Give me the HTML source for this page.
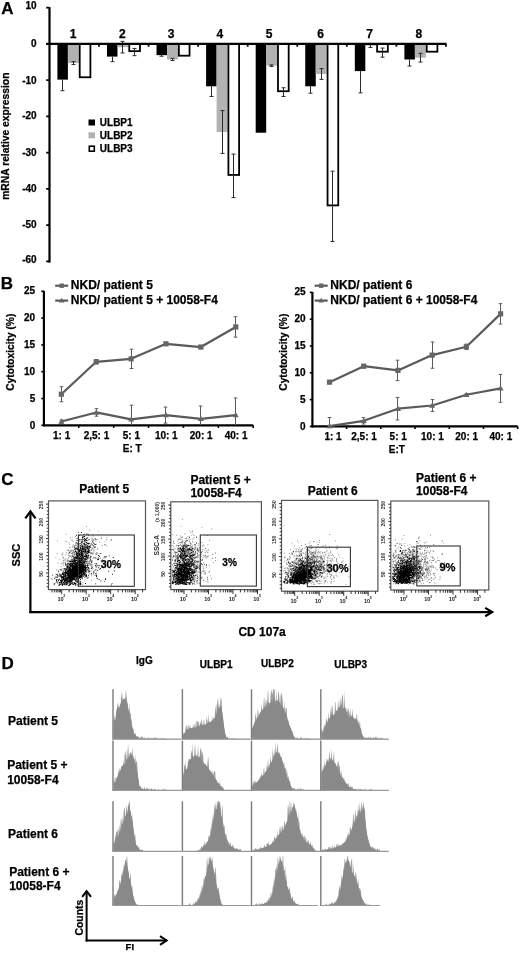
<!DOCTYPE html>
<html><head><meta charset="utf-8"><style>
html,body{margin:0;padding:0;background:#fff;}
svg{display:block;will-change:transform;}
text{font-family:"Liberation Sans",sans-serif;font-weight:bold;stroke:#000;stroke-width:0.25px;}
text[fill]{stroke:none;}
</style></head><body>
<svg width="520" height="953" viewBox="0 0 520 953">
<rect x="0" y="0" width="520" height="953" fill="#fff"/>
<text x="1.3" y="13.5" font-size="17">A</text>
<rect x="57.4" y="43.9" width="10.5" height="35.74" fill="#000"/>
<rect x="67.9" y="43.9" width="10.9" height="19.21" fill="#b2b2b2"/>
<rect x="79.7" y="43.9" width="10.7" height="33.36" fill="#fff" stroke="#000" stroke-width="1.8"/>
<rect x="106.97" y="43.9" width="10.5" height="12.69" fill="#000"/>
<rect x="117.47" y="43.9" width="10.9" height="3.26" fill="#b2b2b2"/>
<rect x="129.27" y="43.9" width="10.7" height="7.26" fill="#fff" stroke="#000" stroke-width="1.8"/>
<rect x="156.54" y="43.9" width="10.5" height="11.24" fill="#000"/>
<rect x="167.04" y="43.9" width="10.9" height="15.59" fill="#b2b2b2"/>
<rect x="178.84" y="43.9" width="10.7" height="11.79" fill="#fff" stroke="#000" stroke-width="1.8"/>
<rect x="206.11" y="43.9" width="10.5" height="42.41" fill="#000"/>
<rect x="216.61" y="43.9" width="10.9" height="88.09" fill="#b2b2b2"/>
<rect x="228.41" y="43.9" width="10.7" height="131.05" fill="#fff" stroke="#000" stroke-width="1.8"/>
<rect x="255.68" y="43.9" width="10.5" height="88.81" fill="#000"/>
<rect x="266.18" y="43.9" width="10.9" height="21.75" fill="#b2b2b2"/>
<rect x="277.98" y="43.9" width="10.7" height="47.31" fill="#fff" stroke="#000" stroke-width="1.8"/>
<rect x="305.25" y="43.9" width="10.5" height="42.41" fill="#000"/>
<rect x="315.75" y="43.9" width="10.9" height="30.09" fill="#b2b2b2"/>
<rect x="327.55" y="43.9" width="10.7" height="161.5" fill="#fff" stroke="#000" stroke-width="1.8"/>
<rect x="354.82" y="43.9" width="10.5" height="27.19" fill="#000"/>
<rect x="365.32" y="43.9" width="10.9" height="1.81" fill="#b2b2b2"/>
<rect x="377.12" y="43.9" width="10.7" height="7.8" fill="#fff" stroke="#000" stroke-width="1.8"/>
<rect x="404.39" y="43.9" width="10.5" height="15.59" fill="#000"/>
<rect x="414.89" y="43.9" width="10.9" height="13.77" fill="#b2b2b2"/>
<rect x="426.69" y="43.9" width="10.7" height="7.8" fill="#fff" stroke="#000" stroke-width="1.8"/>
<line x1="62.5" y1="79.64" x2="62.5" y2="90.7" stroke="#2a2a2a" stroke-width="1"/>
<line x1="60.5" y1="90.7" x2="64.5" y2="90.7" stroke="#2a2a2a" stroke-width="1"/>
<line x1="73.5" y1="61.66" x2="73.5" y2="64.56" stroke="#2a2a2a" stroke-width="1"/>
<line x1="71.5" y1="64.56" x2="75.5" y2="64.56" stroke="#2a2a2a" stroke-width="1"/>
<line x1="71.5" y1="61.66" x2="75.5" y2="61.66" stroke="#2a2a2a" stroke-width="1"/>
<line x1="112.5" y1="56.59" x2="112.5" y2="61.66" stroke="#2a2a2a" stroke-width="1"/>
<line x1="110.5" y1="61.66" x2="114.5" y2="61.66" stroke="#2a2a2a" stroke-width="1"/>
<line x1="122.5" y1="41.36" x2="122.5" y2="52.96" stroke="#2a2a2a" stroke-width="1"/>
<line x1="120.5" y1="52.96" x2="124.5" y2="52.96" stroke="#2a2a2a" stroke-width="1"/>
<line x1="120.5" y1="41.36" x2="124.5" y2="41.36" stroke="#2a2a2a" stroke-width="1"/>
<line x1="134.5" y1="48.43" x2="134.5" y2="55.68" stroke="#2a2a2a" stroke-width="1"/>
<line x1="132.5" y1="55.68" x2="136.5" y2="55.68" stroke="#2a2a2a" stroke-width="1"/>
<line x1="132.5" y1="48.43" x2="136.5" y2="48.43" stroke="#2a2a2a" stroke-width="1"/>
<line x1="161.5" y1="55.14" x2="161.5" y2="56.23" stroke="#2a2a2a" stroke-width="1"/>
<line x1="159.5" y1="56.23" x2="163.5" y2="56.23" stroke="#2a2a2a" stroke-width="1"/>
<line x1="172.5" y1="58.4" x2="172.5" y2="60.57" stroke="#2a2a2a" stroke-width="1"/>
<line x1="170.5" y1="60.57" x2="174.5" y2="60.57" stroke="#2a2a2a" stroke-width="1"/>
<line x1="170.5" y1="58.4" x2="174.5" y2="58.4" stroke="#2a2a2a" stroke-width="1"/>
<line x1="211.5" y1="86.31" x2="211.5" y2="96.46" stroke="#2a2a2a" stroke-width="1"/>
<line x1="209.5" y1="96.46" x2="213.5" y2="96.46" stroke="#2a2a2a" stroke-width="1"/>
<line x1="222.5" y1="110.6" x2="222.5" y2="153.38" stroke="#2a2a2a" stroke-width="1"/>
<line x1="220.5" y1="153.38" x2="224.5" y2="153.38" stroke="#2a2a2a" stroke-width="1"/>
<line x1="220.5" y1="110.6" x2="224.5" y2="110.6" stroke="#2a2a2a" stroke-width="1"/>
<line x1="233.5" y1="154.1" x2="233.5" y2="197.6" stroke="#2a2a2a" stroke-width="1"/>
<line x1="231.5" y1="197.6" x2="235.5" y2="197.6" stroke="#2a2a2a" stroke-width="1"/>
<line x1="231.5" y1="154.1" x2="235.5" y2="154.1" stroke="#2a2a2a" stroke-width="1"/>
<line x1="271.5" y1="64.93" x2="271.5" y2="66.38" stroke="#2a2a2a" stroke-width="1"/>
<line x1="269.5" y1="66.38" x2="273.5" y2="66.38" stroke="#2a2a2a" stroke-width="1"/>
<line x1="269.5" y1="64.93" x2="273.5" y2="64.93" stroke="#2a2a2a" stroke-width="1"/>
<line x1="283.5" y1="87.76" x2="283.5" y2="96.46" stroke="#2a2a2a" stroke-width="1"/>
<line x1="281.5" y1="96.46" x2="285.5" y2="96.46" stroke="#2a2a2a" stroke-width="1"/>
<line x1="281.5" y1="87.76" x2="285.5" y2="87.76" stroke="#2a2a2a" stroke-width="1"/>
<line x1="310.5" y1="86.31" x2="310.5" y2="93.2" stroke="#2a2a2a" stroke-width="1"/>
<line x1="308.5" y1="93.2" x2="312.5" y2="93.2" stroke="#2a2a2a" stroke-width="1"/>
<line x1="321.5" y1="68.55" x2="321.5" y2="79.42" stroke="#2a2a2a" stroke-width="1"/>
<line x1="319.5" y1="79.42" x2="323.5" y2="79.42" stroke="#2a2a2a" stroke-width="1"/>
<line x1="319.5" y1="68.55" x2="323.5" y2="68.55" stroke="#2a2a2a" stroke-width="1"/>
<line x1="332.5" y1="171.14" x2="332.5" y2="241.46" stroke="#2a2a2a" stroke-width="1"/>
<line x1="330.5" y1="241.46" x2="334.5" y2="241.46" stroke="#2a2a2a" stroke-width="1"/>
<line x1="330.5" y1="171.14" x2="334.5" y2="171.14" stroke="#2a2a2a" stroke-width="1"/>
<line x1="360.5" y1="71.09" x2="360.5" y2="92.84" stroke="#2a2a2a" stroke-width="1"/>
<line x1="358.5" y1="92.84" x2="362.5" y2="92.84" stroke="#2a2a2a" stroke-width="1"/>
<line x1="370.5" y1="43.9" x2="370.5" y2="47.52" stroke="#2a2a2a" stroke-width="1"/>
<line x1="368.5" y1="47.52" x2="372.5" y2="47.52" stroke="#2a2a2a" stroke-width="1"/>
<line x1="368.5" y1="43.9" x2="372.5" y2="43.9" stroke="#2a2a2a" stroke-width="1"/>
<line x1="382.5" y1="48.07" x2="382.5" y2="57.13" stroke="#2a2a2a" stroke-width="1"/>
<line x1="380.5" y1="57.13" x2="384.5" y2="57.13" stroke="#2a2a2a" stroke-width="1"/>
<line x1="380.5" y1="48.07" x2="384.5" y2="48.07" stroke="#2a2a2a" stroke-width="1"/>
<line x1="409.5" y1="59.49" x2="409.5" y2="66.01" stroke="#2a2a2a" stroke-width="1"/>
<line x1="407.5" y1="66.01" x2="411.5" y2="66.01" stroke="#2a2a2a" stroke-width="1"/>
<line x1="420.5" y1="53.32" x2="420.5" y2="62.02" stroke="#2a2a2a" stroke-width="1"/>
<line x1="418.5" y1="62.02" x2="422.5" y2="62.02" stroke="#2a2a2a" stroke-width="1"/>
<line x1="418.5" y1="53.32" x2="422.5" y2="53.32" stroke="#2a2a2a" stroke-width="1"/>
<line x1="49.5" y1="7.2" x2="49.5" y2="262.6" stroke="#000" stroke-width="2.2"/>
<line x1="46.2" y1="7.65" x2="49.5" y2="7.65" stroke="#000" stroke-width="1.8"/>
<text x="36.6" y="9.2" font-size="10" text-anchor="end">10</text>
<line x1="46.2" y1="43.9" x2="49.5" y2="43.9" stroke="#000" stroke-width="1.8"/>
<text x="36.6" y="46.5" font-size="10" text-anchor="end">0</text>
<line x1="46.2" y1="80.15" x2="49.5" y2="80.15" stroke="#000" stroke-width="1.8"/>
<text x="36.6" y="83.6" font-size="10" text-anchor="end">-10</text>
<line x1="46.2" y1="116.4" x2="49.5" y2="116.4" stroke="#000" stroke-width="1.8"/>
<text x="36.6" y="119.2" font-size="10" text-anchor="end">-20</text>
<line x1="46.2" y1="152.65" x2="49.5" y2="152.65" stroke="#000" stroke-width="1.8"/>
<text x="36.6" y="155.8" font-size="10" text-anchor="end">-30</text>
<line x1="46.2" y1="188.9" x2="49.5" y2="188.9" stroke="#000" stroke-width="1.8"/>
<text x="36.6" y="192.3" font-size="10" text-anchor="end">-40</text>
<line x1="46.2" y1="225.15" x2="49.5" y2="225.15" stroke="#000" stroke-width="1.8"/>
<text x="36.6" y="228.3" font-size="10" text-anchor="end">-50</text>
<line x1="46.2" y1="261.4" x2="49.5" y2="261.4" stroke="#000" stroke-width="1.8"/>
<text x="36.6" y="263.4" font-size="10" text-anchor="end">-60</text>
<line x1="46.2" y1="43.9" x2="446.5" y2="43.9" stroke="#000" stroke-width="2.3"/>
<line x1="98.97" y1="43.9" x2="98.97" y2="46.7" stroke="#000" stroke-width="1.8"/>
<line x1="148.54" y1="43.9" x2="148.54" y2="46.7" stroke="#000" stroke-width="1.8"/>
<line x1="198.11" y1="43.9" x2="198.11" y2="46.7" stroke="#000" stroke-width="1.8"/>
<line x1="247.68" y1="43.9" x2="247.68" y2="46.7" stroke="#000" stroke-width="1.8"/>
<line x1="297.25" y1="43.9" x2="297.25" y2="46.7" stroke="#000" stroke-width="1.8"/>
<line x1="346.82" y1="43.9" x2="346.82" y2="46.7" stroke="#000" stroke-width="1.8"/>
<line x1="396.39" y1="43.9" x2="396.39" y2="46.7" stroke="#000" stroke-width="1.8"/>
<line x1="445.96" y1="43.9" x2="445.96" y2="46.7" stroke="#000" stroke-width="1.8"/>
<text x="73.2" y="38" font-size="12" text-anchor="middle">1</text>
<text x="122.3" y="38" font-size="12" text-anchor="middle">2</text>
<text x="171" y="38" font-size="12" text-anchor="middle">3</text>
<text x="219.8" y="38" font-size="12" text-anchor="middle">4</text>
<text x="269" y="38" font-size="12" text-anchor="middle">5</text>
<text x="320.6" y="38" font-size="12" text-anchor="middle">6</text>
<text x="369.6" y="38" font-size="12" text-anchor="middle">7</text>
<text x="418.9" y="38" font-size="12" text-anchor="middle">8</text>
<text x="9.3" y="136.2" font-size="10.3" text-anchor="middle" transform="rotate(-90 9.3 136.2)">mRNA relative expression</text>
<rect x="88.5" y="119.5" width="6.5" height="6" fill="#000"/>
<rect x="88.5" y="132.3" width="6.5" height="6" fill="#b2b2b2"/>
<rect x="89.3" y="146.2" width="5" height="5" fill="#fff" stroke="#000" stroke-width="1.6"/>
<text x="99.8" y="125.8" font-size="10">ULBP1</text>
<text x="99.8" y="138.8" font-size="10">ULBP2</text>
<text x="99.8" y="151.8" font-size="10">ULBP3</text>
<text x="0.8" y="289.4" font-size="17">B</text>
<line x1="43.9" y1="290.8" x2="43.9" y2="426.3" stroke="#000" stroke-width="2.2"/>
<line x1="41.3" y1="425.3" x2="43.9" y2="425.3" stroke="#000" stroke-width="1.6"/>
<text x="35.2" y="429.05" font-size="10" text-anchor="end">0</text>
<line x1="41.3" y1="398.5" x2="43.9" y2="398.5" stroke="#000" stroke-width="1.6"/>
<text x="35.2" y="402.06" font-size="10" text-anchor="end">5</text>
<line x1="41.3" y1="371.7" x2="43.9" y2="371.7" stroke="#000" stroke-width="1.6"/>
<text x="35.2" y="375.08" font-size="10" text-anchor="end">10</text>
<line x1="41.3" y1="344.9" x2="43.9" y2="344.9" stroke="#000" stroke-width="1.6"/>
<text x="35.2" y="348.1" font-size="10" text-anchor="end">15</text>
<line x1="41.3" y1="318.1" x2="43.9" y2="318.1" stroke="#000" stroke-width="1.6"/>
<text x="35.2" y="321.11" font-size="10" text-anchor="end">20</text>
<line x1="41.3" y1="291.3" x2="43.9" y2="291.3" stroke="#000" stroke-width="1.6"/>
<text x="35.2" y="294.12" font-size="10" text-anchor="end">25</text>
<line x1="42.9" y1="425.3" x2="253.2" y2="425.3" stroke="#000" stroke-width="2.2"/>
<line x1="78.78" y1="425.3" x2="78.78" y2="427.9" stroke="#000" stroke-width="1.6"/>
<line x1="113.67" y1="425.3" x2="113.67" y2="427.9" stroke="#000" stroke-width="1.6"/>
<line x1="148.55" y1="425.3" x2="148.55" y2="427.9" stroke="#000" stroke-width="1.6"/>
<line x1="183.43" y1="425.3" x2="183.43" y2="427.9" stroke="#000" stroke-width="1.6"/>
<line x1="218.32" y1="425.3" x2="218.32" y2="427.9" stroke="#000" stroke-width="1.6"/>
<line x1="253.2" y1="425.3" x2="253.2" y2="427.9" stroke="#000" stroke-width="1.6"/>
<text x="61.64" y="438.9" font-size="10" text-anchor="middle">1: 1</text>
<text x="96.52" y="438.9" font-size="10" text-anchor="middle">2,5: 1</text>
<text x="131.41" y="438.9" font-size="10" text-anchor="middle">5: 1</text>
<text x="166.29" y="438.9" font-size="10" text-anchor="middle">10: 1</text>
<text x="201.18" y="438.9" font-size="10" text-anchor="middle">20: 1</text>
<text x="236.06" y="438.9" font-size="10" text-anchor="middle">40: 1</text>
<text x="132.3" y="452.2" font-size="10" text-anchor="middle">E: T</text>
<line x1="61.5" y1="386.71" x2="61.5" y2="401.72" stroke="#5a5a5a" stroke-width="1"/>
<line x1="59.7" y1="386.71" x2="63.3" y2="386.71" stroke="#5a5a5a" stroke-width="1"/>
<line x1="59.7" y1="401.72" x2="63.3" y2="401.72" stroke="#5a5a5a" stroke-width="1"/>
<line x1="96.5" y1="359.64" x2="96.5" y2="363.93" stroke="#5a5a5a" stroke-width="1"/>
<line x1="94.7" y1="359.64" x2="98.3" y2="359.64" stroke="#5a5a5a" stroke-width="1"/>
<line x1="94.7" y1="363.93" x2="98.3" y2="363.93" stroke="#5a5a5a" stroke-width="1"/>
<line x1="131.5" y1="349.19" x2="131.5" y2="368.48" stroke="#5a5a5a" stroke-width="1"/>
<line x1="129.7" y1="349.19" x2="133.3" y2="349.19" stroke="#5a5a5a" stroke-width="1"/>
<line x1="129.7" y1="368.48" x2="133.3" y2="368.48" stroke="#5a5a5a" stroke-width="1"/>
<line x1="165.5" y1="342.22" x2="165.5" y2="345.44" stroke="#5a5a5a" stroke-width="1"/>
<line x1="163.7" y1="342.22" x2="167.3" y2="342.22" stroke="#5a5a5a" stroke-width="1"/>
<line x1="163.7" y1="345.44" x2="167.3" y2="345.44" stroke="#5a5a5a" stroke-width="1"/>
<line x1="200.5" y1="345.44" x2="200.5" y2="348.65" stroke="#5a5a5a" stroke-width="1"/>
<line x1="198.7" y1="345.44" x2="202.3" y2="345.44" stroke="#5a5a5a" stroke-width="1"/>
<line x1="198.7" y1="348.65" x2="202.3" y2="348.65" stroke="#5a5a5a" stroke-width="1"/>
<line x1="235.5" y1="316.76" x2="235.5" y2="337.13" stroke="#5a5a5a" stroke-width="1"/>
<line x1="233.7" y1="316.76" x2="237.3" y2="316.76" stroke="#5a5a5a" stroke-width="1"/>
<line x1="233.7" y1="337.13" x2="237.3" y2="337.13" stroke="#5a5a5a" stroke-width="1"/>
<line x1="61.5" y1="419.94" x2="61.5" y2="423.16" stroke="#5a5a5a" stroke-width="1"/>
<line x1="59.7" y1="419.94" x2="63.3" y2="419.94" stroke="#5a5a5a" stroke-width="1"/>
<line x1="59.7" y1="423.16" x2="63.3" y2="423.16" stroke="#5a5a5a" stroke-width="1"/>
<line x1="96.5" y1="408.68" x2="96.5" y2="416.19" stroke="#5a5a5a" stroke-width="1"/>
<line x1="94.7" y1="408.68" x2="98.3" y2="408.68" stroke="#5a5a5a" stroke-width="1"/>
<line x1="94.7" y1="416.19" x2="98.3" y2="416.19" stroke="#5a5a5a" stroke-width="1"/>
<line x1="131.5" y1="405.2" x2="131.5" y2="425.3" stroke="#5a5a5a" stroke-width="1"/>
<line x1="129.7" y1="405.2" x2="133.3" y2="405.2" stroke="#5a5a5a" stroke-width="1"/>
<line x1="165.5" y1="407.08" x2="165.5" y2="423.16" stroke="#5a5a5a" stroke-width="1"/>
<line x1="163.7" y1="407.08" x2="167.3" y2="407.08" stroke="#5a5a5a" stroke-width="1"/>
<line x1="163.7" y1="423.16" x2="167.3" y2="423.16" stroke="#5a5a5a" stroke-width="1"/>
<line x1="200.5" y1="406" x2="200.5" y2="425.3" stroke="#5a5a5a" stroke-width="1"/>
<line x1="198.7" y1="406" x2="202.3" y2="406" stroke="#5a5a5a" stroke-width="1"/>
<line x1="235.5" y1="397.96" x2="235.5" y2="425.3" stroke="#5a5a5a" stroke-width="1"/>
<line x1="233.7" y1="397.96" x2="237.3" y2="397.96" stroke="#5a5a5a" stroke-width="1"/>
<polyline points="61.34,394.21 96.22,361.78 131.11,358.84 165.99,343.83 200.88,347.04 235.76,326.94" fill="none" stroke="#5a5a5a" stroke-width="2.2" stroke-linejoin="round"/>
<polyline points="61.34,421.55 96.22,412.44 131.11,419.4 165.99,415.12 200.88,418.87 235.76,415.12" fill="none" stroke="#5a5a5a" stroke-width="2.2" stroke-linejoin="round"/>
<rect x="58.74" y="391.61" width="5.2" height="5.2" fill="#666"/>
<rect x="93.62" y="359.18" width="5.2" height="5.2" fill="#666"/>
<rect x="128.51" y="356.24" width="5.2" height="5.2" fill="#666"/>
<rect x="163.39" y="341.23" width="5.2" height="5.2" fill="#666"/>
<rect x="198.28" y="344.44" width="5.2" height="5.2" fill="#666"/>
<rect x="233.16" y="324.34" width="5.2" height="5.2" fill="#666"/>
<path d="M61.34 418.55L64.34 423.75L58.34 423.75Z" fill="#666"/>
<path d="M96.22 409.44L99.22 414.64L93.22 414.64Z" fill="#666"/>
<path d="M131.11 416.4L134.11 421.6L128.11 421.6Z" fill="#666"/>
<path d="M165.99 412.12L168.99 417.32L162.99 417.32Z" fill="#666"/>
<path d="M200.88 415.87L203.88 421.07L197.88 421.07Z" fill="#666"/>
<path d="M235.76 412.12L238.76 417.32L232.76 417.32Z" fill="#666"/>
<line x1="55.2" y1="285.7" x2="68.2" y2="285.7" stroke="#5a5a5a" stroke-width="2.2"/>
<rect x="59.5" y="283.5" width="4.4" height="4.4" fill="#666"/>
<text x="70.8" y="289.2" font-size="12">NKD/ patient 5</text>
<line x1="55.2" y1="300.6" x2="68.2" y2="300.6" stroke="#5a5a5a" stroke-width="2.2"/>
<path d="M61.7 297.8L64.4 302.4L59 302.4Z" fill="#666"/>
<text x="70.8" y="303.9" font-size="12">NKD/ patient 5 + 10058-F4</text>
<text x="14.2" y="352.2" font-size="10.2" text-anchor="middle" transform="rotate(-90 14.2 352.2)">Cytotoxicity (%)</text>
<line x1="312.4" y1="291.9" x2="312.4" y2="427.4" stroke="#000" stroke-width="2.2"/>
<line x1="309.8" y1="426.4" x2="312.4" y2="426.4" stroke="#000" stroke-width="1.6"/>
<text x="305.5" y="430.15" font-size="10" text-anchor="end">0</text>
<line x1="309.8" y1="399.6" x2="312.4" y2="399.6" stroke="#000" stroke-width="1.6"/>
<text x="305.5" y="403.16" font-size="10" text-anchor="end">5</text>
<line x1="309.8" y1="372.8" x2="312.4" y2="372.8" stroke="#000" stroke-width="1.6"/>
<text x="305.5" y="376.18" font-size="10" text-anchor="end">10</text>
<line x1="309.8" y1="346" x2="312.4" y2="346" stroke="#000" stroke-width="1.6"/>
<text x="305.5" y="349.19" font-size="10" text-anchor="end">15</text>
<line x1="309.8" y1="319.2" x2="312.4" y2="319.2" stroke="#000" stroke-width="1.6"/>
<text x="305.5" y="322.21" font-size="10" text-anchor="end">20</text>
<line x1="309.8" y1="292.4" x2="312.4" y2="292.4" stroke="#000" stroke-width="1.6"/>
<text x="305.5" y="295.22" font-size="10" text-anchor="end">25</text>
<line x1="311.4" y1="426.4" x2="517.7" y2="426.4" stroke="#000" stroke-width="2.2"/>
<line x1="346.62" y1="426.4" x2="346.62" y2="429" stroke="#000" stroke-width="1.6"/>
<line x1="380.83" y1="426.4" x2="380.83" y2="429" stroke="#000" stroke-width="1.6"/>
<line x1="415.05" y1="426.4" x2="415.05" y2="429" stroke="#000" stroke-width="1.6"/>
<line x1="449.27" y1="426.4" x2="449.27" y2="429" stroke="#000" stroke-width="1.6"/>
<line x1="483.48" y1="426.4" x2="483.48" y2="429" stroke="#000" stroke-width="1.6"/>
<line x1="517.7" y1="426.4" x2="517.7" y2="429" stroke="#000" stroke-width="1.6"/>
<text x="333.01" y="440" font-size="10" text-anchor="middle">1: 1</text>
<text x="364.03" y="440" font-size="10" text-anchor="middle">2,5: 1</text>
<text x="398.24" y="440" font-size="10" text-anchor="middle">5: 1</text>
<text x="432.46" y="440" font-size="10" text-anchor="middle">10: 1</text>
<text x="466.68" y="440" font-size="10" text-anchor="middle">20: 1</text>
<text x="500.89" y="440" font-size="10" text-anchor="middle">40: 1</text>
<text x="396.8" y="453.3" font-size="10" text-anchor="middle">E:T</text>
<line x1="329.5" y1="380.52" x2="329.5" y2="383.73" stroke="#5a5a5a" stroke-width="1"/>
<line x1="327.7" y1="380.52" x2="331.3" y2="380.52" stroke="#5a5a5a" stroke-width="1"/>
<line x1="327.7" y1="383.73" x2="331.3" y2="383.73" stroke="#5a5a5a" stroke-width="1"/>
<line x1="363.5" y1="364.6" x2="363.5" y2="367.82" stroke="#5a5a5a" stroke-width="1"/>
<line x1="361.7" y1="364.6" x2="365.3" y2="364.6" stroke="#5a5a5a" stroke-width="1"/>
<line x1="361.7" y1="367.82" x2="365.3" y2="367.82" stroke="#5a5a5a" stroke-width="1"/>
<line x1="397.5" y1="360.2" x2="397.5" y2="380.57" stroke="#5a5a5a" stroke-width="1"/>
<line x1="395.7" y1="360.2" x2="399.3" y2="360.2" stroke="#5a5a5a" stroke-width="1"/>
<line x1="395.7" y1="380.57" x2="399.3" y2="380.57" stroke="#5a5a5a" stroke-width="1"/>
<line x1="432.5" y1="341.98" x2="432.5" y2="368.24" stroke="#5a5a5a" stroke-width="1"/>
<line x1="430.7" y1="341.98" x2="434.3" y2="341.98" stroke="#5a5a5a" stroke-width="1"/>
<line x1="430.7" y1="368.24" x2="434.3" y2="368.24" stroke="#5a5a5a" stroke-width="1"/>
<line x1="466.5" y1="344.12" x2="466.5" y2="349.48" stroke="#5a5a5a" stroke-width="1"/>
<line x1="464.7" y1="344.12" x2="468.3" y2="344.12" stroke="#5a5a5a" stroke-width="1"/>
<line x1="464.7" y1="349.48" x2="468.3" y2="349.48" stroke="#5a5a5a" stroke-width="1"/>
<line x1="500.5" y1="303.66" x2="500.5" y2="324.02" stroke="#5a5a5a" stroke-width="1"/>
<line x1="498.7" y1="303.66" x2="502.3" y2="303.66" stroke="#5a5a5a" stroke-width="1"/>
<line x1="498.7" y1="324.02" x2="502.3" y2="324.02" stroke="#5a5a5a" stroke-width="1"/>
<line x1="329.5" y1="417.5" x2="329.5" y2="426.4" stroke="#5a5a5a" stroke-width="1"/>
<line x1="327.7" y1="417.5" x2="331.3" y2="417.5" stroke="#5a5a5a" stroke-width="1"/>
<line x1="363.5" y1="417.61" x2="363.5" y2="424.04" stroke="#5a5a5a" stroke-width="1"/>
<line x1="361.7" y1="417.61" x2="365.3" y2="417.61" stroke="#5a5a5a" stroke-width="1"/>
<line x1="361.7" y1="424.04" x2="365.3" y2="424.04" stroke="#5a5a5a" stroke-width="1"/>
<line x1="397.5" y1="397.46" x2="397.5" y2="419.97" stroke="#5a5a5a" stroke-width="1"/>
<line x1="395.7" y1="397.46" x2="399.3" y2="397.46" stroke="#5a5a5a" stroke-width="1"/>
<line x1="395.7" y1="419.97" x2="399.3" y2="419.97" stroke="#5a5a5a" stroke-width="1"/>
<line x1="432.5" y1="399.6" x2="432.5" y2="411.39" stroke="#5a5a5a" stroke-width="1"/>
<line x1="430.7" y1="399.6" x2="434.3" y2="399.6" stroke="#5a5a5a" stroke-width="1"/>
<line x1="430.7" y1="411.39" x2="434.3" y2="411.39" stroke="#5a5a5a" stroke-width="1"/>
<line x1="466.5" y1="393.7" x2="466.5" y2="395.85" stroke="#5a5a5a" stroke-width="1"/>
<line x1="464.7" y1="393.7" x2="468.3" y2="393.7" stroke="#5a5a5a" stroke-width="1"/>
<line x1="464.7" y1="395.85" x2="468.3" y2="395.85" stroke="#5a5a5a" stroke-width="1"/>
<line x1="500.5" y1="374.41" x2="500.5" y2="402.28" stroke="#5a5a5a" stroke-width="1"/>
<line x1="498.7" y1="374.41" x2="502.3" y2="374.41" stroke="#5a5a5a" stroke-width="1"/>
<line x1="498.7" y1="402.28" x2="502.3" y2="402.28" stroke="#5a5a5a" stroke-width="1"/>
<polyline points="329.51,382.13 363.73,366.21 397.94,370.39 432.16,355.11 466.38,346.8 500.59,313.84" fill="none" stroke="#5a5a5a" stroke-width="2.2" stroke-linejoin="round"/>
<polyline points="329.51,426.08 363.73,420.83 397.94,408.71 432.16,405.5 466.38,394.78 500.59,388.34" fill="none" stroke="#5a5a5a" stroke-width="2.2" stroke-linejoin="round"/>
<rect x="326.91" y="379.53" width="5.2" height="5.2" fill="#666"/>
<rect x="361.12" y="363.61" width="5.2" height="5.2" fill="#666"/>
<rect x="395.34" y="367.79" width="5.2" height="5.2" fill="#666"/>
<rect x="429.56" y="352.51" width="5.2" height="5.2" fill="#666"/>
<rect x="463.77" y="344.2" width="5.2" height="5.2" fill="#666"/>
<rect x="497.99" y="311.24" width="5.2" height="5.2" fill="#666"/>
<path d="M329.51 423.08L332.51 428.28L326.51 428.28Z" fill="#666"/>
<path d="M363.73 417.83L366.73 423.03L360.73 423.03Z" fill="#666"/>
<path d="M397.94 405.71L400.94 410.91L394.94 410.91Z" fill="#666"/>
<path d="M432.16 402.5L435.16 407.7L429.16 407.7Z" fill="#666"/>
<path d="M466.38 391.78L469.38 396.98L463.38 396.98Z" fill="#666"/>
<path d="M500.59 385.34L503.59 390.54L497.59 390.54Z" fill="#666"/>
<line x1="314.7" y1="285.7" x2="327.7" y2="285.7" stroke="#5a5a5a" stroke-width="2.2"/>
<rect x="319" y="283.5" width="4.4" height="4.4" fill="#666"/>
<text x="330.3" y="289.2" font-size="12">NKD/ patient 6</text>
<line x1="314.7" y1="300.6" x2="327.7" y2="300.6" stroke="#5a5a5a" stroke-width="2.2"/>
<path d="M321.2 297.8L323.9 302.4L318.5 302.4Z" fill="#666"/>
<text x="330.3" y="303.9" font-size="12">NKD/ patient 6 + 10058-F4</text>
<text x="287.5" y="352.2" font-size="10.2" text-anchor="middle" transform="rotate(-90 287.5 352.2)">Cytotoxicity (%)</text>
<text x="1.3" y="485.4" font-size="17">C</text>
<text x="104.3" y="492.8" font-size="12" text-anchor="middle">Patient 5</text>
<text x="190.4" y="483.7" font-size="12">Patient 5 +</text>
<text x="190.4" y="497.2" font-size="12">10058-F4</text>
<text x="332.7" y="495" font-size="12" text-anchor="middle">Patient 6</text>
<text x="416.1" y="481.5" font-size="12">Patient 6 +</text>
<text x="416.1" y="495" font-size="12">10058-F4</text>
<line x1="30.4" y1="512" x2="30.4" y2="613.1" stroke="#000" stroke-width="2.2"/>
<path d="M25.3 518.3L30.4 511.4L35.5 518.3" fill="none" stroke="#000" stroke-width="2.2"/>
<line x1="29.3" y1="612.1" x2="492" y2="612.1" stroke="#000" stroke-width="2.2"/>
<path d="M485.2 607.9L492.2 612.1L485.2 616.3" fill="none" stroke="#000" stroke-width="2.2"/>
<text x="20.2" y="555.1" font-size="11" text-anchor="middle" transform="rotate(-90 20.2 555.1)">SSC</text>
<text x="262.1" y="635.8" font-size="12" text-anchor="middle">CD 107a</text>
<path d="M73.87 553.69h.9v.9h-.9zM75.66 555.45h.9v.9h-.9zM81.73 541.4h.9v.9h-.9zM86.92 567.52h.9v.9h-.9zM82.09 577.71h.9v.9h-.9zM82.3 541.77h.9v.9h-.9zM77.47 567.84h.9v.9h-.9zM70.99 552.76h.9v.9h-.9zM80.8 567.2h.9v.9h-.9zM73.26 561.78h.9v.9h-.9zM72.55 558.44h.9v.9h-.9zM76.49 575.2h.9v.9h-.9zM62.86 564.85h.9v.9h-.9zM91.18 560.88h.9v.9h-.9zM78.35 571.79h.9v.9h-.9zM68.19 553.02h.9v.9h-.9zM62.43 552.55h.9v.9h-.9zM79.18 571.61h.9v.9h-.9zM73.34 556.87h.9v.9h-.9zM80.54 568.43h.9v.9h-.9zM79.25 540.85h.9v.9h-.9zM72.22 536.66h.9v.9h-.9zM79.13 552.67h.9v.9h-.9zM71.25 582.07h.9v.9h-.9zM88.59 563.74h.9v.9h-.9zM79.42 563.96h.9v.9h-.9zM71.86 564.49h.9v.9h-.9zM93.76 546.53h.9v.9h-.9zM71.2 567.13h.9v.9h-.9zM84.82 569.16h.9v.9h-.9zM68.53 564.94h.9v.9h-.9zM74.68 550.19h.9v.9h-.9zM77.68 557.37h.9v.9h-.9zM85.06 564.6h.9v.9h-.9zM70.17 566.63h.9v.9h-.9zM73.88 557.18h.9v.9h-.9zM72.74 576.56h.9v.9h-.9zM73.38 545.36h.9v.9h-.9zM70.22 574.7h.9v.9h-.9zM95.84 543.73h.9v.9h-.9zM73.89 560.59h.9v.9h-.9zM64.68 572.4h.9v.9h-.9zM76.56 566.29h.9v.9h-.9zM96.6 552.2h.9v.9h-.9zM83.95 569.51h.9v.9h-.9zM71.44 558.64h.9v.9h-.9zM90.63 565.51h.9v.9h-.9zM78.26 550.33h.9v.9h-.9zM84.73 565.78h.9v.9h-.9zM96.23 571.72h.9v.9h-.9zM84.04 563.17h.9v.9h-.9zM77.54 556.66h.9v.9h-.9zM79.7 564.64h.9v.9h-.9zM82.71 572.81h.9v.9h-.9zM79.73 555.87h.9v.9h-.9zM84.07 577.46h.9v.9h-.9zM69.7 570.6h.9v.9h-.9zM81.8 567.05h.9v.9h-.9zM81.42 560.22h.9v.9h-.9zM76.11 582.13h.9v.9h-.9zM92.16 541.34h.9v.9h-.9zM54.8 576.76h.9v.9h-.9zM71.1 559.61h.9v.9h-.9zM63.06 572.51h.9v.9h-.9zM76.52 557.19h.9v.9h-.9zM89.9 570.9h.9v.9h-.9zM73.4 571.77h.9v.9h-.9zM76.67 576.01h.9v.9h-.9zM82.09 560.58h.9v.9h-.9zM81.84 553.08h.9v.9h-.9zM83.93 576.96h.9v.9h-.9zM73.84 570.45h.9v.9h-.9zM62.44 579.25h.9v.9h-.9zM84.68 548.58h.9v.9h-.9zM92.25 558.17h.9v.9h-.9zM61.87 553.83h.9v.9h-.9zM84.65 556.92h.9v.9h-.9zM86.65 541.9h.9v.9h-.9zM76.14 574.21h.9v.9h-.9zM71.08 572.94h.9v.9h-.9zM73.86 568.09h.9v.9h-.9zM66.17 576h.9v.9h-.9zM88.48 545.91h.9v.9h-.9zM86.18 526.34h.9v.9h-.9zM74.93 544.82h.9v.9h-.9zM79.65 553.87h.9v.9h-.9zM72.09 555.66h.9v.9h-.9zM79.57 556.79h.9v.9h-.9zM69.09 563.64h.9v.9h-.9zM80.56 552.06h.9v.9h-.9zM86.71 540.65h.9v.9h-.9zM80.57 557.25h.9v.9h-.9zM90.76 550.35h.9v.9h-.9zM71.2 550.4h.9v.9h-.9zM94.36 562.92h.9v.9h-.9zM67.52 563.06h.9v.9h-.9zM68.63 583.29h.9v.9h-.9zM80.66 538.89h.9v.9h-.9zM78.84 572.45h.9v.9h-.9zM77.02 568.26h.9v.9h-.9zM76.04 565.71h.9v.9h-.9zM78.86 554.39h.9v.9h-.9zM80.04 563.62h.9v.9h-.9zM76.67 555.53h.9v.9h-.9zM68.13 569.29h.9v.9h-.9zM84.22 533.22h.9v.9h-.9zM72.32 579.93h.9v.9h-.9zM85.01 551.87h.9v.9h-.9zM88.83 547.29h.9v.9h-.9zM73.19 562.12h.9v.9h-.9zM62.57 557.53h.9v.9h-.9zM66.72 565.58h.9v.9h-.9zM60.95 581.25h.9v.9h-.9zM73.89 557.5h.9v.9h-.9zM71.45 573.5h.9v.9h-.9zM90.42 553.1h.9v.9h-.9zM91.12 575.28h.9v.9h-.9zM88.74 561.63h.9v.9h-.9zM63.96 575.72h.9v.9h-.9zM73.42 566.6h.9v.9h-.9zM60.51 566.45h.9v.9h-.9zM79.04 551.75h.9v.9h-.9zM79.57 580.6h.9v.9h-.9zM79.02 554.56h.9v.9h-.9zM97.88 530.67h.9v.9h-.9zM68.95 570.77h.9v.9h-.9zM71.82 539.52h.9v.9h-.9zM79.28 571.35h.9v.9h-.9zM70.04 582.12h.9v.9h-.9zM81.38 574.53h.9v.9h-.9zM63.63 568.32h.9v.9h-.9zM91.02 579.86h.9v.9h-.9zM88.55 558.38h.9v.9h-.9zM78.61 555.36h.9v.9h-.9zM86.63 551.4h.9v.9h-.9zM78.08 539.55h.9v.9h-.9zM77.52 565.2h.9v.9h-.9zM57.74 570.33h.9v.9h-.9zM95.17 539.04h.9v.9h-.9zM56.14 569.54h.9v.9h-.9zM72.34 562.52h.9v.9h-.9zM65.97 552.27h.9v.9h-.9zM66.15 574.49h.9v.9h-.9zM76.58 572.35h.9v.9h-.9zM67.53 573.39h.9v.9h-.9zM73.12 565.55h.9v.9h-.9zM85.2 560.09h.9v.9h-.9zM73.91 545.63h.9v.9h-.9zM77.56 571.54h.9v.9h-.9zM71.44 564.48h.9v.9h-.9zM61.45 554.29h.9v.9h-.9zM80.55 576.09h.9v.9h-.9zM74.27 545.37h.9v.9h-.9zM73.66 546.82h.9v.9h-.9zM79.64 560.24h.9v.9h-.9zM86.14 555.09h.9v.9h-.9zM79.93 564.07h.9v.9h-.9zM80.93 544.94h.9v.9h-.9zM83.27 570.39h.9v.9h-.9zM56.87 540.61h.9v.9h-.9zM69.1 582.9h.9v.9h-.9zM77.18 570.55h.9v.9h-.9zM81.89 571.02h.9v.9h-.9zM71.36 558.67h.9v.9h-.9zM80.32 568.51h.9v.9h-.9zM82.08 564.79h.9v.9h-.9zM72.72 577.14h.9v.9h-.9zM81.17 573.3h.9v.9h-.9zM54.52 583.35h.9v.9h-.9zM55.42 574.01h.9v.9h-.9zM71.12 566.71h.9v.9h-.9zM72.79 561.19h.9v.9h-.9zM78.71 566.22h.9v.9h-.9zM69.92 537.32h.9v.9h-.9zM70.09 571.87h.9v.9h-.9zM69.53 570.82h.9v.9h-.9zM73.73 553.67h.9v.9h-.9zM87.36 577.56h.9v.9h-.9zM76.08 562.79h.9v.9h-.9zM85.5 544.61h.9v.9h-.9zM69.26 578.88h.9v.9h-.9zM85 554.23h.9v.9h-.9zM70.1 569.72h.9v.9h-.9zM64.49 562.36h.9v.9h-.9zM74.94 535.99h.9v.9h-.9zM82.25 569.55h.9v.9h-.9zM86.49 542.94h.9v.9h-.9zM65.57 558.34h.9v.9h-.9zM68.3 562.93h.9v.9h-.9zM78.84 567.43h.9v.9h-.9zM89.92 545.49h.9v.9h-.9zM84.84 561.56h.9v.9h-.9zM66.56 568.89h.9v.9h-.9zM70.49 577.02h.9v.9h-.9zM88.61 551.34h.9v.9h-.9zM68.99 567.69h.9v.9h-.9zM67.64 576.96h.9v.9h-.9zM78.57 553.7h.9v.9h-.9zM70.88 573.69h.9v.9h-.9zM69.98 563.58h.9v.9h-.9zM68.73 584.77h.9v.9h-.9zM84.36 574.86h.9v.9h-.9zM82.84 561.69h.9v.9h-.9zM92.16 564.5h.9v.9h-.9zM80.91 568h.9v.9h-.9zM83.59 563.54h.9v.9h-.9zM75.51 545.43h.9v.9h-.9zM95.44 540.81h.9v.9h-.9zM57.7 562.59h.9v.9h-.9zM94.33 569.98h.9v.9h-.9zM71.61 568.18h.9v.9h-.9zM76.78 540.45h.9v.9h-.9zM74 567.53h.9v.9h-.9zM87.51 545.07h.9v.9h-.9zM56.75 553.12h.9v.9h-.9zM79.97 562.73h.9v.9h-.9zM78.34 564.15h.9v.9h-.9zM73.71 548.72h.9v.9h-.9zM81.07 565.79h.9v.9h-.9zM82.19 575.16h.9v.9h-.9zM65.87 540.72h.9v.9h-.9zM68.79 570.85h.9v.9h-.9zM76.86 571.38h.9v.9h-.9zM105.87 545.55h.9v.9h-.9zM75.47 556.78h.9v.9h-.9zM79.21 568.07h.9v.9h-.9zM68.28 581.56h.9v.9h-.9zM87.31 563.97h.9v.9h-.9zM76.01 560.68h.9v.9h-.9zM62.21 576.42h.9v.9h-.9zM68.23 560.76h.9v.9h-.9zM85.97 548.89h.9v.9h-.9zM72.3 574.7h.9v.9h-.9zM93.71 548.41h.9v.9h-.9zM86.93 551.54h.9v.9h-.9zM80.49 567.14h.9v.9h-.9zM66.76 578.83h.9v.9h-.9zM93.19 557.12h.9v.9h-.9zM79.43 548.61h.9v.9h-.9zM93.09 557.29h.9v.9h-.9zM65.51 576.35h.9v.9h-.9zM63.85 560.4h.9v.9h-.9zM96.89 547.78h.9v.9h-.9zM71.12 558.74h.9v.9h-.9zM71.91 571.38h.9v.9h-.9zM90.13 546.22h.9v.9h-.9zM80.96 540.78h.9v.9h-.9zM90.71 556.5h.9v.9h-.9zM70.7 583.05h.9v.9h-.9zM76.05 579.06h.9v.9h-.9zM86.67 578.1h.9v.9h-.9zM69.8 566.53h.9v.9h-.9zM80.31 559.46h.9v.9h-.9zM90.71 549.34h.9v.9h-.9zM86.02 575h.9v.9h-.9zM59.42 558.93h.9v.9h-.9zM68.87 560h.9v.9h-.9zM80.51 559.61h.9v.9h-.9zM77.71 557.46h.9v.9h-.9zM76.26 568.84h.9v.9h-.9zM83.71 551.37h.9v.9h-.9zM75.98 554.69h.9v.9h-.9zM75.39 547.21h.9v.9h-.9zM85.59 567.25h.9v.9h-.9zM75.9 555.61h.9v.9h-.9zM72.89 557.03h.9v.9h-.9zM106.61 537.08h.9v.9h-.9zM66.5 573.82h.9v.9h-.9zM82.45 542.81h.9v.9h-.9zM59.71 576.12h.9v.9h-.9zM72.54 565.76h.9v.9h-.9zM76.97 556.61h.9v.9h-.9zM75.72 560.08h.9v.9h-.9zM88.2 557.47h.9v.9h-.9zM76.71 557.06h.9v.9h-.9zM71.29 556.85h.9v.9h-.9zM77.09 583.99h.9v.9h-.9zM87.04 561.69h.9v.9h-.9zM92.02 568.6h.9v.9h-.9zM78.87 560.37h.9v.9h-.9zM67.12 569.8h.9v.9h-.9zM74.16 545.99h.9v.9h-.9zM78.93 567.93h.9v.9h-.9zM78.8 556.96h.9v.9h-.9zM81.15 573.74h.9v.9h-.9zM74.22 569.98h.9v.9h-.9zM86.23 553.78h.9v.9h-.9zM78.53 553.92h.9v.9h-.9zM82.43 556.6h.9v.9h-.9zM87.32 550.13h.9v.9h-.9zM92.2 553.36h.9v.9h-.9zM69.44 555.68h.9v.9h-.9zM82.96 550.81h.9v.9h-.9zM93.24 571.18h.9v.9h-.9zM81.66 544.85h.9v.9h-.9zM76.78 554.77h.9v.9h-.9zM60.7 574.39h.9v.9h-.9zM96.81 548.94h.9v.9h-.9zM84.28 574.78h.9v.9h-.9zM68.35 562.57h.9v.9h-.9zM79.42 567.44h.9v.9h-.9zM66.69 569.6h.9v.9h-.9zM76.04 574.28h.9v.9h-.9zM62.62 562.29h.9v.9h-.9zM72.47 561.19h.9v.9h-.9zM83.5 553.21h.9v.9h-.9zM101.64 545.05h.9v.9h-.9zM84.56 571.65h.9v.9h-.9zM85.68 557.19h.9v.9h-.9zM69.53 563.07h.9v.9h-.9zM82.99 561.99h.9v.9h-.9zM82.24 567.48h.9v.9h-.9zM69.04 555.48h.9v.9h-.9zM89.97 552.25h.9v.9h-.9zM69.5 555.31h.9v.9h-.9zM85.71 546.56h.9v.9h-.9zM69.16 578.13h.9v.9h-.9zM78.16 563.17h.9v.9h-.9zM71.23 562.76h.9v.9h-.9zM72.49 564.53h.9v.9h-.9zM83.95 545.67h.9v.9h-.9zM68.74 542.34h.9v.9h-.9zM90.54 556.73h.9v.9h-.9zM76.88 562.38h.9v.9h-.9zM86.04 563.06h.9v.9h-.9zM84.65 558.02h.9v.9h-.9zM75.91 562.8h.9v.9h-.9zM60.24 582.18h.9v.9h-.9zM62.8 557.3h.9v.9h-.9zM83.04 561.22h.9v.9h-.9zM84.31 579.6h.9v.9h-.9zM93.76 572.12h.9v.9h-.9zM69.08 565.18h.9v.9h-.9zM85.97 556.97h.9v.9h-.9zM75.91 559.39h.9v.9h-.9zM89.28 529.84h.9v.9h-.9zM88.45 570.55h.9v.9h-.9zM76.35 569.68h.9v.9h-.9zM68.28 579.18h.9v.9h-.9zM104.54 541.46h.9v.9h-.9zM89.57 557.33h.9v.9h-.9zM73.96 558.64h.9v.9h-.9zM75.29 549.35h.9v.9h-.9zM76.84 569.39h.9v.9h-.9zM79.79 567.34h.9v.9h-.9zM63.27 557.63h.9v.9h-.9zM82.7 572.15h.9v.9h-.9zM66.7 560.5h.9v.9h-.9zM67.38 574.32h.9v.9h-.9zM80.1 562.14h.9v.9h-.9zM71.15 569.27h.9v.9h-.9zM77.29 554.37h.9v.9h-.9zM80 554.19h.9v.9h-.9zM85.57 566.74h.9v.9h-.9zM70.81 572.2h.9v.9h-.9zM77.61 554.68h.9v.9h-.9zM68.77 547.26h.9v.9h-.9zM66.82 571.04h.9v.9h-.9zM87.87 551.46h.9v.9h-.9zM78.44 566.37h.9v.9h-.9zM84.03 565.26h.9v.9h-.9zM88.04 567.35h.9v.9h-.9zM70.14 570.28h.9v.9h-.9zM55.92 569.38h.9v.9h-.9zM77.18 569.56h.9v.9h-.9zM74.28 573.62h.9v.9h-.9zM88.89 548.64h.9v.9h-.9zM72.11 567.94h.9v.9h-.9zM81.41 562.88h.9v.9h-.9zM84.48 546.47h.9v.9h-.9zM83.98 573.56h.9v.9h-.9zM86.99 563.89h.9v.9h-.9zM74.86 568.43h.9v.9h-.9zM76.33 545.11h.9v.9h-.9zM71.55 564.72h.9v.9h-.9zM72.36 554.18h.9v.9h-.9zM74.91 559.58h.9v.9h-.9zM77.62 562.19h.9v.9h-.9zM78.55 573.75h.9v.9h-.9zM78.23 567.16h.9v.9h-.9zM66 533.66h.9v.9h-.9zM73.4 572.19h.9v.9h-.9zM73.95 557.09h.9v.9h-.9zM65.84 577.67h.9v.9h-.9zM72.25 567.71h.9v.9h-.9zM87.18 565.07h.9v.9h-.9zM97.19 553.41h.9v.9h-.9zM85.61 567.5h.9v.9h-.9zM71.1 565.9h.9v.9h-.9zM71.92 553.3h.9v.9h-.9zM79.7 553.05h.9v.9h-.9zM92.12 548.47h.9v.9h-.9zM72.1 566.01h.9v.9h-.9zM72.33 565.48h.9v.9h-.9zM71.53 548.91h.9v.9h-.9zM55.29 556.92h.9v.9h-.9zM90.69 562.61h.9v.9h-.9zM78.38 557.13h.9v.9h-.9zM75.69 566.95h.9v.9h-.9zM64.5 558.86h.9v.9h-.9zM68.99 580.62h.9v.9h-.9zM67.49 580.23h.9v.9h-.9zM76.29 563.65h.9v.9h-.9zM89.16 568.15h.9v.9h-.9zM85.45 547.38h.9v.9h-.9zM87.22 578.14h.9v.9h-.9zM76.08 557.83h.9v.9h-.9zM67.18 578.58h.9v.9h-.9zM79.65 562.02h.9v.9h-.9zM84.88 559.62h.9v.9h-.9zM90.29 546.8h.9v.9h-.9zM84.93 548.39h.9v.9h-.9zM89.7 554.77h.9v.9h-.9zM88.01 553.84h.9v.9h-.9zM80.59 574.64h.9v.9h-.9zM68.88 567.36h.9v.9h-.9zM69.46 575.77h.9v.9h-.9zM71.57 560.91h.9v.9h-.9zM75.18 577.06h.9v.9h-.9zM67.63 566.46h.9v.9h-.9zM74.04 557.89h.9v.9h-.9zM69.91 564.01h.9v.9h-.9zM78.76 544.58h.9v.9h-.9zM79.1 548.6h.9v.9h-.9zM68.29 565.73h.9v.9h-.9zM74.71 575.15h.9v.9h-.9zM72.73 544.27h.9v.9h-.9zM62.5 570.83h.9v.9h-.9zM79.28 574.3h.9v.9h-.9zM72.17 572.56h.9v.9h-.9zM67.42 581.66h.9v.9h-.9zM76.36 555.49h.9v.9h-.9zM78.6 582.31h.9v.9h-.9zM69.37 551.86h.9v.9h-.9zM67.86 553.43h.9v.9h-.9zM76.54 567.2h.9v.9h-.9zM75.52 565.85h.9v.9h-.9zM87.67 555.43h.9v.9h-.9zM65.73 541.35h.9v.9h-.9zM79.18 554.35h.9v.9h-.9zM74.76 568.59h.9v.9h-.9zM81.16 543.39h.9v.9h-.9zM68.39 567.3h.9v.9h-.9zM75.71 576.65h.9v.9h-.9zM72.48 541.17h.9v.9h-.9zM87.53 540.06h.9v.9h-.9zM68.27 570.95h.9v.9h-.9zM79.14 568.27h.9v.9h-.9zM81.86 552.85h.9v.9h-.9zM88.29 539.15h.9v.9h-.9zM71.72 568.41h.9v.9h-.9zM78.24 551.52h.9v.9h-.9zM91.22 574.16h.9v.9h-.9zM68.59 570.64h.9v.9h-.9zM71.29 560.33h.9v.9h-.9zM85.88 560.89h.9v.9h-.9zM76.02 564.57h.9v.9h-.9zM66.45 581.2h.9v.9h-.9zM70.24 580.68h.9v.9h-.9zM72.88 559.43h.9v.9h-.9zM90.37 559.84h.9v.9h-.9zM71.25 559.17h.9v.9h-.9zM82.45 582.24h.9v.9h-.9zM82.52 556.29h.9v.9h-.9zM66.91 559.34h.9v.9h-.9zM75.93 566.23h.9v.9h-.9zM71.1 580.01h.9v.9h-.9zM68.38 558.28h.9v.9h-.9zM81.48 566.72h.9v.9h-.9zM73.49 575.41h.9v.9h-.9zM96.68 577.48h.9v.9h-.9zM77.48 578.02h.9v.9h-.9zM75.21 565.94h.9v.9h-.9zM81.72 541.12h.9v.9h-.9zM75.13 583.41h.9v.9h-.9zM50.7 577.93h.9v.9h-.9zM85.3 563.43h.9v.9h-.9zM78.75 578.18h.9v.9h-.9zM80.02 540.13h.9v.9h-.9zM68.5 563.01h.9v.9h-.9zM78.3 557.36h.9v.9h-.9zM76.06 582.47h.9v.9h-.9zM85.43 566.52h.9v.9h-.9zM77.14 563.67h.9v.9h-.9zM80.27 564.46h.9v.9h-.9zM70.49 574.54h.9v.9h-.9zM69.57 565.51h.9v.9h-.9zM73.78 551.12h.9v.9h-.9zM82.44 560.03h.9v.9h-.9zM66.52 566.3h.9v.9h-.9zM64.61 584.36h.9v.9h-.9zM81.64 583.85h.9v.9h-.9zM71.9 573.11h.9v.9h-.9zM68.3 556.75h.9v.9h-.9zM76.2 568.02h.9v.9h-.9zM85.3 556.63h.9v.9h-.9zM86.9 570.06h.9v.9h-.9zM69.14 564.11h.9v.9h-.9zM72.06 575.08h.9v.9h-.9zM85.21 556.82h.9v.9h-.9zM72.63 568.68h.9v.9h-.9zM70.05 551.35h.9v.9h-.9zM68.33 570.33h.9v.9h-.9zM78.72 582.41h.9v.9h-.9zM60.61 575.29h.9v.9h-.9zM66.65 580.31h.9v.9h-.9zM83.24 561.95h.9v.9h-.9zM90.21 553.47h.9v.9h-.9zM72.25 552.92h.9v.9h-.9zM71.12 566.67h.9v.9h-.9zM83.03 575.18h.9v.9h-.9zM74.59 555.65h.9v.9h-.9zM74 559.31h.9v.9h-.9zM72.81 560.09h.9v.9h-.9zM69.2 565.52h.9v.9h-.9zM72.41 562.91h.9v.9h-.9zM64.61 569.61h.9v.9h-.9zM82.12 568.32h.9v.9h-.9zM72.09 552h.9v.9h-.9zM65.36 554.32h.9v.9h-.9zM71.25 561.78h.9v.9h-.9zM61.15 576.96h.9v.9h-.9zM63.25 560.71h.9v.9h-.9zM70.55 575h.9v.9h-.9zM93.43 552.42h.9v.9h-.9zM74.55 559.53h.9v.9h-.9zM75.22 561.79h.9v.9h-.9zM99.03 541.84h.9v.9h-.9zM76.03 554.44h.9v.9h-.9zM80.18 555.83h.9v.9h-.9zM82.13 548.69h.9v.9h-.9zM95.83 557.85h.9v.9h-.9zM61.24 577.24h.9v.9h-.9zM72.81 551.59h.9v.9h-.9zM80.94 555.56h.9v.9h-.9zM83.58 554.17h.9v.9h-.9zM85.04 561.47h.9v.9h-.9zM80.19 563.51h.9v.9h-.9zM73.75 560.21h.9v.9h-.9zM81.03 569.42h.9v.9h-.9zM92.06 544.02h.9v.9h-.9zM86.67 558.34h.9v.9h-.9zM79.07 553.26h.9v.9h-.9zM91.7 547.81h.9v.9h-.9zM76.28 555.11h.9v.9h-.9zM94.2 570.29h.9v.9h-.9zM65.27 562.62h.9v.9h-.9zM80.24 556.85h.9v.9h-.9zM73.85 552.12h.9v.9h-.9zM79.23 549.8h.9v.9h-.9zM74.11 582.72h.9v.9h-.9zM80.32 554.14h.9v.9h-.9zM73.94 553.41h.9v.9h-.9zM78.02 570.5h.9v.9h-.9zM85.27 556.57h.9v.9h-.9zM66.4 566.4h.9v.9h-.9zM91.85 560.24h.9v.9h-.9zM76.44 539.85h.9v.9h-.9zM73.16 570.68h.9v.9h-.9zM68.6 581.57h.9v.9h-.9zM71.98 555.22h.9v.9h-.9zM71.86 564.04h.9v.9h-.9zM85.87 553.12h.9v.9h-.9zM61.19 568.46h.9v.9h-.9zM81.64 578.5h.9v.9h-.9zM67.05 583.67h.9v.9h-.9zM83 565.74h.9v.9h-.9zM70.2 555.83h.9v.9h-.9zM68.53 576.9h.9v.9h-.9zM78.94 574.25h.9v.9h-.9zM93.11 556.8h.9v.9h-.9zM76.58 584.74h.9v.9h-.9zM65.44 562.63h.9v.9h-.9zM73.73 560.09h.9v.9h-.9zM78.27 553.12h.9v.9h-.9zM87.29 543.61h.9v.9h-.9zM69.79 546.96h.9v.9h-.9zM64.59 574.6h.9v.9h-.9zM82.57 558.6h.9v.9h-.9zM84.48 566.99h.9v.9h-.9zM71.89 564.65h.9v.9h-.9zM80.25 584.3h.9v.9h-.9zM73.1 568.77h.9v.9h-.9zM81.83 574.78h.9v.9h-.9zM80.76 573.58h.9v.9h-.9zM67.58 563.87h.9v.9h-.9zM59.87 569.35h.9v.9h-.9zM97.64 557.51h.9v.9h-.9zM77.79 565.72h.9v.9h-.9zM78.29 547.7h.9v.9h-.9zM70.87 563.56h.9v.9h-.9zM78.49 552.8h.9v.9h-.9zM76.06 555.22h.9v.9h-.9zM65.33 560.36h.9v.9h-.9zM69.88 575.3h.9v.9h-.9zM88.85 564.81h.9v.9h-.9zM75.13 557.59h.9v.9h-.9zM63.11 562.73h.9v.9h-.9zM90.84 570.44h.9v.9h-.9zM78.99 559.52h.9v.9h-.9zM77.04 567.78h.9v.9h-.9zM76.94 567.89h.9v.9h-.9zM70.18 566.31h.9v.9h-.9zM73.9 576.35h.9v.9h-.9zM66.03 581.96h.9v.9h-.9zM76.24 557.75h.9v.9h-.9zM77.19 564.38h.9v.9h-.9zM74.94 568.63h.9v.9h-.9zM71.89 546.2h.9v.9h-.9zM83.16 560.33h.9v.9h-.9zM91.74 561.5h.9v.9h-.9zM59.3 584.02h.9v.9h-.9zM70.92 571.63h.9v.9h-.9zM96.64 567.42h.9v.9h-.9zM67.33 565.93h.9v.9h-.9zM62.79 576.23h.9v.9h-.9zM81.98 549.64h.9v.9h-.9zM81.01 571.92h.9v.9h-.9zM84.15 552.75h.9v.9h-.9zM70.88 553.02h.9v.9h-.9zM65.57 571.17h.9v.9h-.9zM77.35 577.47h.9v.9h-.9zM79.42 558.52h.9v.9h-.9zM78.46 562.16h.9v.9h-.9zM68.12 554.96h.9v.9h-.9zM82.6 550.01h.9v.9h-.9zM82.17 568.02h.9v.9h-.9zM73.63 546.37h.9v.9h-.9zM80.63 577.3h.9v.9h-.9zM69.71 551.95h.9v.9h-.9zM86.62 560.85h.9v.9h-.9zM71.49 578.96h.9v.9h-.9zM74.56 569.1h.9v.9h-.9zM73.45 556.16h.9v.9h-.9zM78.94 552.76h.9v.9h-.9zM61.32 563.36h.9v.9h-.9zM87.91 570.96h.9v.9h-.9zM96.21 566.47h.9v.9h-.9zM91.26 560.19h.9v.9h-.9zM73.16 569.83h.9v.9h-.9zM68.61 574.63h.9v.9h-.9zM73.04 567.56h.9v.9h-.9zM69.47 564.63h.9v.9h-.9zM85.66 557.24h.9v.9h-.9zM71.05 568.64h.9v.9h-.9zM84.78 557.92h.9v.9h-.9zM66.68 549.92h.9v.9h-.9zM65.17 579.68h.9v.9h-.9zM76.22 568.74h.9v.9h-.9zM86.48 562.48h.9v.9h-.9zM81.26 555.81h.9v.9h-.9zM62.79 575.78h.9v.9h-.9zM76.15 569.84h.9v.9h-.9zM67.6 565.31h.9v.9h-.9zM94.79 546.68h.9v.9h-.9zM77.87 577.3h.9v.9h-.9zM74.96 565.33h.9v.9h-.9zM58.2 579.24h.9v.9h-.9zM73.11 578.93h.9v.9h-.9zM76.2 559.32h.9v.9h-.9zM80.85 558.94h.9v.9h-.9zM72.46 582.03h.9v.9h-.9zM85.67 560.88h.9v.9h-.9zM84.13 569.41h.9v.9h-.9zM82.13 561.6h.9v.9h-.9zM77.64 567.39h.9v.9h-.9zM81.99 565.06h.9v.9h-.9zM72.15 564.25h.9v.9h-.9zM81.04 550.66h.9v.9h-.9zM76.92 571.53h.9v.9h-.9zM78.49 559.4h.9v.9h-.9zM76.8 557.9h.9v.9h-.9zM85.67 555.53h.9v.9h-.9zM62.32 555.72h.9v.9h-.9zM79.64 564.4h.9v.9h-.9zM72.84 550.38h.9v.9h-.9zM75.68 554.44h.9v.9h-.9zM71.22 565.46h.9v.9h-.9zM70.24 569.29h.9v.9h-.9zM70.49 560.66h.9v.9h-.9zM75 580.02h.9v.9h-.9zM90.9 567.98h.9v.9h-.9zM70.51 565.81h.9v.9h-.9zM85.05 568.8h.9v.9h-.9zM62.65 568.29h.9v.9h-.9zM70.49 574.01h.9v.9h-.9zM82.62 555.03h.9v.9h-.9zM95.88 552.58h.9v.9h-.9zM98.52 552.71h.9v.9h-.9zM76.25 584.28h.9v.9h-.9zM72.36 559.85h.9v.9h-.9zM90 557.54h.9v.9h-.9zM81.21 547.7h.9v.9h-.9zM92.76 567.64h.9v.9h-.9zM80.15 569.65h.9v.9h-.9zM72.6 559.75h.9v.9h-.9zM63.16 572.76h.9v.9h-.9zM87.9 568.19h.9v.9h-.9zM85.1 567.7h.9v.9h-.9zM68.9 552.16h.9v.9h-.9zM82.65 562.74h.9v.9h-.9zM85.68 556.7h.9v.9h-.9zM69.23 571.15h.9v.9h-.9zM72.1 547.22h.9v.9h-.9zM71.64 555.74h.9v.9h-.9zM67.18 561.1h.9v.9h-.9zM92.22 552.57h.9v.9h-.9zM87.06 558.38h.9v.9h-.9zM80.55 554.38h.9v.9h-.9zM76.35 545.14h.9v.9h-.9zM92.79 548.53h.9v.9h-.9zM82.16 554.72h.9v.9h-.9zM79.38 549.4h.9v.9h-.9zM73.7 574.46h.9v.9h-.9zM82.23 539.92h.9v.9h-.9zM84.5 545.89h.9v.9h-.9zM79.51 567.84h.9v.9h-.9zM71.35 561.99h.9v.9h-.9zM74.83 568.42h.9v.9h-.9zM85.05 574.81h.9v.9h-.9zM79.88 583.76h.9v.9h-.9zM74.69 572.47h.9v.9h-.9zM75.89 564.54h.9v.9h-.9zM68.91 570.64h.9v.9h-.9zM94.84 557.67h.9v.9h-.9zM76.81 563.31h.9v.9h-.9zM83.28 558.46h.9v.9h-.9zM76.96 565.55h.9v.9h-.9zM88.48 568.95h.9v.9h-.9zM67.73 560.03h.9v.9h-.9zM77.18 572.34h.9v.9h-.9zM85.53 557.52h.9v.9h-.9zM95.74 553.92h.9v.9h-.9zM89.39 573.72h.9v.9h-.9zM91.06 559.75h.9v.9h-.9zM82.08 544.54h.9v.9h-.9zM61.32 562.82h.9v.9h-.9zM83.34 572.23h.9v.9h-.9zM76.1 574.86h.9v.9h-.9zM82.09 577.72h.9v.9h-.9zM62.98 559.79h.9v.9h-.9zM68.57 555.21h.9v.9h-.9zM91.52 547.32h.9v.9h-.9zM69.7 561.78h.9v.9h-.9zM84.79 555.05h.9v.9h-.9zM83.49 566.57h.9v.9h-.9zM71.36 539.75h.9v.9h-.9zM68.92 552.86h.9v.9h-.9zM91.42 549.61h.9v.9h-.9zM67.56 571.06h.9v.9h-.9zM77.48 552.82h.9v.9h-.9zM86.65 569.27h.9v.9h-.9zM79.46 553.95h.9v.9h-.9zM69.31 543.97h.9v.9h-.9zM80.38 566.09h.9v.9h-.9zM68.89 566.7h.9v.9h-.9zM105.91 539.34h.9v.9h-.9zM61.95 575.83h.9v.9h-.9zM73.24 559.3h.9v.9h-.9zM82.49 559.56h.9v.9h-.9zM85.77 565.27h.9v.9h-.9zM87.24 560.37h.9v.9h-.9zM61.99 580.51h.9v.9h-.9zM79.22 547.17h.9v.9h-.9zM77.59 572.5h.9v.9h-.9zM67.99 567.22h.9v.9h-.9z" fill="#8a8a8a"/>
<path d="M73.64 573.86h.9v.9h-.9zM73.8 570.01h.9v.9h-.9zM70.07 571.88h.9v.9h-.9zM80.89 570.72h.9v.9h-.9zM80.5 570.07h.9v.9h-.9zM77.09 571.06h.9v.9h-.9zM66.17 578.25h.9v.9h-.9zM77.68 572.27h.9v.9h-.9zM66.04 566.39h.9v.9h-.9zM70.29 570.63h.9v.9h-.9zM76.62 570.18h.9v.9h-.9zM77.76 567.01h.9v.9h-.9zM76.64 572.19h.9v.9h-.9zM71.5 580.19h.9v.9h-.9zM77.95 575.37h.9v.9h-.9zM71.71 568.85h.9v.9h-.9zM73.18 571.2h.9v.9h-.9zM78.35 570.87h.9v.9h-.9zM72.63 567.51h.9v.9h-.9zM72.24 577.64h.9v.9h-.9zM70.72 573.74h.9v.9h-.9zM77.26 563.32h.9v.9h-.9zM75.26 576.89h.9v.9h-.9zM64.32 573.55h.9v.9h-.9zM74.44 567.47h.9v.9h-.9zM77.64 569.72h.9v.9h-.9zM67.24 577.72h.9v.9h-.9zM78.55 574h.9v.9h-.9zM82.64 569.78h.9v.9h-.9zM75.63 564.81h.9v.9h-.9zM78.26 566.97h.9v.9h-.9zM72.6 566.11h.9v.9h-.9zM69.87 570.5h.9v.9h-.9zM81.83 559.11h.9v.9h-.9zM67.27 575.01h.9v.9h-.9zM82.65 570.76h.9v.9h-.9zM64.93 563.26h.9v.9h-.9zM76.89 566.91h.9v.9h-.9zM69.07 577.72h.9v.9h-.9zM80.84 569.52h.9v.9h-.9zM76.3 572.5h.9v.9h-.9zM83.45 570.65h.9v.9h-.9zM77.75 572.47h.9v.9h-.9zM66.69 580.01h.9v.9h-.9zM80.06 571.52h.9v.9h-.9zM64.54 572.04h.9v.9h-.9zM79.46 561.02h.9v.9h-.9zM74.02 576.04h.9v.9h-.9zM68.05 581h.9v.9h-.9zM77.93 569.21h.9v.9h-.9zM76.72 573.33h.9v.9h-.9zM75.64 576.01h.9v.9h-.9zM71.49 570.42h.9v.9h-.9zM80.52 569.04h.9v.9h-.9zM70.33 577.1h.9v.9h-.9zM82.77 566.03h.9v.9h-.9zM67.69 573.14h.9v.9h-.9zM74.21 569.93h.9v.9h-.9zM82.45 563.48h.9v.9h-.9zM81.68 562.67h.9v.9h-.9zM70.83 575.47h.9v.9h-.9zM80.98 572.68h.9v.9h-.9zM76.83 570.96h.9v.9h-.9zM75.81 573.33h.9v.9h-.9zM74.07 572.62h.9v.9h-.9zM78.04 569.86h.9v.9h-.9zM79.05 572.07h.9v.9h-.9zM85.66 568.47h.9v.9h-.9zM72.73 570.15h.9v.9h-.9zM74.93 575.26h.9v.9h-.9zM73.22 573.44h.9v.9h-.9zM84.74 555.57h.9v.9h-.9zM69.04 574.37h.9v.9h-.9zM77.11 571.3h.9v.9h-.9zM72.71 574.86h.9v.9h-.9zM76.5 568.04h.9v.9h-.9zM87.88 567.77h.9v.9h-.9zM72.06 571.65h.9v.9h-.9zM73.8 571.16h.9v.9h-.9zM60.54 574.22h.9v.9h-.9zM80.35 563.63h.9v.9h-.9zM74.65 575.5h.9v.9h-.9zM79.54 576.12h.9v.9h-.9zM65.98 572.78h.9v.9h-.9zM73.19 574.54h.9v.9h-.9zM80.79 556.52h.9v.9h-.9zM80.77 562.19h.9v.9h-.9zM78.62 562.8h.9v.9h-.9zM75.93 576.12h.9v.9h-.9zM74.21 572.17h.9v.9h-.9zM79.22 570.05h.9v.9h-.9zM74.53 578.2h.9v.9h-.9zM80.56 567.56h.9v.9h-.9zM89.55 560.25h.9v.9h-.9zM79.85 567.95h.9v.9h-.9zM75.7 573.97h.9v.9h-.9zM76.18 573.48h.9v.9h-.9zM66.91 567.14h.9v.9h-.9zM78.26 565.36h.9v.9h-.9zM69.56 566.32h.9v.9h-.9zM81.71 571.89h.9v.9h-.9zM82.81 563.76h.9v.9h-.9zM75.01 565.77h.9v.9h-.9zM79.06 576.75h.9v.9h-.9zM70.28 579.93h.9v.9h-.9zM80.24 568.21h.9v.9h-.9zM64.55 581.39h.9v.9h-.9zM74.49 568.43h.9v.9h-.9zM77.12 572.08h.9v.9h-.9zM82.94 563.33h.9v.9h-.9zM81.02 575.54h.9v.9h-.9zM82.7 567.27h.9v.9h-.9zM71.06 577.16h.9v.9h-.9zM75.61 571.34h.9v.9h-.9zM82.55 566.94h.9v.9h-.9zM62.83 573.82h.9v.9h-.9zM65.17 578.46h.9v.9h-.9zM76.68 567.57h.9v.9h-.9zM74.95 574.83h.9v.9h-.9zM75.42 576.92h.9v.9h-.9zM74.68 575.89h.9v.9h-.9zM82.9 575.39h.9v.9h-.9zM71.44 576.38h.9v.9h-.9zM65.06 569.79h.9v.9h-.9zM64.6 579.82h.9v.9h-.9zM68.47 573.41h.9v.9h-.9zM73.98 571.25h.9v.9h-.9zM71.86 573.25h.9v.9h-.9zM84.49 567.62h.9v.9h-.9zM77.81 574.52h.9v.9h-.9zM73.95 565.62h.9v.9h-.9zM72.06 577.03h.9v.9h-.9zM66.28 571.55h.9v.9h-.9zM80.34 572.62h.9v.9h-.9zM75.04 574.67h.9v.9h-.9zM75.88 565.27h.9v.9h-.9zM66.71 571.2h.9v.9h-.9zM79.89 566.56h.9v.9h-.9zM70.22 569.27h.9v.9h-.9zM66.88 573.53h.9v.9h-.9zM68.75 575.03h.9v.9h-.9zM62.49 577.22h.9v.9h-.9zM71.6 563.38h.9v.9h-.9zM78.84 568.29h.9v.9h-.9zM63.18 571.45h.9v.9h-.9zM76.54 568.32h.9v.9h-.9zM79.13 572.87h.9v.9h-.9zM78.53 571.16h.9v.9h-.9zM82.07 571.36h.9v.9h-.9zM77.39 560.55h.9v.9h-.9zM79.75 575.21h.9v.9h-.9zM73.43 569.44h.9v.9h-.9zM85.28 559.06h.9v.9h-.9zM77.48 581.17h.9v.9h-.9zM70.08 576.02h.9v.9h-.9zM85 566.68h.9v.9h-.9zM77.97 574.01h.9v.9h-.9zM70.2 572.4h.9v.9h-.9zM76.55 574.2h.9v.9h-.9zM74.82 570.17h.9v.9h-.9zM69.61 571.39h.9v.9h-.9zM79.73 569.68h.9v.9h-.9zM70.48 568.85h.9v.9h-.9zM89.13 570.89h.9v.9h-.9zM78.38 557.84h.9v.9h-.9zM78.29 571.96h.9v.9h-.9zM83.93 569.59h.9v.9h-.9zM74.64 573.53h.9v.9h-.9zM64.7 579.62h.9v.9h-.9zM76.72 567.13h.9v.9h-.9zM82.03 576.64h.9v.9h-.9zM67.57 570.75h.9v.9h-.9zM76.54 571.26h.9v.9h-.9zM72.89 567.33h.9v.9h-.9zM86.24 571.51h.9v.9h-.9zM68.67 567.22h.9v.9h-.9zM84.03 572.13h.9v.9h-.9zM84.65 571.07h.9v.9h-.9zM70.38 573.94h.9v.9h-.9zM63.55 571.89h.9v.9h-.9zM74.69 573.51h.9v.9h-.9zM71.14 571.89h.9v.9h-.9zM77.43 571.81h.9v.9h-.9zM78.38 570.68h.9v.9h-.9zM73.28 575.26h.9v.9h-.9zM75.26 567.12h.9v.9h-.9zM71.68 572.25h.9v.9h-.9zM74.42 571.94h.9v.9h-.9zM75 571.81h.9v.9h-.9zM74.29 565.5h.9v.9h-.9zM77.23 574.99h.9v.9h-.9zM77.3 569.26h.9v.9h-.9zM77.37 565.68h.9v.9h-.9zM64.95 575.07h.9v.9h-.9zM70.07 576.25h.9v.9h-.9zM69.25 561.12h.9v.9h-.9zM69.49 580.31h.9v.9h-.9zM72.98 565.49h.9v.9h-.9zM70.95 574.91h.9v.9h-.9zM77.63 570.82h.9v.9h-.9zM82.86 571.27h.9v.9h-.9zM74.89 573.78h.9v.9h-.9zM83.77 572.14h.9v.9h-.9zM80.43 563.99h.9v.9h-.9zM74.21 574.64h.9v.9h-.9zM73.43 576.49h.9v.9h-.9zM78.16 573.97h.9v.9h-.9zM73.87 583.09h.9v.9h-.9zM81.57 567.53h.9v.9h-.9zM75.48 582.71h.9v.9h-.9zM73.18 575.69h.9v.9h-.9zM80.2 569.07h.9v.9h-.9zM68.81 574.19h.9v.9h-.9zM76.9 575.46h.9v.9h-.9zM79.15 569.55h.9v.9h-.9zM79.52 571.77h.9v.9h-.9zM76.09 570.84h.9v.9h-.9zM73.71 574.63h.9v.9h-.9zM69.41 570.23h.9v.9h-.9zM75.03 564.28h.9v.9h-.9zM72.69 562.67h.9v.9h-.9zM71.38 574.97h.9v.9h-.9zM78 569.62h.9v.9h-.9zM73.77 564.97h.9v.9h-.9zM84.69 569.71h.9v.9h-.9zM80.8 564.77h.9v.9h-.9zM74.02 563.03h.9v.9h-.9zM79.14 573.72h.9v.9h-.9zM64.94 574.56h.9v.9h-.9zM78.34 561.66h.9v.9h-.9zM65.33 569.77h.9v.9h-.9zM71.67 565.83h.9v.9h-.9zM75.17 572.08h.9v.9h-.9zM78.36 572.95h.9v.9h-.9zM82.96 573.33h.9v.9h-.9zM68.05 571.31h.9v.9h-.9zM69.38 568.19h.9v.9h-.9zM74.57 571.19h.9v.9h-.9zM77.6 562.75h.9v.9h-.9zM68.44 573.37h.9v.9h-.9zM73.94 569.97h.9v.9h-.9zM74.66 567.64h.9v.9h-.9zM78.72 571.22h.9v.9h-.9zM74.53 568.1h.9v.9h-.9zM74.08 558.88h.9v.9h-.9zM69.8 573.13h.9v.9h-.9zM67.03 574.92h.9v.9h-.9zM75.78 564.39h.9v.9h-.9zM73.67 570.06h.9v.9h-.9zM77.44 572.88h.9v.9h-.9zM74.81 567.17h.9v.9h-.9zM74.24 570.99h.9v.9h-.9zM78.89 570.88h.9v.9h-.9zM71.17 566.24h.9v.9h-.9zM73.02 568.35h.9v.9h-.9zM69.11 572.69h.9v.9h-.9zM72.4 572.47h.9v.9h-.9zM77.77 568.06h.9v.9h-.9zM87.32 564.88h.9v.9h-.9zM80.84 569.35h.9v.9h-.9zM80.92 557.88h.9v.9h-.9zM71.02 573.64h.9v.9h-.9zM78.19 580.5h.9v.9h-.9zM76.71 576.22h.9v.9h-.9zM79.06 573.81h.9v.9h-.9zM77.7 569.26h.9v.9h-.9zM77.7 565.04h.9v.9h-.9zM81.26 563.98h.9v.9h-.9zM76.32 580.22h.9v.9h-.9zM73.82 571.54h.9v.9h-.9zM81.16 568.79h.9v.9h-.9zM70.72 573.8h.9v.9h-.9zM78.09 573.09h.9v.9h-.9zM70.91 580.58h.9v.9h-.9zM83.83 567.75h.9v.9h-.9zM76.42 568.5h.9v.9h-.9zM82.49 564.94h.9v.9h-.9zM78.57 567.45h.9v.9h-.9zM71.32 575.68h.9v.9h-.9zM82.07 568.29h.9v.9h-.9zM71.41 576.07h.9v.9h-.9zM74.74 572.52h.9v.9h-.9zM83.07 573.14h.9v.9h-.9zM72.24 582.5h.9v.9h-.9zM75.02 574.6h.9v.9h-.9zM71.57 572.09h.9v.9h-.9zM65.73 582.69h.9v.9h-.9zM82.24 562.7h.9v.9h-.9zM67.02 566.58h.9v.9h-.9zM81.23 566.54h.9v.9h-.9zM74.68 569.69h.9v.9h-.9zM74.36 566.26h.9v.9h-.9zM75.13 564.36h.9v.9h-.9zM74.62 572.56h.9v.9h-.9zM77.48 569h.9v.9h-.9zM70.21 573.54h.9v.9h-.9zM72.43 579.14h.9v.9h-.9zM79.07 568.94h.9v.9h-.9zM72.5 568.72h.9v.9h-.9zM70.03 571.26h.9v.9h-.9zM76.56 572.77h.9v.9h-.9zM78.01 579.48h.9v.9h-.9zM71.26 572.47h.9v.9h-.9zM89.81 556.85h.9v.9h-.9zM72.24 572.82h.9v.9h-.9zM75.82 572.56h.9v.9h-.9zM73.73 573.16h.9v.9h-.9zM75.28 574.43h.9v.9h-.9zM64.97 570.73h.9v.9h-.9zM74.99 566.28h.9v.9h-.9zM69.46 575.97h.9v.9h-.9zM71.56 575.21h.9v.9h-.9zM78.95 570.91h.9v.9h-.9zM77.69 569.5h.9v.9h-.9zM67.53 573.68h.9v.9h-.9zM77.41 567.67h.9v.9h-.9zM74.47 574.63h.9v.9h-.9zM70.35 575.69h.9v.9h-.9zM84.87 564.73h.9v.9h-.9zM75.78 570.02h.9v.9h-.9zM83.16 569.37h.9v.9h-.9zM79.76 566.04h.9v.9h-.9zM74.91 570.99h.9v.9h-.9zM65.59 581.15h.9v.9h-.9zM79.77 561.19h.9v.9h-.9zM78.95 568.91h.9v.9h-.9zM77.38 571.78h.9v.9h-.9zM67.06 573.03h.9v.9h-.9zM82.91 565.38h.9v.9h-.9zM69.58 566.82h.9v.9h-.9zM68.53 574.98h.9v.9h-.9zM83.97 569.58h.9v.9h-.9zM76.3 580.74h.9v.9h-.9zM72.25 568.95h.9v.9h-.9zM77.8 572.46h.9v.9h-.9zM69.62 567.67h.9v.9h-.9zM76.54 571.55h.9v.9h-.9zM68.07 572.69h.9v.9h-.9zM72.12 574.19h.9v.9h-.9zM74.38 570.84h.9v.9h-.9zM73.13 576.53h.9v.9h-.9zM82.37 566.54h.9v.9h-.9zM79.48 565.84h.9v.9h-.9zM75.38 574.29h.9v.9h-.9zM83.03 566.22h.9v.9h-.9zM74.61 572.05h.9v.9h-.9zM67.06 574.07h.9v.9h-.9zM71.42 574.05h.9v.9h-.9zM69.01 564.2h.9v.9h-.9zM75.2 572.12h.9v.9h-.9zM72.09 576.17h.9v.9h-.9zM73.55 568.77h.9v.9h-.9zM77.53 562.86h.9v.9h-.9zM71.41 572.26h.9v.9h-.9zM79.5 568.56h.9v.9h-.9zM76.63 567.38h.9v.9h-.9zM76.6 578.02h.9v.9h-.9zM71.36 583.22h.9v.9h-.9zM71.59 572.37h.9v.9h-.9zM75.92 575.35h.9v.9h-.9zM68.44 563.85h.9v.9h-.9zM78.21 573.43h.9v.9h-.9zM78.31 581.81h.9v.9h-.9zM76.09 571.75h.9v.9h-.9zM79.92 570.83h.9v.9h-.9zM83.82 562h.9v.9h-.9zM73.01 555.97h.9v.9h-.9zM79.31 567.67h.9v.9h-.9zM79.9 579.02h.9v.9h-.9zM74.97 569.85h.9v.9h-.9zM72.35 568.16h.9v.9h-.9zM71.66 575.19h.9v.9h-.9zM75.2 571.23h.9v.9h-.9zM74.08 575.54h.9v.9h-.9zM77.62 569.36h.9v.9h-.9zM78.52 568.98h.9v.9h-.9zM68.89 579.97h.9v.9h-.9zM77.47 565.68h.9v.9h-.9zM80.72 570.42h.9v.9h-.9zM66.71 581.51h.9v.9h-.9zM76.77 574.42h.9v.9h-.9zM76.05 569.92h.9v.9h-.9zM66.79 578.55h.9v.9h-.9zM75.16 569.63h.9v.9h-.9zM76.86 570.66h.9v.9h-.9zM78.58 567.95h.9v.9h-.9zM74.81 561.27h.9v.9h-.9zM72.76 574.94h.9v.9h-.9zM82.08 566.66h.9v.9h-.9zM74.36 578.5h.9v.9h-.9zM73.27 575.02h.9v.9h-.9zM83.9 567.83h.9v.9h-.9zM81.5 565.29h.9v.9h-.9zM76.1 570.23h.9v.9h-.9zM75.61 575.95h.9v.9h-.9zM87.67 563.17h.9v.9h-.9zM71.95 574.43h.9v.9h-.9zM69.41 575.39h.9v.9h-.9zM78.03 568.58h.9v.9h-.9zM77.82 562.84h.9v.9h-.9zM79.03 562.4h.9v.9h-.9zM71.31 569.84h.9v.9h-.9zM72.87 575.74h.9v.9h-.9zM75.43 569.02h.9v.9h-.9zM77.88 577.16h.9v.9h-.9zM75.03 572.66h.9v.9h-.9zM81.57 569.75h.9v.9h-.9zM68.2 584.98h.9v.9h-.9zM86.7 557.49h.9v.9h-.9zM74.79 572.99h.9v.9h-.9zM80.12 572.13h.9v.9h-.9zM73.56 566.72h.9v.9h-.9zM75.55 575.53h.9v.9h-.9zM69.23 568.47h.9v.9h-.9zM74.87 562.17h.9v.9h-.9zM73.62 569.52h.9v.9h-.9zM77.39 566.88h.9v.9h-.9zM70.32 570.96h.9v.9h-.9zM74.74 568.05h.9v.9h-.9zM75.06 574.41h.9v.9h-.9zM81.28 576.44h.9v.9h-.9zM70.85 570.64h.9v.9h-.9zM61.84 584.67h.9v.9h-.9zM71.16 572.3h.9v.9h-.9zM77.77 563.73h.9v.9h-.9zM77.46 569.95h.9v.9h-.9zM65.32 575.99h.9v.9h-.9zM81.33 560.05h.9v.9h-.9zM79.28 570.34h.9v.9h-.9zM77.52 572.07h.9v.9h-.9zM81.91 567.37h.9v.9h-.9zM79.63 567.37h.9v.9h-.9zM78.86 565.81h.9v.9h-.9zM74.43 579.15h.9v.9h-.9zM77.36 569.38h.9v.9h-.9zM68.93 569.67h.9v.9h-.9zM76.03 574.92h.9v.9h-.9zM77.26 572.55h.9v.9h-.9zM74.78 577.28h.9v.9h-.9zM72.93 569.26h.9v.9h-.9zM79.71 569.52h.9v.9h-.9zM73.52 568.92h.9v.9h-.9zM73.64 574.37h.9v.9h-.9zM76.87 564.75h.9v.9h-.9zM77.26 570.97h.9v.9h-.9zM69.7 576.54h.9v.9h-.9zM73.51 570.02h.9v.9h-.9zM79.22 575.46h.9v.9h-.9zM71.35 574.39h.9v.9h-.9zM70.36 583.36h.9v.9h-.9zM72.38 577.46h.9v.9h-.9zM71.57 576.01h.9v.9h-.9zM86.76 554.92h.9v.9h-.9zM72.7 574.16h.9v.9h-.9zM74.51 568.12h.9v.9h-.9zM86.41 567.06h.9v.9h-.9zM66.28 578.2h.9v.9h-.9zM65.88 579.72h.9v.9h-.9zM71.94 572.82h.9v.9h-.9zM81.68 569.02h.9v.9h-.9zM67.63 566.01h.9v.9h-.9zM81.27 572.03h.9v.9h-.9zM70.68 576.57h.9v.9h-.9zM77.63 572.97h.9v.9h-.9zM63.03 574.13h.9v.9h-.9zM79.77 572.56h.9v.9h-.9zM79.67 557.98h.9v.9h-.9zM75.9 572.92h.9v.9h-.9zM88.53 561.53h.9v.9h-.9zM73.25 571.82h.9v.9h-.9zM79.7 567.2h.9v.9h-.9zM81.08 565.09h.9v.9h-.9zM76.41 568.05h.9v.9h-.9zM75.84 567.52h.9v.9h-.9zM66.53 579.2h.9v.9h-.9zM76.61 567.83h.9v.9h-.9zM76.06 575.14h.9v.9h-.9zM69.82 572.45h.9v.9h-.9zM77.86 572.33h.9v.9h-.9zM73.22 562.02h.9v.9h-.9zM81.59 570.02h.9v.9h-.9zM75.07 569.7h.9v.9h-.9zM76.4 568.52h.9v.9h-.9zM69.57 569.66h.9v.9h-.9zM71.84 569.39h.9v.9h-.9zM68.86 576.23h.9v.9h-.9zM68.06 576.64h.9v.9h-.9zM69.62 574.64h.9v.9h-.9zM82.28 569.18h.9v.9h-.9zM71.13 572.68h.9v.9h-.9zM75.79 562.76h.9v.9h-.9zM71.78 572.96h.9v.9h-.9zM72.51 572.3h.9v.9h-.9zM78.89 573.04h.9v.9h-.9zM79.8 571.89h.9v.9h-.9zM73.47 571.49h.9v.9h-.9zM73.56 570.11h.9v.9h-.9zM74.05 563.46h.9v.9h-.9zM73.23 571.56h.9v.9h-.9zM69.84 572.84h.9v.9h-.9zM77.73 569.22h.9v.9h-.9zM86.01 554.9h.9v.9h-.9zM73.91 563.05h.9v.9h-.9zM80.19 581.2h.9v.9h-.9zM61.74 576.59h.9v.9h-.9zM77.75 568.58h.9v.9h-.9zM77.92 559.62h.9v.9h-.9zM79.52 571h.9v.9h-.9zM75.12 568.26h.9v.9h-.9zM78.38 567.5h.9v.9h-.9zM76.18 568.22h.9v.9h-.9zM63.09 575.35h.9v.9h-.9zM76.07 574.05h.9v.9h-.9zM70.36 572.6h.9v.9h-.9zM78.27 570.43h.9v.9h-.9zM81.59 577.64h.9v.9h-.9zM70.18 564.01h.9v.9h-.9zM79.54 576.3h.9v.9h-.9zM79.89 572.89h.9v.9h-.9zM71.72 568.97h.9v.9h-.9zM79.71 565.05h.9v.9h-.9zM65.39 570.06h.9v.9h-.9zM88.21 574.83h.9v.9h-.9zM71.36 569.03h.9v.9h-.9zM76.23 567.1h.9v.9h-.9zM81.94 568.02h.9v.9h-.9zM69.24 579.17h.9v.9h-.9zM71.91 573.18h.9v.9h-.9zM74.93 569.58h.9v.9h-.9zM76.72 567.18h.9v.9h-.9zM65.22 564.57h.9v.9h-.9zM68.29 570.06h.9v.9h-.9zM74.88 571.3h.9v.9h-.9zM77.95 570.44h.9v.9h-.9zM70.79 569.34h.9v.9h-.9zM63.77 574.46h.9v.9h-.9zM77.57 572.46h.9v.9h-.9zM74.36 570.44h.9v.9h-.9zM79.96 569.2h.9v.9h-.9zM78.91 572.19h.9v.9h-.9zM76.13 576.56h.9v.9h-.9zM71.96 570.5h.9v.9h-.9zM70.72 568.96h.9v.9h-.9zM83.25 575.95h.9v.9h-.9zM75.12 573.56h.9v.9h-.9zM81.23 572.35h.9v.9h-.9zM81.39 562.8h.9v.9h-.9zM71.61 574.35h.9v.9h-.9zM82.61 568.61h.9v.9h-.9zM70.45 571.09h.9v.9h-.9zM71.5 568.39h.9v.9h-.9zM82.96 565.13h.9v.9h-.9zM75.11 580.87h.9v.9h-.9zM81.28 570.17h.9v.9h-.9zM71.76 574.1h.9v.9h-.9zM83.59 570.61h.9v.9h-.9zM81.69 568.93h.9v.9h-.9zM77.74 569.05h.9v.9h-.9zM77.26 576.11h.9v.9h-.9zM67.42 573.58h.9v.9h-.9zM76.27 567.9h.9v.9h-.9zM73.37 575.22h.9v.9h-.9zM85.61 569.88h.9v.9h-.9zM76.73 563.24h.9v.9h-.9zM85.22 567.5h.9v.9h-.9zM74.82 565.94h.9v.9h-.9zM74.7 566.09h.9v.9h-.9zM75.38 572.99h.9v.9h-.9zM75.17 572.22h.9v.9h-.9zM70.49 579.26h.9v.9h-.9zM71.54 563.97h.9v.9h-.9zM74.01 567.88h.9v.9h-.9zM69.65 571.39h.9v.9h-.9zM76.54 565h.9v.9h-.9zM74.27 577.81h.9v.9h-.9zM78.62 568.94h.9v.9h-.9zM75.68 570.2h.9v.9h-.9zM74.75 574.45h.9v.9h-.9zM74.51 560.17h.9v.9h-.9zM74.89 566.97h.9v.9h-.9zM78.45 566.9h.9v.9h-.9zM75.79 580.68h.9v.9h-.9zM69.45 567.94h.9v.9h-.9zM67.52 562.85h.9v.9h-.9zM65.04 576.43h.9v.9h-.9zM71.62 563.72h.9v.9h-.9zM67.14 576.79h.9v.9h-.9zM70.89 570.87h.9v.9h-.9zM76.75 576.55h.9v.9h-.9zM85.29 571.85h.9v.9h-.9zM75.76 571.56h.9v.9h-.9zM84.55 573.94h.9v.9h-.9zM73.35 573.72h.9v.9h-.9zM76.52 570.67h.9v.9h-.9zM72.35 565.92h.9v.9h-.9zM72.17 564.99h.9v.9h-.9zM81.49 571.01h.9v.9h-.9zM68.61 579.81h.9v.9h-.9zM79.73 560.47h.9v.9h-.9zM84.76 571.03h.9v.9h-.9zM85.94 561.23h.9v.9h-.9zM77.81 571.88h.9v.9h-.9zM76.07 571.38h.9v.9h-.9zM80.58 562.05h.9v.9h-.9zM68.42 567.1h.9v.9h-.9zM72.04 569.34h.9v.9h-.9zM76.95 571.49h.9v.9h-.9zM75.17 567.84h.9v.9h-.9zM72.66 576.25h.9v.9h-.9zM79.05 569.94h.9v.9h-.9zM73.29 578.76h.9v.9h-.9zM71.85 575.16h.9v.9h-.9zM81.11 567.48h.9v.9h-.9zM79.37 564.24h.9v.9h-.9zM80.37 569.89h.9v.9h-.9zM66.59 577.24h.9v.9h-.9zM70.27 578.66h.9v.9h-.9zM71.4 571.6h.9v.9h-.9zM76.5 568.91h.9v.9h-.9zM76.38 567.95h.9v.9h-.9zM78.56 569.68h.9v.9h-.9zM76.12 557.96h.9v.9h-.9zM81.16 568.82h.9v.9h-.9zM65.55 575h.9v.9h-.9zM77.48 574.97h.9v.9h-.9zM69.26 580.25h.9v.9h-.9zM74.16 582.29h.9v.9h-.9zM74.22 574.41h.9v.9h-.9zM73.06 566.62h.9v.9h-.9zM80.81 572.96h.9v.9h-.9zM83.15 571.85h.9v.9h-.9zM71.96 564.53h.9v.9h-.9zM71.55 569.21h.9v.9h-.9zM70.68 575.3h.9v.9h-.9zM76.74 569.11h.9v.9h-.9zM75.91 569.99h.9v.9h-.9zM76.13 574.02h.9v.9h-.9zM80.09 565.94h.9v.9h-.9zM67.01 580.55h.9v.9h-.9zM75.61 575.84h.9v.9h-.9zM66.29 572.77h.9v.9h-.9zM75.14 564.34h.9v.9h-.9zM72.27 575.35h.9v.9h-.9zM80.72 576.15h.9v.9h-.9zM70.42 566.31h.9v.9h-.9zM77.76 574.27h.9v.9h-.9zM76.02 564.65h.9v.9h-.9zM79.15 573.07h.9v.9h-.9zM77.93 567.66h.9v.9h-.9zM76.61 574.02h.9v.9h-.9zM72.04 563.67h.9v.9h-.9zM76.74 572.55h.9v.9h-.9zM75.07 575.05h.9v.9h-.9zM71.89 571.8h.9v.9h-.9zM73.38 574.23h.9v.9h-.9zM83.46 566.66h.9v.9h-.9zM85.89 573.9h.9v.9h-.9zM79.19 572.11h.9v.9h-.9zM84.39 566.63h.9v.9h-.9zM74.41 566.35h.9v.9h-.9zM77.51 576.22h.9v.9h-.9zM77.82 571.87h.9v.9h-.9zM73.94 572.18h.9v.9h-.9zM67.45 578.66h.9v.9h-.9zM72.83 566.76h.9v.9h-.9zM71.02 568.72h.9v.9h-.9zM79.53 574.14h.9v.9h-.9zM67.8 577.96h.9v.9h-.9zM79.71 566.57h.9v.9h-.9zM67.12 570.56h.9v.9h-.9zM71.64 573.84h.9v.9h-.9zM73.1 562.42h.9v.9h-.9zM76.24 563.5h.9v.9h-.9zM79.8 563.66h.9v.9h-.9zM71.33 568.47h.9v.9h-.9zM72.12 578.03h.9v.9h-.9zM79.52 572.05h.9v.9h-.9zM76.69 563.27h.9v.9h-.9zM72.24 569.51h.9v.9h-.9zM69.82 575.29h.9v.9h-.9zM71.07 569.23h.9v.9h-.9zM69.46 563.66h.9v.9h-.9zM78.15 575.91h.9v.9h-.9zM75.93 566.17h.9v.9h-.9zM60.66 577.2h.9v.9h-.9zM81.45 569.93h.9v.9h-.9zM79.91 575.92h.9v.9h-.9zM80.97 566.72h.9v.9h-.9zM80.58 572.45h.9v.9h-.9zM66.85 572.22h.9v.9h-.9zM67.45 573.35h.9v.9h-.9zM78.06 564.95h.9v.9h-.9zM64.1 581.06h.9v.9h-.9zM77 576.99h.9v.9h-.9zM67.98 578.51h.9v.9h-.9zM85.99 576.05h.9v.9h-.9zM73.89 572.65h.9v.9h-.9zM74.18 575.88h.9v.9h-.9zM80.5 569.32h.9v.9h-.9zM67.8 577.11h.9v.9h-.9zM72.51 574.82h.9v.9h-.9zM76.39 577.91h.9v.9h-.9zM81.03 566.66h.9v.9h-.9zM76.85 578.39h.9v.9h-.9zM72.15 574.06h.9v.9h-.9zM81.31 574.38h.9v.9h-.9zM77.75 563.91h.9v.9h-.9zM68.32 574.66h.9v.9h-.9zM77.05 581.9h.9v.9h-.9zM70.43 577.94h.9v.9h-.9zM79.08 561.8h.9v.9h-.9zM70.66 573.4h.9v.9h-.9zM72.38 571.28h.9v.9h-.9zM77.49 566.35h.9v.9h-.9zM77.47 567.15h.9v.9h-.9zM72.11 574.55h.9v.9h-.9zM71.96 573.46h.9v.9h-.9zM83.48 567.93h.9v.9h-.9zM74.23 574.66h.9v.9h-.9zM73.06 576.69h.9v.9h-.9zM68.2 576.4h.9v.9h-.9zM72.29 568.36h.9v.9h-.9zM84.38 563.56h.9v.9h-.9zM84.31 570.5h.9v.9h-.9zM82.7 563.62h.9v.9h-.9zM81.35 575.28h.9v.9h-.9zM74.38 570.64h.9v.9h-.9zM88.02 566.9h.9v.9h-.9zM72.76 568.96h.9v.9h-.9zM77.36 571.62h.9v.9h-.9zM75.94 578.53h.9v.9h-.9zM73.26 573.82h.9v.9h-.9zM82.73 563.48h.9v.9h-.9zM80.51 577.32h.9v.9h-.9zM67.82 568.68h.9v.9h-.9zM69.5 564.62h.9v.9h-.9zM77.4 561.59h.9v.9h-.9zM77.64 576.66h.9v.9h-.9zM66.44 572.78h.9v.9h-.9zM64.83 578.41h.9v.9h-.9zM71.09 571.26h.9v.9h-.9zM75.29 573.39h.9v.9h-.9zM73.16 571.76h.9v.9h-.9zM72.1 572.62h.9v.9h-.9zM68.79 573.64h.9v.9h-.9zM64.76 572.62h.9v.9h-.9zM85.15 567.53h.9v.9h-.9zM68.32 574.7h.9v.9h-.9zM69.85 565.38h.9v.9h-.9zM71.1 575.85h.9v.9h-.9zM77.03 569.79h.9v.9h-.9zM70.09 567.91h.9v.9h-.9zM82.15 569.42h.9v.9h-.9zM69.96 563.23h.9v.9h-.9zM68.91 572.95h.9v.9h-.9zM76.11 569.86h.9v.9h-.9zM73.53 565.26h.9v.9h-.9zM69.43 580.84h.9v.9h-.9zM70.99 576.39h.9v.9h-.9zM66.02 573.13h.9v.9h-.9zM76.38 575.23h.9v.9h-.9zM69.05 575.97h.9v.9h-.9zM77.05 566.85h.9v.9h-.9zM77.53 565.93h.9v.9h-.9zM70.78 572.51h.9v.9h-.9zM60.62 575.93h.9v.9h-.9zM69.7 566.3h.9v.9h-.9zM72.75 575.35h.9v.9h-.9zM72.86 577.61h.9v.9h-.9zM68.85 567.31h.9v.9h-.9zM83.22 569.73h.9v.9h-.9zM80.01 565.32h.9v.9h-.9zM79.26 570.58h.9v.9h-.9zM78.44 569.82h.9v.9h-.9zM81.39 565.61h.9v.9h-.9zM69.89 566.16h.9v.9h-.9zM81.15 565.3h.9v.9h-.9zM69.47 568.78h.9v.9h-.9zM72.64 566.06h.9v.9h-.9zM73.46 568.71h.9v.9h-.9zM72.08 567.71h.9v.9h-.9zM75.19 568.81h.9v.9h-.9zM75.61 571.91h.9v.9h-.9zM76.8 560.29h.9v.9h-.9zM72.16 568.42h.9v.9h-.9zM79.1 562.22h.9v.9h-.9zM71.21 571.08h.9v.9h-.9zM73.22 576.21h.9v.9h-.9zM72.65 576.31h.9v.9h-.9zM67.23 565.63h.9v.9h-.9zM81.46 570.56h.9v.9h-.9zM77.58 570.59h.9v.9h-.9zM77.57 564.46h.9v.9h-.9zM80.03 566.66h.9v.9h-.9zM80.22 569.43h.9v.9h-.9zM64.54 569.05h.9v.9h-.9zM80.98 568.12h.9v.9h-.9zM72.9 572.9h.9v.9h-.9zM72.75 569.35h.9v.9h-.9zM75.54 571.46h.9v.9h-.9zM83.04 568.18h.9v.9h-.9zM84.96 575.5h.9v.9h-.9zM84.1 572.43h.9v.9h-.9zM75.69 571.37h.9v.9h-.9zM74.24 567.93h.9v.9h-.9zM74.65 568.2h.9v.9h-.9zM83.69 570.17h.9v.9h-.9zM72.63 563.11h.9v.9h-.9zM74.72 569.2h.9v.9h-.9zM69.25 567.96h.9v.9h-.9zM63.07 578.11h.9v.9h-.9zM74.65 582.96h.9v.9h-.9zM74.84 570.38h.9v.9h-.9zM82.65 568.73h.9v.9h-.9zM75.89 568.96h.9v.9h-.9zM71.79 579.08h.9v.9h-.9zM80.3 576.86h.9v.9h-.9zM73.15 571.84h.9v.9h-.9zM70.33 577.19h.9v.9h-.9zM67.62 576.37h.9v.9h-.9zM80.81 575.28h.9v.9h-.9zM70.02 577.87h.9v.9h-.9zM71.22 568.96h.9v.9h-.9zM67.99 578.94h.9v.9h-.9zM83.74 564.98h.9v.9h-.9zM70.97 570.97h.9v.9h-.9zM88.29 570.59h.9v.9h-.9zM72.12 563.86h.9v.9h-.9zM71.44 577.79h.9v.9h-.9zM84.9 566.04h.9v.9h-.9zM71.34 570.05h.9v.9h-.9zM65.01 578.93h.9v.9h-.9zM69.25 578.04h.9v.9h-.9zM65.95 568.59h.9v.9h-.9zM76.53 566.92h.9v.9h-.9zM79.14 569.48h.9v.9h-.9zM68.77 576.2h.9v.9h-.9zM79.46 560.55h.9v.9h-.9zM84.68 569.63h.9v.9h-.9zM79.03 560.96h.9v.9h-.9zM71.19 570.84h.9v.9h-.9zM80.71 562.16h.9v.9h-.9zM70.32 563.47h.9v.9h-.9zM73.72 573.07h.9v.9h-.9zM66.06 571.66h.9v.9h-.9zM77.71 577.24h.9v.9h-.9zM78.52 568.28h.9v.9h-.9zM68.76 569.06h.9v.9h-.9zM71.48 573h.9v.9h-.9zM74.74 578.74h.9v.9h-.9zM76.52 565.51h.9v.9h-.9zM83.19 572.26h.9v.9h-.9zM75.54 567.49h.9v.9h-.9zM65.08 570.06h.9v.9h-.9zM79.83 565.5h.9v.9h-.9zM68.01 574.54h.9v.9h-.9zM76.29 573.29h.9v.9h-.9zM78.47 576.15h.9v.9h-.9zM70.55 577.16h.9v.9h-.9zM69.77 576.15h.9v.9h-.9zM75.95 571.76h.9v.9h-.9zM80.13 568.98h.9v.9h-.9zM80.9 572.79h.9v.9h-.9zM75.72 568.13h.9v.9h-.9zM71.01 570.09h.9v.9h-.9zM73.93 571.29h.9v.9h-.9zM90.8 567.96h.9v.9h-.9zM79.08 565.52h.9v.9h-.9zM71.23 570.96h.9v.9h-.9zM76.02 565.87h.9v.9h-.9zM83.54 565.2h.9v.9h-.9zM80.71 558.14h.9v.9h-.9zM74.96 572.29h.9v.9h-.9zM76.01 573.37h.9v.9h-.9zM76.48 571.18h.9v.9h-.9zM64.97 571.52h.9v.9h-.9zM62.58 578.57h.9v.9h-.9zM76.63 569.49h.9v.9h-.9zM70.65 569.98h.9v.9h-.9zM84.78 575.24h.9v.9h-.9zM74.69 577.02h.9v.9h-.9zM66.58 565.31h.9v.9h-.9zM72.44 567.96h.9v.9h-.9zM72.04 572.98h.9v.9h-.9zM91.03 561.92h.9v.9h-.9zM75.26 572.17h.9v.9h-.9zM74.82 575.33h.9v.9h-.9zM84.41 561.75h.9v.9h-.9zM75.86 569.46h.9v.9h-.9zM76.89 563.27h.9v.9h-.9zM65.68 563.9h.9v.9h-.9zM77.78 570.83h.9v.9h-.9zM75.39 560.01h.9v.9h-.9zM73.02 568.29h.9v.9h-.9zM67.51 569.63h.9v.9h-.9zM78.7 572.1h.9v.9h-.9zM74.88 573.4h.9v.9h-.9zM71.8 572.53h.9v.9h-.9zM75.21 573.46h.9v.9h-.9zM74.63 570.48h.9v.9h-.9zM74.29 568.31h.9v.9h-.9zM86.84 568.89h.9v.9h-.9zM77.27 580.64h.9v.9h-.9zM82.44 561.06h.9v.9h-.9zM78.69 573.45h.9v.9h-.9zM84.99 573.26h.9v.9h-.9zM79.08 564.06h.9v.9h-.9zM70.39 573.97h.9v.9h-.9zM77.68 565.31h.9v.9h-.9zM72.96 569.93h.9v.9h-.9zM75.32 572.42h.9v.9h-.9zM73.48 565.91h.9v.9h-.9zM81.59 575.83h.9v.9h-.9zM74.44 575.91h.9v.9h-.9zM77.35 573.13h.9v.9h-.9zM77.55 566.54h.9v.9h-.9zM78.04 574.48h.9v.9h-.9zM70.25 581.8h.9v.9h-.9zM86.08 575.17h.9v.9h-.9zM85.54 570.42h.9v.9h-.9zM73.21 568.93h.9v.9h-.9zM70.69 573.16h.9v.9h-.9zM74.83 574.14h.9v.9h-.9zM87.06 566.32h.9v.9h-.9zM78.58 571.83h.9v.9h-.9zM76.45 569.5h.9v.9h-.9zM74.35 567.47h.9v.9h-.9zM75.94 570.53h.9v.9h-.9zM76.7 566.44h.9v.9h-.9zM75.21 571.14h.9v.9h-.9zM78.2 564.92h.9v.9h-.9zM77.22 574.67h.9v.9h-.9zM78.16 568.12h.9v.9h-.9zM72.4 570.9h.9v.9h-.9zM78.86 576.66h.9v.9h-.9zM74.16 568.37h.9v.9h-.9zM76.99 571.18h.9v.9h-.9zM70.19 569.44h.9v.9h-.9zM74.46 574.28h.9v.9h-.9zM68.68 568.72h.9v.9h-.9zM77.65 564.39h.9v.9h-.9zM75.58 572.4h.9v.9h-.9zM74.41 566.56h.9v.9h-.9zM74.68 569.6h.9v.9h-.9zM76.78 566.48h.9v.9h-.9zM80.78 561.14h.9v.9h-.9zM74.07 571.39h.9v.9h-.9zM80.1 566.29h.9v.9h-.9zM77.89 567.31h.9v.9h-.9zM78.91 577.48h.9v.9h-.9zM72.87 573.83h.9v.9h-.9zM70.08 577.31h.9v.9h-.9zM81.42 568.74h.9v.9h-.9zM68.99 575.11h.9v.9h-.9zM81.09 573.7h.9v.9h-.9zM79.31 560.99h.9v.9h-.9zM71.4 578.88h.9v.9h-.9zM68.5 578.64h.9v.9h-.9zM84.98 570.73h.9v.9h-.9zM80.94 567.23h.9v.9h-.9zM68.51 572.98h.9v.9h-.9zM73.95 571.18h.9v.9h-.9zM78.69 568.94h.9v.9h-.9zM76.02 572.56h.9v.9h-.9zM74.97 579.46h.9v.9h-.9zM77.34 570.5h.9v.9h-.9zM73.9 568.55h.9v.9h-.9zM82.12 569h.9v.9h-.9zM69.28 570.58h.9v.9h-.9zM74.28 569.23h.9v.9h-.9zM80.75 563.51h.9v.9h-.9zM77.61 570.67h.9v.9h-.9zM68.76 573.57h.9v.9h-.9zM74.5 573.49h.9v.9h-.9zM72.61 573.29h.9v.9h-.9zM66.17 569.36h.9v.9h-.9zM79.16 574.2h.9v.9h-.9zM74.93 568.28h.9v.9h-.9zM80.74 559.25h.9v.9h-.9zM70.76 575.68h.9v.9h-.9zM78.46 564.96h.9v.9h-.9zM65 581.43h.9v.9h-.9zM75.81 566.59h.9v.9h-.9zM75.29 575.02h.9v.9h-.9zM61.26 581.27h.9v.9h-.9zM78.92 559.98h.9v.9h-.9zM79.09 561.3h.9v.9h-.9zM81.04 570.55h.9v.9h-.9zM86.94 563.7h.9v.9h-.9zM75.02 575.79h.9v.9h-.9zM71.61 569.05h.9v.9h-.9zM73.03 571.41h.9v.9h-.9zM69.26 575.38h.9v.9h-.9zM77.88 570.24h.9v.9h-.9zM84.01 566.1h.9v.9h-.9zM81.92 565.88h.9v.9h-.9zM79.01 560.62h.9v.9h-.9zM76.05 569.8h.9v.9h-.9zM72.38 569.19h.9v.9h-.9zM73.16 568.4h.9v.9h-.9zM63.38 572.65h.9v.9h-.9zM72.09 569.7h.9v.9h-.9zM69.39 572.49h.9v.9h-.9zM79.16 568.28h.9v.9h-.9zM72.39 578.21h.9v.9h-.9zM80.18 573.27h.9v.9h-.9zM81.12 567.19h.9v.9h-.9zM74.31 576.36h.9v.9h-.9zM72.06 571.56h.9v.9h-.9zM77 571.95h.9v.9h-.9zM73.54 576.06h.9v.9h-.9zM74.06 574.68h.9v.9h-.9zM80.67 571.88h.9v.9h-.9zM78.89 564.22h.9v.9h-.9zM68.05 570.79h.9v.9h-.9zM77.52 576.93h.9v.9h-.9zM68.52 574.85h.9v.9h-.9zM70.47 569.35h.9v.9h-.9zM73.54 574.72h.9v.9h-.9zM76.13 575.98h.9v.9h-.9zM69.78 577.05h.9v.9h-.9zM79.93 569.46h.9v.9h-.9zM77.53 567.46h.9v.9h-.9zM69.22 571.32h.9v.9h-.9zM72.43 579.53h.9v.9h-.9zM76.07 572.03h.9v.9h-.9zM78.94 565.94h.9v.9h-.9zM79.86 570.89h.9v.9h-.9zM66.97 576.79h.9v.9h-.9zM77.93 571.97h.9v.9h-.9zM83.4 565.93h.9v.9h-.9zM77.71 573.41h.9v.9h-.9zM70.23 578.3h.9v.9h-.9zM67.31 567.94h.9v.9h-.9zM77.77 564.97h.9v.9h-.9zM74.38 563.69h.9v.9h-.9zM75.37 565.67h.9v.9h-.9zM76.81 563.29h.9v.9h-.9zM77.38 568.88h.9v.9h-.9zM75.34 570.56h.9v.9h-.9zM75.69 564.68h.9v.9h-.9zM61.41 576.29h.9v.9h-.9zM70.04 570.79h.9v.9h-.9zM77.26 561.05h.9v.9h-.9zM70.96 569.73h.9v.9h-.9zM69.4 574.61h.9v.9h-.9zM74.26 567.52h.9v.9h-.9zM69.78 576.67h.9v.9h-.9zM71.5 575h.9v.9h-.9zM77.38 561.42h.9v.9h-.9zM69.26 573.18h.9v.9h-.9zM76.81 573.89h.9v.9h-.9zM79.25 574.13h.9v.9h-.9zM73.02 570.78h.9v.9h-.9zM79.11 567.5h.9v.9h-.9zM80.6 561.6h.9v.9h-.9zM78.46 568.9h.9v.9h-.9zM64.58 579.42h.9v.9h-.9zM76.65 570.47h.9v.9h-.9zM69.29 571.02h.9v.9h-.9zM83.01 564.19h.9v.9h-.9zM56.6 574.02h.9v.9h-.9zM68.64 572.79h.9v.9h-.9zM72.92 567.61h.9v.9h-.9zM70.54 577.49h.9v.9h-.9zM67.35 582.85h.9v.9h-.9zM72.12 567.08h.9v.9h-.9zM79.17 572.01h.9v.9h-.9zM69.47 576.52h.9v.9h-.9zM65.25 570.45h.9v.9h-.9zM80.97 567.58h.9v.9h-.9zM68.1 575.96h.9v.9h-.9zM79.86 569.06h.9v.9h-.9zM65.42 573.03h.9v.9h-.9zM77.22 573.69h.9v.9h-.9zM84.82 566.14h.9v.9h-.9zM72.44 571.79h.9v.9h-.9zM81.39 564.27h.9v.9h-.9zM81.92 555.79h.9v.9h-.9zM79.23 566.31h.9v.9h-.9zM77.43 573.24h.9v.9h-.9zM68.73 572.97h.9v.9h-.9zM76.28 573.21h.9v.9h-.9zM70.07 568.32h.9v.9h-.9zM73.98 570.37h.9v.9h-.9zM67.08 578.25h.9v.9h-.9zM72.17 578.65h.9v.9h-.9zM79.51 569.39h.9v.9h-.9zM78.85 564.45h.9v.9h-.9zM73.27 569.01h.9v.9h-.9zM68.27 573.62h.9v.9h-.9zM74.23 577.87h.9v.9h-.9zM57.23 574.63h.9v.9h-.9zM70.13 570.71h.9v.9h-.9zM77.24 572.01h.9v.9h-.9zM75.15 568.77h.9v.9h-.9zM77.62 571.66h.9v.9h-.9zM65.23 573.48h.9v.9h-.9zM67.71 568.33h.9v.9h-.9zM75.78 570.98h.9v.9h-.9zM75.6 566.76h.9v.9h-.9zM73.93 567.22h.9v.9h-.9zM77.02 573.39h.9v.9h-.9zM84.3 573.29h.9v.9h-.9zM70.73 570.51h.9v.9h-.9zM70.03 574.28h.9v.9h-.9zM85.5 570.29h.9v.9h-.9zM63.34 569.64h.9v.9h-.9zM68.15 575.95h.9v.9h-.9zM75.01 572.37h.9v.9h-.9zM84.44 563.65h.9v.9h-.9zM70.51 581.7h.9v.9h-.9zM76.81 566.75h.9v.9h-.9zM64.25 568.07h.9v.9h-.9zM62.04 576.2h.9v.9h-.9zM75.23 575.46h.9v.9h-.9zM74.26 568.1h.9v.9h-.9zM71.07 581.19h.9v.9h-.9zM65.64 575.33h.9v.9h-.9zM75.14 573.78h.9v.9h-.9zM72.86 574.1h.9v.9h-.9zM79.32 568.69h.9v.9h-.9zM72.57 571.06h.9v.9h-.9zM69.89 571.98h.9v.9h-.9zM73.4 572.57h.9v.9h-.9zM82.08 574.32h.9v.9h-.9zM72.64 574.65h.9v.9h-.9zM76.56 573.9h.9v.9h-.9zM75.11 572.17h.9v.9h-.9zM72.52 568.34h.9v.9h-.9zM79.62 575.21h.9v.9h-.9zM78.51 571.67h.9v.9h-.9zM76.41 568.4h.9v.9h-.9zM65.55 577.61h.9v.9h-.9zM76.06 568.06h.9v.9h-.9zM69.89 578.79h.9v.9h-.9zM65.44 582.68h.9v.9h-.9zM78.39 580.58h.9v.9h-.9zM71.2 572.34h.9v.9h-.9zM72.32 572.72h.9v.9h-.9zM73.89 567.99h.9v.9h-.9zM80.7 565.25h.9v.9h-.9zM72.31 574.56h.9v.9h-.9zM72.15 570.08h.9v.9h-.9zM76.89 568.6h.9v.9h-.9zM68.39 573.02h.9v.9h-.9zM73.83 579.25h.9v.9h-.9zM69.19 577.64h.9v.9h-.9zM70.83 570.94h.9v.9h-.9zM73.27 572.89h.9v.9h-.9zM79.58 577.29h.9v.9h-.9zM71.63 578.37h.9v.9h-.9zM80.28 572.73h.9v.9h-.9zM70.98 576.65h.9v.9h-.9zM74.43 572.83h.9v.9h-.9zM73.57 574.58h.9v.9h-.9zM80.91 573.95h.9v.9h-.9zM73.91 575.97h.9v.9h-.9zM82.7 563.81h.9v.9h-.9zM82.8 561.94h.9v.9h-.9zM77.88 572.64h.9v.9h-.9zM82.86 569.31h.9v.9h-.9zM72.45 568.31h.9v.9h-.9zM68.37 577.01h.9v.9h-.9zM73.74 568.19h.9v.9h-.9zM77.82 566.43h.9v.9h-.9zM72.68 569.77h.9v.9h-.9zM83.77 574.39h.9v.9h-.9zM74.16 564.12h.9v.9h-.9zM76.47 570.78h.9v.9h-.9zM76.85 572.89h.9v.9h-.9zM73.3 575.88h.9v.9h-.9zM79.44 570.29h.9v.9h-.9zM72.85 569.61h.9v.9h-.9zM78.67 564.58h.9v.9h-.9zM74.15 567.88h.9v.9h-.9zM67.61 576.55h.9v.9h-.9zM74.86 571.22h.9v.9h-.9zM79.63 562.41h.9v.9h-.9zM74.64 572.46h.9v.9h-.9zM79.41 564.36h.9v.9h-.9zM78.79 570.57h.9v.9h-.9zM82.19 573.51h.9v.9h-.9zM77.91 579.75h.9v.9h-.9zM74.99 569.06h.9v.9h-.9zM73.19 567.37h.9v.9h-.9zM74.85 562.45h.9v.9h-.9zM74.55 573.12h.9v.9h-.9zM80.25 567.43h.9v.9h-.9zM82.36 565.24h.9v.9h-.9zM74.29 562.66h.9v.9h-.9zM70.97 568.9h.9v.9h-.9zM82.73 570.46h.9v.9h-.9zM69.28 575.54h.9v.9h-.9zM77.49 569.01h.9v.9h-.9zM75.12 569.59h.9v.9h-.9zM72.19 564.13h.9v.9h-.9zM74.53 576.92h.9v.9h-.9zM82.41 566.96h.9v.9h-.9zM71.13 571.51h.9v.9h-.9zM79.64 570.82h.9v.9h-.9zM71.98 573.76h.9v.9h-.9zM73.93 573.71h.9v.9h-.9zM72.89 565.22h.9v.9h-.9zM75.3 574.29h.9v.9h-.9zM69.28 572.68h.9v.9h-.9zM79.54 567.61h.9v.9h-.9zM71.64 581.34h.9v.9h-.9zM79.29 573.97h.9v.9h-.9zM70.12 580.13h.9v.9h-.9zM66.45 571.91h.9v.9h-.9zM78.82 575.49h.9v.9h-.9zM70.2 569.85h.9v.9h-.9zM76.01 562.02h.9v.9h-.9zM78.3 572.25h.9v.9h-.9zM72.69 574.27h.9v.9h-.9zM79 570.87h.9v.9h-.9zM77.69 576.72h.9v.9h-.9zM72.54 572.65h.9v.9h-.9zM72.31 576.61h.9v.9h-.9zM72.9 573.9h.9v.9h-.9zM75.7 571.03h.9v.9h-.9zM83.82 567.29h.9v.9h-.9zM82.28 571.92h.9v.9h-.9zM81.77 567.71h.9v.9h-.9zM79.76 572.56h.9v.9h-.9zM71.85 573.38h.9v.9h-.9zM74.34 571.09h.9v.9h-.9zM81.67 565.29h.9v.9h-.9zM66.38 566.54h.9v.9h-.9zM72.68 569.02h.9v.9h-.9zM75.07 573.48h.9v.9h-.9zM84.01 568.97h.9v.9h-.9zM77.37 566.86h.9v.9h-.9zM77.97 575.89h.9v.9h-.9zM81.86 559.77h.9v.9h-.9zM79.55 576.28h.9v.9h-.9zM79.22 562.8h.9v.9h-.9zM73.43 574.19h.9v.9h-.9zM77.12 566.62h.9v.9h-.9zM70.45 576.98h.9v.9h-.9zM68.19 579.9h.9v.9h-.9zM75.1 572.29h.9v.9h-.9zM68.19 570.94h.9v.9h-.9zM78.52 563.18h.9v.9h-.9zM85.56 560.82h.9v.9h-.9zM68.77 573.54h.9v.9h-.9zM77.46 573.31h.9v.9h-.9zM73.11 570.8h.9v.9h-.9zM73.8 568.92h.9v.9h-.9zM61.86 580.19h.9v.9h-.9zM76.28 571.22h.9v.9h-.9zM71.8 573.31h.9v.9h-.9zM74.93 570.69h.9v.9h-.9zM80.63 561.29h.9v.9h-.9zM76.28 565.82h.9v.9h-.9zM73.38 578.21h.9v.9h-.9zM69.48 572.64h.9v.9h-.9zM71.99 576.32h.9v.9h-.9zM70.01 565.47h.9v.9h-.9zM77.62 568.45h.9v.9h-.9zM73.37 576.37h.9v.9h-.9zM70.48 571.06h.9v.9h-.9zM75.75 572.54h.9v.9h-.9zM72.37 576.55h.9v.9h-.9zM86.41 564.9h.9v.9h-.9zM84.52 558.13h.9v.9h-.9zM82.16 566.78h.9v.9h-.9zM75.7 569.24h.9v.9h-.9zM71.76 566.6h.9v.9h-.9zM72.99 577.46h.9v.9h-.9zM80.8 567.28h.9v.9h-.9zM72.31 568.93h.9v.9h-.9zM68.89 581.24h.9v.9h-.9zM78.38 570.24h.9v.9h-.9zM72.5 567.45h.9v.9h-.9zM81.7 571.91h.9v.9h-.9zM70.15 577.18h.9v.9h-.9zM69.37 575.95h.9v.9h-.9zM70.11 571.02h.9v.9h-.9zM77.52 571.95h.9v.9h-.9zM80.15 565.38h.9v.9h-.9zM83.03 573.88h.9v.9h-.9zM74.95 573.07h.9v.9h-.9zM71.04 571.82h.9v.9h-.9zM68.28 573.93h.9v.9h-.9zM76.01 576.53h.9v.9h-.9zM79.82 572.76h.9v.9h-.9zM73.16 570.71h.9v.9h-.9zM73.27 572.63h.9v.9h-.9zM65.18 578.1h.9v.9h-.9zM67.03 571.74h.9v.9h-.9zM75.11 568.7h.9v.9h-.9zM83.46 567.38h.9v.9h-.9zM83 573.15h.9v.9h-.9zM72.47 573.72h.9v.9h-.9zM81.61 567.04h.9v.9h-.9zM75.45 568.38h.9v.9h-.9zM75.3 569.33h.9v.9h-.9zM75.42 575.25h.9v.9h-.9zM82.09 568.91h.9v.9h-.9zM76.03 574.38h.9v.9h-.9zM73.52 566.9h.9v.9h-.9zM80.65 564.76h.9v.9h-.9zM79.73 564.97h.9v.9h-.9zM84.31 562.89h.9v.9h-.9zM79.32 575.97h.9v.9h-.9zM70.11 579.38h.9v.9h-.9zM70.81 564.82h.9v.9h-.9zM78.67 572.7h.9v.9h-.9zM73.97 560.28h.9v.9h-.9zM74.72 569.76h.9v.9h-.9zM73.07 570.45h.9v.9h-.9zM65.89 571.94h.9v.9h-.9zM84.16 574.35h.9v.9h-.9zM73.16 568.56h.9v.9h-.9zM77.02 574.91h.9v.9h-.9zM78.68 564.47h.9v.9h-.9zM75.82 571.31h.9v.9h-.9zM82.32 573.5h.9v.9h-.9zM77.67 575.34h.9v.9h-.9zM72.99 578.53h.9v.9h-.9zM72.83 573.56h.9v.9h-.9zM79.67 565.22h.9v.9h-.9zM71.43 564.61h.9v.9h-.9zM75.84 570.44h.9v.9h-.9zM73.34 573.82h.9v.9h-.9zM64.23 574.96h.9v.9h-.9zM75.44 569.66h.9v.9h-.9zM79.04 577.18h.9v.9h-.9zM72.73 567.72h.9v.9h-.9zM71.92 572.57h.9v.9h-.9zM77.98 566.09h.9v.9h-.9zM80.08 564.57h.9v.9h-.9zM79.21 571.29h.9v.9h-.9zM77.36 579.6h.9v.9h-.9zM73.66 570.78h.9v.9h-.9zM77.42 573.88h.9v.9h-.9zM68.19 574.78h.9v.9h-.9zM71.23 575.2h.9v.9h-.9zM81.97 568.6h.9v.9h-.9zM74.46 572.01h.9v.9h-.9zM59.96 580.06h.9v.9h-.9zM77.86 570.65h.9v.9h-.9zM72.99 568.55h.9v.9h-.9zM74.09 576.68h.9v.9h-.9zM74.48 577.12h.9v.9h-.9zM61.91 573.92h.9v.9h-.9zM76.39 570.41h.9v.9h-.9zM66.55 571.26h.9v.9h-.9zM81.36 562.92h.9v.9h-.9zM69.96 568.08h.9v.9h-.9zM72.19 574.89h.9v.9h-.9zM78.02 560.93h.9v.9h-.9zM82.43 565.59h.9v.9h-.9zM72.01 579.47h.9v.9h-.9zM74.58 565.7h.9v.9h-.9zM71.75 569.03h.9v.9h-.9zM69.86 571.47h.9v.9h-.9zM79.46 570.86h.9v.9h-.9zM69.96 573.41h.9v.9h-.9zM75.16 574.29h.9v.9h-.9zM73.33 573.64h.9v.9h-.9zM85.71 567.38h.9v.9h-.9zM69.49 574.52h.9v.9h-.9zM70.91 570.91h.9v.9h-.9zM75.96 572.12h.9v.9h-.9zM73.55 575.28h.9v.9h-.9zM74.02 565.63h.9v.9h-.9zM79.47 567.71h.9v.9h-.9zM81.17 565.79h.9v.9h-.9zM77.91 571.29h.9v.9h-.9zM61.28 569.61h.9v.9h-.9zM69.3 579.34h.9v.9h-.9zM65.39 578.64h.9v.9h-.9zM80.56 571.08h.9v.9h-.9zM78.43 567.52h.9v.9h-.9zM74.95 572.01h.9v.9h-.9zM77.14 573.3h.9v.9h-.9zM73.95 568.31h.9v.9h-.9zM72.14 573.89h.9v.9h-.9zM66.55 568.67h.9v.9h-.9zM72.9 569.36h.9v.9h-.9zM73.62 559.81h.9v.9h-.9zM73.27 570.55h.9v.9h-.9zM78.95 560.8h.9v.9h-.9zM73.44 573.68h.9v.9h-.9zM77.49 575.32h.9v.9h-.9zM80.37 564.35h.9v.9h-.9zM78.24 568.3h.9v.9h-.9zM70.91 579.3h.9v.9h-.9zM71.79 568.45h.9v.9h-.9zM72.92 568.03h.9v.9h-.9zM80.13 570.74h.9v.9h-.9zM82.14 570.12h.9v.9h-.9zM71.87 576.8h.9v.9h-.9zM71.66 570.22h.9v.9h-.9zM74.15 571.5h.9v.9h-.9zM81.09 566.03h.9v.9h-.9zM76.79 570.2h.9v.9h-.9zM68.58 568.59h.9v.9h-.9zM73.88 573.21h.9v.9h-.9zM76.63 572.5h.9v.9h-.9zM75.25 568.93h.9v.9h-.9zM77.18 565.75h.9v.9h-.9zM68.14 572.12h.9v.9h-.9zM67.7 571.48h.9v.9h-.9zM71.18 569.99h.9v.9h-.9zM74.77 567.55h.9v.9h-.9zM72.84 564.26h.9v.9h-.9zM75.74 566.83h.9v.9h-.9zM77.07 557.73h.9v.9h-.9zM70.9 573.62h.9v.9h-.9zM62.53 574.11h.9v.9h-.9zM75.48 571.27h.9v.9h-.9zM67.35 574.9h.9v.9h-.9zM75.76 566.41h.9v.9h-.9zM78.81 569.35h.9v.9h-.9zM75.1 568.98h.9v.9h-.9zM77.8 570.37h.9v.9h-.9zM80.82 570.8h.9v.9h-.9zM71.84 571.2h.9v.9h-.9zM79.7 567.61h.9v.9h-.9zM76.96 572.57h.9v.9h-.9zM74.08 561.04h.9v.9h-.9zM75.68 571.69h.9v.9h-.9zM75.69 567.38h.9v.9h-.9zM81.19 568.07h.9v.9h-.9zM71.81 569.03h.9v.9h-.9zM76.84 565.47h.9v.9h-.9zM69.87 581.8h.9v.9h-.9zM81.72 573.14h.9v.9h-.9zM82 571h.9v.9h-.9zM66.36 579.55h.9v.9h-.9zM81.35 570.78h.9v.9h-.9zM64.97 580.3h.9v.9h-.9zM82 566.17h.9v.9h-.9zM75.65 574.2h.9v.9h-.9zM74.56 576.04h.9v.9h-.9zM75.42 573.91h.9v.9h-.9zM75.44 564.27h.9v.9h-.9zM76.43 576.28h.9v.9h-.9zM80.85 576.41h.9v.9h-.9zM77.85 567.28h.9v.9h-.9zM75.1 562.44h.9v.9h-.9zM74.03 575.39h.9v.9h-.9zM63.89 576.07h.9v.9h-.9zM79.24 575.3h.9v.9h-.9zM70.24 569.9h.9v.9h-.9zM65.36 570.11h.9v.9h-.9zM77.75 579.17h.9v.9h-.9zM69.11 579.36h.9v.9h-.9zM77.2 567.97h.9v.9h-.9zM86.29 555.52h.9v.9h-.9zM74.65 572.1h.9v.9h-.9zM85.96 574.86h.9v.9h-.9zM86.65 567.2h.9v.9h-.9zM80.05 575.17h.9v.9h-.9zM77.64 571.61h.9v.9h-.9zM74.06 569.54h.9v.9h-.9zM68.67 582.07h.9v.9h-.9zM72.7 562.61h.9v.9h-.9zM76.36 570.34h.9v.9h-.9zM75.91 578.74h.9v.9h-.9zM74.45 570.02h.9v.9h-.9zM71.15 572.35h.9v.9h-.9zM72.74 572.77h.9v.9h-.9zM91.1 566.68h.9v.9h-.9zM70.58 581.27h.9v.9h-.9zM79.45 572.96h.9v.9h-.9zM78.69 573.26h.9v.9h-.9zM78.48 575.97h.9v.9h-.9zM80.19 575.05h.9v.9h-.9zM72.41 571.97h.9v.9h-.9zM71.24 576.69h.9v.9h-.9zM79.29 567.3h.9v.9h-.9zM78.01 581.57h.9v.9h-.9zM81.38 563.61h.9v.9h-.9zM74.52 574.01h.9v.9h-.9zM74.82 572.79h.9v.9h-.9zM81.09 570.17h.9v.9h-.9zM69.34 576.33h.9v.9h-.9zM74.5 571.7h.9v.9h-.9zM72.08 565.93h.9v.9h-.9zM68.57 571.85h.9v.9h-.9zM69.48 560.97h.9v.9h-.9zM80.93 563.58h.9v.9h-.9zM71.26 574.78h.9v.9h-.9zM62.56 581.68h.9v.9h-.9zM71.03 575.44h.9v.9h-.9zM72.51 573.3h.9v.9h-.9zM75.54 570.79h.9v.9h-.9zM65.57 568h.9v.9h-.9zM74.79 577.37h.9v.9h-.9zM77.61 560.58h.9v.9h-.9zM80.71 558.81h.9v.9h-.9zM84.35 544.22h.9v.9h-.9zM81.2 554.28h.9v.9h-.9zM78.63 551.09h.9v.9h-.9zM76.55 550.91h.9v.9h-.9zM75.19 574.58h.9v.9h-.9zM87.45 552.59h.9v.9h-.9zM83.25 548.13h.9v.9h-.9zM67.8 549.84h.9v.9h-.9zM80.62 565.08h.9v.9h-.9zM79.82 549.58h.9v.9h-.9zM78.94 550h.9v.9h-.9zM73.89 557.34h.9v.9h-.9zM78.25 551.53h.9v.9h-.9zM76.12 551.76h.9v.9h-.9zM81.04 564.58h.9v.9h-.9zM79.08 570.98h.9v.9h-.9zM72.91 561.1h.9v.9h-.9zM74.93 557.32h.9v.9h-.9zM80.45 559.43h.9v.9h-.9zM84.95 550.08h.9v.9h-.9zM74.55 557.32h.9v.9h-.9zM81.29 550.85h.9v.9h-.9zM83.92 565.13h.9v.9h-.9zM73.76 561.27h.9v.9h-.9zM84.46 541.41h.9v.9h-.9zM80.9 554.11h.9v.9h-.9zM73.76 567.48h.9v.9h-.9zM80.95 552.44h.9v.9h-.9zM81.95 559.27h.9v.9h-.9zM83.37 558.2h.9v.9h-.9zM81.79 547.51h.9v.9h-.9zM78.15 557.7h.9v.9h-.9zM67.86 575.54h.9v.9h-.9zM78.34 549.91h.9v.9h-.9zM72.02 561.34h.9v.9h-.9zM80.14 552.13h.9v.9h-.9zM78.17 551.07h.9v.9h-.9zM76.71 556.9h.9v.9h-.9zM77.18 561.74h.9v.9h-.9zM79.37 557.15h.9v.9h-.9zM81.78 563.44h.9v.9h-.9zM82.64 556.25h.9v.9h-.9zM79.28 551.09h.9v.9h-.9zM78.5 561.14h.9v.9h-.9zM80.99 553.01h.9v.9h-.9zM74.16 548.75h.9v.9h-.9zM81.41 562.03h.9v.9h-.9zM81.64 546.3h.9v.9h-.9zM79.07 557.88h.9v.9h-.9zM75.97 560.14h.9v.9h-.9zM79.12 550.98h.9v.9h-.9zM74.55 563.82h.9v.9h-.9zM81.56 549.49h.9v.9h-.9zM75.55 563.87h.9v.9h-.9zM82.61 552.8h.9v.9h-.9zM86.98 550.86h.9v.9h-.9zM75.37 565.27h.9v.9h-.9zM79.17 558.63h.9v.9h-.9zM80.17 549.4h.9v.9h-.9zM74.8 557.16h.9v.9h-.9zM86.16 546.6h.9v.9h-.9zM85.95 554.65h.9v.9h-.9zM75.13 560.01h.9v.9h-.9zM82.49 548.99h.9v.9h-.9zM70.67 562.67h.9v.9h-.9zM75.14 561.13h.9v.9h-.9zM71.63 558.99h.9v.9h-.9zM76.45 548.03h.9v.9h-.9zM78.94 557.61h.9v.9h-.9zM77.56 549.47h.9v.9h-.9zM80.93 544.2h.9v.9h-.9zM82.34 558.09h.9v.9h-.9zM87.34 558.31h.9v.9h-.9zM81.55 556.99h.9v.9h-.9zM80.12 547.34h.9v.9h-.9zM86.4 556.43h.9v.9h-.9zM78.75 549.14h.9v.9h-.9zM86.49 556.42h.9v.9h-.9zM74.82 562.78h.9v.9h-.9zM88.29 551.98h.9v.9h-.9zM81.75 552.48h.9v.9h-.9zM77.25 564.25h.9v.9h-.9zM93.46 550.47h.9v.9h-.9zM79.46 561.4h.9v.9h-.9zM78.67 561.35h.9v.9h-.9zM83.62 547.72h.9v.9h-.9zM75.31 557.71h.9v.9h-.9zM83.64 556.1h.9v.9h-.9zM85.42 544.54h.9v.9h-.9zM82.15 550.96h.9v.9h-.9zM80.44 557.88h.9v.9h-.9zM75.76 556.5h.9v.9h-.9zM74.92 560.1h.9v.9h-.9zM76.29 554.53h.9v.9h-.9zM80.96 551.32h.9v.9h-.9zM85.02 549.53h.9v.9h-.9zM83.71 556.1h.9v.9h-.9zM75.48 556.69h.9v.9h-.9zM76.35 555.36h.9v.9h-.9zM78.82 568.33h.9v.9h-.9zM78.17 567.01h.9v.9h-.9zM81.95 546.63h.9v.9h-.9zM69.91 565.1h.9v.9h-.9zM71.32 564.7h.9v.9h-.9zM84.49 556.43h.9v.9h-.9zM79.09 554.8h.9v.9h-.9zM81.13 553.51h.9v.9h-.9zM77.67 554.69h.9v.9h-.9zM85.1 549.6h.9v.9h-.9zM81.66 547.78h.9v.9h-.9zM76.89 548.56h.9v.9h-.9zM79.14 560.82h.9v.9h-.9zM81.33 552.19h.9v.9h-.9zM82.66 552.51h.9v.9h-.9zM81.62 557.01h.9v.9h-.9zM82.36 538.88h.9v.9h-.9zM74.33 563.65h.9v.9h-.9zM79.53 570.72h.9v.9h-.9zM78.98 552.91h.9v.9h-.9zM86.51 556.55h.9v.9h-.9zM88.27 555.44h.9v.9h-.9zM79.11 561.09h.9v.9h-.9zM76.57 554.72h.9v.9h-.9zM77.58 555.69h.9v.9h-.9zM83.39 551.31h.9v.9h-.9zM81.4 552.13h.9v.9h-.9zM83.84 536.41h.9v.9h-.9zM79.1 557.51h.9v.9h-.9zM75.31 564.73h.9v.9h-.9zM80.94 563.83h.9v.9h-.9zM84.18 558.19h.9v.9h-.9zM79.35 549.29h.9v.9h-.9zM79.04 553.48h.9v.9h-.9zM81.09 552.49h.9v.9h-.9zM93.29 539.48h.9v.9h-.9zM85.11 550.58h.9v.9h-.9zM78.95 562.47h.9v.9h-.9zM80.01 548.17h.9v.9h-.9zM81.8 553.9h.9v.9h-.9zM71.05 561.45h.9v.9h-.9zM75.41 553.34h.9v.9h-.9zM82.1 556.95h.9v.9h-.9zM78.74 570.58h.9v.9h-.9zM81.82 551.19h.9v.9h-.9zM81.03 554.74h.9v.9h-.9zM70.42 550.31h.9v.9h-.9zM73.96 572.14h.9v.9h-.9zM79.2 554.59h.9v.9h-.9zM77.55 563.47h.9v.9h-.9zM80.12 566.94h.9v.9h-.9zM83.42 565h.9v.9h-.9zM79.49 558.66h.9v.9h-.9zM78.12 555.79h.9v.9h-.9zM72.49 555.76h.9v.9h-.9zM75.87 553.73h.9v.9h-.9zM85.28 555.22h.9v.9h-.9zM85.32 559.04h.9v.9h-.9zM83.99 560.6h.9v.9h-.9zM77.37 562.39h.9v.9h-.9zM78.6 553.24h.9v.9h-.9zM85.18 567.51h.9v.9h-.9zM75.76 569.16h.9v.9h-.9zM83.6 548.86h.9v.9h-.9zM81.19 557.84h.9v.9h-.9zM81.63 552.94h.9v.9h-.9zM74.43 558.8h.9v.9h-.9zM83.74 559.31h.9v.9h-.9zM82.87 561.75h.9v.9h-.9zM75.7 557.73h.9v.9h-.9zM81.48 561.74h.9v.9h-.9zM80.68 559.02h.9v.9h-.9zM80.58 569.23h.9v.9h-.9zM70.53 560.26h.9v.9h-.9zM90.73 552.51h.9v.9h-.9zM72.06 560.57h.9v.9h-.9zM73.78 554.53h.9v.9h-.9zM80.97 566.57h.9v.9h-.9zM82.01 559.36h.9v.9h-.9zM84.41 555.23h.9v.9h-.9zM76.28 557.1h.9v.9h-.9zM81.46 553.54h.9v.9h-.9zM77.11 555.04h.9v.9h-.9zM73.49 552.45h.9v.9h-.9zM79.61 553.86h.9v.9h-.9zM80.16 564.95h.9v.9h-.9zM81.3 555.19h.9v.9h-.9zM74.92 551.44h.9v.9h-.9zM81.63 549.63h.9v.9h-.9zM81.86 548.23h.9v.9h-.9zM80.58 555.26h.9v.9h-.9zM84.31 551.47h.9v.9h-.9zM78.39 558.33h.9v.9h-.9zM80.24 566.75h.9v.9h-.9zM78.89 553.07h.9v.9h-.9zM78.62 559.69h.9v.9h-.9zM81.01 559.98h.9v.9h-.9zM74.01 574.72h.9v.9h-.9zM87.97 552.08h.9v.9h-.9zM74.76 559.44h.9v.9h-.9zM81.8 540.82h.9v.9h-.9zM80.06 546.47h.9v.9h-.9zM81.98 563.95h.9v.9h-.9zM84.48 544.23h.9v.9h-.9zM85.98 559.03h.9v.9h-.9zM78.44 559.96h.9v.9h-.9zM86.57 550.8h.9v.9h-.9zM79.93 552.44h.9v.9h-.9zM85.01 539.82h.9v.9h-.9zM86.15 546.91h.9v.9h-.9zM84.01 543.68h.9v.9h-.9zM75.94 554.05h.9v.9h-.9zM83.59 543.91h.9v.9h-.9zM82.61 550.7h.9v.9h-.9zM85.38 551.49h.9v.9h-.9zM82.11 553.91h.9v.9h-.9zM87.76 550.06h.9v.9h-.9zM79.89 568.8h.9v.9h-.9zM80.34 560.25h.9v.9h-.9zM76.81 558.77h.9v.9h-.9zM70.18 561.26h.9v.9h-.9zM77.2 547.65h.9v.9h-.9zM73.87 566.2h.9v.9h-.9zM81.85 545.4h.9v.9h-.9zM87.85 547.86h.9v.9h-.9zM78.4 558.33h.9v.9h-.9zM75.08 547.91h.9v.9h-.9zM76.77 565.1h.9v.9h-.9zM84.12 543.93h.9v.9h-.9zM85.21 553.79h.9v.9h-.9zM82.17 555.32h.9v.9h-.9zM81.79 548.74h.9v.9h-.9zM76.06 553.32h.9v.9h-.9zM78.4 560.72h.9v.9h-.9zM74.73 568.7h.9v.9h-.9zM77.26 553.5h.9v.9h-.9zM83.05 557.37h.9v.9h-.9zM78.53 549.81h.9v.9h-.9zM75.67 547.75h.9v.9h-.9zM84.95 560.65h.9v.9h-.9zM88.09 555.43h.9v.9h-.9zM81.44 560.19h.9v.9h-.9zM84.12 552.41h.9v.9h-.9zM81.53 569.13h.9v.9h-.9zM72.66 550.39h.9v.9h-.9zM75.83 562.79h.9v.9h-.9zM85.14 551.42h.9v.9h-.9zM82.91 554.33h.9v.9h-.9zM81.3 551.92h.9v.9h-.9zM79.88 556.02h.9v.9h-.9zM84.9 568.06h.9v.9h-.9zM72.14 563.09h.9v.9h-.9zM79.98 562.23h.9v.9h-.9zM84.6 558.87h.9v.9h-.9zM83.5 548.26h.9v.9h-.9zM72.61 570.18h.9v.9h-.9zM85.24 547.43h.9v.9h-.9zM85.59 557.68h.9v.9h-.9zM69.37 566.74h.9v.9h-.9zM75.72 565.49h.9v.9h-.9zM77.05 552.6h.9v.9h-.9zM73.3 557.73h.9v.9h-.9zM84.41 549.62h.9v.9h-.9zM71.94 573.55h.9v.9h-.9zM88 556.71h.9v.9h-.9zM77.67 549.29h.9v.9h-.9zM72.9 562.91h.9v.9h-.9zM85.63 546.55h.9v.9h-.9zM80 554.22h.9v.9h-.9zM78.89 559.75h.9v.9h-.9zM89.07 547.67h.9v.9h-.9zM83.68 561.29h.9v.9h-.9zM78.77 555.62h.9v.9h-.9zM74.18 565.66h.9v.9h-.9zM77.7 552.86h.9v.9h-.9zM80.29 550.34h.9v.9h-.9zM75.48 556.19h.9v.9h-.9zM86.45 551.67h.9v.9h-.9zM82.29 545.49h.9v.9h-.9zM74.61 557.55h.9v.9h-.9zM82.08 536.74h.9v.9h-.9zM83.49 548.56h.9v.9h-.9zM75.67 542h.9v.9h-.9zM85.25 539.47h.9v.9h-.9zM87.84 549.53h.9v.9h-.9zM86.13 542.05h.9v.9h-.9zM83.78 541.47h.9v.9h-.9zM83.37 546.95h.9v.9h-.9zM82.55 550.87h.9v.9h-.9zM96.52 538.89h.9v.9h-.9zM85.66 549.27h.9v.9h-.9zM87.11 542.9h.9v.9h-.9zM81.69 551.25h.9v.9h-.9zM87.02 547.15h.9v.9h-.9zM80.12 549.52h.9v.9h-.9zM87.84 543.03h.9v.9h-.9zM87.12 556.58h.9v.9h-.9zM74.94 550.62h.9v.9h-.9zM78.34 538.61h.9v.9h-.9zM82.86 548.37h.9v.9h-.9zM84.25 538.32h.9v.9h-.9zM77.05 543.51h.9v.9h-.9zM84.07 540.27h.9v.9h-.9zM76.73 556.72h.9v.9h-.9zM79.95 545.08h.9v.9h-.9zM81.35 542.31h.9v.9h-.9zM84.19 543.26h.9v.9h-.9zM86.99 537.55h.9v.9h-.9zM76.81 557.81h.9v.9h-.9zM83.64 549.46h.9v.9h-.9zM89.71 546.78h.9v.9h-.9zM84.18 536.11h.9v.9h-.9zM76.25 552.42h.9v.9h-.9zM87.28 547.45h.9v.9h-.9zM75.97 534.79h.9v.9h-.9zM78.89 539.5h.9v.9h-.9zM84.77 539h.9v.9h-.9zM91.66 539.62h.9v.9h-.9zM81.28 550.57h.9v.9h-.9zM85.59 539.5h.9v.9h-.9zM87.98 555h.9v.9h-.9zM78.05 545.01h.9v.9h-.9zM78.78 535.18h.9v.9h-.9zM87.04 548.25h.9v.9h-.9zM88.73 546.31h.9v.9h-.9zM74.23 547.19h.9v.9h-.9zM80.76 539.06h.9v.9h-.9zM78.63 550.66h.9v.9h-.9zM82.56 556.57h.9v.9h-.9zM86.29 533.55h.9v.9h-.9zM88.34 551.09h.9v.9h-.9zM84.15 538.04h.9v.9h-.9zM92.59 535.44h.9v.9h-.9zM83.59 534.2h.9v.9h-.9zM77.9 536.75h.9v.9h-.9zM89.3 550.47h.9v.9h-.9zM82.03 537.72h.9v.9h-.9zM83.71 547.24h.9v.9h-.9zM76.57 540.15h.9v.9h-.9zM83.5 549.15h.9v.9h-.9zM84.36 547.49h.9v.9h-.9zM77.92 532.2h.9v.9h-.9zM85.52 539.38h.9v.9h-.9zM83.4 542.98h.9v.9h-.9zM86.34 540.01h.9v.9h-.9zM91.04 543.49h.9v.9h-.9zM86.58 547.99h.9v.9h-.9zM89.06 546.1h.9v.9h-.9zM75.46 543.44h.9v.9h-.9zM93.08 545.53h.9v.9h-.9zM86.74 547.03h.9v.9h-.9zM80.87 541.86h.9v.9h-.9zM80.84 552.41h.9v.9h-.9zM85.78 554.8h.9v.9h-.9zM86.44 555.29h.9v.9h-.9zM86.24 537.66h.9v.9h-.9zM92.52 544.9h.9v.9h-.9zM89.83 544.84h.9v.9h-.9zM82.4 546.36h.9v.9h-.9zM78.5 539.44h.9v.9h-.9zM79.65 543.02h.9v.9h-.9zM77.35 546h.9v.9h-.9zM85.49 556.33h.9v.9h-.9zM93.03 542.55h.9v.9h-.9zM88.34 542.69h.9v.9h-.9zM85.92 544.34h.9v.9h-.9zM81.35 546.07h.9v.9h-.9zM76.74 549.28h.9v.9h-.9zM82.58 539.09h.9v.9h-.9zM82.23 548.62h.9v.9h-.9zM80.66 548.55h.9v.9h-.9zM86.8 553.34h.9v.9h-.9zM78.66 545.64h.9v.9h-.9zM86.52 553.08h.9v.9h-.9zM85.29 549.05h.9v.9h-.9zM76.78 543.35h.9v.9h-.9zM92.18 541.39h.9v.9h-.9zM94.65 538.23h.9v.9h-.9zM82.63 536.09h.9v.9h-.9zM87.13 545.78h.9v.9h-.9zM93.95 543.57h.9v.9h-.9zM82.77 537.13h.9v.9h-.9zM83.59 550.59h.9v.9h-.9zM87.65 551.24h.9v.9h-.9zM88.27 543.71h.9v.9h-.9zM86.98 545.29h.9v.9h-.9zM77.42 556.51h.9v.9h-.9zM85.85 538.45h.9v.9h-.9zM85.9 546.22h.9v.9h-.9zM88.92 552.21h.9v.9h-.9zM68.98 551.83h.9v.9h-.9zM91.56 537.67h.9v.9h-.9zM74.81 548.83h.9v.9h-.9zM85.66 546.64h.9v.9h-.9zM78.51 543.6h.9v.9h-.9zM84.96 549.1h.9v.9h-.9zM94.85 544.11h.9v.9h-.9zM81.02 531.98h.9v.9h-.9zM89.32 542.96h.9v.9h-.9zM83.46 539.38h.9v.9h-.9zM87.64 533.69h.9v.9h-.9zM84.54 545.58h.9v.9h-.9zM85.49 552.25h.9v.9h-.9zM83.51 545.67h.9v.9h-.9zM88.25 534.94h.9v.9h-.9zM82.55 545.74h.9v.9h-.9zM88.74 539.2h.9v.9h-.9zM87.99 546.28h.9v.9h-.9zM76.62 538.14h.9v.9h-.9zM55.89 580.47h.9v.9h-.9zM64.03 581.32h.9v.9h-.9zM67.08 576.55h.9v.9h-.9zM68.31 581.05h.9v.9h-.9zM65.34 580.3h.9v.9h-.9zM56.61 581.13h.9v.9h-.9zM57.87 575.66h.9v.9h-.9zM61.26 579.72h.9v.9h-.9zM62.73 577.91h.9v.9h-.9zM58.03 580.33h.9v.9h-.9zM59.32 574.72h.9v.9h-.9zM63.46 583.89h.9v.9h-.9zM60.99 575.66h.9v.9h-.9zM69.88 583.87h.9v.9h-.9zM61.54 578.48h.9v.9h-.9zM63.67 582.3h.9v.9h-.9zM65.21 572.48h.9v.9h-.9zM57.52 575.56h.9v.9h-.9zM65.16 579.06h.9v.9h-.9zM71.91 576.83h.9v.9h-.9zM64.53 579.04h.9v.9h-.9zM64.42 583.83h.9v.9h-.9zM69.46 576.02h.9v.9h-.9zM66.41 577.22h.9v.9h-.9zM63.55 579.46h.9v.9h-.9zM63.1 577.38h.9v.9h-.9zM70.76 577.01h.9v.9h-.9zM66.5 584.25h.9v.9h-.9zM66.12 582.07h.9v.9h-.9zM69.92 581.75h.9v.9h-.9zM71.57 572.92h.9v.9h-.9zM72.76 577.73h.9v.9h-.9zM54.29 578.03h.9v.9h-.9zM56.05 579.9h.9v.9h-.9zM55.57 576.6h.9v.9h-.9zM64.48 579.33h.9v.9h-.9zM59.02 578.76h.9v.9h-.9zM62.51 579.33h.9v.9h-.9zM62.97 578.25h.9v.9h-.9zM67.38 572.89h.9v.9h-.9zM60.54 579.8h.9v.9h-.9zM61 577.39h.9v.9h-.9zM60.82 580.02h.9v.9h-.9zM69.22 577.49h.9v.9h-.9zM61.67 580.41h.9v.9h-.9zM61.79 572.54h.9v.9h-.9zM64.34 577.52h.9v.9h-.9zM60.14 581.55h.9v.9h-.9zM63.22 577.04h.9v.9h-.9zM52.12 574.63h.9v.9h-.9zM63.07 578.59h.9v.9h-.9zM65.19 579.46h.9v.9h-.9zM60.61 575h.9v.9h-.9zM57.53 579.29h.9v.9h-.9zM57.26 582.39h.9v.9h-.9zM56.37 573.79h.9v.9h-.9zM62.03 573.05h.9v.9h-.9zM71.13 574.46h.9v.9h-.9zM62.74 578.2h.9v.9h-.9zM58.9 573.51h.9v.9h-.9zM53.7 583.27h.9v.9h-.9zM55.69 581.95h.9v.9h-.9zM62.93 581.91h.9v.9h-.9zM60.43 581.83h.9v.9h-.9zM67.48 580.45h.9v.9h-.9zM70.23 577.39h.9v.9h-.9zM70.72 575.52h.9v.9h-.9zM71.34 568.41h.9v.9h-.9zM63.07 576.25h.9v.9h-.9zM63.01 582.54h.9v.9h-.9zM66.59 578.82h.9v.9h-.9zM71.51 572.75h.9v.9h-.9zM58.93 584.75h.9v.9h-.9zM64.64 571.66h.9v.9h-.9zM64.7 574.7h.9v.9h-.9zM70.39 581.89h.9v.9h-.9zM60.27 583.82h.9v.9h-.9zM58.83 582.74h.9v.9h-.9zM65.89 578.16h.9v.9h-.9zM55.89 579.04h.9v.9h-.9zM51.55 578.67h.9v.9h-.9zM53.75 584.46h.9v.9h-.9zM58.17 571.34h.9v.9h-.9zM65.92 579.86h.9v.9h-.9zM66.87 578.69h.9v.9h-.9zM59.78 569.32h.9v.9h-.9zM65.4 581.96h.9v.9h-.9zM60.04 574.57h.9v.9h-.9zM62.79 573.29h.9v.9h-.9zM63.04 581.64h.9v.9h-.9zM70.55 578.85h.9v.9h-.9zM63.98 581.43h.9v.9h-.9zM70 576.93h.9v.9h-.9zM56.86 577.14h.9v.9h-.9zM56.71 576.83h.9v.9h-.9zM62.4 580.26h.9v.9h-.9zM63.78 579.13h.9v.9h-.9zM61.21 580.7h.9v.9h-.9zM67.43 580.99h.9v.9h-.9zM70.49 576.96h.9v.9h-.9zM61.74 584.99h.9v.9h-.9zM64.01 580.28h.9v.9h-.9zM61.32 582.56h.9v.9h-.9zM60.99 575.83h.9v.9h-.9zM62.7 577.53h.9v.9h-.9zM67.17 577.12h.9v.9h-.9zM63.62 578.17h.9v.9h-.9zM64.7 576.6h.9v.9h-.9zM68.52 573.34h.9v.9h-.9zM61.07 576.84h.9v.9h-.9zM66.24 578.68h.9v.9h-.9zM65.42 577.53h.9v.9h-.9zM59.41 575.66h.9v.9h-.9zM61.33 577.4h.9v.9h-.9zM64.4 580.02h.9v.9h-.9zM67.88 577.95h.9v.9h-.9zM88.26 549.27h.9v.9h-.9zM95.55 566.33h.9v.9h-.9zM112.53 564.18h.9v.9h-.9zM110.82 584.48h.9v.9h-.9zM85.56 576.52h.9v.9h-.9zM105.23 578.15h.9v.9h-.9zM94.91 573.46h.9v.9h-.9zM90.67 561.16h.9v.9h-.9zM95.17 583.39h.9v.9h-.9zM93.06 573.46h.9v.9h-.9zM95.59 553.49h.9v.9h-.9zM97.18 569.92h.9v.9h-.9zM88.59 569.61h.9v.9h-.9zM88.59 551.48h.9v.9h-.9zM96.98 559.18h.9v.9h-.9zM86.16 542.45h.9v.9h-.9zM95.21 564.92h.9v.9h-.9zM90.86 564.25h.9v.9h-.9zM81.26 566.71h.9v.9h-.9zM98.75 565.34h.9v.9h-.9zM89.48 562.95h.9v.9h-.9zM96.17 574.83h.9v.9h-.9zM97.48 565.05h.9v.9h-.9zM88.49 572.34h.9v.9h-.9zM105.55 556.08h.9v.9h-.9zM100.75 565.7h.9v.9h-.9zM94.58 546.57h.9v.9h-.9zM110.81 539.62h.9v.9h-.9zM97.73 557.49h.9v.9h-.9zM105.3 556.93h.9v.9h-.9zM95.35 569.33h.9v.9h-.9zM99.1 555.77h.9v.9h-.9zM101.13 566.7h.9v.9h-.9zM103.89 555.88h.9v.9h-.9zM94.59 557.31h.9v.9h-.9zM87.47 565.05h.9v.9h-.9zM98.68 579h.9v.9h-.9zM92.08 566.64h.9v.9h-.9zM105.27 560.64h.9v.9h-.9zM95.57 563.61h.9v.9h-.9zM88.8 550.17h.9v.9h-.9zM105.03 564.07h.9v.9h-.9zM94.33 547.13h.9v.9h-.9zM96.06 576.04h.9v.9h-.9zM84.68 551.33h.9v.9h-.9zM104.95 579.11h.9v.9h-.9zM108.92 555.39h.9v.9h-.9zM100.38 553.02h.9v.9h-.9zM99.67 557.64h.9v.9h-.9zM96.76 578.03h.9v.9h-.9zM98.03 559.12h.9v.9h-.9zM95.5 565.18h.9v.9h-.9zM90.41 564.47h.9v.9h-.9zM100.37 580.62h.9v.9h-.9zM76.54 547.8h.9v.9h-.9zM83.92 572.45h.9v.9h-.9zM116.84 564.31h.9v.9h-.9zM96.09 575.59h.9v.9h-.9zM73.15 559.86h.9v.9h-.9zM67.12 563.85h.9v.9h-.9zM90.45 556.22h.9v.9h-.9zM98.04 555.04h.9v.9h-.9zM104.94 561.97h.9v.9h-.9zM90.99 573.04h.9v.9h-.9zM87.61 576.87h.9v.9h-.9zM103.62 563.67h.9v.9h-.9zM103.86 581.17h.9v.9h-.9zM107.31 562.02h.9v.9h-.9zM94.51 575.19h.9v.9h-.9zM81.86 554.83h.9v.9h-.9zM99.33 568.77h.9v.9h-.9zM111.61 582.94h.9v.9h-.9zM97.89 567.25h.9v.9h-.9zM83.24 559.8h.9v.9h-.9zM97.33 559.31h.9v.9h-.9zM95.54 569.23h.9v.9h-.9zM86.52 555.25h.9v.9h-.9zM79.16 575.61h.9v.9h-.9zM85.6 541.77h.9v.9h-.9zM101.86 559.46h.9v.9h-.9zM103.61 557.62h.9v.9h-.9zM113.93 570.48h.9v.9h-.9zM96.34 563.37h.9v.9h-.9zM93.17 571.6h.9v.9h-.9zM112.8 556.99h.9v.9h-.9zM85.31 569.09h.9v.9h-.9zM104.5 544.29h.9v.9h-.9zM88.84 550.18h.9v.9h-.9zM100 568h.9v.9h-.9zM88.47 548.64h.9v.9h-.9zM101.07 537.63h.9v.9h-.9zM100.72 560.16h.9v.9h-.9zM112.06 573.78h.9v.9h-.9zM89.85 558.75h.9v.9h-.9zM92.54 553.38h.9v.9h-.9zM95.73 573.42h.9v.9h-.9zM81.61 559.3h.9v.9h-.9zM108.25 570.78h.9v.9h-.9zM87.78 552.46h.9v.9h-.9zM59.57 581.92h.9v.9h-.9zM79.34 583.57h.9v.9h-.9zM61.13 582.09h.9v.9h-.9zM64.22 583h.9v.9h-.9zM84.96 583.05h.9v.9h-.9zM69.14 584.56h.9v.9h-.9zM74.58 583.32h.9v.9h-.9zM73.89 583.07h.9v.9h-.9zM67.13 582.56h.9v.9h-.9zM59.16 582.04h.9v.9h-.9zM72.94 584.01h.9v.9h-.9zM69.72 584.27h.9v.9h-.9zM73.27 583.62h.9v.9h-.9zM59.31 584.08h.9v.9h-.9zM79.67 584.12h.9v.9h-.9zM80.27 583.04h.9v.9h-.9zM58.38 584.73h.9v.9h-.9zM62.27 583.74h.9v.9h-.9zM66.13 583.52h.9v.9h-.9zM65.34 582.97h.9v.9h-.9zM70 581.61h.9v.9h-.9zM59.1 582.39h.9v.9h-.9zM60.72 581h.9v.9h-.9zM65.59 584.23h.9v.9h-.9zM73.89 582.28h.9v.9h-.9zM79.95 581.85h.9v.9h-.9zM62.36 583.15h.9v.9h-.9zM80.32 583.62h.9v.9h-.9zM66.78 582.71h.9v.9h-.9zM68.88 583.54h.9v.9h-.9zM75.16 584.87h.9v.9h-.9zM75.23 583.52h.9v.9h-.9zM69.97 583.48h.9v.9h-.9zM73.57 583.39h.9v.9h-.9zM61.79 584.54h.9v.9h-.9zM63.56 584.44h.9v.9h-.9zM60.33 583.6h.9v.9h-.9zM71.94 583.64h.9v.9h-.9zM70.29 583.87h.9v.9h-.9zM57.01 582.41h.9v.9h-.9zM66.78 582.59h.9v.9h-.9zM61.55 583.53h.9v.9h-.9zM79.56 582.95h.9v.9h-.9zM73.48 583.68h.9v.9h-.9z" fill="#000"/>
<rect x="48.5" y="500.9" width="97" height="88.7" fill="none" stroke="#555" stroke-width="1.2"/>
<rect x="78.4" y="535" width="55.9" height="51.3" fill="none" stroke="#333" stroke-width="1.1"/>
<text x="100.9" y="568.3" font-size="10.1">30%</text>
<path d="M46.7 586.76H48.5M46.7 583.31H48.5M46.7 579.87H48.5M46.7 576.42H48.5M45.9 572.98H48.5M46.7 569.54H48.5M46.7 566.09H48.5M46.7 562.65H48.5M46.7 559.2H48.5M45.9 555.76H48.5M46.7 552.32H48.5M46.7 548.87H48.5M46.7 545.43H48.5M46.7 541.98H48.5M45.9 538.54H48.5M46.7 535.1H48.5M46.7 531.65H48.5M46.7 528.21H48.5M46.7 524.76H48.5M45.9 521.32H48.5M46.7 517.88H48.5M46.7 514.43H48.5M46.7 510.99H48.5M46.7 507.54H48.5M45.9 504.1H48.5M51.95 589.6V592.4M54.32 589.6V592.4M56.26 589.6V592.4M57.9 589.6V592.4M59.33 589.6V592.4M60.58 589.6V592.4M61.7 589.6V594.2M69.08 589.6V592.4M73.39 589.6V592.4M76.45 589.6V592.4M78.82 589.6V592.4M80.76 589.6V592.4M82.4 589.6V592.4M83.83 589.6V592.4M85.08 589.6V592.4M86.2 589.6V594.2M93.58 589.6V592.4M97.89 589.6V592.4M100.95 589.6V592.4M103.32 589.6V592.4M105.26 589.6V592.4M106.9 589.6V592.4M108.33 589.6V592.4M109.58 589.6V592.4M110.7 589.6V594.2M118.08 589.6V592.4M122.39 589.6V592.4M125.45 589.6V592.4M127.82 589.6V592.4M129.76 589.6V592.4M131.4 589.6V592.4M132.83 589.6V592.4M134.08 589.6V592.4M135.2 589.6V594.2M142.58 589.6V592.4" fill="none" stroke="#222" stroke-width="0.9"/>
<text x="43.1" y="573.88" font-size="5" text-anchor="middle" font-weight="normal" fill="#333" transform="rotate(-90 43.1 573.88)">50</text>
<text x="43.1" y="556.66" font-size="5" text-anchor="middle" font-weight="normal" fill="#333" transform="rotate(-90 43.1 556.66)">100</text>
<text x="43.1" y="539.44" font-size="5" text-anchor="middle" font-weight="normal" fill="#333" transform="rotate(-90 43.1 539.44)">150</text>
<text x="43.1" y="522.22" font-size="5" text-anchor="middle" font-weight="normal" fill="#333" transform="rotate(-90 43.1 522.22)">200</text>
<text x="43.1" y="505" font-size="5" text-anchor="middle" font-weight="normal" fill="#333" transform="rotate(-90 43.1 505)">250</text>
<text x="60.5" y="600.9" font-size="5.6" text-anchor="middle" font-weight="normal" fill="#222">10</text>
<text x="63.2" y="597.2" font-size="3.6" font-weight="normal" fill="#222">2</text>
<text x="85" y="600.9" font-size="5.6" text-anchor="middle" font-weight="normal" fill="#222">10</text>
<text x="87.7" y="597.2" font-size="3.6" font-weight="normal" fill="#222">3</text>
<text x="109.5" y="600.9" font-size="5.6" text-anchor="middle" font-weight="normal" fill="#222">10</text>
<text x="112.2" y="597.2" font-size="3.6" font-weight="normal" fill="#222">4</text>
<text x="134" y="600.9" font-size="5.6" text-anchor="middle" font-weight="normal" fill="#222">10</text>
<text x="136.7" y="597.2" font-size="3.6" font-weight="normal" fill="#222">5</text>
<path d="M193.93 583.56h.9v.9h-.9zM178.59 571.11h.9v.9h-.9zM172.42 569.73h.9v.9h-.9zM199.03 547.12h.9v.9h-.9zM185.51 556.96h.9v.9h-.9zM184.36 566.12h.9v.9h-.9zM187.23 576.29h.9v.9h-.9zM189.02 578.27h.9v.9h-.9zM192.87 578.94h.9v.9h-.9zM179.89 570.19h.9v.9h-.9zM182.2 554.34h.9v.9h-.9zM200.1 568.71h.9v.9h-.9zM185.42 538.33h.9v.9h-.9zM183.3 574.79h.9v.9h-.9zM183.51 558.1h.9v.9h-.9zM196.39 561.06h.9v.9h-.9zM182.52 563.73h.9v.9h-.9zM183.26 578.34h.9v.9h-.9zM189.44 564.12h.9v.9h-.9zM182.3 562.15h.9v.9h-.9zM198.05 561.13h.9v.9h-.9zM190.09 545.02h.9v.9h-.9zM187.54 573.73h.9v.9h-.9zM194.82 569.02h.9v.9h-.9zM189.51 569.1h.9v.9h-.9zM186.62 554.66h.9v.9h-.9zM189.64 563.61h.9v.9h-.9zM189.98 574.84h.9v.9h-.9zM186.25 559.43h.9v.9h-.9zM187.42 549.19h.9v.9h-.9zM187.17 553.77h.9v.9h-.9zM188.52 566.55h.9v.9h-.9zM183.41 549.76h.9v.9h-.9zM185.46 556.38h.9v.9h-.9zM183.99 573.81h.9v.9h-.9zM192.38 548.67h.9v.9h-.9zM192.24 582.28h.9v.9h-.9zM193.7 568.51h.9v.9h-.9zM182.63 545.65h.9v.9h-.9zM185.77 568.64h.9v.9h-.9zM177.15 549.57h.9v.9h-.9zM200.25 566.45h.9v.9h-.9zM191.05 557.6h.9v.9h-.9zM173.47 562.75h.9v.9h-.9zM195.35 556.53h.9v.9h-.9zM182.94 565.21h.9v.9h-.9zM177.09 561.07h.9v.9h-.9zM180.92 576.2h.9v.9h-.9zM186.25 576.06h.9v.9h-.9zM184.69 537.94h.9v.9h-.9zM191.79 576.1h.9v.9h-.9zM184.51 542.35h.9v.9h-.9zM181.32 570.13h.9v.9h-.9zM195.64 560.65h.9v.9h-.9zM180.79 555.17h.9v.9h-.9zM192.88 576.02h.9v.9h-.9zM178.04 546.34h.9v.9h-.9zM172.89 555.78h.9v.9h-.9zM175.57 556.48h.9v.9h-.9zM186.29 570.28h.9v.9h-.9zM181.43 544.89h.9v.9h-.9zM181.93 556.37h.9v.9h-.9zM173.87 542.97h.9v.9h-.9zM196.7 576.94h.9v.9h-.9zM196.17 566.51h.9v.9h-.9zM181.93 563.91h.9v.9h-.9zM174.63 574.41h.9v.9h-.9zM187.16 561.14h.9v.9h-.9zM197.55 583.4h.9v.9h-.9zM191.79 560.54h.9v.9h-.9zM186.15 572.05h.9v.9h-.9zM186.58 578.3h.9v.9h-.9zM179.99 535.55h.9v.9h-.9zM174.5 573.44h.9v.9h-.9zM193.33 565.01h.9v.9h-.9zM189.22 565.99h.9v.9h-.9zM186.42 559.02h.9v.9h-.9zM182 580.12h.9v.9h-.9zM183.04 564.49h.9v.9h-.9zM194.24 577.5h.9v.9h-.9zM182.09 568.22h.9v.9h-.9zM177.35 566.68h.9v.9h-.9zM187.51 564.99h.9v.9h-.9zM186.34 569.64h.9v.9h-.9zM185.67 558.76h.9v.9h-.9zM177.7 561.99h.9v.9h-.9zM197.41 562.1h.9v.9h-.9zM180.11 558.91h.9v.9h-.9zM175.98 571.16h.9v.9h-.9zM177.55 576.58h.9v.9h-.9zM192.06 572.28h.9v.9h-.9zM193.05 563.92h.9v.9h-.9zM171.62 564.19h.9v.9h-.9zM189.99 545.38h.9v.9h-.9zM175.73 578.92h.9v.9h-.9zM188.45 582.12h.9v.9h-.9zM190.21 565.85h.9v.9h-.9zM188.38 575.79h.9v.9h-.9zM184.88 562.34h.9v.9h-.9zM187.5 561h.9v.9h-.9zM203.58 555.27h.9v.9h-.9zM173.47 548.58h.9v.9h-.9zM193.13 559.86h.9v.9h-.9zM186.31 562.28h.9v.9h-.9zM187.23 546.56h.9v.9h-.9zM185.75 557.71h.9v.9h-.9zM193.43 572.91h.9v.9h-.9zM175.43 552.71h.9v.9h-.9zM189.46 580.2h.9v.9h-.9zM190.99 563.07h.9v.9h-.9zM193.64 535.04h.9v.9h-.9zM180.98 552.61h.9v.9h-.9zM177.18 572.17h.9v.9h-.9zM187.23 568.61h.9v.9h-.9zM184.08 572.89h.9v.9h-.9zM191.12 557.72h.9v.9h-.9zM192.3 553.2h.9v.9h-.9zM198.66 548.44h.9v.9h-.9zM182.9 551.24h.9v.9h-.9zM185.41 581.74h.9v.9h-.9zM195.98 569.91h.9v.9h-.9zM180.57 576.5h.9v.9h-.9zM192.52 564.5h.9v.9h-.9zM204.27 556.41h.9v.9h-.9zM174.84 562.27h.9v.9h-.9zM194.86 556.43h.9v.9h-.9zM181.58 549.57h.9v.9h-.9zM191.03 575.57h.9v.9h-.9zM189.67 568.14h.9v.9h-.9zM192.77 563.45h.9v.9h-.9zM190.65 575.43h.9v.9h-.9zM195.17 571.54h.9v.9h-.9zM185.76 574.02h.9v.9h-.9zM173.11 542.55h.9v.9h-.9zM197.63 566.76h.9v.9h-.9zM176.96 557.6h.9v.9h-.9zM183.95 565.92h.9v.9h-.9zM179.19 577.7h.9v.9h-.9zM190.29 543.53h.9v.9h-.9zM175.6 565.78h.9v.9h-.9zM187.22 559.59h.9v.9h-.9zM185.2 567.07h.9v.9h-.9zM176.22 565.77h.9v.9h-.9zM202.78 556.75h.9v.9h-.9zM177.22 573.48h.9v.9h-.9zM195.57 578.33h.9v.9h-.9zM180.19 564.06h.9v.9h-.9zM186.69 562.32h.9v.9h-.9zM188.22 578.85h.9v.9h-.9zM189.37 564.87h.9v.9h-.9zM190.86 566.13h.9v.9h-.9zM194.59 576.66h.9v.9h-.9zM201.39 542.03h.9v.9h-.9zM185.89 561.07h.9v.9h-.9zM179.42 565.97h.9v.9h-.9zM189.3 571.73h.9v.9h-.9zM184.02 548.07h.9v.9h-.9zM189.48 572.79h.9v.9h-.9zM201.72 576.96h.9v.9h-.9zM185.24 550.31h.9v.9h-.9zM206.46 556.35h.9v.9h-.9zM186.65 574.59h.9v.9h-.9zM189.05 582.06h.9v.9h-.9zM177 556.17h.9v.9h-.9zM186.48 549.21h.9v.9h-.9zM180.3 582.75h.9v.9h-.9zM187.43 563.69h.9v.9h-.9zM180.63 565.62h.9v.9h-.9zM184.85 551.19h.9v.9h-.9zM191.31 548.59h.9v.9h-.9zM195.19 560.66h.9v.9h-.9zM187.38 553.85h.9v.9h-.9zM199.37 582.75h.9v.9h-.9zM201.7 576.48h.9v.9h-.9zM195.76 557.22h.9v.9h-.9zM195.38 559.39h.9v.9h-.9zM184.72 547.5h.9v.9h-.9zM185.56 570.19h.9v.9h-.9zM184.62 550.77h.9v.9h-.9zM192.25 576.74h.9v.9h-.9zM184.41 575.1h.9v.9h-.9zM192.91 552.34h.9v.9h-.9zM184.83 541.05h.9v.9h-.9zM176.92 570.52h.9v.9h-.9zM178.15 570.06h.9v.9h-.9zM187.97 538.43h.9v.9h-.9zM185.22 566.6h.9v.9h-.9zM179.52 544.34h.9v.9h-.9zM183.64 553.78h.9v.9h-.9zM185.99 540h.9v.9h-.9zM179.13 569.17h.9v.9h-.9zM177.95 576.08h.9v.9h-.9zM178.42 563.15h.9v.9h-.9zM195.5 571.77h.9v.9h-.9zM182.51 545.37h.9v.9h-.9zM172.42 580.54h.9v.9h-.9zM189.18 565.74h.9v.9h-.9zM195.11 566.9h.9v.9h-.9zM179.31 563.65h.9v.9h-.9zM184.33 564.82h.9v.9h-.9zM204.97 572.5h.9v.9h-.9zM187.28 561.76h.9v.9h-.9zM179.68 552.15h.9v.9h-.9zM172.99 541.02h.9v.9h-.9zM177.61 538.74h.9v.9h-.9zM196.07 581.14h.9v.9h-.9zM190.37 532.29h.9v.9h-.9zM185.26 552.06h.9v.9h-.9zM194.31 570.76h.9v.9h-.9zM173.42 556.42h.9v.9h-.9zM179.03 579.86h.9v.9h-.9zM184.31 552.3h.9v.9h-.9zM177.8 539.44h.9v.9h-.9zM178.34 576.63h.9v.9h-.9zM184.18 575.59h.9v.9h-.9zM175.92 576.81h.9v.9h-.9zM172.05 564.6h.9v.9h-.9zM183.4 566.6h.9v.9h-.9zM177.16 576.15h.9v.9h-.9zM177.43 557.5h.9v.9h-.9zM190.92 566.76h.9v.9h-.9zM178.96 581.07h.9v.9h-.9zM189.23 578.31h.9v.9h-.9zM183.66 581.63h.9v.9h-.9zM181.34 550.47h.9v.9h-.9zM185.01 546.85h.9v.9h-.9zM195.12 574.53h.9v.9h-.9zM191.87 560.34h.9v.9h-.9zM188.4 557.4h.9v.9h-.9zM184.51 563.89h.9v.9h-.9zM188.94 552.41h.9v.9h-.9zM175.99 569.29h.9v.9h-.9zM180.98 571.75h.9v.9h-.9zM181.01 547.93h.9v.9h-.9zM190.99 568.46h.9v.9h-.9zM190.93 560.59h.9v.9h-.9zM182.17 581.45h.9v.9h-.9zM189.18 564.26h.9v.9h-.9zM185.77 572.86h.9v.9h-.9zM178.85 568.61h.9v.9h-.9zM177.38 540.93h.9v.9h-.9zM186.66 566.3h.9v.9h-.9zM190.25 572.25h.9v.9h-.9zM190.67 575.3h.9v.9h-.9zM176.56 580.85h.9v.9h-.9zM206.57 557.62h.9v.9h-.9zM174.92 573.94h.9v.9h-.9zM192.41 578.18h.9v.9h-.9zM197.38 546.94h.9v.9h-.9zM188.07 571.04h.9v.9h-.9zM195.09 553.37h.9v.9h-.9zM185.23 560.16h.9v.9h-.9zM183.73 563.1h.9v.9h-.9zM183.82 541.95h.9v.9h-.9zM184.74 565.89h.9v.9h-.9zM181.93 518.73h.9v.9h-.9zM179.45 556.47h.9v.9h-.9zM192.48 562.58h.9v.9h-.9zM177.23 571.18h.9v.9h-.9zM193.95 563.39h.9v.9h-.9zM189.96 554.61h.9v.9h-.9zM172.29 576.01h.9v.9h-.9zM198.2 561.03h.9v.9h-.9zM180.79 541.62h.9v.9h-.9zM202.31 549.34h.9v.9h-.9zM177.23 562.46h.9v.9h-.9zM194.78 565.7h.9v.9h-.9zM184.87 565.27h.9v.9h-.9zM191.85 564.52h.9v.9h-.9zM186.3 564.04h.9v.9h-.9zM176.09 582.54h.9v.9h-.9zM179.44 547.79h.9v.9h-.9zM181.51 565.42h.9v.9h-.9zM191.62 545.81h.9v.9h-.9zM174.82 567.33h.9v.9h-.9zM188.1 550.68h.9v.9h-.9zM175.9 567.29h.9v.9h-.9zM183.86 543.88h.9v.9h-.9zM176.5 578.71h.9v.9h-.9zM197.9 556.72h.9v.9h-.9zM179.54 573.21h.9v.9h-.9zM175.04 572.2h.9v.9h-.9zM194.82 568.44h.9v.9h-.9zM187.62 562.94h.9v.9h-.9zM193.09 554.31h.9v.9h-.9zM197.82 564.69h.9v.9h-.9zM182.4 543.67h.9v.9h-.9zM181.47 568.1h.9v.9h-.9zM195.02 543.93h.9v.9h-.9zM184 556.04h.9v.9h-.9zM175.38 565.06h.9v.9h-.9zM178.91 576.37h.9v.9h-.9zM189.19 560.58h.9v.9h-.9zM186.04 552.38h.9v.9h-.9zM176.57 555.39h.9v.9h-.9zM184.56 554.03h.9v.9h-.9zM181.64 553.77h.9v.9h-.9zM186.89 550.15h.9v.9h-.9zM184.85 566.25h.9v.9h-.9zM192.74 555.33h.9v.9h-.9zM175.85 545.54h.9v.9h-.9zM191.1 556.84h.9v.9h-.9zM192.93 563.97h.9v.9h-.9zM182.8 540.71h.9v.9h-.9zM179.57 575.3h.9v.9h-.9zM180.11 573.85h.9v.9h-.9zM171.79 578.25h.9v.9h-.9zM207.37 579.56h.9v.9h-.9zM187.58 548.89h.9v.9h-.9zM180.77 556.45h.9v.9h-.9zM186.5 538.65h.9v.9h-.9zM178.06 575.33h.9v.9h-.9zM186.18 574.69h.9v.9h-.9zM191.86 550.06h.9v.9h-.9zM174.19 571.06h.9v.9h-.9zM185.27 566.03h.9v.9h-.9zM178.47 578.29h.9v.9h-.9zM188.99 579.89h.9v.9h-.9zM182.16 574.04h.9v.9h-.9zM184.53 552.72h.9v.9h-.9zM184.36 543.39h.9v.9h-.9zM183.56 567.32h.9v.9h-.9zM190.58 551.26h.9v.9h-.9zM174.34 555.47h.9v.9h-.9zM206.01 566.88h.9v.9h-.9zM178.91 556.12h.9v.9h-.9zM199.2 549.8h.9v.9h-.9zM184.09 563.97h.9v.9h-.9zM179.11 555.62h.9v.9h-.9zM195.43 583.48h.9v.9h-.9zM182.74 574.18h.9v.9h-.9zM188.69 566.43h.9v.9h-.9zM183.9 580.85h.9v.9h-.9zM189.57 562.05h.9v.9h-.9zM183.12 577.19h.9v.9h-.9zM180.24 555.64h.9v.9h-.9zM182.8 558.5h.9v.9h-.9zM195.14 569.65h.9v.9h-.9zM184.3 558.12h.9v.9h-.9zM196.35 570.75h.9v.9h-.9zM201.72 576.86h.9v.9h-.9zM183.28 557.84h.9v.9h-.9zM182.72 567.37h.9v.9h-.9zM191.35 571.34h.9v.9h-.9zM197.6 545.17h.9v.9h-.9zM185.23 546.49h.9v.9h-.9zM176.74 557.15h.9v.9h-.9zM179.78 552.35h.9v.9h-.9zM172.81 579.84h.9v.9h-.9zM182.43 577.59h.9v.9h-.9zM176.13 534.74h.9v.9h-.9zM180.23 576.48h.9v.9h-.9zM180.52 570.16h.9v.9h-.9zM176.36 583.15h.9v.9h-.9zM188.47 578.7h.9v.9h-.9zM182.77 581.69h.9v.9h-.9zM185.58 558.63h.9v.9h-.9zM179.86 565.71h.9v.9h-.9zM177.71 549.43h.9v.9h-.9zM186.04 574.26h.9v.9h-.9zM182.66 575.96h.9v.9h-.9zM197.72 548.48h.9v.9h-.9zM187.06 552.43h.9v.9h-.9zM179.83 567.31h.9v.9h-.9zM191.73 572.07h.9v.9h-.9zM182.06 579.25h.9v.9h-.9zM196.6 571.4h.9v.9h-.9zM182.64 543.88h.9v.9h-.9zM184.51 574.85h.9v.9h-.9zM182.92 562.62h.9v.9h-.9zM196.78 556.98h.9v.9h-.9zM177.43 565.5h.9v.9h-.9zM193.99 572.73h.9v.9h-.9zM185.58 558.57h.9v.9h-.9zM194.89 576.53h.9v.9h-.9zM189.91 556.79h.9v.9h-.9zM174.64 561.07h.9v.9h-.9zM180.9 541.93h.9v.9h-.9zM184.83 580.41h.9v.9h-.9zM174.8 560.36h.9v.9h-.9zM199.56 567.4h.9v.9h-.9zM180.54 567.45h.9v.9h-.9zM191.25 551.9h.9v.9h-.9zM184.21 543.7h.9v.9h-.9zM172.29 544.92h.9v.9h-.9zM191.76 569.03h.9v.9h-.9zM190.87 580.84h.9v.9h-.9zM185.37 568.06h.9v.9h-.9zM188.25 571.08h.9v.9h-.9zM176.46 561.41h.9v.9h-.9zM183.78 565.45h.9v.9h-.9zM178.98 563.25h.9v.9h-.9zM187.29 567.41h.9v.9h-.9zM189.72 575.69h.9v.9h-.9zM189.46 577.57h.9v.9h-.9zM191.73 583.14h.9v.9h-.9zM190.03 556.92h.9v.9h-.9zM203.66 579.69h.9v.9h-.9zM195.01 574.5h.9v.9h-.9zM185.38 550.08h.9v.9h-.9zM188.5 560.36h.9v.9h-.9zM181.78 537.15h.9v.9h-.9zM197.42 549.77h.9v.9h-.9zM176.17 571.05h.9v.9h-.9zM189.54 554.66h.9v.9h-.9zM184.93 568.28h.9v.9h-.9zM186.25 571.86h.9v.9h-.9zM191.21 560.2h.9v.9h-.9zM181.91 552.07h.9v.9h-.9zM191.01 572.62h.9v.9h-.9zM184.69 569.02h.9v.9h-.9zM187.55 561.96h.9v.9h-.9zM187.55 548.01h.9v.9h-.9zM192.04 559.66h.9v.9h-.9zM180.35 545.43h.9v.9h-.9zM184.03 562.67h.9v.9h-.9zM179.86 544.63h.9v.9h-.9zM186.24 570.45h.9v.9h-.9zM194.14 571.7h.9v.9h-.9zM197.2 580.61h.9v.9h-.9zM184.15 551.32h.9v.9h-.9zM188.47 577.5h.9v.9h-.9zM172.56 548.89h.9v.9h-.9zM190.51 557.77h.9v.9h-.9zM196.7 567.82h.9v.9h-.9zM180.57 547.66h.9v.9h-.9zM189.8 542.54h.9v.9h-.9zM174.53 547.88h.9v.9h-.9zM183.21 559.99h.9v.9h-.9zM190.62 581.23h.9v.9h-.9zM183.33 579.75h.9v.9h-.9zM183.27 548.37h.9v.9h-.9zM200.65 556.05h.9v.9h-.9zM184.96 548.67h.9v.9h-.9zM190.44 567.5h.9v.9h-.9zM182.67 559.74h.9v.9h-.9zM180.41 555.6h.9v.9h-.9zM173.69 580.71h.9v.9h-.9zM192.16 546.84h.9v.9h-.9zM175.64 570.3h.9v.9h-.9zM203.18 562.31h.9v.9h-.9zM182.47 561.7h.9v.9h-.9zM186.99 562.7h.9v.9h-.9zM193.69 577.8h.9v.9h-.9zM183.13 557.8h.9v.9h-.9zM208.91 539.79h.9v.9h-.9zM172.46 534.25h.9v.9h-.9zM187.86 551.04h.9v.9h-.9zM193.52 537.61h.9v.9h-.9zM183.89 559.87h.9v.9h-.9zM176.32 579.57h.9v.9h-.9zM181.79 570.86h.9v.9h-.9zM180.76 566.95h.9v.9h-.9zM181.39 565.95h.9v.9h-.9zM184.19 556.1h.9v.9h-.9zM188.5 562.57h.9v.9h-.9zM177.2 551.29h.9v.9h-.9zM188.55 582.33h.9v.9h-.9zM174.46 559.53h.9v.9h-.9zM188.61 578.58h.9v.9h-.9zM190.71 549.53h.9v.9h-.9zM185.28 576.71h.9v.9h-.9zM186.92 562.05h.9v.9h-.9zM175.49 567.14h.9v.9h-.9zM184.47 565.4h.9v.9h-.9zM197.06 580.48h.9v.9h-.9zM178.62 568.01h.9v.9h-.9zM182.5 566.28h.9v.9h-.9zM198.11 576.94h.9v.9h-.9zM185.32 556.4h.9v.9h-.9zM183.69 569.73h.9v.9h-.9zM180.98 579.36h.9v.9h-.9zM185.16 549.57h.9v.9h-.9zM201.43 527.14h.9v.9h-.9zM182.83 563.41h.9v.9h-.9zM192.94 579.52h.9v.9h-.9zM187.55 566.47h.9v.9h-.9zM193.17 564.65h.9v.9h-.9zM174.87 559.06h.9v.9h-.9zM190.32 572.96h.9v.9h-.9zM176.11 580.61h.9v.9h-.9zM187.48 545.39h.9v.9h-.9zM188.75 578.12h.9v.9h-.9zM189.28 560.94h.9v.9h-.9zM178.56 579.62h.9v.9h-.9zM186.81 564.91h.9v.9h-.9zM181.78 551.52h.9v.9h-.9zM193.9 574.95h.9v.9h-.9zM183.16 551.86h.9v.9h-.9zM192.86 583.06h.9v.9h-.9zM181.87 549.05h.9v.9h-.9zM184.48 533.3h.9v.9h-.9zM187.2 555.42h.9v.9h-.9zM190.69 558.55h.9v.9h-.9zM195.17 560.31h.9v.9h-.9zM201.38 560.41h.9v.9h-.9zM186.53 552.74h.9v.9h-.9zM174.72 569.49h.9v.9h-.9zM187.82 552.31h.9v.9h-.9zM189.5 559.61h.9v.9h-.9zM180.56 564.05h.9v.9h-.9zM188.16 574.47h.9v.9h-.9zM194.93 569.97h.9v.9h-.9zM179.15 556.06h.9v.9h-.9zM187.97 549.39h.9v.9h-.9zM183.63 559.98h.9v.9h-.9zM184.21 567.36h.9v.9h-.9zM192.1 578.17h.9v.9h-.9zM176.41 578.51h.9v.9h-.9zM195.41 547.33h.9v.9h-.9zM205.28 557.61h.9v.9h-.9zM185.51 554.54h.9v.9h-.9zM180.4 578.95h.9v.9h-.9zM187.06 560.1h.9v.9h-.9zM194.24 552.76h.9v.9h-.9zM178.18 557.67h.9v.9h-.9zM178.99 573.99h.9v.9h-.9zM183.15 551.27h.9v.9h-.9zM181.31 539.11h.9v.9h-.9zM186.33 566.32h.9v.9h-.9zM189.89 561.92h.9v.9h-.9zM188.2 552.82h.9v.9h-.9zM185.2 567.02h.9v.9h-.9zM175.24 572.63h.9v.9h-.9zM186.14 565.66h.9v.9h-.9zM185 554.99h.9v.9h-.9zM178.18 572.7h.9v.9h-.9zM183.31 554.71h.9v.9h-.9zM179.19 577.15h.9v.9h-.9zM185.69 578.72h.9v.9h-.9zM184.87 549.59h.9v.9h-.9zM191.96 569.14h.9v.9h-.9zM179.75 560.97h.9v.9h-.9zM177.2 575.8h.9v.9h-.9zM181.65 571.22h.9v.9h-.9zM187.08 561.61h.9v.9h-.9zM187.97 561.77h.9v.9h-.9zM175.53 559.57h.9v.9h-.9zM175.55 574.82h.9v.9h-.9zM190.21 557.38h.9v.9h-.9zM189.97 568.2h.9v.9h-.9zM192.81 552.84h.9v.9h-.9zM185.2 552.09h.9v.9h-.9zM179.52 582.8h.9v.9h-.9zM188.9 575.09h.9v.9h-.9zM178.71 538.58h.9v.9h-.9zM193.83 576.8h.9v.9h-.9zM179.13 582.56h.9v.9h-.9zM183.49 572.99h.9v.9h-.9zM180.85 537.08h.9v.9h-.9zM182.48 567.46h.9v.9h-.9zM187.22 555.67h.9v.9h-.9zM183.14 550.24h.9v.9h-.9zM183.12 566.12h.9v.9h-.9zM188.46 549.95h.9v.9h-.9zM185.56 564.9h.9v.9h-.9zM176.97 574.36h.9v.9h-.9zM200.27 573.74h.9v.9h-.9zM191.21 578.84h.9v.9h-.9zM183.96 577.64h.9v.9h-.9zM178.54 567.32h.9v.9h-.9zM190.63 581.97h.9v.9h-.9zM182.7 561.2h.9v.9h-.9zM188.74 563.96h.9v.9h-.9zM186.09 575.42h.9v.9h-.9zM178.88 576.36h.9v.9h-.9zM188.03 561.57h.9v.9h-.9zM175 556.82h.9v.9h-.9zM184.64 577.17h.9v.9h-.9zM186.54 550.35h.9v.9h-.9zM191.83 570.14h.9v.9h-.9zM188.48 552.33h.9v.9h-.9zM176.17 576.76h.9v.9h-.9zM196.19 569.73h.9v.9h-.9zM183.46 559.16h.9v.9h-.9zM184.24 580.93h.9v.9h-.9zM179.26 578.59h.9v.9h-.9zM179.31 572.56h.9v.9h-.9zM195.94 555.9h.9v.9h-.9zM192.22 564.9h.9v.9h-.9zM177.54 567.59h.9v.9h-.9zM190.13 555.77h.9v.9h-.9zM182.88 557.66h.9v.9h-.9zM178.88 562.29h.9v.9h-.9zM191.55 558.59h.9v.9h-.9zM194.89 560.09h.9v.9h-.9zM179.52 578.83h.9v.9h-.9zM196.16 556.59h.9v.9h-.9zM189.65 549.99h.9v.9h-.9zM181.77 560.17h.9v.9h-.9zM190.62 548.81h.9v.9h-.9zM180.94 556.11h.9v.9h-.9zM185.8 549.14h.9v.9h-.9zM186.69 545.6h.9v.9h-.9zM191.61 548.05h.9v.9h-.9zM194.9 554.18h.9v.9h-.9zM176.35 571.1h.9v.9h-.9zM201.09 572.72h.9v.9h-.9zM190.23 549.73h.9v.9h-.9zM193.02 566.75h.9v.9h-.9zM184.96 582.79h.9v.9h-.9zM178.35 579.1h.9v.9h-.9zM191.58 556.97h.9v.9h-.9zM185.97 566.39h.9v.9h-.9zM189.6 552.44h.9v.9h-.9zM183.16 566.15h.9v.9h-.9zM185.22 565.27h.9v.9h-.9zM186.98 562.53h.9v.9h-.9zM181.05 578.25h.9v.9h-.9zM179.92 560.9h.9v.9h-.9zM178.04 550.28h.9v.9h-.9zM188.53 564.45h.9v.9h-.9zM183.94 570.8h.9v.9h-.9zM183.63 573.73h.9v.9h-.9zM199.25 569.47h.9v.9h-.9zM190.57 543.65h.9v.9h-.9zM195.5 567.7h.9v.9h-.9zM191.72 550.2h.9v.9h-.9zM178.31 556.68h.9v.9h-.9zM189.35 550.59h.9v.9h-.9zM179.41 577.2h.9v.9h-.9zM179.93 566.49h.9v.9h-.9zM177.92 543.2h.9v.9h-.9zM184.34 563.46h.9v.9h-.9zM173.72 577.46h.9v.9h-.9zM191.45 576.32h.9v.9h-.9zM180.98 550.32h.9v.9h-.9zM184.28 567.11h.9v.9h-.9zM183.63 557.48h.9v.9h-.9zM177.16 555.58h.9v.9h-.9zM184.34 558.76h.9v.9h-.9zM198.1 561.46h.9v.9h-.9zM188.56 559.04h.9v.9h-.9zM183.55 552.54h.9v.9h-.9zM181.19 545.85h.9v.9h-.9zM176.69 570.52h.9v.9h-.9zM184 557.73h.9v.9h-.9zM190.7 557.89h.9v.9h-.9zM188.4 560.27h.9v.9h-.9zM192.61 577.2h.9v.9h-.9zM185.51 578.97h.9v.9h-.9zM184.03 545.27h.9v.9h-.9zM186.65 568.02h.9v.9h-.9zM182.14 562.34h.9v.9h-.9zM182.87 549.01h.9v.9h-.9zM198.46 555.1h.9v.9h-.9zM176.59 544.82h.9v.9h-.9zM178.38 564.49h.9v.9h-.9zM196.56 572.62h.9v.9h-.9zM179.28 549.12h.9v.9h-.9zM176.21 563.93h.9v.9h-.9zM191.79 558.86h.9v.9h-.9zM186.22 537.4h.9v.9h-.9zM193.53 563.74h.9v.9h-.9zM190.22 577.55h.9v.9h-.9zM177.09 565.8h.9v.9h-.9zM186.37 555.39h.9v.9h-.9zM190.43 563.33h.9v.9h-.9zM183.78 578.19h.9v.9h-.9zM179.09 566.85h.9v.9h-.9zM193.45 537.3h.9v.9h-.9zM189.19 561.52h.9v.9h-.9zM193.51 567.26h.9v.9h-.9zM184.39 548.67h.9v.9h-.9zM207.98 555.59h.9v.9h-.9zM182.45 555.77h.9v.9h-.9zM182.61 567.77h.9v.9h-.9zM174.52 578.42h.9v.9h-.9zM182.93 572.61h.9v.9h-.9zM182.65 560.02h.9v.9h-.9zM179.75 568.9h.9v.9h-.9zM188.16 552.48h.9v.9h-.9zM182.47 578.58h.9v.9h-.9zM191.79 563.63h.9v.9h-.9zM173.79 560.37h.9v.9h-.9zM179.27 580.77h.9v.9h-.9zM171.71 576.62h.9v.9h-.9zM172.93 557.69h.9v.9h-.9zM173.92 556.09h.9v.9h-.9zM181.51 569.69h.9v.9h-.9zM180.35 573.72h.9v.9h-.9zM198.64 567.01h.9v.9h-.9zM175.96 562.7h.9v.9h-.9zM184.16 560.37h.9v.9h-.9zM193.95 579.67h.9v.9h-.9zM200.6 571.63h.9v.9h-.9zM190.19 554.69h.9v.9h-.9zM180.26 576.54h.9v.9h-.9zM186.08 550.64h.9v.9h-.9zM180.4 525.72h.9v.9h-.9zM184.93 549.39h.9v.9h-.9zM184.54 549.84h.9v.9h-.9zM177.7 558.39h.9v.9h-.9zM206.69 549.84h.9v.9h-.9zM175.69 558.11h.9v.9h-.9zM193.24 575.13h.9v.9h-.9zM190.38 560.84h.9v.9h-.9zM185.95 555.15h.9v.9h-.9zM183.53 554.69h.9v.9h-.9zM173.59 552.31h.9v.9h-.9zM200.01 570.02h.9v.9h-.9zM179.08 563.56h.9v.9h-.9zM181.42 580.47h.9v.9h-.9zM184.72 556.87h.9v.9h-.9zM190.25 569.02h.9v.9h-.9zM179.6 555.13h.9v.9h-.9zM186.04 544.12h.9v.9h-.9zM177.8 577.81h.9v.9h-.9zM191.68 579.14h.9v.9h-.9zM181.46 557.37h.9v.9h-.9zM182.81 558.85h.9v.9h-.9zM194.92 562.12h.9v.9h-.9zM195.5 555.92h.9v.9h-.9zM179.13 556.64h.9v.9h-.9zM180.25 544.43h.9v.9h-.9zM182.6 556.75h.9v.9h-.9zM202.13 558.87h.9v.9h-.9zM192.35 564.51h.9v.9h-.9zM187.16 574.07h.9v.9h-.9zM180.54 565.47h.9v.9h-.9zM195.93 567.09h.9v.9h-.9zM174.46 576.19h.9v.9h-.9zM184.5 579.81h.9v.9h-.9zM185.33 567.25h.9v.9h-.9zM190.03 555.65h.9v.9h-.9zM178.16 576.82h.9v.9h-.9zM190.23 575.35h.9v.9h-.9zM195.57 547.89h.9v.9h-.9zM192.35 538.75h.9v.9h-.9zM185.32 569.24h.9v.9h-.9zM192.93 578.75h.9v.9h-.9zM177.63 561.47h.9v.9h-.9zM183.67 556.1h.9v.9h-.9zM178.53 556.52h.9v.9h-.9zM193.85 582.27h.9v.9h-.9zM185.6 551.1h.9v.9h-.9zM179.81 567.54h.9v.9h-.9zM192.91 580.42h.9v.9h-.9zM177.92 577.13h.9v.9h-.9zM180.75 572.54h.9v.9h-.9zM192.05 583.83h.9v.9h-.9zM180.8 568.06h.9v.9h-.9zM188.24 559.62h.9v.9h-.9zM185.61 572.54h.9v.9h-.9zM172.09 556.75h.9v.9h-.9zM202.86 570.72h.9v.9h-.9zM180.56 541.57h.9v.9h-.9zM177.44 571.57h.9v.9h-.9zM190.19 570.64h.9v.9h-.9zM189.51 557.28h.9v.9h-.9zM197.3 550.64h.9v.9h-.9zM188.87 561.58h.9v.9h-.9zM182.75 574.03h.9v.9h-.9zM194.8 567.07h.9v.9h-.9zM179.75 562.22h.9v.9h-.9zM184.36 583.38h.9v.9h-.9zM190.8 555.24h.9v.9h-.9zM192.11 577.34h.9v.9h-.9zM183.94 570.88h.9v.9h-.9zM182.41 548.9h.9v.9h-.9zM184.19 574.71h.9v.9h-.9zM182.08 536.4h.9v.9h-.9zM178.67 578.85h.9v.9h-.9zM186.64 579.3h.9v.9h-.9zM179.03 559.63h.9v.9h-.9zM177.1 555.05h.9v.9h-.9zM188.87 566.76h.9v.9h-.9zM181.12 568.77h.9v.9h-.9zM174.72 560h.9v.9h-.9zM173.24 545.85h.9v.9h-.9zM174.31 550.95h.9v.9h-.9zM197.16 582.52h.9v.9h-.9zM194.68 557.56h.9v.9h-.9zM189.74 550.49h.9v.9h-.9zM180.66 568.07h.9v.9h-.9zM172.45 567.5h.9v.9h-.9zM189.66 538.53h.9v.9h-.9zM183.92 566.82h.9v.9h-.9zM176.07 572.26h.9v.9h-.9zM185.83 555.62h.9v.9h-.9zM197.65 568.29h.9v.9h-.9zM181.04 562.17h.9v.9h-.9zM189.25 567.56h.9v.9h-.9zM175.04 554.07h.9v.9h-.9zM185.74 568.81h.9v.9h-.9zM177.76 562.19h.9v.9h-.9zM178.62 572.92h.9v.9h-.9zM189.84 557.82h.9v.9h-.9zM181.31 549.27h.9v.9h-.9zM184.76 575.99h.9v.9h-.9zM189.39 583.9h.9v.9h-.9zM182.34 553.39h.9v.9h-.9zM192.95 576.78h.9v.9h-.9zM179.72 579.02h.9v.9h-.9zM184.77 564.44h.9v.9h-.9zM199.19 571.8h.9v.9h-.9zM187.31 560.9h.9v.9h-.9zM186.42 578.51h.9v.9h-.9zM188.42 555.3h.9v.9h-.9zM188.36 563.47h.9v.9h-.9zM187.27 562.51h.9v.9h-.9zM181.87 536.68h.9v.9h-.9zM190.27 559.07h.9v.9h-.9zM187.42 536.22h.9v.9h-.9zM186.8 577.62h.9v.9h-.9zM186.34 548.17h.9v.9h-.9zM192.41 558.15h.9v.9h-.9zM180.41 567.52h.9v.9h-.9zM188.39 549.03h.9v.9h-.9zM184.86 565.67h.9v.9h-.9zM196.08 581.47h.9v.9h-.9zM204.81 556.44h.9v.9h-.9zM177.87 569.56h.9v.9h-.9zM197.44 551.95h.9v.9h-.9zM182.15 555.38h.9v.9h-.9zM188.98 570.15h.9v.9h-.9zM184.56 573.46h.9v.9h-.9zM178.72 560.13h.9v.9h-.9zM184.57 565.76h.9v.9h-.9zM195.12 565.97h.9v.9h-.9zM195.04 568.08h.9v.9h-.9zM193.89 567.34h.9v.9h-.9zM177.68 554h.9v.9h-.9zM199.45 560.9h.9v.9h-.9zM204.43 550.62h.9v.9h-.9zM178.24 577.02h.9v.9h-.9zM172.95 576.78h.9v.9h-.9zM187.82 573.11h.9v.9h-.9zM175.44 569.93h.9v.9h-.9zM192.23 564.33h.9v.9h-.9zM192.92 565.32h.9v.9h-.9zM187.57 560.92h.9v.9h-.9zM174.25 562.94h.9v.9h-.9zM188.78 555.19h.9v.9h-.9zM195.17 562.1h.9v.9h-.9zM178.88 581.01h.9v.9h-.9zM183.51 545.52h.9v.9h-.9zM181.43 553.58h.9v.9h-.9zM183.43 553.17h.9v.9h-.9zM185.4 570.93h.9v.9h-.9zM180.39 562.39h.9v.9h-.9zM183.65 575.7h.9v.9h-.9zM179.24 574.73h.9v.9h-.9zM194.66 562.49h.9v.9h-.9zM177.29 561h.9v.9h-.9zM175.51 562.79h.9v.9h-.9zM181.96 571.7h.9v.9h-.9zM185.8 570.47h.9v.9h-.9zM184.51 568.65h.9v.9h-.9zM176 573.57h.9v.9h-.9zM195.1 579.4h.9v.9h-.9zM174.32 570.43h.9v.9h-.9zM172.12 574.82h.9v.9h-.9zM183.26 559.04h.9v.9h-.9zM179.02 561.92h.9v.9h-.9zM184.84 552.49h.9v.9h-.9zM185.34 568.36h.9v.9h-.9zM189.01 564.43h.9v.9h-.9zM192.81 569.2h.9v.9h-.9zM173.98 573.04h.9v.9h-.9zM189.38 530.51h.9v.9h-.9zM183.59 569.96h.9v.9h-.9zM185.17 566.26h.9v.9h-.9zM183.67 582.96h.9v.9h-.9zM187.88 561.33h.9v.9h-.9zM178.1 558.17h.9v.9h-.9zM187.45 566.93h.9v.9h-.9zM187.26 582.62h.9v.9h-.9zM193.84 570.47h.9v.9h-.9zM185.23 564.19h.9v.9h-.9zM183.07 578.06h.9v.9h-.9zM174.94 551.5h.9v.9h-.9zM181.3 552.5h.9v.9h-.9zM179.1 580.52h.9v.9h-.9zM174.56 561.86h.9v.9h-.9zM180.37 552.11h.9v.9h-.9zM173.21 565.94h.9v.9h-.9zM181.82 579.28h.9v.9h-.9zM199.5 561.2h.9v.9h-.9zM178.58 561.31h.9v.9h-.9zM188.6 577.15h.9v.9h-.9zM177.38 571.17h.9v.9h-.9zM184.65 579.87h.9v.9h-.9zM181.68 562.3h.9v.9h-.9zM178.18 547.81h.9v.9h-.9zM187.04 574.26h.9v.9h-.9zM193.78 568.49h.9v.9h-.9zM181.26 553.06h.9v.9h-.9zM175.75 555.61h.9v.9h-.9zM187.56 566.19h.9v.9h-.9zM182.63 551.41h.9v.9h-.9zM184.74 571.9h.9v.9h-.9zM176.74 547.43h.9v.9h-.9zM182.36 568.42h.9v.9h-.9zM186.06 551.97h.9v.9h-.9zM191.04 556.59h.9v.9h-.9zM190.35 566.3h.9v.9h-.9zM194.65 552.05h.9v.9h-.9zM190.62 570.53h.9v.9h-.9zM177.77 574.15h.9v.9h-.9zM202.83 569.65h.9v.9h-.9zM178.86 563.02h.9v.9h-.9zM195.21 568.33h.9v.9h-.9zM196.62 556.52h.9v.9h-.9zM195.28 544.5h.9v.9h-.9zM183.61 561.16h.9v.9h-.9zM181.05 580.92h.9v.9h-.9zM180.16 569.58h.9v.9h-.9zM199.6 575.74h.9v.9h-.9zM181.64 555.5h.9v.9h-.9zM191.96 579.4h.9v.9h-.9zM191.06 534.96h.9v.9h-.9zM177.94 575.39h.9v.9h-.9zM181.77 575.89h.9v.9h-.9zM205.26 555.09h.9v.9h-.9zM202.47 563.96h.9v.9h-.9zM173.27 566.27h.9v.9h-.9zM192.11 557.45h.9v.9h-.9zM197.47 553.66h.9v.9h-.9zM183.4 576.99h.9v.9h-.9zM183.25 557.75h.9v.9h-.9zM184.8 573.52h.9v.9h-.9zM198.7 582.67h.9v.9h-.9zM199.82 564.63h.9v.9h-.9zM171.76 564.47h.9v.9h-.9zM181.67 552.06h.9v.9h-.9zM180.85 564.13h.9v.9h-.9zM185.37 576.92h.9v.9h-.9zM177.69 579.92h.9v.9h-.9zM185.31 574.56h.9v.9h-.9zM194.85 548.91h.9v.9h-.9zM197.66 555.67h.9v.9h-.9zM188.13 579.15h.9v.9h-.9zM192.3 544.65h.9v.9h-.9zM186.25 579.78h.9v.9h-.9zM183.99 563.97h.9v.9h-.9zM180.64 552.74h.9v.9h-.9zM176.16 558.13h.9v.9h-.9zM183.09 569.52h.9v.9h-.9zM184.31 542.66h.9v.9h-.9zM172.43 573.86h.9v.9h-.9zM190.74 547.38h.9v.9h-.9zM192.44 533.36h.9v.9h-.9zM203.49 572.69h.9v.9h-.9zM171.74 571.66h.9v.9h-.9zM184.7 559.1h.9v.9h-.9zM182.04 562.09h.9v.9h-.9zM184.17 553.25h.9v.9h-.9zM180.44 572.27h.9v.9h-.9zM189.19 547.69h.9v.9h-.9zM174.2 551.48h.9v.9h-.9zM181.98 551.34h.9v.9h-.9zM176.28 555.94h.9v.9h-.9zM183.49 575.84h.9v.9h-.9zM189.46 542.13h.9v.9h-.9zM196.89 560.71h.9v.9h-.9zM176.98 564.61h.9v.9h-.9zM181.78 546.93h.9v.9h-.9zM197.44 557.47h.9v.9h-.9zM180.18 572.01h.9v.9h-.9zM198.38 571.31h.9v.9h-.9zM177.8 570.71h.9v.9h-.9zM193.84 569.95h.9v.9h-.9zM190.17 558.75h.9v.9h-.9zM184.44 543.09h.9v.9h-.9zM179.24 550.21h.9v.9h-.9zM177.55 563.84h.9v.9h-.9zM194.3 554.88h.9v.9h-.9zM178.71 580.81h.9v.9h-.9zM187.97 571.88h.9v.9h-.9zM191.66 555.35h.9v.9h-.9zM186.78 556.44h.9v.9h-.9zM179.21 566.75h.9v.9h-.9zM188.48 548.4h.9v.9h-.9zM178.82 572.95h.9v.9h-.9zM186.33 573.67h.9v.9h-.9zM182.47 554.53h.9v.9h-.9zM191.26 572.84h.9v.9h-.9z" fill="#8a8a8a"/>
<path d="M200.18 571.38h.9v.9h-.9zM211.87 558.08h.9v.9h-.9zM199.13 565.61h.9v.9h-.9zM204.45 569.96h.9v.9h-.9zM196.96 565.46h.9v.9h-.9zM208.48 571.83h.9v.9h-.9zM207.15 578.83h.9v.9h-.9zM199.86 579.18h.9v.9h-.9zM205.04 548.05h.9v.9h-.9zM202.5 565.82h.9v.9h-.9zM205.66 580.96h.9v.9h-.9zM204.96 554.83h.9v.9h-.9zM214.96 557.37h.9v.9h-.9zM199.86 575.02h.9v.9h-.9zM201.91 550.94h.9v.9h-.9zM198.66 578.67h.9v.9h-.9zM198.67 563.45h.9v.9h-.9zM201.71 559.32h.9v.9h-.9zM199.89 564.15h.9v.9h-.9zM207.03 576.81h.9v.9h-.9zM202.2 545.66h.9v.9h-.9zM196.56 562.14h.9v.9h-.9zM191.54 580.72h.9v.9h-.9zM204.14 563.76h.9v.9h-.9zM196.99 552.99h.9v.9h-.9zM200.27 571.51h.9v.9h-.9zM201.94 570.72h.9v.9h-.9zM206.58 535.02h.9v.9h-.9zM202.83 579.75h.9v.9h-.9zM201.43 563.86h.9v.9h-.9zM203.36 544.85h.9v.9h-.9zM214.95 560.2h.9v.9h-.9zM207.2 555.78h.9v.9h-.9zM211.03 578.23h.9v.9h-.9zM209.93 575.43h.9v.9h-.9zM207.52 581.53h.9v.9h-.9zM206.02 563.99h.9v.9h-.9zM208.06 549.56h.9v.9h-.9zM191.26 573.46h.9v.9h-.9zM204.76 552.22h.9v.9h-.9zM202.65 548.71h.9v.9h-.9zM199.78 564.73h.9v.9h-.9zM204.61 573.77h.9v.9h-.9zM203.54 570.97h.9v.9h-.9zM207.43 552.27h.9v.9h-.9zM195.52 552.5h.9v.9h-.9zM202.73 554.65h.9v.9h-.9zM215.08 552.54h.9v.9h-.9zM206.38 551.4h.9v.9h-.9zM207.46 544.44h.9v.9h-.9zM208.77 564.66h.9v.9h-.9zM201.99 545.38h.9v.9h-.9zM212.37 554.02h.9v.9h-.9zM211.23 528.4h.9v.9h-.9zM212.95 562.39h.9v.9h-.9zM209.01 570.64h.9v.9h-.9zM202.2 563.96h.9v.9h-.9zM198.24 543.36h.9v.9h-.9zM204.62 572.36h.9v.9h-.9z" fill="#666"/>
<path d="M179.02 568.95h.9v.9h-.9zM179.67 582.59h.9v.9h-.9zM186.7 573.03h.9v.9h-.9zM182.56 574.95h.9v.9h-.9zM184.54 574.83h.9v.9h-.9zM173.74 581.84h.9v.9h-.9zM178.38 559.41h.9v.9h-.9zM186.79 565.88h.9v.9h-.9zM182.24 573.69h.9v.9h-.9zM179.81 578.07h.9v.9h-.9zM181.53 572.74h.9v.9h-.9zM177.85 573.59h.9v.9h-.9zM177.41 575.65h.9v.9h-.9zM190.14 578.5h.9v.9h-.9zM185.31 565.28h.9v.9h-.9zM188.55 578.41h.9v.9h-.9zM194.13 557.81h.9v.9h-.9zM183.09 572.03h.9v.9h-.9zM188.88 566.1h.9v.9h-.9zM188.37 560.72h.9v.9h-.9zM183.11 582.33h.9v.9h-.9zM179.66 578.47h.9v.9h-.9zM183.54 565.08h.9v.9h-.9zM179.62 581.74h.9v.9h-.9zM189.4 568.9h.9v.9h-.9zM189.08 568.31h.9v.9h-.9zM184.34 573.61h.9v.9h-.9zM176.25 577.61h.9v.9h-.9zM180.9 557.91h.9v.9h-.9zM178.52 569.98h.9v.9h-.9zM178.49 569.19h.9v.9h-.9zM179.28 560.06h.9v.9h-.9zM187.82 573.35h.9v.9h-.9zM184.38 572.11h.9v.9h-.9zM183.35 572.37h.9v.9h-.9zM177.11 566.22h.9v.9h-.9zM183.4 580.13h.9v.9h-.9zM184.27 583.54h.9v.9h-.9zM175.62 574.18h.9v.9h-.9zM179.66 582.32h.9v.9h-.9zM192.17 568.71h.9v.9h-.9zM186.96 571.63h.9v.9h-.9zM177.6 574.64h.9v.9h-.9zM186.19 580.5h.9v.9h-.9zM184.94 558.8h.9v.9h-.9zM187.34 573.56h.9v.9h-.9zM188.47 583.14h.9v.9h-.9zM177.47 580.14h.9v.9h-.9zM184.8 572.56h.9v.9h-.9zM181.47 577.62h.9v.9h-.9zM186.12 577.3h.9v.9h-.9zM180.79 566.53h.9v.9h-.9zM190.13 580.25h.9v.9h-.9zM179.95 574.56h.9v.9h-.9zM187.37 562.3h.9v.9h-.9zM184.47 569.38h.9v.9h-.9zM194.05 571.47h.9v.9h-.9zM184.15 571.17h.9v.9h-.9zM183.98 562.86h.9v.9h-.9zM176.06 566.67h.9v.9h-.9zM187.88 572.31h.9v.9h-.9zM189.24 560.13h.9v.9h-.9zM179.76 583.67h.9v.9h-.9zM178.71 563.67h.9v.9h-.9zM178.97 572.87h.9v.9h-.9zM182.93 581.98h.9v.9h-.9zM190.19 581.78h.9v.9h-.9zM186.14 570.21h.9v.9h-.9zM180.32 565.63h.9v.9h-.9zM189.88 580.04h.9v.9h-.9zM183.48 568.47h.9v.9h-.9zM186.65 576.13h.9v.9h-.9zM183.83 566.73h.9v.9h-.9zM184.29 570.25h.9v.9h-.9zM187 576.72h.9v.9h-.9zM185.38 570.84h.9v.9h-.9zM191.24 576.79h.9v.9h-.9zM189.86 577.51h.9v.9h-.9zM186.58 575.55h.9v.9h-.9zM177.22 564.28h.9v.9h-.9zM177.94 578.95h.9v.9h-.9zM187.92 573.96h.9v.9h-.9zM180.85 563.63h.9v.9h-.9zM174.64 574.02h.9v.9h-.9zM186.78 577.61h.9v.9h-.9zM181.81 579.28h.9v.9h-.9zM182.74 569.65h.9v.9h-.9zM180.96 579.1h.9v.9h-.9zM188.15 565.93h.9v.9h-.9zM177.66 576.02h.9v.9h-.9zM194.48 564.16h.9v.9h-.9zM176.24 578.16h.9v.9h-.9zM185.75 569.62h.9v.9h-.9zM182.86 577h.9v.9h-.9zM173.59 576.09h.9v.9h-.9zM186.24 578.88h.9v.9h-.9zM189.29 572.08h.9v.9h-.9zM175.22 584.04h.9v.9h-.9zM187.16 569.14h.9v.9h-.9zM188.58 579.03h.9v.9h-.9zM182.25 559.77h.9v.9h-.9zM180.47 569.98h.9v.9h-.9zM178.49 574.57h.9v.9h-.9zM177.17 577.76h.9v.9h-.9zM193.19 564.34h.9v.9h-.9zM188.61 569.43h.9v.9h-.9zM185.93 572.53h.9v.9h-.9zM189.92 568.03h.9v.9h-.9zM186.95 568.34h.9v.9h-.9zM184.24 573.63h.9v.9h-.9zM188.87 562.99h.9v.9h-.9zM185.08 583.87h.9v.9h-.9zM177.45 576.6h.9v.9h-.9zM186.25 584.02h.9v.9h-.9zM182.72 571.34h.9v.9h-.9zM186.85 572.47h.9v.9h-.9zM178.97 579.61h.9v.9h-.9zM172.75 570.23h.9v.9h-.9zM190.33 569.22h.9v.9h-.9zM181.26 576.68h.9v.9h-.9zM189.04 575.8h.9v.9h-.9zM177.81 571.76h.9v.9h-.9zM188.65 571.94h.9v.9h-.9zM179.61 580.14h.9v.9h-.9zM177.21 571.06h.9v.9h-.9zM179.27 577.05h.9v.9h-.9zM180.44 581.42h.9v.9h-.9zM179.54 573.14h.9v.9h-.9zM186.06 574.52h.9v.9h-.9zM186.1 570.27h.9v.9h-.9zM184.12 566.98h.9v.9h-.9zM176.4 573.72h.9v.9h-.9zM184.96 574.16h.9v.9h-.9zM178.84 566.53h.9v.9h-.9zM184.98 568.64h.9v.9h-.9zM189.37 575.79h.9v.9h-.9zM180.78 570.78h.9v.9h-.9zM189.12 574.56h.9v.9h-.9zM191.78 574.14h.9v.9h-.9zM179.86 571.09h.9v.9h-.9zM179.23 576.44h.9v.9h-.9zM184.36 577.39h.9v.9h-.9zM185.42 567.02h.9v.9h-.9zM181.91 568.51h.9v.9h-.9zM185.59 565.36h.9v.9h-.9zM179.89 569.5h.9v.9h-.9zM179.69 573.21h.9v.9h-.9zM191.1 570.52h.9v.9h-.9zM175.31 573.98h.9v.9h-.9zM187.01 576.43h.9v.9h-.9zM188.95 573.15h.9v.9h-.9zM189.51 564.28h.9v.9h-.9zM182.09 568.92h.9v.9h-.9zM183.95 583.66h.9v.9h-.9zM177.53 584h.9v.9h-.9zM173.93 570.96h.9v.9h-.9zM188.34 572.18h.9v.9h-.9zM183.78 573.74h.9v.9h-.9zM183.97 572.68h.9v.9h-.9zM177.77 573.47h.9v.9h-.9zM183.6 568.36h.9v.9h-.9zM185.5 584.18h.9v.9h-.9zM174.22 572.75h.9v.9h-.9zM181.5 574.47h.9v.9h-.9zM183.51 569.45h.9v.9h-.9zM182.82 574.08h.9v.9h-.9zM182.54 583.52h.9v.9h-.9zM183.7 564.81h.9v.9h-.9zM174.63 579.59h.9v.9h-.9zM181.18 570.65h.9v.9h-.9zM175.76 573.83h.9v.9h-.9zM182.51 569.92h.9v.9h-.9zM181.12 579.86h.9v.9h-.9zM187.19 576.35h.9v.9h-.9zM182.07 565.93h.9v.9h-.9zM187.15 582.16h.9v.9h-.9zM189.81 579.5h.9v.9h-.9zM184.48 575.95h.9v.9h-.9zM182.93 581.68h.9v.9h-.9zM187.16 571.05h.9v.9h-.9zM182.99 564.18h.9v.9h-.9zM179.09 573.09h.9v.9h-.9zM196.09 565.94h.9v.9h-.9zM187.91 573.31h.9v.9h-.9zM181.42 578.19h.9v.9h-.9zM172.35 582.29h.9v.9h-.9zM193.34 573.37h.9v.9h-.9zM182.67 575.06h.9v.9h-.9zM186.54 570.17h.9v.9h-.9zM183.65 576.93h.9v.9h-.9zM181.14 576.82h.9v.9h-.9zM184.78 577.95h.9v.9h-.9zM177.73 571.97h.9v.9h-.9zM180.72 581.86h.9v.9h-.9zM184.33 563.58h.9v.9h-.9zM184.81 565.66h.9v.9h-.9zM178.14 576.02h.9v.9h-.9zM190.62 582.1h.9v.9h-.9zM181.05 572.63h.9v.9h-.9zM193.25 565.58h.9v.9h-.9zM191.35 574.1h.9v.9h-.9zM183.5 581.75h.9v.9h-.9zM185.58 568.28h.9v.9h-.9zM174.86 576.02h.9v.9h-.9zM185.74 581.71h.9v.9h-.9zM186.31 582.49h.9v.9h-.9zM187.26 574.3h.9v.9h-.9zM185.31 575.89h.9v.9h-.9zM179.65 574.1h.9v.9h-.9zM183.69 571.08h.9v.9h-.9zM175.18 567.02h.9v.9h-.9zM185.7 576.55h.9v.9h-.9zM183.58 566.72h.9v.9h-.9zM187.55 570.53h.9v.9h-.9zM185.85 570.63h.9v.9h-.9zM190.91 580.45h.9v.9h-.9zM184.39 563.2h.9v.9h-.9zM180.97 572.75h.9v.9h-.9zM185.47 572.65h.9v.9h-.9zM184.85 563.58h.9v.9h-.9zM179.57 583.63h.9v.9h-.9zM175.24 581.49h.9v.9h-.9zM195.33 575.07h.9v.9h-.9zM175.58 583.38h.9v.9h-.9zM173.1 578.41h.9v.9h-.9zM180.82 582.1h.9v.9h-.9zM189.3 573.68h.9v.9h-.9zM192.57 577.76h.9v.9h-.9zM180.45 568.59h.9v.9h-.9zM196.15 568.41h.9v.9h-.9zM185.2 572.77h.9v.9h-.9zM180.48 564.75h.9v.9h-.9zM182.23 573.48h.9v.9h-.9zM188.25 569.61h.9v.9h-.9zM174.65 569.4h.9v.9h-.9zM182.79 575.58h.9v.9h-.9zM186.87 570.74h.9v.9h-.9zM185.88 574.2h.9v.9h-.9zM192.02 571.53h.9v.9h-.9zM183.77 577.29h.9v.9h-.9zM189.51 566.82h.9v.9h-.9zM180.47 572.91h.9v.9h-.9zM188.73 572.78h.9v.9h-.9zM200.98 577.55h.9v.9h-.9zM193.81 581.07h.9v.9h-.9zM187.84 564.18h.9v.9h-.9zM191.18 574.64h.9v.9h-.9zM176.61 575.84h.9v.9h-.9zM187.03 579.08h.9v.9h-.9zM183.94 570.58h.9v.9h-.9zM187.09 568.37h.9v.9h-.9zM182.59 578.78h.9v.9h-.9zM175.31 578.12h.9v.9h-.9zM172.54 570.79h.9v.9h-.9zM176.42 575.01h.9v.9h-.9zM186.82 572.79h.9v.9h-.9zM187.88 573.44h.9v.9h-.9zM181.91 577.28h.9v.9h-.9zM181.73 575.13h.9v.9h-.9zM188.56 569.19h.9v.9h-.9zM189.16 565.75h.9v.9h-.9zM181.83 563.63h.9v.9h-.9zM184.91 581.34h.9v.9h-.9zM175.15 569.65h.9v.9h-.9zM185.5 578.5h.9v.9h-.9zM187.47 562.67h.9v.9h-.9zM185.73 572.91h.9v.9h-.9zM183.65 576.78h.9v.9h-.9zM181.5 563.96h.9v.9h-.9zM177.29 566.47h.9v.9h-.9zM175.97 574.84h.9v.9h-.9zM189.99 567.96h.9v.9h-.9zM178.92 567.91h.9v.9h-.9zM173.76 576.59h.9v.9h-.9zM180.4 573.14h.9v.9h-.9zM177.86 578.21h.9v.9h-.9zM176.57 578.89h.9v.9h-.9zM179.46 579.68h.9v.9h-.9zM178.25 577.85h.9v.9h-.9zM185.36 572.96h.9v.9h-.9zM191.74 573.01h.9v.9h-.9zM178.25 579.38h.9v.9h-.9zM178.59 571.72h.9v.9h-.9zM183.07 575.1h.9v.9h-.9zM192.13 561.11h.9v.9h-.9zM181.62 581.27h.9v.9h-.9zM182.15 576.18h.9v.9h-.9zM191.17 564.5h.9v.9h-.9zM183.24 578.82h.9v.9h-.9zM179.86 563.97h.9v.9h-.9zM177.65 576.46h.9v.9h-.9zM190.11 562.8h.9v.9h-.9zM188.56 578.31h.9v.9h-.9zM191.68 571.01h.9v.9h-.9zM180.02 575.61h.9v.9h-.9zM191.29 575.88h.9v.9h-.9zM192.09 576.69h.9v.9h-.9zM179.85 568.52h.9v.9h-.9zM192.92 562.34h.9v.9h-.9zM181.13 572.49h.9v.9h-.9zM178.12 571.64h.9v.9h-.9zM182.65 570.86h.9v.9h-.9zM183.66 579.63h.9v.9h-.9zM178.63 572.54h.9v.9h-.9zM173.64 580.54h.9v.9h-.9zM186.65 582.38h.9v.9h-.9zM187.68 571.2h.9v.9h-.9zM180.9 572.59h.9v.9h-.9zM176.5 580.28h.9v.9h-.9zM179.74 570.32h.9v.9h-.9zM185.77 574.04h.9v.9h-.9zM179.87 573.29h.9v.9h-.9zM180.36 582.92h.9v.9h-.9zM188.37 568.25h.9v.9h-.9zM182.79 582.5h.9v.9h-.9zM185.39 577.56h.9v.9h-.9zM171.86 581.87h.9v.9h-.9zM184.82 577.16h.9v.9h-.9zM185.58 576.64h.9v.9h-.9zM180.28 580.2h.9v.9h-.9zM183.34 567.45h.9v.9h-.9zM177.54 576.29h.9v.9h-.9zM184.8 559.97h.9v.9h-.9zM171.93 583.1h.9v.9h-.9zM174.78 574.41h.9v.9h-.9zM179.78 578.2h.9v.9h-.9zM190.56 582.16h.9v.9h-.9zM177.59 582.9h.9v.9h-.9zM176.48 577.44h.9v.9h-.9zM183.92 577.61h.9v.9h-.9zM178.71 583.27h.9v.9h-.9zM182.63 573.97h.9v.9h-.9zM181.57 567.76h.9v.9h-.9zM186.87 575.16h.9v.9h-.9zM178.35 573.35h.9v.9h-.9zM183.04 579.27h.9v.9h-.9zM182.05 579.99h.9v.9h-.9zM185.45 562.56h.9v.9h-.9zM179.34 562.32h.9v.9h-.9zM181.47 571.79h.9v.9h-.9zM186.17 574.3h.9v.9h-.9zM182.66 581.88h.9v.9h-.9zM186.19 565.64h.9v.9h-.9zM179.3 576.9h.9v.9h-.9zM192.14 570.62h.9v.9h-.9zM182.08 575.86h.9v.9h-.9zM187.2 572.45h.9v.9h-.9zM184.58 571.03h.9v.9h-.9zM180.05 569.79h.9v.9h-.9zM186.54 569.73h.9v.9h-.9zM185.95 575.81h.9v.9h-.9zM188.23 556.18h.9v.9h-.9zM177.81 567.69h.9v.9h-.9zM182.12 579.18h.9v.9h-.9zM196.61 580.34h.9v.9h-.9zM190.29 574.64h.9v.9h-.9zM180.92 577.8h.9v.9h-.9zM183.05 577.81h.9v.9h-.9zM177.47 568.54h.9v.9h-.9zM179.55 574.55h.9v.9h-.9zM184.88 571.36h.9v.9h-.9zM184.88 577.77h.9v.9h-.9zM176.77 574.85h.9v.9h-.9zM174.64 572.59h.9v.9h-.9zM187.86 568.43h.9v.9h-.9zM193.01 574.76h.9v.9h-.9zM187.78 573.52h.9v.9h-.9zM187.65 579.67h.9v.9h-.9zM183.58 570.59h.9v.9h-.9zM182.02 571.4h.9v.9h-.9zM179.2 564.47h.9v.9h-.9zM180.32 576.64h.9v.9h-.9zM180.39 569.92h.9v.9h-.9zM185.2 576.33h.9v.9h-.9zM180.66 576.46h.9v.9h-.9zM177.77 580.56h.9v.9h-.9zM177.7 573.17h.9v.9h-.9zM183.73 571.23h.9v.9h-.9zM191.15 561.27h.9v.9h-.9zM183.65 565.99h.9v.9h-.9zM184.68 565.53h.9v.9h-.9zM186.12 576.55h.9v.9h-.9zM192.18 579.3h.9v.9h-.9zM180.54 580.44h.9v.9h-.9zM180.54 573.88h.9v.9h-.9zM180.31 563.72h.9v.9h-.9zM186.24 560.64h.9v.9h-.9zM181.73 577.56h.9v.9h-.9zM183.61 564.09h.9v.9h-.9zM179.51 579.04h.9v.9h-.9zM188.91 582.49h.9v.9h-.9zM173.25 579.16h.9v.9h-.9zM180.41 579.35h.9v.9h-.9zM173.93 575.27h.9v.9h-.9zM186.8 569.11h.9v.9h-.9zM181.05 568.39h.9v.9h-.9zM188.99 564.36h.9v.9h-.9zM178.09 573.1h.9v.9h-.9zM184.48 568.49h.9v.9h-.9zM186.12 575.39h.9v.9h-.9zM184.52 573.24h.9v.9h-.9zM185.48 566.15h.9v.9h-.9zM176.54 572.89h.9v.9h-.9zM177.07 579.75h.9v.9h-.9zM193.43 579.2h.9v.9h-.9zM185.4 575.53h.9v.9h-.9zM179.32 566.82h.9v.9h-.9zM185.95 564.14h.9v.9h-.9zM184.62 572.74h.9v.9h-.9zM187.04 573.36h.9v.9h-.9zM183.57 570.26h.9v.9h-.9zM173.75 574.06h.9v.9h-.9zM186.74 579.6h.9v.9h-.9zM190.41 566.08h.9v.9h-.9zM177.97 579.54h.9v.9h-.9zM184.69 564.18h.9v.9h-.9zM173.19 577.27h.9v.9h-.9zM180.6 568.18h.9v.9h-.9zM173.82 571.75h.9v.9h-.9zM194.72 571.85h.9v.9h-.9zM181.57 567.14h.9v.9h-.9zM184.83 570.64h.9v.9h-.9zM178.45 583.66h.9v.9h-.9zM185.36 567.93h.9v.9h-.9zM190.95 571.78h.9v.9h-.9zM185.71 574.28h.9v.9h-.9zM189.34 576.32h.9v.9h-.9zM181.13 578.9h.9v.9h-.9zM180.9 575.33h.9v.9h-.9zM191.82 565.33h.9v.9h-.9zM177.44 572.83h.9v.9h-.9zM180.32 582.71h.9v.9h-.9zM191.52 569.19h.9v.9h-.9zM184 571.53h.9v.9h-.9zM186.61 577.26h.9v.9h-.9zM187.05 577.8h.9v.9h-.9zM193.39 570.49h.9v.9h-.9zM186.76 571.95h.9v.9h-.9zM183.21 575.31h.9v.9h-.9zM182.72 576.21h.9v.9h-.9zM178.42 574.13h.9v.9h-.9zM179.75 567.52h.9v.9h-.9zM179.2 571.81h.9v.9h-.9zM182.2 564.5h.9v.9h-.9zM181.62 567.32h.9v.9h-.9zM178.6 576.22h.9v.9h-.9zM188.97 574.37h.9v.9h-.9zM180.37 571.9h.9v.9h-.9zM190.21 562.21h.9v.9h-.9zM189.13 563.23h.9v.9h-.9zM179.59 575.1h.9v.9h-.9zM185.66 573.07h.9v.9h-.9zM188.13 573.02h.9v.9h-.9zM178.67 582h.9v.9h-.9zM191.07 580.05h.9v.9h-.9zM180.76 579.31h.9v.9h-.9zM174.3 569.71h.9v.9h-.9zM189.35 575.57h.9v.9h-.9zM181.32 556.21h.9v.9h-.9zM185.37 572.28h.9v.9h-.9zM182.97 575.46h.9v.9h-.9zM187.06 571.39h.9v.9h-.9zM178.17 572.9h.9v.9h-.9zM171.67 569.73h.9v.9h-.9zM193.64 567.21h.9v.9h-.9zM188.67 573.42h.9v.9h-.9zM186.96 571.39h.9v.9h-.9zM178.12 581.38h.9v.9h-.9zM183.72 583.79h.9v.9h-.9zM181.59 572.01h.9v.9h-.9zM184.86 572.38h.9v.9h-.9zM181.32 568.83h.9v.9h-.9zM184.37 575.69h.9v.9h-.9zM192.86 571.51h.9v.9h-.9zM173.54 579.14h.9v.9h-.9zM195.34 568.34h.9v.9h-.9zM178.68 573.98h.9v.9h-.9zM181.99 564.83h.9v.9h-.9zM186.11 567.82h.9v.9h-.9zM173.03 571.88h.9v.9h-.9zM189.74 573.62h.9v.9h-.9zM180.24 573.03h.9v.9h-.9zM188.22 569.54h.9v.9h-.9zM185.25 579.49h.9v.9h-.9zM178.11 571.49h.9v.9h-.9zM185.42 573.48h.9v.9h-.9zM182.33 570.86h.9v.9h-.9zM190.33 562.22h.9v.9h-.9zM183.26 574.52h.9v.9h-.9zM183.2 565.35h.9v.9h-.9zM182.3 575.09h.9v.9h-.9zM179.32 576.82h.9v.9h-.9zM183.55 576.3h.9v.9h-.9zM182.1 571.35h.9v.9h-.9zM184 580.51h.9v.9h-.9zM187.85 572.36h.9v.9h-.9zM180.49 581.21h.9v.9h-.9zM185.92 578.82h.9v.9h-.9zM181.5 568.99h.9v.9h-.9zM184.01 569.87h.9v.9h-.9zM189.21 577.86h.9v.9h-.9zM190.19 578.77h.9v.9h-.9zM180.45 569.24h.9v.9h-.9zM188.24 579.08h.9v.9h-.9zM183.32 566.73h.9v.9h-.9zM174.76 577.61h.9v.9h-.9zM178.54 570.81h.9v.9h-.9zM185.4 579.98h.9v.9h-.9zM171.86 572.46h.9v.9h-.9zM190.01 572.08h.9v.9h-.9zM181.15 578.42h.9v.9h-.9zM176.85 567.83h.9v.9h-.9zM183.12 583.72h.9v.9h-.9zM188.48 572.67h.9v.9h-.9zM188.46 570.15h.9v.9h-.9zM176.63 565.06h.9v.9h-.9zM184.46 579.27h.9v.9h-.9zM185.01 573.29h.9v.9h-.9zM180.84 581.31h.9v.9h-.9zM182.75 565.08h.9v.9h-.9zM190.4 568.2h.9v.9h-.9zM185.12 573.52h.9v.9h-.9zM188.69 574.2h.9v.9h-.9zM189.62 573.75h.9v.9h-.9zM180.51 571.42h.9v.9h-.9zM186.52 568h.9v.9h-.9zM188.01 571.32h.9v.9h-.9zM177.99 569.74h.9v.9h-.9zM187.17 573.14h.9v.9h-.9zM181.5 574.35h.9v.9h-.9zM180.71 582.86h.9v.9h-.9zM183.95 570.92h.9v.9h-.9zM184 567.53h.9v.9h-.9zM177.31 574.34h.9v.9h-.9zM193.74 564.52h.9v.9h-.9zM182.24 564.34h.9v.9h-.9zM183.93 575.11h.9v.9h-.9zM187 564.73h.9v.9h-.9zM179.75 570.73h.9v.9h-.9zM181.92 574h.9v.9h-.9zM180.26 579.62h.9v.9h-.9zM196.85 577.98h.9v.9h-.9zM191.28 565.34h.9v.9h-.9zM188.72 572.83h.9v.9h-.9zM189.76 579.01h.9v.9h-.9zM186.54 562.7h.9v.9h-.9zM183.72 570.71h.9v.9h-.9zM185.42 573.66h.9v.9h-.9zM188.67 562.65h.9v.9h-.9zM179 574.47h.9v.9h-.9zM184.73 571.07h.9v.9h-.9zM182.85 574.39h.9v.9h-.9zM188.66 571.95h.9v.9h-.9zM184.31 562.34h.9v.9h-.9zM184.93 559.14h.9v.9h-.9zM185.22 572.87h.9v.9h-.9zM183.01 569.43h.9v.9h-.9zM180.73 579.73h.9v.9h-.9zM184.93 573.38h.9v.9h-.9zM180.36 575.95h.9v.9h-.9zM189.44 572.36h.9v.9h-.9zM181.02 567.1h.9v.9h-.9zM183.54 568.14h.9v.9h-.9zM175.23 581.28h.9v.9h-.9zM179.63 562.06h.9v.9h-.9zM182.42 565.85h.9v.9h-.9zM177.04 579.91h.9v.9h-.9zM185.2 574.82h.9v.9h-.9zM181.94 577.28h.9v.9h-.9zM191.33 575.08h.9v.9h-.9zM182.11 565.46h.9v.9h-.9zM185.41 583.23h.9v.9h-.9zM186.51 565.31h.9v.9h-.9zM184 581.89h.9v.9h-.9zM179.56 577.91h.9v.9h-.9zM189.55 582.69h.9v.9h-.9zM174.39 565.1h.9v.9h-.9zM185.03 577.92h.9v.9h-.9zM181.08 574.32h.9v.9h-.9zM180.79 582.04h.9v.9h-.9zM176.07 571.4h.9v.9h-.9zM174.7 570.27h.9v.9h-.9zM182.87 574.2h.9v.9h-.9zM192.68 570.33h.9v.9h-.9zM184.87 575.77h.9v.9h-.9zM184.4 582.86h.9v.9h-.9zM183.75 574.76h.9v.9h-.9zM182.39 574.17h.9v.9h-.9zM182.7 580.31h.9v.9h-.9zM183.11 574.4h.9v.9h-.9zM182.74 578.81h.9v.9h-.9zM180.44 580.49h.9v.9h-.9zM179.9 579.08h.9v.9h-.9zM193.41 573h.9v.9h-.9zM182.53 566.71h.9v.9h-.9zM187.01 573.14h.9v.9h-.9zM187.93 568.72h.9v.9h-.9zM185.18 571.44h.9v.9h-.9zM175.94 575.61h.9v.9h-.9zM186.57 576.91h.9v.9h-.9zM176.94 568.99h.9v.9h-.9zM177.71 568.85h.9v.9h-.9zM181.5 576.02h.9v.9h-.9zM193.43 572.76h.9v.9h-.9zM190.88 561.76h.9v.9h-.9zM191.37 577.04h.9v.9h-.9zM185.39 578.61h.9v.9h-.9zM187.37 562.04h.9v.9h-.9zM182.55 582.41h.9v.9h-.9zM181.14 570.32h.9v.9h-.9zM181.14 576.42h.9v.9h-.9zM184.01 569.87h.9v.9h-.9zM185.91 577.19h.9v.9h-.9zM178.02 568.18h.9v.9h-.9zM172.35 574.59h.9v.9h-.9zM183.06 569.62h.9v.9h-.9zM179.73 573.93h.9v.9h-.9zM183.16 577.55h.9v.9h-.9zM187.52 575.68h.9v.9h-.9zM189.08 566.47h.9v.9h-.9zM186.29 575.57h.9v.9h-.9zM177.33 571.08h.9v.9h-.9zM185.41 573.9h.9v.9h-.9zM176.17 572.14h.9v.9h-.9zM191.29 577.35h.9v.9h-.9zM183.44 582.38h.9v.9h-.9zM178.07 574.09h.9v.9h-.9zM188.21 570.65h.9v.9h-.9zM176.93 579.12h.9v.9h-.9zM191.71 555.98h.9v.9h-.9zM183.84 565.94h.9v.9h-.9zM181.38 565.5h.9v.9h-.9zM197.13 566.38h.9v.9h-.9zM183.24 569.5h.9v.9h-.9zM177.62 572.41h.9v.9h-.9zM184.56 583.48h.9v.9h-.9zM177.21 575.82h.9v.9h-.9zM180.62 564.71h.9v.9h-.9zM203.26 567.69h.9v.9h-.9zM184.33 568.94h.9v.9h-.9zM179.87 568.23h.9v.9h-.9zM188.57 570.15h.9v.9h-.9zM182.21 575.32h.9v.9h-.9zM176.34 577.04h.9v.9h-.9zM182.07 577.02h.9v.9h-.9zM180.91 574.74h.9v.9h-.9zM185.82 579.42h.9v.9h-.9zM179.25 581h.9v.9h-.9zM177.64 574.08h.9v.9h-.9zM183.71 574.75h.9v.9h-.9zM182 580.05h.9v.9h-.9zM173.2 576.8h.9v.9h-.9zM185.93 573.42h.9v.9h-.9zM184.44 579.54h.9v.9h-.9zM178.62 578.75h.9v.9h-.9zM188.78 571.17h.9v.9h-.9zM178.36 568.44h.9v.9h-.9zM185.34 568.38h.9v.9h-.9zM196.48 574.4h.9v.9h-.9zM175.9 573.88h.9v.9h-.9zM191.31 576.32h.9v.9h-.9zM177.46 581.82h.9v.9h-.9zM180 578.46h.9v.9h-.9zM186.07 570.48h.9v.9h-.9zM182.17 581.49h.9v.9h-.9zM185.71 572.98h.9v.9h-.9zM188.07 575.8h.9v.9h-.9zM184.79 563.73h.9v.9h-.9zM183.74 570.76h.9v.9h-.9zM186.98 569.24h.9v.9h-.9zM185.44 566.81h.9v.9h-.9zM187.87 568.27h.9v.9h-.9zM182.85 577.67h.9v.9h-.9zM181.24 574.46h.9v.9h-.9zM188.76 583.77h.9v.9h-.9zM173.19 570.64h.9v.9h-.9zM186.67 579.05h.9v.9h-.9zM180.42 575.21h.9v.9h-.9zM181.92 566.77h.9v.9h-.9zM174.56 567.96h.9v.9h-.9zM190.08 569.88h.9v.9h-.9zM193.6 575.51h.9v.9h-.9zM185.08 577.57h.9v.9h-.9zM187.29 578.77h.9v.9h-.9zM177.7 571.75h.9v.9h-.9zM180.02 575.36h.9v.9h-.9zM181.64 566.57h.9v.9h-.9zM194.53 565.89h.9v.9h-.9zM185.07 573.28h.9v.9h-.9zM178.4 579.57h.9v.9h-.9zM185.48 571.46h.9v.9h-.9zM187.61 568.42h.9v.9h-.9zM187.8 577.16h.9v.9h-.9zM173.41 575.04h.9v.9h-.9zM184.74 578.33h.9v.9h-.9zM183.84 573.71h.9v.9h-.9zM181.12 572.62h.9v.9h-.9zM183.02 567.31h.9v.9h-.9zM186.49 571.13h.9v.9h-.9zM185.84 570.14h.9v.9h-.9zM185.23 574.27h.9v.9h-.9zM187.84 575.76h.9v.9h-.9zM188.07 571.76h.9v.9h-.9zM182.7 572.43h.9v.9h-.9zM176.19 574.82h.9v.9h-.9zM188.91 577.45h.9v.9h-.9zM178.38 576.98h.9v.9h-.9zM187.08 564.49h.9v.9h-.9zM184.9 575.62h.9v.9h-.9zM187.07 574.65h.9v.9h-.9zM173.54 563.57h.9v.9h-.9zM193.78 568.97h.9v.9h-.9zM189.92 580.31h.9v.9h-.9zM183.48 566.7h.9v.9h-.9zM190.43 572.01h.9v.9h-.9zM185.82 576.34h.9v.9h-.9zM188.18 579.14h.9v.9h-.9zM175.28 566.98h.9v.9h-.9zM183.77 573.88h.9v.9h-.9zM187.23 572.15h.9v.9h-.9zM190.47 579.51h.9v.9h-.9zM188.63 567.72h.9v.9h-.9zM182.54 573.67h.9v.9h-.9zM177.05 569.95h.9v.9h-.9zM183.87 566.17h.9v.9h-.9zM185.95 576.27h.9v.9h-.9zM181.72 572.18h.9v.9h-.9zM186.27 576.24h.9v.9h-.9zM184.99 565.86h.9v.9h-.9zM179.45 572.55h.9v.9h-.9zM173.08 571.34h.9v.9h-.9zM179.02 579.94h.9v.9h-.9zM182.35 553.65h.9v.9h-.9zM180.02 554.09h.9v.9h-.9zM174.87 560.37h.9v.9h-.9zM192.67 559.36h.9v.9h-.9zM181.56 569.19h.9v.9h-.9zM188.13 548.88h.9v.9h-.9zM181.32 552.59h.9v.9h-.9zM184.71 568.74h.9v.9h-.9zM180.47 556.7h.9v.9h-.9zM185.72 547.46h.9v.9h-.9zM181.94 563.43h.9v.9h-.9zM192.27 541.42h.9v.9h-.9zM189.54 555.43h.9v.9h-.9zM193.28 563.5h.9v.9h-.9zM197.65 560.75h.9v.9h-.9zM182.46 550.64h.9v.9h-.9zM175.81 562.91h.9v.9h-.9zM188.31 565.25h.9v.9h-.9zM187.25 544.76h.9v.9h-.9zM182.39 555.85h.9v.9h-.9zM186.03 564.78h.9v.9h-.9zM194.11 560.53h.9v.9h-.9zM171.75 548.97h.9v.9h-.9zM177.3 560.11h.9v.9h-.9zM183.58 567.86h.9v.9h-.9zM191.93 553.97h.9v.9h-.9zM191.07 558.11h.9v.9h-.9zM187.93 569.91h.9v.9h-.9zM177.63 557.41h.9v.9h-.9zM194.89 551.25h.9v.9h-.9zM186.38 559.17h.9v.9h-.9zM182.33 546.45h.9v.9h-.9zM180.59 549.33h.9v.9h-.9zM191.95 560.2h.9v.9h-.9zM189.51 547.5h.9v.9h-.9zM188.22 559.27h.9v.9h-.9zM191.74 551.64h.9v.9h-.9zM190.21 570.11h.9v.9h-.9zM196.58 549.8h.9v.9h-.9zM177.79 545.08h.9v.9h-.9zM191.18 563.25h.9v.9h-.9zM187.2 550.36h.9v.9h-.9zM193.06 572.17h.9v.9h-.9zM184.78 556.94h.9v.9h-.9zM192.64 562.47h.9v.9h-.9zM193.64 554.44h.9v.9h-.9zM187.18 555.02h.9v.9h-.9zM181.34 555.38h.9v.9h-.9zM183.18 562.45h.9v.9h-.9zM183.05 558.62h.9v.9h-.9zM179.81 547.19h.9v.9h-.9zM194.18 549.33h.9v.9h-.9zM196.65 566.29h.9v.9h-.9zM182.33 558.19h.9v.9h-.9zM183.86 552.68h.9v.9h-.9zM193.05 556.88h.9v.9h-.9zM191.19 551.96h.9v.9h-.9zM180.57 569.76h.9v.9h-.9zM183.2 548.32h.9v.9h-.9zM183.91 567.28h.9v.9h-.9zM183.97 551.68h.9v.9h-.9zM189.09 566.67h.9v.9h-.9zM183.68 555.2h.9v.9h-.9zM182.67 581.8h.9v.9h-.9zM183.8 573.38h.9v.9h-.9zM184.06 561.58h.9v.9h-.9zM171.93 559.57h.9v.9h-.9zM185.35 555.22h.9v.9h-.9zM182.39 546h.9v.9h-.9zM175.45 559.47h.9v.9h-.9zM180.91 557.22h.9v.9h-.9zM183.85 553.55h.9v.9h-.9zM180.34 574.35h.9v.9h-.9zM177.93 553.53h.9v.9h-.9zM183.12 547.85h.9v.9h-.9zM178.85 565.6h.9v.9h-.9zM190.99 559.17h.9v.9h-.9zM205.82 565.3h.9v.9h-.9zM192.93 550.83h.9v.9h-.9zM191.97 572.83h.9v.9h-.9zM182.58 573.92h.9v.9h-.9zM179.84 548.03h.9v.9h-.9zM184.72 550.91h.9v.9h-.9zM189.1 548.28h.9v.9h-.9zM185.55 540.79h.9v.9h-.9zM184.81 567.25h.9v.9h-.9zM183.32 560.75h.9v.9h-.9zM192.02 548.35h.9v.9h-.9zM176.86 558.72h.9v.9h-.9zM186.8 555.65h.9v.9h-.9zM178.79 568.68h.9v.9h-.9zM177.56 555.72h.9v.9h-.9zM184.75 564.38h.9v.9h-.9zM182.15 550.79h.9v.9h-.9zM197.94 550.58h.9v.9h-.9zM190.14 556.65h.9v.9h-.9zM181.96 557.62h.9v.9h-.9zM183.38 560.74h.9v.9h-.9zM185.48 549.47h.9v.9h-.9zM182.53 578.56h.9v.9h-.9zM196.87 563.65h.9v.9h-.9zM186.52 555.33h.9v.9h-.9zM193.93 554.07h.9v.9h-.9zM179.76 564.09h.9v.9h-.9zM178.82 551.06h.9v.9h-.9zM194.31 543.89h.9v.9h-.9zM184.6 559.06h.9v.9h-.9zM186.68 545.21h.9v.9h-.9zM183.56 555.07h.9v.9h-.9zM197.36 566.83h.9v.9h-.9zM180.18 565.69h.9v.9h-.9zM189.22 557.01h.9v.9h-.9zM183.47 555.59h.9v.9h-.9zM175.13 552.47h.9v.9h-.9zM191.03 570.7h.9v.9h-.9zM196.92 554.7h.9v.9h-.9zM188.98 536.87h.9v.9h-.9zM183.3 546.91h.9v.9h-.9zM190.31 543.44h.9v.9h-.9zM178.34 548.3h.9v.9h-.9zM187.57 565.37h.9v.9h-.9zM179.13 573.85h.9v.9h-.9zM186.06 550.69h.9v.9h-.9zM187.27 557.88h.9v.9h-.9zM190.36 561.03h.9v.9h-.9zM199.07 568.28h.9v.9h-.9zM180.93 564.92h.9v.9h-.9zM189.91 549.22h.9v.9h-.9zM180.22 550.92h.9v.9h-.9zM183.65 568.83h.9v.9h-.9zM181.45 558.67h.9v.9h-.9zM189.69 566.51h.9v.9h-.9zM187.08 548.87h.9v.9h-.9zM199.16 565.63h.9v.9h-.9zM193.77 572.22h.9v.9h-.9zM194.04 561.65h.9v.9h-.9zM188.07 563.55h.9v.9h-.9zM175.39 565.15h.9v.9h-.9zM178.79 561.71h.9v.9h-.9zM178.55 564.28h.9v.9h-.9zM181.92 579.85h.9v.9h-.9zM186.27 562.47h.9v.9h-.9zM179.23 555.48h.9v.9h-.9zM184.67 555.49h.9v.9h-.9zM182.25 550.33h.9v.9h-.9zM189.93 554.64h.9v.9h-.9zM179.82 561.22h.9v.9h-.9zM179.84 556.48h.9v.9h-.9zM181.76 549.89h.9v.9h-.9zM183.6 550.79h.9v.9h-.9zM177.01 561.1h.9v.9h-.9zM183.14 545.17h.9v.9h-.9zM182.51 559.64h.9v.9h-.9zM187.79 561.29h.9v.9h-.9zM186.67 563.24h.9v.9h-.9zM181.88 551.01h.9v.9h-.9zM188.98 554.41h.9v.9h-.9zM185.11 563.72h.9v.9h-.9zM191.06 568.73h.9v.9h-.9zM180.64 554.76h.9v.9h-.9zM188.61 545.45h.9v.9h-.9zM176.99 563.34h.9v.9h-.9zM181.12 549.92h.9v.9h-.9zM190.19 562.67h.9v.9h-.9zM190.93 555.11h.9v.9h-.9zM183.2 555.03h.9v.9h-.9zM186.95 540.22h.9v.9h-.9zM180.62 564.21h.9v.9h-.9zM180.06 557.44h.9v.9h-.9zM185.85 562.57h.9v.9h-.9zM182.01 548.09h.9v.9h-.9zM201.03 551.74h.9v.9h-.9zM196 542.62h.9v.9h-.9zM185.76 556.29h.9v.9h-.9zM197.18 575.87h.9v.9h-.9zM191.31 549.13h.9v.9h-.9zM179.91 551.42h.9v.9h-.9zM181.75 560.3h.9v.9h-.9zM180.03 555.85h.9v.9h-.9zM194.47 570.61h.9v.9h-.9zM173.15 549.68h.9v.9h-.9zM182.68 569.36h.9v.9h-.9zM182.95 574.72h.9v.9h-.9zM187.39 570.57h.9v.9h-.9zM179.57 555.3h.9v.9h-.9zM191.58 563.01h.9v.9h-.9zM173.12 555.61h.9v.9h-.9zM186.21 563.52h.9v.9h-.9zM181 573.23h.9v.9h-.9zM186.03 570.68h.9v.9h-.9zM187.64 558.75h.9v.9h-.9zM183.03 547.81h.9v.9h-.9zM190.59 564.63h.9v.9h-.9zM191.03 554.73h.9v.9h-.9zM178.64 554.7h.9v.9h-.9zM183.07 557.91h.9v.9h-.9zM191.34 550.05h.9v.9h-.9zM181.95 564.03h.9v.9h-.9zM190.84 577.35h.9v.9h-.9zM188.43 550.62h.9v.9h-.9zM178.43 551.11h.9v.9h-.9zM185.52 560.23h.9v.9h-.9zM184.64 552.66h.9v.9h-.9zM183.89 557.34h.9v.9h-.9zM188.86 558.74h.9v.9h-.9zM179.9 547.81h.9v.9h-.9zM194.53 557.26h.9v.9h-.9zM183.95 557.8h.9v.9h-.9zM192.27 555.28h.9v.9h-.9zM186.19 555.95h.9v.9h-.9zM188.77 549.2h.9v.9h-.9zM186.37 566.99h.9v.9h-.9zM192.63 563.4h.9v.9h-.9zM186.95 571.73h.9v.9h-.9zM189.59 570.22h.9v.9h-.9zM177.42 548.44h.9v.9h-.9zM190.18 555.69h.9v.9h-.9zM182.33 549.74h.9v.9h-.9zM194.55 547.61h.9v.9h-.9zM185.75 545.86h.9v.9h-.9zM183.97 577.6h.9v.9h-.9zM200.6 553.71h.9v.9h-.9zM178.65 572.22h.9v.9h-.9zM179.62 542.47h.9v.9h-.9zM187.3 548.62h.9v.9h-.9zM175.84 567.81h.9v.9h-.9zM180.43 548.75h.9v.9h-.9zM186.16 556.37h.9v.9h-.9zM192.24 558.85h.9v.9h-.9zM195.23 567.93h.9v.9h-.9zM196.43 567.79h.9v.9h-.9zM185.54 562.77h.9v.9h-.9zM185.23 544.46h.9v.9h-.9zM177.6 564.47h.9v.9h-.9zM176.91 557.47h.9v.9h-.9zM178.49 560.19h.9v.9h-.9zM183.84 553.93h.9v.9h-.9zM179.7 538.67h.9v.9h-.9zM185.57 546.76h.9v.9h-.9zM183.22 561.25h.9v.9h-.9zM191.77 564.14h.9v.9h-.9zM194.51 545.65h.9v.9h-.9zM189.4 571.68h.9v.9h-.9zM187.61 548.36h.9v.9h-.9zM187.63 553.5h.9v.9h-.9zM181 567.29h.9v.9h-.9zM183.97 548.28h.9v.9h-.9zM180.8 575.11h.9v.9h-.9zM179.72 563.9h.9v.9h-.9zM186.23 568.2h.9v.9h-.9zM183.33 549.79h.9v.9h-.9zM181.03 549.06h.9v.9h-.9zM201.6 559.72h.9v.9h-.9zM183.07 568.98h.9v.9h-.9zM189.28 556.43h.9v.9h-.9zM189.06 560.39h.9v.9h-.9zM192.27 572.4h.9v.9h-.9zM183.11 557.71h.9v.9h-.9zM183.95 568.67h.9v.9h-.9zM187.54 564.84h.9v.9h-.9zM190.82 552.49h.9v.9h-.9zM185.92 570.08h.9v.9h-.9zM190.98 565.1h.9v.9h-.9zM183.32 554.89h.9v.9h-.9zM179.66 555.67h.9v.9h-.9zM184.7 545.56h.9v.9h-.9zM192.49 551.37h.9v.9h-.9zM186.7 563.26h.9v.9h-.9zM181.6 542.28h.9v.9h-.9zM191.24 561.58h.9v.9h-.9zM183.5 567.89h.9v.9h-.9zM190.79 549.72h.9v.9h-.9zM184.6 542.7h.9v.9h-.9zM183.44 570.31h.9v.9h-.9zM179.78 565.21h.9v.9h-.9zM175.54 555.46h.9v.9h-.9zM191.09 572.97h.9v.9h-.9zM187.99 564.61h.9v.9h-.9zM196.02 536.79h.9v.9h-.9zM174.27 574.48h.9v.9h-.9zM200.76 563.23h.9v.9h-.9zM185.53 560.29h.9v.9h-.9zM185.29 552.68h.9v.9h-.9zM185.01 556.93h.9v.9h-.9zM189.35 563.95h.9v.9h-.9zM191.33 563.14h.9v.9h-.9zM178.96 570.14h.9v.9h-.9zM187.21 553.41h.9v.9h-.9zM196.98 548.52h.9v.9h-.9zM177.7 553.63h.9v.9h-.9zM187.76 564.94h.9v.9h-.9zM185.8 563.84h.9v.9h-.9zM180.66 552.76h.9v.9h-.9zM185.94 546.33h.9v.9h-.9zM186.3 554.59h.9v.9h-.9zM189.44 549.22h.9v.9h-.9zM181.76 553.1h.9v.9h-.9zM182.79 549.34h.9v.9h-.9zM183.47 546.27h.9v.9h-.9zM188.5 563.87h.9v.9h-.9zM185.01 556.39h.9v.9h-.9zM179.48 549.67h.9v.9h-.9zM183.72 550.16h.9v.9h-.9zM177.68 559.48h.9v.9h-.9zM184.99 554.5h.9v.9h-.9zM179.97 557.55h.9v.9h-.9zM180.73 554.29h.9v.9h-.9zM186.28 564.29h.9v.9h-.9zM189.88 552.75h.9v.9h-.9zM192.73 547.96h.9v.9h-.9zM184.02 569.36h.9v.9h-.9zM200.08 559.15h.9v.9h-.9zM182.84 554.78h.9v.9h-.9zM177.45 556.75h.9v.9h-.9zM182.43 551.47h.9v.9h-.9zM192.66 551.25h.9v.9h-.9zM195.78 565.33h.9v.9h-.9zM189.14 552.91h.9v.9h-.9zM181.9 540.67h.9v.9h-.9zM186.83 555.68h.9v.9h-.9zM187.55 552.19h.9v.9h-.9zM188.17 545.01h.9v.9h-.9zM191.87 530.66h.9v.9h-.9zM193.2 554.99h.9v.9h-.9zM184.08 544.65h.9v.9h-.9zM178.81 564.21h.9v.9h-.9zM180.47 557.69h.9v.9h-.9zM184.13 575.32h.9v.9h-.9zM190.71 546.54h.9v.9h-.9zM182.08 548.04h.9v.9h-.9zM176.37 552.08h.9v.9h-.9zM192.03 558.45h.9v.9h-.9zM189.33 556.84h.9v.9h-.9zM182.44 558.73h.9v.9h-.9zM184.62 574.77h.9v.9h-.9zM196.39 561.29h.9v.9h-.9zM188.89 540.7h.9v.9h-.9zM184.33 578.82h.9v.9h-.9zM180.08 565.1h.9v.9h-.9zM192.76 554.56h.9v.9h-.9zM183.68 554.05h.9v.9h-.9zM190.09 558.21h.9v.9h-.9zM176.3 580.82h.9v.9h-.9zM176.72 580.3h.9v.9h-.9zM175.65 581.87h.9v.9h-.9zM183.25 578.95h.9v.9h-.9zM176.32 582.88h.9v.9h-.9zM175.02 581.58h.9v.9h-.9zM179.81 582.05h.9v.9h-.9zM174.94 582.33h.9v.9h-.9zM180.41 581.33h.9v.9h-.9zM177.95 578.44h.9v.9h-.9zM186.3 581.86h.9v.9h-.9zM175.69 583.95h.9v.9h-.9zM184.78 579.94h.9v.9h-.9zM176.79 579.66h.9v.9h-.9zM179.68 581.23h.9v.9h-.9zM179.49 579.05h.9v.9h-.9zM184.32 582.87h.9v.9h-.9zM172.72 583.33h.9v.9h-.9zM181.77 580.96h.9v.9h-.9zM177.4 583.26h.9v.9h-.9zM180.72 581.5h.9v.9h-.9zM188.91 577.82h.9v.9h-.9zM183.1 581.92h.9v.9h-.9zM182.16 582.62h.9v.9h-.9zM176.95 581.99h.9v.9h-.9zM176.55 580.95h.9v.9h-.9zM181.84 583.25h.9v.9h-.9zM180.58 582.55h.9v.9h-.9zM186.58 584.17h.9v.9h-.9zM179.29 581.59h.9v.9h-.9zM181.88 578.37h.9v.9h-.9zM175.05 580.63h.9v.9h-.9zM179.05 581.25h.9v.9h-.9zM192.29 583.43h.9v.9h-.9zM178.05 581.38h.9v.9h-.9zM185.17 583.61h.9v.9h-.9zM175.96 580.72h.9v.9h-.9zM173.9 582.2h.9v.9h-.9zM183.85 579.96h.9v.9h-.9zM174.97 579.4h.9v.9h-.9zM189.6 583.56h.9v.9h-.9zM179.32 579.63h.9v.9h-.9zM172.11 580.75h.9v.9h-.9zM178.25 579.53h.9v.9h-.9zM178.13 582.19h.9v.9h-.9zM177.21 580.66h.9v.9h-.9zM172.15 580.94h.9v.9h-.9zM183.3 580.36h.9v.9h-.9zM179.93 579.05h.9v.9h-.9zM181.4 583.06h.9v.9h-.9zM175.82 583.72h.9v.9h-.9zM173 582.09h.9v.9h-.9zM187.76 581.96h.9v.9h-.9zM181.15 581.46h.9v.9h-.9zM179.75 580.34h.9v.9h-.9z" fill="#000"/>
<rect x="170.8" y="501.8" width="90.6" height="87.8" fill="none" stroke="#555" stroke-width="1.2"/>
<rect x="200.3" y="535" width="56.1" height="51.1" fill="none" stroke="#333" stroke-width="1.1"/>
<text x="222.3" y="565.6" font-size="10.1">3%</text>
<path d="M169 586.79H170.8M169 583.38H170.8M169 579.98H170.8M169 576.57H170.8M168.2 573.16H170.8M169 569.75H170.8M169 566.34H170.8M169 562.94H170.8M169 559.53H170.8M168.2 556.12H170.8M169 552.71H170.8M169 549.3H170.8M169 545.9H170.8M169 542.49H170.8M168.2 539.08H170.8M169 535.67H170.8M169 532.26H170.8M169 528.86H170.8M169 525.45H170.8M168.2 522.04H170.8M169 518.63H170.8M169 515.22H170.8M169 511.82H170.8M169 508.41H170.8M168.2 505H170.8M174.25 589.6V592.4M176.62 589.6V592.4M178.56 589.6V592.4M180.2 589.6V592.4M181.63 589.6V592.4M182.88 589.6V592.4M184 589.6V594.2M191.38 589.6V592.4M195.69 589.6V592.4M198.75 589.6V592.4M201.12 589.6V592.4M203.06 589.6V592.4M204.7 589.6V592.4M206.13 589.6V592.4M207.38 589.6V592.4M208.5 589.6V594.2M215.88 589.6V592.4M220.19 589.6V592.4M223.25 589.6V592.4M225.62 589.6V592.4M227.56 589.6V592.4M229.2 589.6V592.4M230.63 589.6V592.4M231.88 589.6V592.4M233 589.6V594.2M240.38 589.6V592.4M244.69 589.6V592.4M247.75 589.6V592.4M250.12 589.6V592.4M252.06 589.6V592.4M253.7 589.6V592.4M255.13 589.6V592.4M256.38 589.6V592.4M257.5 589.6V594.2" fill="none" stroke="#222" stroke-width="0.9"/>
<text x="165.4" y="574.06" font-size="5" text-anchor="middle" font-weight="normal" fill="#333" transform="rotate(-90 165.4 574.06)">50</text>
<text x="165.4" y="557.02" font-size="5" text-anchor="middle" font-weight="normal" fill="#333" transform="rotate(-90 165.4 557.02)">100</text>
<text x="165.4" y="539.98" font-size="5" text-anchor="middle" font-weight="normal" fill="#333" transform="rotate(-90 165.4 539.98)">150</text>
<text x="165.4" y="522.94" font-size="5" text-anchor="middle" font-weight="normal" fill="#333" transform="rotate(-90 165.4 522.94)">200</text>
<text x="165.4" y="505.9" font-size="5" text-anchor="middle" font-weight="normal" fill="#333" transform="rotate(-90 165.4 505.9)">250</text>
<text x="182.8" y="600.9" font-size="5.6" text-anchor="middle" font-weight="normal" fill="#222">10</text>
<text x="185.5" y="597.2" font-size="3.6" font-weight="normal" fill="#222">2</text>
<text x="207.3" y="600.9" font-size="5.6" text-anchor="middle" font-weight="normal" fill="#222">10</text>
<text x="210" y="597.2" font-size="3.6" font-weight="normal" fill="#222">3</text>
<text x="231.8" y="600.9" font-size="5.6" text-anchor="middle" font-weight="normal" fill="#222">10</text>
<text x="234.5" y="597.2" font-size="3.6" font-weight="normal" fill="#222">4</text>
<text x="256.3" y="600.9" font-size="5.6" text-anchor="middle" font-weight="normal" fill="#222">10</text>
<text x="259" y="597.2" font-size="3.6" font-weight="normal" fill="#222">5</text>
<text x="159.3" y="545.2" font-size="6.6" text-anchor="middle" font-weight="normal" fill="#333" transform="rotate(-90 159.3 545.2)">SSC-A</text>
<text x="158.8" y="512" font-size="5" text-anchor="middle" font-weight="normal" fill="#333" transform="rotate(-90 158.8 512)">(x 1,000)</text>
<path d="M289.85 562.22h.9v.9h-.9zM320.51 563.9h.9v.9h-.9zM309.55 570.54h.9v.9h-.9zM310.42 569.47h.9v.9h-.9zM315.93 567.04h.9v.9h-.9zM293.94 564.48h.9v.9h-.9zM322.45 560.62h.9v.9h-.9zM315.72 569.92h.9v.9h-.9zM297 540.36h.9v.9h-.9zM308.96 559.69h.9v.9h-.9zM300.52 575.85h.9v.9h-.9zM298.58 570.31h.9v.9h-.9zM310.83 568.91h.9v.9h-.9zM336.77 548.4h.9v.9h-.9zM322.56 565.66h.9v.9h-.9zM305.35 560.71h.9v.9h-.9zM309.75 567.46h.9v.9h-.9zM296.52 582.5h.9v.9h-.9zM298.94 565.74h.9v.9h-.9zM291.65 568.45h.9v.9h-.9zM314.13 577.26h.9v.9h-.9zM322.77 562.31h.9v.9h-.9zM331.39 566.02h.9v.9h-.9zM330.67 583.19h.9v.9h-.9zM303.63 556.88h.9v.9h-.9zM316.7 580.59h.9v.9h-.9zM314.71 577.35h.9v.9h-.9zM317.41 575.41h.9v.9h-.9zM327.5 564.24h.9v.9h-.9zM289.63 565.9h.9v.9h-.9zM298.28 555.78h.9v.9h-.9zM306.88 573.74h.9v.9h-.9zM283.71 552.73h.9v.9h-.9zM320.23 558.65h.9v.9h-.9zM303.79 579.78h.9v.9h-.9zM324.7 570.39h.9v.9h-.9zM316.63 541.4h.9v.9h-.9zM316.87 570.62h.9v.9h-.9zM289.97 568.73h.9v.9h-.9zM315.5 565.93h.9v.9h-.9zM320.12 575.33h.9v.9h-.9zM309.91 564.67h.9v.9h-.9zM292.88 577.76h.9v.9h-.9zM301.28 570.01h.9v.9h-.9zM330.36 574.31h.9v.9h-.9zM291.63 566.2h.9v.9h-.9zM299.34 551.5h.9v.9h-.9zM298.11 572.52h.9v.9h-.9zM313.86 565.07h.9v.9h-.9zM311.59 556.04h.9v.9h-.9zM298.59 565.44h.9v.9h-.9zM320.15 564h.9v.9h-.9zM306.9 570.17h.9v.9h-.9zM329.46 555.14h.9v.9h-.9zM316.53 568.76h.9v.9h-.9zM308.2 569.34h.9v.9h-.9zM305.9 555.39h.9v.9h-.9zM320.83 565.89h.9v.9h-.9zM304.45 574.16h.9v.9h-.9zM296.47 560.26h.9v.9h-.9zM320.55 575.21h.9v.9h-.9zM337.03 562.71h.9v.9h-.9zM289.11 553.03h.9v.9h-.9zM292.66 568h.9v.9h-.9zM305.87 560.67h.9v.9h-.9zM295.24 560.47h.9v.9h-.9zM304.13 578.2h.9v.9h-.9zM317.79 579.9h.9v.9h-.9zM320.46 574.17h.9v.9h-.9zM325.39 571.27h.9v.9h-.9zM330.4 577.67h.9v.9h-.9zM334.22 569.06h.9v.9h-.9zM305.29 571.92h.9v.9h-.9zM303.93 560.46h.9v.9h-.9zM315.16 556.49h.9v.9h-.9zM306.95 580.29h.9v.9h-.9zM310.85 574.73h.9v.9h-.9zM317.97 570.63h.9v.9h-.9zM310.61 572.77h.9v.9h-.9zM295.79 572.5h.9v.9h-.9zM294.32 559.91h.9v.9h-.9zM301.03 554.44h.9v.9h-.9zM316.08 573.22h.9v.9h-.9zM339.62 568.67h.9v.9h-.9zM319.45 560h.9v.9h-.9zM318.9 556.27h.9v.9h-.9zM336.34 557.94h.9v.9h-.9zM303.46 574.05h.9v.9h-.9zM295.99 568.88h.9v.9h-.9zM322.64 568.47h.9v.9h-.9zM322.01 562.28h.9v.9h-.9zM317.31 546.53h.9v.9h-.9zM330 560.76h.9v.9h-.9zM297.18 567.17h.9v.9h-.9zM332.56 560.38h.9v.9h-.9zM308.8 563.61h.9v.9h-.9zM296.23 554.71h.9v.9h-.9zM317.24 573.67h.9v.9h-.9zM298.73 569.15h.9v.9h-.9zM315.28 570.58h.9v.9h-.9zM306.79 567.43h.9v.9h-.9zM312.9 556.99h.9v.9h-.9zM307.09 574.48h.9v.9h-.9zM301.35 579.36h.9v.9h-.9zM305.77 556.65h.9v.9h-.9zM305.01 554.27h.9v.9h-.9zM317.5 552.03h.9v.9h-.9zM309.29 564.79h.9v.9h-.9zM304.88 570.99h.9v.9h-.9zM313.04 561.76h.9v.9h-.9zM320.39 562.78h.9v.9h-.9zM321.47 579.64h.9v.9h-.9zM314.27 575.73h.9v.9h-.9zM290.61 572.31h.9v.9h-.9zM288.46 565.36h.9v.9h-.9zM318.67 541.77h.9v.9h-.9zM298.29 559.74h.9v.9h-.9zM296.07 567.22h.9v.9h-.9zM317.85 556.13h.9v.9h-.9zM300.46 549.54h.9v.9h-.9zM299.32 547.3h.9v.9h-.9zM288.27 571.42h.9v.9h-.9zM321.15 559.36h.9v.9h-.9zM313.88 559.7h.9v.9h-.9zM323.79 583.47h.9v.9h-.9zM300.19 562.52h.9v.9h-.9zM330.62 581.8h.9v.9h-.9zM308.85 573.01h.9v.9h-.9zM287.08 564.21h.9v.9h-.9zM305.09 565.6h.9v.9h-.9zM313.13 552.3h.9v.9h-.9zM285.1 567.56h.9v.9h-.9zM319.09 571.63h.9v.9h-.9zM309.81 551.83h.9v.9h-.9zM302.56 552.33h.9v.9h-.9zM336.13 570.39h.9v.9h-.9zM319.08 568.93h.9v.9h-.9zM303.65 578.13h.9v.9h-.9zM321.21 572.99h.9v.9h-.9zM317.07 573.96h.9v.9h-.9zM305.16 571.07h.9v.9h-.9zM310.14 564.65h.9v.9h-.9zM303.02 578.31h.9v.9h-.9zM294.94 565.27h.9v.9h-.9zM323.17 566.33h.9v.9h-.9zM313.85 555.62h.9v.9h-.9zM293.19 582.7h.9v.9h-.9zM311.19 566.19h.9v.9h-.9zM289.93 557.25h.9v.9h-.9zM294.77 566.54h.9v.9h-.9zM307.43 561.27h.9v.9h-.9zM299.76 568.05h.9v.9h-.9zM325.17 553.79h.9v.9h-.9zM289.42 577.63h.9v.9h-.9zM289.31 563.16h.9v.9h-.9zM307.9 577.12h.9v.9h-.9zM310.98 559.39h.9v.9h-.9zM311.63 547.62h.9v.9h-.9zM320.37 580.94h.9v.9h-.9zM306.19 574.73h.9v.9h-.9zM294.45 580.92h.9v.9h-.9zM300.09 559.49h.9v.9h-.9zM298.48 550.34h.9v.9h-.9zM289.28 565.13h.9v.9h-.9zM315.21 561.67h.9v.9h-.9zM287.44 570.15h.9v.9h-.9zM322.88 568h.9v.9h-.9zM294.24 564.17h.9v.9h-.9zM282.35 566.45h.9v.9h-.9zM325.84 577.48h.9v.9h-.9zM307.82 571.1h.9v.9h-.9zM301.85 568.24h.9v.9h-.9zM300.78 568.55h.9v.9h-.9zM301.86 568.85h.9v.9h-.9zM318.59 566.83h.9v.9h-.9zM291.13 571.72h.9v.9h-.9zM305.61 562.33h.9v.9h-.9zM316.78 559.12h.9v.9h-.9zM321.88 572.27h.9v.9h-.9zM299.47 560.42h.9v.9h-.9zM307.34 558.45h.9v.9h-.9zM322.09 545.73h.9v.9h-.9zM311.05 563.72h.9v.9h-.9zM293.89 572.95h.9v.9h-.9zM302.35 571.3h.9v.9h-.9zM303.01 564.34h.9v.9h-.9zM316.23 576.04h.9v.9h-.9zM322.77 566.81h.9v.9h-.9zM329.45 563.81h.9v.9h-.9zM290.24 549.37h.9v.9h-.9zM289.09 558.85h.9v.9h-.9zM284.43 570.1h.9v.9h-.9zM309.46 566.67h.9v.9h-.9zM312.28 565.97h.9v.9h-.9zM305.53 564h.9v.9h-.9zM309.58 556.36h.9v.9h-.9zM326.62 581.56h.9v.9h-.9zM295.65 575.52h.9v.9h-.9zM286.68 572.71h.9v.9h-.9zM298.75 576.51h.9v.9h-.9zM310.59 576h.9v.9h-.9zM317.38 571.97h.9v.9h-.9zM305.25 582.06h.9v.9h-.9zM313.95 571.58h.9v.9h-.9zM328.77 564.57h.9v.9h-.9zM333.04 577.27h.9v.9h-.9zM310.11 553.31h.9v.9h-.9zM325.81 564.07h.9v.9h-.9zM310.37 568.17h.9v.9h-.9zM322.18 573h.9v.9h-.9zM283.94 560.8h.9v.9h-.9zM313.86 568.65h.9v.9h-.9zM319.98 572.37h.9v.9h-.9zM331.44 560.18h.9v.9h-.9zM327.02 570.63h.9v.9h-.9zM313.2 573.48h.9v.9h-.9zM304.42 573.78h.9v.9h-.9zM306.18 573.83h.9v.9h-.9zM298.59 578.11h.9v.9h-.9zM288.1 560.81h.9v.9h-.9zM308.39 569.31h.9v.9h-.9zM298.09 563.22h.9v.9h-.9zM312.57 576.93h.9v.9h-.9zM326.86 562.52h.9v.9h-.9zM308.14 564.07h.9v.9h-.9zM288.09 562.79h.9v.9h-.9zM324.62 554.29h.9v.9h-.9zM348.4 576.27h.9v.9h-.9zM332.88 568.76h.9v.9h-.9zM330.94 561.58h.9v.9h-.9zM326.52 574.19h.9v.9h-.9zM319.86 574.1h.9v.9h-.9zM317.13 573.17h.9v.9h-.9zM325.5 571.03h.9v.9h-.9zM317.77 571.08h.9v.9h-.9zM311 558.79h.9v.9h-.9zM284.38 557.44h.9v.9h-.9zM292.03 553.04h.9v.9h-.9zM318.57 563.91h.9v.9h-.9zM319.73 562.64h.9v.9h-.9zM314.32 565.1h.9v.9h-.9zM331.08 579.12h.9v.9h-.9zM313.04 583.9h.9v.9h-.9zM320.5 575.46h.9v.9h-.9zM293.03 561.23h.9v.9h-.9zM311.43 564.97h.9v.9h-.9zM301.93 548.09h.9v.9h-.9zM298.83 566h.9v.9h-.9zM313.35 556.86h.9v.9h-.9zM311.3 548.42h.9v.9h-.9zM306.57 567.07h.9v.9h-.9zM326.55 568.88h.9v.9h-.9zM328.01 570.18h.9v.9h-.9zM325.22 579.85h.9v.9h-.9zM330.26 568.91h.9v.9h-.9zM292.33 568.92h.9v.9h-.9zM315.67 560.37h.9v.9h-.9zM320.52 565.51h.9v.9h-.9zM320.04 568.86h.9v.9h-.9zM296.31 576.99h.9v.9h-.9zM336.74 575.81h.9v.9h-.9zM313.01 550.7h.9v.9h-.9zM313.58 566.76h.9v.9h-.9zM298.25 548.87h.9v.9h-.9zM315.28 576.28h.9v.9h-.9zM283.06 570.39h.9v.9h-.9zM308.74 580.57h.9v.9h-.9zM308.69 557.85h.9v.9h-.9zM308.34 571.18h.9v.9h-.9zM299.04 559.58h.9v.9h-.9zM312.8 575.36h.9v.9h-.9zM305.96 571.68h.9v.9h-.9zM302.23 563.8h.9v.9h-.9zM311.79 576.25h.9v.9h-.9zM330.95 565.86h.9v.9h-.9zM320.62 563.64h.9v.9h-.9zM314.78 553.52h.9v.9h-.9zM299.34 554.3h.9v.9h-.9zM323.25 562.74h.9v.9h-.9zM310.36 567.75h.9v.9h-.9zM306.36 555.89h.9v.9h-.9zM335.72 548.21h.9v.9h-.9zM308.71 573.67h.9v.9h-.9zM306.4 566.08h.9v.9h-.9zM313.43 569.32h.9v.9h-.9zM304.57 577.32h.9v.9h-.9zM316.12 581.38h.9v.9h-.9zM310.46 548.12h.9v.9h-.9zM286.53 562.18h.9v.9h-.9zM315.44 551.53h.9v.9h-.9zM301.47 578.93h.9v.9h-.9zM313.78 560.29h.9v.9h-.9zM307.7 568.15h.9v.9h-.9zM303.45 564.07h.9v.9h-.9zM300.51 569.17h.9v.9h-.9zM330.88 580.91h.9v.9h-.9zM307.6 553.73h.9v.9h-.9zM288.83 568.43h.9v.9h-.9zM312.39 560.97h.9v.9h-.9zM298.26 565h.9v.9h-.9zM312.78 573.48h.9v.9h-.9zM316.84 544.41h.9v.9h-.9zM301.09 569.55h.9v.9h-.9zM314.32 574.67h.9v.9h-.9zM288.89 581.98h.9v.9h-.9zM292.94 565.14h.9v.9h-.9zM302.87 562.55h.9v.9h-.9zM298.64 574.83h.9v.9h-.9zM319.97 570.42h.9v.9h-.9zM291.87 561.08h.9v.9h-.9zM308.45 570.86h.9v.9h-.9zM301.67 564.5h.9v.9h-.9zM345.01 567.65h.9v.9h-.9zM305.17 543.66h.9v.9h-.9zM298.99 582.59h.9v.9h-.9zM320.76 555.72h.9v.9h-.9zM319.96 568.69h.9v.9h-.9zM298.41 574.63h.9v.9h-.9zM300.94 564.18h.9v.9h-.9zM309.52 569.08h.9v.9h-.9zM303.29 569.89h.9v.9h-.9zM309.28 568.93h.9v.9h-.9zM314.53 561h.9v.9h-.9zM290.63 566.37h.9v.9h-.9zM326.01 570.21h.9v.9h-.9zM312.31 560.01h.9v.9h-.9zM293.71 555.23h.9v.9h-.9zM296.78 563.5h.9v.9h-.9zM288.28 565.92h.9v.9h-.9zM287.88 573.27h.9v.9h-.9zM308.89 550.31h.9v.9h-.9zM301.8 569.27h.9v.9h-.9zM314.41 574.44h.9v.9h-.9zM304.47 565.67h.9v.9h-.9zM306.06 572.24h.9v.9h-.9zM299.85 565.52h.9v.9h-.9zM311.23 563.76h.9v.9h-.9zM294.57 579.98h.9v.9h-.9zM316.02 558.38h.9v.9h-.9zM335.92 559.78h.9v.9h-.9zM297.42 563.57h.9v.9h-.9zM316.52 581.31h.9v.9h-.9zM327.85 572.32h.9v.9h-.9zM310.17 573.38h.9v.9h-.9zM298.6 560.38h.9v.9h-.9zM316.44 568.97h.9v.9h-.9zM312.44 557.39h.9v.9h-.9zM312.61 553.37h.9v.9h-.9zM321.81 567.17h.9v.9h-.9zM300.53 562.6h.9v.9h-.9zM299.76 580.09h.9v.9h-.9zM309.51 569.5h.9v.9h-.9zM296.28 554.59h.9v.9h-.9zM312.46 562.84h.9v.9h-.9zM316.09 577.15h.9v.9h-.9zM307.69 572.18h.9v.9h-.9zM311.64 569.31h.9v.9h-.9zM302.23 569.35h.9v.9h-.9zM315.16 567.8h.9v.9h-.9zM303.12 553.21h.9v.9h-.9zM294.82 581.97h.9v.9h-.9zM322.99 569.89h.9v.9h-.9zM313.22 565.65h.9v.9h-.9zM318.48 576.21h.9v.9h-.9zM305.89 570.02h.9v.9h-.9zM322.2 552.03h.9v.9h-.9zM296.56 561.64h.9v.9h-.9zM293.55 562.9h.9v.9h-.9zM297.83 563.31h.9v.9h-.9zM315.73 555.89h.9v.9h-.9zM310.61 580.21h.9v.9h-.9zM311.85 555.43h.9v.9h-.9zM301.09 578.19h.9v.9h-.9zM305.73 561.1h.9v.9h-.9zM319.85 560.27h.9v.9h-.9zM294.22 572.92h.9v.9h-.9zM309.52 560.89h.9v.9h-.9zM315.56 577.58h.9v.9h-.9zM323.88 568.06h.9v.9h-.9zM315.46 571.8h.9v.9h-.9zM289.24 582.92h.9v.9h-.9zM300.34 561.76h.9v.9h-.9zM298.17 557.9h.9v.9h-.9zM324.07 567.13h.9v.9h-.9zM301.48 549.67h.9v.9h-.9zM311.53 566.6h.9v.9h-.9zM295.35 566.15h.9v.9h-.9zM284.62 573.25h.9v.9h-.9zM292.83 571.83h.9v.9h-.9zM310.6 546.87h.9v.9h-.9zM294.18 560.85h.9v.9h-.9zM319.95 572.77h.9v.9h-.9zM317.79 583.02h.9v.9h-.9zM305.4 562.24h.9v.9h-.9zM283.96 557.27h.9v.9h-.9zM316.87 559.07h.9v.9h-.9zM297.5 576.15h.9v.9h-.9zM326.68 550.02h.9v.9h-.9zM315.61 567h.9v.9h-.9zM321.51 563.86h.9v.9h-.9zM307.66 580.52h.9v.9h-.9zM301.29 571.07h.9v.9h-.9zM317.79 566h.9v.9h-.9zM321.08 572.03h.9v.9h-.9zM320.47 550.88h.9v.9h-.9zM295.35 569.89h.9v.9h-.9zM325.01 580.74h.9v.9h-.9zM309.48 560h.9v.9h-.9zM294.56 548.56h.9v.9h-.9zM302.56 572.61h.9v.9h-.9zM308.33 553.04h.9v.9h-.9zM307.96 567.58h.9v.9h-.9zM299.23 580.97h.9v.9h-.9zM315.18 577.57h.9v.9h-.9zM310.64 557.83h.9v.9h-.9zM323.84 577.63h.9v.9h-.9zM301.42 554.42h.9v.9h-.9zM320.27 561.71h.9v.9h-.9zM293.67 566.3h.9v.9h-.9zM316.72 559.95h.9v.9h-.9zM309.77 576.57h.9v.9h-.9zM319.35 552.27h.9v.9h-.9zM321.65 566.28h.9v.9h-.9zM314.26 552.09h.9v.9h-.9zM301.43 562.15h.9v.9h-.9zM337.18 567.12h.9v.9h-.9zM296.21 583.22h.9v.9h-.9zM325.83 551.37h.9v.9h-.9zM306.6 551h.9v.9h-.9zM323.24 545.41h.9v.9h-.9zM334.21 557.04h.9v.9h-.9zM316.49 570.47h.9v.9h-.9zM320.82 557.67h.9v.9h-.9zM321.03 564.44h.9v.9h-.9zM316.3 569.3h.9v.9h-.9zM327.9 554.83h.9v.9h-.9zM290.64 573.33h.9v.9h-.9zM341.04 572.3h.9v.9h-.9zM307.07 573.52h.9v.9h-.9zM293.09 567.97h.9v.9h-.9zM286.77 568.23h.9v.9h-.9zM319.01 583.32h.9v.9h-.9zM302.55 575.98h.9v.9h-.9zM327.31 557.12h.9v.9h-.9zM305.62 549.4h.9v.9h-.9zM297.56 571.29h.9v.9h-.9zM318.99 580.81h.9v.9h-.9zM301.05 545.12h.9v.9h-.9zM295.67 572.76h.9v.9h-.9zM309.03 573.82h.9v.9h-.9zM305.26 573.4h.9v.9h-.9zM296.23 557.78h.9v.9h-.9zM307.12 550.39h.9v.9h-.9zM325.85 564.72h.9v.9h-.9zM296.16 558.84h.9v.9h-.9zM296.35 568.29h.9v.9h-.9zM304.38 575.36h.9v.9h-.9zM293.84 566.41h.9v.9h-.9zM289.09 562.66h.9v.9h-.9zM327.46 565.95h.9v.9h-.9zM321.2 566.51h.9v.9h-.9zM294.65 558.67h.9v.9h-.9zM294.21 570.37h.9v.9h-.9zM331.61 575.22h.9v.9h-.9zM296.2 568.2h.9v.9h-.9zM299.6 578.3h.9v.9h-.9zM291.2 574.43h.9v.9h-.9zM292.87 562.64h.9v.9h-.9zM311.55 568.42h.9v.9h-.9zM308.47 566.48h.9v.9h-.9zM297.75 566.05h.9v.9h-.9zM308.33 558.15h.9v.9h-.9zM316.85 568.77h.9v.9h-.9zM299.15 579.57h.9v.9h-.9zM301.6 548.86h.9v.9h-.9zM326.17 563.49h.9v.9h-.9zM328.85 571.25h.9v.9h-.9zM297.34 577.82h.9v.9h-.9zM315.41 575.96h.9v.9h-.9zM309.8 582.05h.9v.9h-.9zM321.68 563.88h.9v.9h-.9zM289.1 566.67h.9v.9h-.9zM310.16 557.62h.9v.9h-.9zM306.68 581.48h.9v.9h-.9zM302.92 577.89h.9v.9h-.9zM296.73 557.75h.9v.9h-.9zM321.78 565.44h.9v.9h-.9zM312.15 576.96h.9v.9h-.9zM331.04 555.2h.9v.9h-.9zM317.03 569.27h.9v.9h-.9zM305.99 561.38h.9v.9h-.9zM316 547.62h.9v.9h-.9zM314.15 558.51h.9v.9h-.9zM313.58 559.95h.9v.9h-.9zM316.02 564.71h.9v.9h-.9zM299.64 572.28h.9v.9h-.9zM319.23 551.65h.9v.9h-.9zM291.96 564.55h.9v.9h-.9zM304.11 579.83h.9v.9h-.9zM330.44 571.67h.9v.9h-.9zM323.86 563.95h.9v.9h-.9zM290.91 569.99h.9v.9h-.9zM285.66 582.77h.9v.9h-.9zM312.63 578.27h.9v.9h-.9zM300.62 551.55h.9v.9h-.9zM306.5 571.78h.9v.9h-.9zM306.31 562.19h.9v.9h-.9zM310.24 565.24h.9v.9h-.9zM327.83 554.48h.9v.9h-.9zM312.81 552.31h.9v.9h-.9zM308.64 571.33h.9v.9h-.9zM313.68 570h.9v.9h-.9zM299.11 553.15h.9v.9h-.9zM321.95 563.7h.9v.9h-.9zM290.81 582.03h.9v.9h-.9zM319.07 540.03h.9v.9h-.9zM343.77 568.48h.9v.9h-.9zM287.59 576.29h.9v.9h-.9zM313.57 579.06h.9v.9h-.9zM309.34 551.05h.9v.9h-.9zM306.96 562.94h.9v.9h-.9zM313.05 565.29h.9v.9h-.9zM316.68 555.32h.9v.9h-.9zM301.84 562.09h.9v.9h-.9zM314.71 550.61h.9v.9h-.9zM285.05 577.03h.9v.9h-.9zM310.49 576.61h.9v.9h-.9zM309.87 569.57h.9v.9h-.9zM314.06 571.49h.9v.9h-.9zM293.02 565.78h.9v.9h-.9zM333.59 580.75h.9v.9h-.9zM297.81 557.94h.9v.9h-.9zM306.83 577.28h.9v.9h-.9zM321.44 561.4h.9v.9h-.9zM286.89 578.6h.9v.9h-.9zM329 573.52h.9v.9h-.9zM317.11 572.51h.9v.9h-.9zM333.83 577.55h.9v.9h-.9zM328.49 555.97h.9v.9h-.9zM302.19 567.03h.9v.9h-.9zM308.85 566.42h.9v.9h-.9zM343 565.09h.9v.9h-.9zM306.48 565.89h.9v.9h-.9zM304.53 553.37h.9v.9h-.9zM324.16 567.27h.9v.9h-.9zM313.97 567.39h.9v.9h-.9zM298.68 551.65h.9v.9h-.9zM305.28 572.19h.9v.9h-.9zM307.49 574.12h.9v.9h-.9zM298.51 564.22h.9v.9h-.9zM311.11 566.08h.9v.9h-.9zM311.46 580.88h.9v.9h-.9zM303.49 568.34h.9v.9h-.9zM300.38 572.29h.9v.9h-.9zM312.11 559.94h.9v.9h-.9zM295.58 555.48h.9v.9h-.9zM305.31 568.52h.9v.9h-.9zM302.46 565.96h.9v.9h-.9zM310.92 569.13h.9v.9h-.9zM335.25 570.71h.9v.9h-.9zM317.87 562.16h.9v.9h-.9zM301.8 574.55h.9v.9h-.9zM301.04 560.67h.9v.9h-.9zM289.06 569.89h.9v.9h-.9zM307.82 572.31h.9v.9h-.9zM297.42 555.06h.9v.9h-.9zM323.91 567.26h.9v.9h-.9zM319.68 555.96h.9v.9h-.9zM291.67 542.62h.9v.9h-.9zM313.09 576.59h.9v.9h-.9zM284.6 556.5h.9v.9h-.9zM301.98 559.39h.9v.9h-.9zM306.24 559.3h.9v.9h-.9zM289.34 566.62h.9v.9h-.9zM310.73 559.6h.9v.9h-.9zM309.48 554.49h.9v.9h-.9zM304.64 563.78h.9v.9h-.9zM302.91 566.28h.9v.9h-.9zM292.02 554.07h.9v.9h-.9zM297.89 574.12h.9v.9h-.9zM296.27 558h.9v.9h-.9zM335.69 564.54h.9v.9h-.9zM303.9 558.48h.9v.9h-.9zM328.8 572.1h.9v.9h-.9zM312.57 582.4h.9v.9h-.9zM293.01 550.77h.9v.9h-.9zM323.95 571.2h.9v.9h-.9zM302.12 574.71h.9v.9h-.9zM291.99 570.49h.9v.9h-.9zM322.19 575.59h.9v.9h-.9zM304.17 563.18h.9v.9h-.9zM303.17 573.68h.9v.9h-.9zM303.61 565.68h.9v.9h-.9zM322.82 565.94h.9v.9h-.9zM312.31 565.81h.9v.9h-.9zM309.14 545.56h.9v.9h-.9zM296.39 570.57h.9v.9h-.9zM300.41 561.06h.9v.9h-.9zM298.8 557.79h.9v.9h-.9zM284.85 571.46h.9v.9h-.9zM308.25 558.89h.9v.9h-.9zM303.5 576.49h.9v.9h-.9zM322.72 570.57h.9v.9h-.9zM324.55 576.79h.9v.9h-.9zM302.82 574.71h.9v.9h-.9zM311.12 574.44h.9v.9h-.9zM292.1 570.52h.9v.9h-.9zM302.04 563.45h.9v.9h-.9zM308.73 566.58h.9v.9h-.9zM331.99 566.5h.9v.9h-.9zM312.36 577.31h.9v.9h-.9zM329.33 557.72h.9v.9h-.9zM313.1 554.16h.9v.9h-.9zM315.64 580.72h.9v.9h-.9zM301.95 564.29h.9v.9h-.9zM325.03 571.26h.9v.9h-.9zM319.84 562.57h.9v.9h-.9zM304.74 563.43h.9v.9h-.9zM330.11 552.53h.9v.9h-.9zM302.02 582.13h.9v.9h-.9zM308.05 556.39h.9v.9h-.9zM312.17 564.89h.9v.9h-.9zM307.35 571.85h.9v.9h-.9zM319.63 552.49h.9v.9h-.9zM311.69 581.55h.9v.9h-.9zM290.92 566.07h.9v.9h-.9zM293.34 573.48h.9v.9h-.9zM297.59 563.77h.9v.9h-.9zM303.4 571.43h.9v.9h-.9zM291.35 553.42h.9v.9h-.9zM311.52 580.21h.9v.9h-.9zM302.18 571.03h.9v.9h-.9zM312.55 568.05h.9v.9h-.9zM308.7 561.64h.9v.9h-.9zM305.68 578.71h.9v.9h-.9zM314.97 579.48h.9v.9h-.9zM299.18 568.16h.9v.9h-.9zM300.31 554.13h.9v.9h-.9zM321.06 564.25h.9v.9h-.9zM312.21 553.21h.9v.9h-.9zM305.56 565.81h.9v.9h-.9zM303.74 576.9h.9v.9h-.9zM315.13 568.3h.9v.9h-.9zM312.05 562.66h.9v.9h-.9zM299.4 564.27h.9v.9h-.9zM295.23 565.35h.9v.9h-.9zM307.44 577.99h.9v.9h-.9zM301.93 568.29h.9v.9h-.9zM308.58 561.02h.9v.9h-.9zM308.1 549.74h.9v.9h-.9zM323.97 561.36h.9v.9h-.9zM308.57 549.29h.9v.9h-.9zM316.58 554.48h.9v.9h-.9zM327.21 556.8h.9v.9h-.9zM299.08 573.47h.9v.9h-.9zM326.15 547.67h.9v.9h-.9zM286.24 582.78h.9v.9h-.9zM314.88 552.15h.9v.9h-.9zM303.07 573.81h.9v.9h-.9zM303.7 581.75h.9v.9h-.9zM299.33 568.64h.9v.9h-.9zM324.46 581.49h.9v.9h-.9zM312.12 572.7h.9v.9h-.9zM304.4 566.35h.9v.9h-.9zM301.21 570.8h.9v.9h-.9zM320.25 557.15h.9v.9h-.9zM293.27 567.44h.9v.9h-.9zM335.79 569.22h.9v.9h-.9zM310.68 566.57h.9v.9h-.9zM286.42 560.03h.9v.9h-.9zM329.17 546.39h.9v.9h-.9zM333.03 555.23h.9v.9h-.9zM329.03 565.63h.9v.9h-.9zM316.83 561.6h.9v.9h-.9zM302.87 568.99h.9v.9h-.9zM304.69 556.34h.9v.9h-.9zM305.16 573.33h.9v.9h-.9zM298.55 570.51h.9v.9h-.9zM290.82 567.9h.9v.9h-.9zM293.43 574.51h.9v.9h-.9zM294.91 573.05h.9v.9h-.9zM323.65 558.85h.9v.9h-.9zM309.62 558.53h.9v.9h-.9zM315.33 574.42h.9v.9h-.9zM324.31 580.06h.9v.9h-.9zM326.36 559.81h.9v.9h-.9zM310.45 572.19h.9v.9h-.9zM311.44 554.05h.9v.9h-.9zM309.7 541.36h.9v.9h-.9zM333.37 565.17h.9v.9h-.9zM339.27 556.68h.9v.9h-.9zM315.95 574.78h.9v.9h-.9zM289.59 563.7h.9v.9h-.9zM315.47 573.48h.9v.9h-.9zM314.09 541.18h.9v.9h-.9zM330.3 551.81h.9v.9h-.9zM314.15 576.14h.9v.9h-.9zM295.77 551.33h.9v.9h-.9zM312.48 562.59h.9v.9h-.9zM307.6 564.96h.9v.9h-.9zM307.3 570.04h.9v.9h-.9zM301.75 566.64h.9v.9h-.9zM301.28 558.37h.9v.9h-.9zM313.55 558.77h.9v.9h-.9zM316.03 566.7h.9v.9h-.9zM323.35 572.79h.9v.9h-.9zM317.72 568.05h.9v.9h-.9zM309.42 577.67h.9v.9h-.9zM317.93 553.69h.9v.9h-.9zM310.13 576.87h.9v.9h-.9zM310.93 554.33h.9v.9h-.9zM319.31 572.93h.9v.9h-.9zM324.26 568.68h.9v.9h-.9zM310.38 575.41h.9v.9h-.9zM294.09 583.94h.9v.9h-.9zM314.25 569.16h.9v.9h-.9zM319.03 574.78h.9v.9h-.9zM307.39 559.17h.9v.9h-.9zM320.96 576.26h.9v.9h-.9zM313.95 560.8h.9v.9h-.9zM310.26 557.53h.9v.9h-.9zM342.7 560.41h.9v.9h-.9zM320.6 583.1h.9v.9h-.9zM297.33 561.66h.9v.9h-.9zM291.08 568.5h.9v.9h-.9zM305.87 567.07h.9v.9h-.9zM309.36 562.31h.9v.9h-.9zM310.36 566.29h.9v.9h-.9zM299.21 563.83h.9v.9h-.9zM301.19 554.15h.9v.9h-.9zM308.47 548.49h.9v.9h-.9zM315.95 566.62h.9v.9h-.9zM311.06 578.42h.9v.9h-.9zM321.65 562.61h.9v.9h-.9zM313.5 578.76h.9v.9h-.9zM306.73 570.71h.9v.9h-.9zM314.45 556.69h.9v.9h-.9zM312.62 563.08h.9v.9h-.9zM305.33 571.26h.9v.9h-.9zM317.62 558.02h.9v.9h-.9zM305.44 565.01h.9v.9h-.9zM296.09 570.63h.9v.9h-.9zM306.09 559.96h.9v.9h-.9zM321.45 566.13h.9v.9h-.9zM293.27 566.03h.9v.9h-.9zM306.34 569.86h.9v.9h-.9zM339.07 572.4h.9v.9h-.9zM328.16 565.24h.9v.9h-.9zM315.14 571.88h.9v.9h-.9zM307.44 569.38h.9v.9h-.9zM302.78 573.82h.9v.9h-.9zM296.68 583.92h.9v.9h-.9zM307.13 570.57h.9v.9h-.9zM310.78 550.91h.9v.9h-.9zM314.53 558.2h.9v.9h-.9zM311.53 562.79h.9v.9h-.9zM305.19 551.88h.9v.9h-.9zM291.29 561.44h.9v.9h-.9zM294.54 569.38h.9v.9h-.9zM290.08 569.12h.9v.9h-.9zM316.22 559.56h.9v.9h-.9zM295.97 563.51h.9v.9h-.9zM319.37 580.75h.9v.9h-.9zM337.71 567.83h.9v.9h-.9zM317.11 568.86h.9v.9h-.9zM308.55 556.33h.9v.9h-.9zM304.06 578.02h.9v.9h-.9zM327.32 560.96h.9v.9h-.9zM309.23 571.46h.9v.9h-.9zM306.5 549.07h.9v.9h-.9zM313.01 557.36h.9v.9h-.9zM304.99 560.75h.9v.9h-.9zM329.02 547.59h.9v.9h-.9zM288.13 561.95h.9v.9h-.9zM299.87 574.66h.9v.9h-.9zM329.78 559.7h.9v.9h-.9zM316.45 564.88h.9v.9h-.9zM332.21 558.81h.9v.9h-.9zM317.26 561.85h.9v.9h-.9zM307.52 562.4h.9v.9h-.9zM306.92 567.4h.9v.9h-.9zM300.6 569.69h.9v.9h-.9zM291.43 575.04h.9v.9h-.9zM296.01 548.52h.9v.9h-.9zM319.96 563.55h.9v.9h-.9zM301.67 576.02h.9v.9h-.9zM314.52 552.77h.9v.9h-.9zM302.05 560.31h.9v.9h-.9zM304.91 583.66h.9v.9h-.9zM345.25 583.94h.9v.9h-.9zM314.88 572.39h.9v.9h-.9zM311.04 545.03h.9v.9h-.9zM301.78 566.68h.9v.9h-.9zM299.26 564.93h.9v.9h-.9zM297.19 555.74h.9v.9h-.9zM325.02 547.65h.9v.9h-.9zM322.62 555.6h.9v.9h-.9zM305.37 547.02h.9v.9h-.9zM317.55 557.02h.9v.9h-.9zM342.27 557.71h.9v.9h-.9zM312.14 573.52h.9v.9h-.9zM295.75 558.74h.9v.9h-.9zM294.47 572.5h.9v.9h-.9zM312.79 577.04h.9v.9h-.9zM289.52 557.74h.9v.9h-.9zM307.22 562.52h.9v.9h-.9zM313.02 578.12h.9v.9h-.9zM310.59 559.04h.9v.9h-.9zM308.25 559.8h.9v.9h-.9zM305.97 566.29h.9v.9h-.9zM291.83 569.33h.9v.9h-.9zM318.57 573.83h.9v.9h-.9zM293.21 568.04h.9v.9h-.9zM321.19 562.31h.9v.9h-.9zM318.27 561.96h.9v.9h-.9zM308.77 561.19h.9v.9h-.9zM288.93 558.67h.9v.9h-.9zM311.13 564.11h.9v.9h-.9zM308.7 561.22h.9v.9h-.9zM320.66 565.2h.9v.9h-.9zM314.09 562.23h.9v.9h-.9zM326.33 565.95h.9v.9h-.9zM314.61 551.47h.9v.9h-.9zM299.86 570.17h.9v.9h-.9zM291.17 552.33h.9v.9h-.9zM307.22 551.3h.9v.9h-.9zM323.41 571.26h.9v.9h-.9zM304.61 578.95h.9v.9h-.9zM299.72 555.2h.9v.9h-.9zM320.99 567.15h.9v.9h-.9zM305.78 577.21h.9v.9h-.9zM307 573.37h.9v.9h-.9zM311.77 578.45h.9v.9h-.9zM316.23 562.29h.9v.9h-.9zM329.05 563.42h.9v.9h-.9zM332.14 554.36h.9v.9h-.9zM309.57 544.78h.9v.9h-.9zM315.85 580.26h.9v.9h-.9zM303.58 571.65h.9v.9h-.9zM305.85 581.24h.9v.9h-.9zM313.38 570.49h.9v.9h-.9zM323.6 551.87h.9v.9h-.9zM318.17 568.29h.9v.9h-.9zM326.26 567.25h.9v.9h-.9zM317.01 566.43h.9v.9h-.9zM295.66 561.97h.9v.9h-.9zM306.46 553.78h.9v.9h-.9zM308.27 562.29h.9v.9h-.9zM333.32 564.56h.9v.9h-.9zM310.56 567.91h.9v.9h-.9zM318.21 551h.9v.9h-.9zM285.5 582.69h.9v.9h-.9zM297.69 558.15h.9v.9h-.9zM324.59 569.93h.9v.9h-.9zM298.12 574.37h.9v.9h-.9zM293.72 583.09h.9v.9h-.9zM304.7 570.3h.9v.9h-.9zM296.07 566h.9v.9h-.9zM337.65 546.76h.9v.9h-.9zM302.36 569.73h.9v.9h-.9zM306.04 571.39h.9v.9h-.9zM324.46 555.75h.9v.9h-.9zM300.2 580.03h.9v.9h-.9zM335.06 540.48h.9v.9h-.9zM316.17 576.84h.9v.9h-.9zM299.87 558.37h.9v.9h-.9zM293.79 565h.9v.9h-.9zM293.6 574.02h.9v.9h-.9zM299.72 572.13h.9v.9h-.9zM287.92 575.77h.9v.9h-.9zM317.93 576.34h.9v.9h-.9zM321.93 567.48h.9v.9h-.9zM330.5 563.45h.9v.9h-.9zM311.04 583.24h.9v.9h-.9zM302.78 566.95h.9v.9h-.9zM312.34 568.83h.9v.9h-.9zM305.84 577.02h.9v.9h-.9zM337.88 563.17h.9v.9h-.9zM289.27 562.39h.9v.9h-.9zM290.41 554.41h.9v.9h-.9zM295.09 577.52h.9v.9h-.9zM311.05 574.03h.9v.9h-.9zM307.5 577.12h.9v.9h-.9zM303.55 579.93h.9v.9h-.9zM320.81 569.18h.9v.9h-.9zM289.31 556.1h.9v.9h-.9zM312.47 556.68h.9v.9h-.9zM306.72 565.4h.9v.9h-.9zM327.45 560.24h.9v.9h-.9zM310.75 562.43h.9v.9h-.9zM298.89 571.34h.9v.9h-.9zM321.99 552.87h.9v.9h-.9zM311.07 572.15h.9v.9h-.9zM295.05 563h.9v.9h-.9zM313.13 566.13h.9v.9h-.9zM327.48 558.29h.9v.9h-.9zM305.7 572.23h.9v.9h-.9zM308.04 564.57h.9v.9h-.9zM307.46 571h.9v.9h-.9zM319.02 556.57h.9v.9h-.9zM296.9 555.82h.9v.9h-.9zM314.84 548.62h.9v.9h-.9zM341.86 561.57h.9v.9h-.9zM308.96 571.91h.9v.9h-.9zM306.47 564.48h.9v.9h-.9zM336.58 547.53h.9v.9h-.9zM312.47 559.69h.9v.9h-.9zM304.42 566.4h.9v.9h-.9zM284.4 573.14h.9v.9h-.9zM311.73 572.53h.9v.9h-.9zM301.02 574.36h.9v.9h-.9zM302.8 574.66h.9v.9h-.9zM327.11 573.18h.9v.9h-.9zM289.77 567.73h.9v.9h-.9zM311.71 554.42h.9v.9h-.9zM288.64 580.09h.9v.9h-.9zM295.61 571.07h.9v.9h-.9zM304.64 565.59h.9v.9h-.9zM303.16 567.1h.9v.9h-.9zM330.63 558.38h.9v.9h-.9zM315.96 571.78h.9v.9h-.9zM300.07 556.23h.9v.9h-.9zM297.12 572.72h.9v.9h-.9zM311.2 577.15h.9v.9h-.9zM313.94 568.17h.9v.9h-.9zM309.29 569.31h.9v.9h-.9zM309.67 573.64h.9v.9h-.9zM297.52 577.6h.9v.9h-.9zM330.83 566.15h.9v.9h-.9zM316.65 555.42h.9v.9h-.9zM310.43 552.91h.9v.9h-.9zM322.36 567.5h.9v.9h-.9zM323.51 578.14h.9v.9h-.9zM299.2 575.05h.9v.9h-.9zM307.67 572.4h.9v.9h-.9zM300.53 573.31h.9v.9h-.9zM317.1 581.31h.9v.9h-.9zM307.07 567.64h.9v.9h-.9zM315.76 565.39h.9v.9h-.9zM336.78 545.23h.9v.9h-.9zM286.14 562.08h.9v.9h-.9zM318.37 567.23h.9v.9h-.9zM314.71 552.14h.9v.9h-.9zM317.06 572.39h.9v.9h-.9zM331.03 575.14h.9v.9h-.9zM300.82 559.8h.9v.9h-.9zM293.9 562.26h.9v.9h-.9zM307.74 579.36h.9v.9h-.9zM331.26 567.78h.9v.9h-.9zM317.09 565.42h.9v.9h-.9zM291.73 572.27h.9v.9h-.9zM299.32 551.23h.9v.9h-.9zM297.85 581.68h.9v.9h-.9zM293.56 580.41h.9v.9h-.9zM290.75 566.38h.9v.9h-.9zM315.87 563.14h.9v.9h-.9zM296.09 567.09h.9v.9h-.9zM331.54 573.53h.9v.9h-.9zM311.78 572.68h.9v.9h-.9zM325 580.08h.9v.9h-.9zM305.48 558.44h.9v.9h-.9zM295.88 567.68h.9v.9h-.9zM305.09 567.12h.9v.9h-.9zM299.74 581.05h.9v.9h-.9zM297.57 559.35h.9v.9h-.9zM293.34 556.38h.9v.9h-.9zM287.13 558.97h.9v.9h-.9zM305.86 573.86h.9v.9h-.9zM285.12 571.38h.9v.9h-.9zM307.53 567.02h.9v.9h-.9zM318.08 578.31h.9v.9h-.9zM305.19 579.2h.9v.9h-.9zM310.03 558.1h.9v.9h-.9zM316.13 576.64h.9v.9h-.9zM312.23 566.76h.9v.9h-.9zM305.75 573.62h.9v.9h-.9zM284.77 570h.9v.9h-.9zM291.74 561.98h.9v.9h-.9zM311.83 579.17h.9v.9h-.9zM308.92 558.01h.9v.9h-.9zM345.76 570.21h.9v.9h-.9zM299.19 561.15h.9v.9h-.9zM310.43 553.95h.9v.9h-.9zM320.78 567.97h.9v.9h-.9zM303.56 569.06h.9v.9h-.9zM293.46 568.96h.9v.9h-.9zM313.88 578.7h.9v.9h-.9zM336.17 560.93h.9v.9h-.9zM314.19 559.34h.9v.9h-.9zM310.73 578.34h.9v.9h-.9zM317.82 564.19h.9v.9h-.9zM333.38 575.79h.9v.9h-.9zM325.7 567.87h.9v.9h-.9zM327.17 565.64h.9v.9h-.9zM320.89 567.48h.9v.9h-.9zM309.03 551.93h.9v.9h-.9zM322.38 572.71h.9v.9h-.9zM300.66 567.72h.9v.9h-.9zM317.25 573.31h.9v.9h-.9zM324.58 568.45h.9v.9h-.9zM311.89 569.85h.9v.9h-.9zM303.56 581.92h.9v.9h-.9zM299.97 561.87h.9v.9h-.9zM305.94 551.55h.9v.9h-.9zM323.17 555.52h.9v.9h-.9zM329.66 576.35h.9v.9h-.9zM336.54 561.26h.9v.9h-.9zM305 562.67h.9v.9h-.9zM319.9 558.32h.9v.9h-.9zM304.71 544.4h.9v.9h-.9zM309.7 569.13h.9v.9h-.9zM336.17 558.87h.9v.9h-.9zM322.3 572.67h.9v.9h-.9zM321.12 556.25h.9v.9h-.9zM322.28 568.75h.9v.9h-.9zM299.59 563.06h.9v.9h-.9zM330 550.7h.9v.9h-.9zM313.63 581.97h.9v.9h-.9zM319.13 566.7h.9v.9h-.9zM301.33 549.03h.9v.9h-.9zM316.29 561.08h.9v.9h-.9zM303.87 570.27h.9v.9h-.9zM307.49 578.21h.9v.9h-.9zM295.55 551.45h.9v.9h-.9zM321.27 563.64h.9v.9h-.9zM290.69 577.67h.9v.9h-.9zM316.08 550.08h.9v.9h-.9zM310.66 553.65h.9v.9h-.9zM297.61 580.84h.9v.9h-.9zM329.84 573.91h.9v.9h-.9zM288.36 575.32h.9v.9h-.9zM297.78 562.06h.9v.9h-.9zM302.25 577.79h.9v.9h-.9zM316.15 572.82h.9v.9h-.9zM303.03 561.98h.9v.9h-.9zM323.98 561.02h.9v.9h-.9zM305.25 572.62h.9v.9h-.9zM306.68 576.91h.9v.9h-.9zM316.89 573.48h.9v.9h-.9zM341.08 561.67h.9v.9h-.9zM338.09 554.27h.9v.9h-.9zM298.27 542.19h.9v.9h-.9zM299.84 559.09h.9v.9h-.9zM318.93 579.69h.9v.9h-.9zM341.23 561.78h.9v.9h-.9zM323.92 565.22h.9v.9h-.9zM283.55 525.39h.9v.9h-.9zM304.2 547.63h.9v.9h-.9zM321.19 557.7h.9v.9h-.9zM318.18 560.35h.9v.9h-.9zM315.83 557.51h.9v.9h-.9zM314.31 553.3h.9v.9h-.9zM298.26 568.43h.9v.9h-.9zM320.35 554.63h.9v.9h-.9zM296.48 550.75h.9v.9h-.9zM333.57 569.98h.9v.9h-.9zM313.65 562.65h.9v.9h-.9zM335.79 572.87h.9v.9h-.9zM307.74 579.33h.9v.9h-.9zM317.3 564.21h.9v.9h-.9zM304.08 567.12h.9v.9h-.9zM328.35 552.75h.9v.9h-.9zM286.09 573.88h.9v.9h-.9zM323.83 581.72h.9v.9h-.9zM317.14 551.91h.9v.9h-.9zM320.52 568.75h.9v.9h-.9zM295.12 550.89h.9v.9h-.9zM287.69 567.73h.9v.9h-.9zM291.2 570.63h.9v.9h-.9zM306.98 573.54h.9v.9h-.9zM321.23 557.78h.9v.9h-.9zM303.93 574.54h.9v.9h-.9zM300.21 577.32h.9v.9h-.9zM317.41 576.15h.9v.9h-.9zM300.83 574.99h.9v.9h-.9zM306.17 569.26h.9v.9h-.9zM317.91 561.37h.9v.9h-.9zM308.5 542.92h.9v.9h-.9zM299.52 573.32h.9v.9h-.9zM294.08 545.58h.9v.9h-.9zM289.25 564.01h.9v.9h-.9zM318.43 572.44h.9v.9h-.9zM289.46 571.12h.9v.9h-.9zM292.15 578.08h.9v.9h-.9zM314.55 560.58h.9v.9h-.9zM302.63 566.23h.9v.9h-.9zM301.11 578.87h.9v.9h-.9zM313.34 561.24h.9v.9h-.9zM315.4 553.03h.9v.9h-.9zM311.29 563.69h.9v.9h-.9zM301.22 566.41h.9v.9h-.9zM312.26 552.13h.9v.9h-.9zM320.08 560.97h.9v.9h-.9zM314.04 583.86h.9v.9h-.9zM294.26 583.86h.9v.9h-.9zM297.73 577.63h.9v.9h-.9zM301.28 579.77h.9v.9h-.9zM321.39 570.44h.9v.9h-.9zM297.67 577.65h.9v.9h-.9zM314.25 555.96h.9v.9h-.9zM316.75 565.28h.9v.9h-.9zM307.5 557h.9v.9h-.9zM311.97 575.77h.9v.9h-.9zM297.6 575.21h.9v.9h-.9zM284.24 568.12h.9v.9h-.9zM312.74 557.25h.9v.9h-.9zM311.25 553.62h.9v.9h-.9zM334.65 571.03h.9v.9h-.9zM323.96 557.51h.9v.9h-.9zM327.35 565.36h.9v.9h-.9zM324.88 571.08h.9v.9h-.9zM313.59 577.73h.9v.9h-.9zM301.07 562.78h.9v.9h-.9zM324.01 571.65h.9v.9h-.9zM301.77 555.95h.9v.9h-.9zM329.24 534.02h.9v.9h-.9zM321.48 565.47h.9v.9h-.9zM291.55 571.13h.9v.9h-.9zM313.06 541.33h.9v.9h-.9zM296.53 574.75h.9v.9h-.9zM302.55 566.39h.9v.9h-.9zM307.98 581.6h.9v.9h-.9zM313.51 565.39h.9v.9h-.9zM300.46 577.26h.9v.9h-.9zM299.76 571.21h.9v.9h-.9zM314.7 574.61h.9v.9h-.9zM319.65 569.86h.9v.9h-.9zM335.56 574.98h.9v.9h-.9zM298.98 557.73h.9v.9h-.9zM299.75 580.54h.9v.9h-.9zM294.4 582.97h.9v.9h-.9zM314.8 560.98h.9v.9h-.9zM295.77 565.98h.9v.9h-.9zM319.2 566.23h.9v.9h-.9zM318.66 568.71h.9v.9h-.9zM327.19 562.03h.9v.9h-.9zM307.33 555.46h.9v.9h-.9zM304.86 556.84h.9v.9h-.9zM288.95 564.71h.9v.9h-.9zM318.13 544.1h.9v.9h-.9zM292.14 552.73h.9v.9h-.9zM313.98 572.73h.9v.9h-.9zM313.38 565.08h.9v.9h-.9zM298.89 568.89h.9v.9h-.9zM297.58 564.62h.9v.9h-.9zM314.39 564.39h.9v.9h-.9zM324.98 544.79h.9v.9h-.9zM288.01 577.14h.9v.9h-.9zM301.58 562.2h.9v.9h-.9zM301.77 566.35h.9v.9h-.9zM307.01 570.66h.9v.9h-.9zM297.37 569.15h.9v.9h-.9zM295.78 567.67h.9v.9h-.9zM312.73 566.58h.9v.9h-.9zM312.16 573.67h.9v.9h-.9zM295.13 566.49h.9v.9h-.9zM322.92 576.46h.9v.9h-.9zM321.99 558.52h.9v.9h-.9zM300.32 576.99h.9v.9h-.9zM309.1 569.96h.9v.9h-.9zM304.43 576.26h.9v.9h-.9zM311.36 556.88h.9v.9h-.9zM313.94 563.43h.9v.9h-.9zM305.61 572.74h.9v.9h-.9zM311 561.14h.9v.9h-.9zM293.67 562.44h.9v.9h-.9zM307.3 554.85h.9v.9h-.9zM300.67 567.61h.9v.9h-.9zM292.83 563.69h.9v.9h-.9zM312.33 568.63h.9v.9h-.9zM286.76 567.35h.9v.9h-.9zM296.18 578.07h.9v.9h-.9zM307.73 583.08h.9v.9h-.9zM313.81 555.13h.9v.9h-.9zM321.54 562.03h.9v.9h-.9zM307.61 567.96h.9v.9h-.9zM291.98 578.88h.9v.9h-.9zM311.05 556.5h.9v.9h-.9zM291.01 571.66h.9v.9h-.9zM325.02 571.08h.9v.9h-.9zM313.16 562.73h.9v.9h-.9zM323.47 572.51h.9v.9h-.9zM298.51 560.76h.9v.9h-.9zM348.42 565.79h.9v.9h-.9zM314.79 574.75h.9v.9h-.9zM295.72 558.48h.9v.9h-.9zM330.3 576.27h.9v.9h-.9zM318.98 565.93h.9v.9h-.9zM308.45 568.48h.9v.9h-.9zM314.67 560.88h.9v.9h-.9zM302.1 557.35h.9v.9h-.9zM296.4 580.67h.9v.9h-.9zM300.17 559.36h.9v.9h-.9zM323.32 565.28h.9v.9h-.9zM308.48 574.16h.9v.9h-.9zM323.95 569.42h.9v.9h-.9zM329.53 560.19h.9v.9h-.9zM302.19 573.96h.9v.9h-.9zM317.62 549.47h.9v.9h-.9zM304.94 574.01h.9v.9h-.9zM288.23 569.09h.9v.9h-.9zM297.92 550.92h.9v.9h-.9zM305.96 566.42h.9v.9h-.9zM303.55 560.66h.9v.9h-.9zM320.33 556.51h.9v.9h-.9zM300.86 552.92h.9v.9h-.9zM324.36 552.2h.9v.9h-.9zM331.73 557.76h.9v.9h-.9z" fill="#8a8a8a"/>
<path d="M302.83 570.43h.9v.9h-.9zM306.42 574.83h.9v.9h-.9zM305.92 573.44h.9v.9h-.9zM300.61 580.09h.9v.9h-.9zM309.16 568.99h.9v.9h-.9zM296.22 580.82h.9v.9h-.9zM303.88 575.3h.9v.9h-.9zM296.89 580.83h.9v.9h-.9zM302.98 576.18h.9v.9h-.9zM304.02 572.96h.9v.9h-.9zM304.07 575.57h.9v.9h-.9zM305.75 576.16h.9v.9h-.9zM295.31 574.34h.9v.9h-.9zM300.6 580.54h.9v.9h-.9zM298.61 580.91h.9v.9h-.9zM307.63 577.68h.9v.9h-.9zM313.77 572.66h.9v.9h-.9zM303.67 580.02h.9v.9h-.9zM304.12 579.01h.9v.9h-.9zM301.32 581.38h.9v.9h-.9zM303.84 567.46h.9v.9h-.9zM307.66 573.42h.9v.9h-.9zM297.39 575.48h.9v.9h-.9zM300.53 580.49h.9v.9h-.9zM303.73 574.85h.9v.9h-.9zM301.92 571.98h.9v.9h-.9zM298.66 574.5h.9v.9h-.9zM300.82 571.19h.9v.9h-.9zM299.91 580.07h.9v.9h-.9zM304.36 574.98h.9v.9h-.9zM303.8 574.15h.9v.9h-.9zM295.81 580.58h.9v.9h-.9zM313.72 574.75h.9v.9h-.9zM295.68 579.18h.9v.9h-.9zM300.22 574.88h.9v.9h-.9zM293.36 577.34h.9v.9h-.9zM304.08 568.67h.9v.9h-.9zM300.85 573.88h.9v.9h-.9zM296.78 579.35h.9v.9h-.9zM310.57 575.15h.9v.9h-.9zM307.37 577.29h.9v.9h-.9zM301.67 577.96h.9v.9h-.9zM308.92 572.19h.9v.9h-.9zM301.23 570.25h.9v.9h-.9zM292.29 574.66h.9v.9h-.9zM306.68 575.88h.9v.9h-.9zM303.36 580.47h.9v.9h-.9zM292.78 583.29h.9v.9h-.9zM302.43 578.55h.9v.9h-.9zM309.21 570.57h.9v.9h-.9zM297.46 578.27h.9v.9h-.9zM301.7 573.31h.9v.9h-.9zM301.34 572.83h.9v.9h-.9zM302.7 573.86h.9v.9h-.9zM310.88 569.26h.9v.9h-.9zM305.03 575.13h.9v.9h-.9zM310.26 569.7h.9v.9h-.9zM299.57 583.04h.9v.9h-.9zM298.57 574.88h.9v.9h-.9zM299.95 572.16h.9v.9h-.9zM308.37 580.04h.9v.9h-.9zM301.21 572.76h.9v.9h-.9zM294.93 579.9h.9v.9h-.9zM299.23 578.41h.9v.9h-.9zM289.43 576.92h.9v.9h-.9zM305.28 576.42h.9v.9h-.9zM287.05 580.35h.9v.9h-.9zM302.67 575.31h.9v.9h-.9zM300.22 574.23h.9v.9h-.9zM302.75 577.4h.9v.9h-.9zM285.48 579.52h.9v.9h-.9zM306.86 573.5h.9v.9h-.9zM308.38 570.3h.9v.9h-.9zM311.99 576.96h.9v.9h-.9zM309.52 580.02h.9v.9h-.9zM295.76 576.62h.9v.9h-.9zM304.46 579.13h.9v.9h-.9zM302.4 570.31h.9v.9h-.9zM308.38 573.34h.9v.9h-.9zM304.3 573.73h.9v.9h-.9zM301.41 570.24h.9v.9h-.9zM305.49 572.22h.9v.9h-.9zM292.74 579.44h.9v.9h-.9zM301.82 579.4h.9v.9h-.9zM306.28 569.7h.9v.9h-.9zM301.08 575.77h.9v.9h-.9zM302.47 571.25h.9v.9h-.9zM302.4 579.35h.9v.9h-.9zM308.48 579.77h.9v.9h-.9zM305.96 564.58h.9v.9h-.9zM300.59 573.73h.9v.9h-.9zM306.76 574.37h.9v.9h-.9zM303.88 577.02h.9v.9h-.9zM300.87 581.27h.9v.9h-.9zM311.53 576.5h.9v.9h-.9zM299.1 577.25h.9v.9h-.9zM307.1 577.17h.9v.9h-.9zM298.42 580.2h.9v.9h-.9zM305.79 576.94h.9v.9h-.9zM299.82 575.97h.9v.9h-.9zM292.03 577.84h.9v.9h-.9zM299.69 574.93h.9v.9h-.9zM300.53 574.63h.9v.9h-.9zM302.45 575.82h.9v.9h-.9zM298.81 575.8h.9v.9h-.9zM301.53 577.61h.9v.9h-.9zM304.3 573.57h.9v.9h-.9zM297.69 570.09h.9v.9h-.9zM295.47 578.74h.9v.9h-.9zM297.2 583.08h.9v.9h-.9zM301.18 574.22h.9v.9h-.9zM301.18 573.58h.9v.9h-.9zM298.71 576.6h.9v.9h-.9zM294.45 577.9h.9v.9h-.9zM301.52 572.08h.9v.9h-.9zM307.36 575.68h.9v.9h-.9zM307.66 571.53h.9v.9h-.9zM295.52 572.42h.9v.9h-.9zM293.8 570.04h.9v.9h-.9zM310.17 571.67h.9v.9h-.9zM303.01 573.18h.9v.9h-.9zM301.25 581.97h.9v.9h-.9zM292.94 573.83h.9v.9h-.9zM302.7 571.78h.9v.9h-.9zM305.61 579.79h.9v.9h-.9zM306.66 577.38h.9v.9h-.9zM301.15 579.71h.9v.9h-.9zM297.82 571.84h.9v.9h-.9zM300.64 574.88h.9v.9h-.9zM308.39 570.08h.9v.9h-.9zM307.97 571.01h.9v.9h-.9zM295.41 570.42h.9v.9h-.9zM301.82 569.86h.9v.9h-.9zM303.11 575.45h.9v.9h-.9zM299.92 568.41h.9v.9h-.9zM299.3 577.96h.9v.9h-.9zM292.69 580.52h.9v.9h-.9zM302.09 573.36h.9v.9h-.9zM303.06 577.85h.9v.9h-.9zM301.89 572.48h.9v.9h-.9zM306.1 571.85h.9v.9h-.9zM303.89 578.93h.9v.9h-.9zM308.82 580.19h.9v.9h-.9zM307.34 574.81h.9v.9h-.9zM300.95 576.53h.9v.9h-.9zM305.44 571.42h.9v.9h-.9zM309.94 567.31h.9v.9h-.9zM307.24 569.2h.9v.9h-.9zM296.32 574.91h.9v.9h-.9zM300.52 570.54h.9v.9h-.9zM305.23 574.29h.9v.9h-.9zM309.01 569.8h.9v.9h-.9zM292.56 580.54h.9v.9h-.9zM300.83 579.67h.9v.9h-.9zM289.81 573.53h.9v.9h-.9zM302.47 583.15h.9v.9h-.9zM295.57 569.54h.9v.9h-.9zM299.63 581.7h.9v.9h-.9zM310.25 568.14h.9v.9h-.9zM298.82 569h.9v.9h-.9zM297.61 572.77h.9v.9h-.9zM304.23 579.49h.9v.9h-.9zM314.44 571.09h.9v.9h-.9zM306.27 575.36h.9v.9h-.9zM302.66 583.02h.9v.9h-.9zM305.67 580.82h.9v.9h-.9zM303.57 578.56h.9v.9h-.9zM304.65 574.5h.9v.9h-.9zM298.37 574.8h.9v.9h-.9zM302.07 573.99h.9v.9h-.9zM300.22 573.16h.9v.9h-.9zM306.48 573.47h.9v.9h-.9zM301.39 574.8h.9v.9h-.9zM308.84 571.73h.9v.9h-.9zM309.36 570.32h.9v.9h-.9zM309.97 576.01h.9v.9h-.9zM299.45 577.94h.9v.9h-.9zM307.93 570.31h.9v.9h-.9zM300.83 577.04h.9v.9h-.9zM300.92 574.63h.9v.9h-.9zM302.11 576.73h.9v.9h-.9zM306.05 580.39h.9v.9h-.9zM300.3 582.97h.9v.9h-.9zM301.34 569.93h.9v.9h-.9zM299.74 574.7h.9v.9h-.9zM307.58 566.17h.9v.9h-.9zM298.72 575.8h.9v.9h-.9zM305.43 576.25h.9v.9h-.9zM306.47 573.8h.9v.9h-.9zM300.79 580.59h.9v.9h-.9zM310.97 574.85h.9v.9h-.9zM302.82 571.92h.9v.9h-.9zM312.96 574.44h.9v.9h-.9zM305.23 568.38h.9v.9h-.9zM301.16 574.91h.9v.9h-.9zM310 572.84h.9v.9h-.9zM306.4 582.15h.9v.9h-.9zM295.94 573.7h.9v.9h-.9zM305.55 575.12h.9v.9h-.9zM302.23 574.8h.9v.9h-.9zM302.68 576.76h.9v.9h-.9zM299.54 575.01h.9v.9h-.9zM303.22 570.91h.9v.9h-.9zM304.32 566.26h.9v.9h-.9zM305.34 574.23h.9v.9h-.9zM295.91 582.33h.9v.9h-.9zM298.24 581.23h.9v.9h-.9zM301.68 581.99h.9v.9h-.9zM300.86 579.88h.9v.9h-.9zM300.36 568.49h.9v.9h-.9zM304.04 576.91h.9v.9h-.9zM304.1 581.64h.9v.9h-.9zM298.2 570.77h.9v.9h-.9zM303.34 572.44h.9v.9h-.9zM301.48 575.63h.9v.9h-.9zM297.78 580.87h.9v.9h-.9zM301.4 582.76h.9v.9h-.9zM303.32 579.39h.9v.9h-.9zM300.52 573.26h.9v.9h-.9zM299.28 572.69h.9v.9h-.9zM304.34 575.5h.9v.9h-.9zM296.43 570.76h.9v.9h-.9zM297.57 569.35h.9v.9h-.9zM297.44 570.6h.9v.9h-.9zM305.68 570.02h.9v.9h-.9zM298.97 575.77h.9v.9h-.9zM302.19 577.14h.9v.9h-.9zM305.97 577.11h.9v.9h-.9zM300.24 580.9h.9v.9h-.9zM303.94 572.23h.9v.9h-.9zM309.76 568.94h.9v.9h-.9zM304.47 579.9h.9v.9h-.9zM302.62 576.74h.9v.9h-.9zM302.65 578h.9v.9h-.9zM303.18 575.26h.9v.9h-.9zM305.66 567.1h.9v.9h-.9zM303.33 574h.9v.9h-.9zM312.15 574.2h.9v.9h-.9zM298.62 578.93h.9v.9h-.9zM300.05 571.28h.9v.9h-.9zM300.58 577.85h.9v.9h-.9zM308.16 578.19h.9v.9h-.9zM303.21 574.58h.9v.9h-.9zM303.06 580.06h.9v.9h-.9zM301.38 580.27h.9v.9h-.9zM297.93 576.45h.9v.9h-.9zM306.02 577.33h.9v.9h-.9zM303.06 573.22h.9v.9h-.9zM292.78 576.01h.9v.9h-.9zM297.66 574.97h.9v.9h-.9zM310.16 570.48h.9v.9h-.9zM306.39 574.37h.9v.9h-.9zM296.34 577.32h.9v.9h-.9zM305.89 569.86h.9v.9h-.9zM296.06 575.44h.9v.9h-.9zM305.76 572.22h.9v.9h-.9zM304.2 576.8h.9v.9h-.9zM302.09 577.27h.9v.9h-.9zM308.55 573.17h.9v.9h-.9zM303.69 570.88h.9v.9h-.9zM298.32 576.01h.9v.9h-.9zM306.2 571.83h.9v.9h-.9zM294.89 580.9h.9v.9h-.9zM314.2 562.35h.9v.9h-.9zM296.58 577.31h.9v.9h-.9zM304.52 571.15h.9v.9h-.9zM303.74 579.44h.9v.9h-.9zM300.62 578.74h.9v.9h-.9zM302.68 571.66h.9v.9h-.9zM298.88 573.84h.9v.9h-.9zM308.83 578.44h.9v.9h-.9zM303.26 569.01h.9v.9h-.9zM299.52 574.52h.9v.9h-.9zM292.16 577.81h.9v.9h-.9zM303.49 569.91h.9v.9h-.9zM299.84 574.23h.9v.9h-.9zM311.46 575.84h.9v.9h-.9zM305.95 574.89h.9v.9h-.9zM295.48 580.74h.9v.9h-.9zM298.58 568.73h.9v.9h-.9zM305.74 573.23h.9v.9h-.9zM302.02 577.54h.9v.9h-.9zM300.83 577.42h.9v.9h-.9zM308.6 572.63h.9v.9h-.9zM300.21 576.01h.9v.9h-.9zM305.32 573.12h.9v.9h-.9zM302.43 572.7h.9v.9h-.9zM301.64 577.75h.9v.9h-.9zM297.85 575.79h.9v.9h-.9zM294.58 574.54h.9v.9h-.9zM302.42 577.5h.9v.9h-.9zM296.77 576.38h.9v.9h-.9zM297.29 577.9h.9v.9h-.9zM303.36 576.94h.9v.9h-.9zM300.95 570.13h.9v.9h-.9zM299.17 570.9h.9v.9h-.9zM298.57 576.11h.9v.9h-.9zM307.5 571.63h.9v.9h-.9zM298.09 577.26h.9v.9h-.9zM294.2 581.41h.9v.9h-.9zM306.99 578.11h.9v.9h-.9zM301.48 578.52h.9v.9h-.9zM300.27 579.72h.9v.9h-.9zM298.7 573.08h.9v.9h-.9zM303.94 573.25h.9v.9h-.9zM305.42 571.28h.9v.9h-.9zM303.38 571.29h.9v.9h-.9zM296.56 571.96h.9v.9h-.9zM293.89 576.57h.9v.9h-.9zM310.23 571.73h.9v.9h-.9zM306.73 573.63h.9v.9h-.9zM307.48 566.92h.9v.9h-.9zM297.06 578.33h.9v.9h-.9zM305.31 573.82h.9v.9h-.9zM303.6 577.24h.9v.9h-.9zM300.24 579.87h.9v.9h-.9zM297.72 579.52h.9v.9h-.9zM306.64 575.18h.9v.9h-.9zM300.27 575.85h.9v.9h-.9zM290.79 579.23h.9v.9h-.9zM294.82 569.29h.9v.9h-.9zM305.87 570.96h.9v.9h-.9zM303.81 575.25h.9v.9h-.9zM293.12 574.1h.9v.9h-.9zM300.64 577.68h.9v.9h-.9zM302.37 570.43h.9v.9h-.9zM299.34 576.56h.9v.9h-.9zM295.59 575.32h.9v.9h-.9zM299.25 567.79h.9v.9h-.9zM310.71 576.85h.9v.9h-.9zM299.66 579.81h.9v.9h-.9zM296.75 582.82h.9v.9h-.9zM300.13 576.51h.9v.9h-.9zM299.09 576.57h.9v.9h-.9zM303.67 575.22h.9v.9h-.9zM297.84 579.5h.9v.9h-.9zM304.82 574.83h.9v.9h-.9zM307.31 571.31h.9v.9h-.9zM308.45 573.31h.9v.9h-.9zM309.65 571.91h.9v.9h-.9zM300.73 576.64h.9v.9h-.9zM307.53 579.85h.9v.9h-.9zM299.71 573.19h.9v.9h-.9zM305.85 579.46h.9v.9h-.9zM305.55 573.35h.9v.9h-.9zM308.43 573.85h.9v.9h-.9zM302.86 577.75h.9v.9h-.9zM299.15 567.27h.9v.9h-.9zM303.11 578.06h.9v.9h-.9zM304.21 577.11h.9v.9h-.9zM302.83 579.42h.9v.9h-.9zM302.59 581.25h.9v.9h-.9zM302.26 578.58h.9v.9h-.9zM299.24 577.36h.9v.9h-.9zM304.15 575.53h.9v.9h-.9zM309.78 573.8h.9v.9h-.9zM307.66 575.52h.9v.9h-.9zM307.51 570.62h.9v.9h-.9zM300.18 579.75h.9v.9h-.9zM297.89 578.05h.9v.9h-.9zM304.86 575.58h.9v.9h-.9zM304.21 577.11h.9v.9h-.9zM300.82 577.41h.9v.9h-.9zM299.41 574.35h.9v.9h-.9zM294.02 577.03h.9v.9h-.9zM293.45 577.69h.9v.9h-.9zM303.07 570.95h.9v.9h-.9zM302.36 576.56h.9v.9h-.9zM300.25 572.33h.9v.9h-.9zM301.45 577.25h.9v.9h-.9zM306.67 582.01h.9v.9h-.9zM292.08 579.26h.9v.9h-.9zM304.19 572.46h.9v.9h-.9zM303.63 583.37h.9v.9h-.9zM302.58 580.75h.9v.9h-.9zM307.37 572.46h.9v.9h-.9zM290.37 582.91h.9v.9h-.9zM309.76 566.67h.9v.9h-.9zM301.01 572.99h.9v.9h-.9zM303.04 575.5h.9v.9h-.9zM307.76 571.78h.9v.9h-.9zM311.71 566.4h.9v.9h-.9zM301.51 578.11h.9v.9h-.9zM306.5 573.03h.9v.9h-.9zM292.37 578.68h.9v.9h-.9zM305.7 566.54h.9v.9h-.9zM299.55 578.31h.9v.9h-.9zM289.91 577.68h.9v.9h-.9zM294.01 572.14h.9v.9h-.9zM304.05 579.5h.9v.9h-.9zM307.87 571.49h.9v.9h-.9zM304.56 567.88h.9v.9h-.9zM294.56 579.46h.9v.9h-.9zM300 571.96h.9v.9h-.9zM292.6 576.85h.9v.9h-.9zM313.25 564.8h.9v.9h-.9zM296.75 581.22h.9v.9h-.9zM292.35 575.38h.9v.9h-.9zM302.35 579.9h.9v.9h-.9zM301.64 582.81h.9v.9h-.9zM301.85 575.1h.9v.9h-.9zM304.23 576.35h.9v.9h-.9zM294.45 573.57h.9v.9h-.9zM300.82 577.14h.9v.9h-.9zM295.83 574.16h.9v.9h-.9zM298.26 577.76h.9v.9h-.9zM299.84 578.41h.9v.9h-.9zM303.96 571.4h.9v.9h-.9zM300.51 570.94h.9v.9h-.9zM302.55 578.58h.9v.9h-.9zM297.03 569.69h.9v.9h-.9zM304.61 573.72h.9v.9h-.9zM301.86 577.36h.9v.9h-.9zM303.92 578.71h.9v.9h-.9zM299.7 567.32h.9v.9h-.9zM299.55 574.88h.9v.9h-.9zM299.93 577.56h.9v.9h-.9zM300.74 580.95h.9v.9h-.9zM298.8 576.25h.9v.9h-.9zM297.19 572.69h.9v.9h-.9zM300.08 579h.9v.9h-.9zM302.07 574.79h.9v.9h-.9zM294.61 569.04h.9v.9h-.9zM300.92 574.82h.9v.9h-.9zM310.91 574.82h.9v.9h-.9zM304.16 578.83h.9v.9h-.9zM297.48 571.7h.9v.9h-.9zM300.14 581.85h.9v.9h-.9zM307.01 571.96h.9v.9h-.9zM295.71 580.72h.9v.9h-.9zM307.54 569.79h.9v.9h-.9zM310.14 570.45h.9v.9h-.9zM305.8 573.76h.9v.9h-.9zM300.34 573.47h.9v.9h-.9zM305.52 577.11h.9v.9h-.9zM306.09 573.39h.9v.9h-.9zM310.7 572.63h.9v.9h-.9zM296.18 582.87h.9v.9h-.9zM302.68 575.56h.9v.9h-.9zM306.33 575.85h.9v.9h-.9zM302.57 583.28h.9v.9h-.9zM292.41 580.39h.9v.9h-.9zM297 577.01h.9v.9h-.9zM301.14 576.77h.9v.9h-.9zM289.74 581.24h.9v.9h-.9zM313.86 570.98h.9v.9h-.9zM306.59 576.88h.9v.9h-.9zM303.51 573.13h.9v.9h-.9zM305.24 575.8h.9v.9h-.9zM309.37 577.03h.9v.9h-.9zM298.38 564.74h.9v.9h-.9zM309.7 575.58h.9v.9h-.9zM302.88 572.87h.9v.9h-.9zM314.78 577.74h.9v.9h-.9zM302.5 573.91h.9v.9h-.9zM304.93 580.21h.9v.9h-.9zM304.65 578.63h.9v.9h-.9zM303.34 576.6h.9v.9h-.9zM295.53 577.56h.9v.9h-.9zM302.26 575.15h.9v.9h-.9zM300.77 577.02h.9v.9h-.9zM299.04 575.43h.9v.9h-.9zM297.44 571.8h.9v.9h-.9zM299.25 574.51h.9v.9h-.9zM296.5 567.09h.9v.9h-.9zM310.41 577.54h.9v.9h-.9zM300.06 578.2h.9v.9h-.9zM296.31 570.41h.9v.9h-.9zM303.72 577.39h.9v.9h-.9zM298.48 576.34h.9v.9h-.9zM286.22 578.8h.9v.9h-.9zM307.42 574.87h.9v.9h-.9zM302.93 577.58h.9v.9h-.9zM291.29 572.95h.9v.9h-.9zM295.47 578.05h.9v.9h-.9zM298.77 568.75h.9v.9h-.9zM306.58 573.64h.9v.9h-.9zM307.11 582.28h.9v.9h-.9zM293.5 572.47h.9v.9h-.9zM307.54 579.79h.9v.9h-.9zM304.04 576.45h.9v.9h-.9zM305.57 577.25h.9v.9h-.9zM295.44 580.07h.9v.9h-.9zM307.09 572.65h.9v.9h-.9zM297.29 574.69h.9v.9h-.9zM298.98 578.34h.9v.9h-.9zM305.99 574.63h.9v.9h-.9zM300.42 568.81h.9v.9h-.9zM299.81 572.05h.9v.9h-.9zM299.15 577.57h.9v.9h-.9zM297.49 574.46h.9v.9h-.9zM296.09 575.91h.9v.9h-.9zM300.53 579.87h.9v.9h-.9zM291.93 581.57h.9v.9h-.9zM305.32 572.61h.9v.9h-.9zM298.46 577.14h.9v.9h-.9zM304.69 574.21h.9v.9h-.9zM301.19 575.77h.9v.9h-.9zM296.4 577.94h.9v.9h-.9zM304.97 574.99h.9v.9h-.9zM296.11 576.93h.9v.9h-.9zM301.43 576.9h.9v.9h-.9zM299.84 579.33h.9v.9h-.9zM307.59 577.43h.9v.9h-.9zM303.2 580.06h.9v.9h-.9zM301.78 574.9h.9v.9h-.9zM294.6 577.37h.9v.9h-.9zM308.26 570.2h.9v.9h-.9zM306.01 569.5h.9v.9h-.9zM303.53 582.38h.9v.9h-.9zM302.22 570.82h.9v.9h-.9zM303.47 574.57h.9v.9h-.9zM306.09 572.45h.9v.9h-.9zM293.04 575.79h.9v.9h-.9zM305.03 578.84h.9v.9h-.9zM303.41 575.26h.9v.9h-.9zM305.52 573.88h.9v.9h-.9zM299.64 576.97h.9v.9h-.9zM307.63 572.16h.9v.9h-.9zM304.54 572.36h.9v.9h-.9zM298.19 577.11h.9v.9h-.9zM295.11 573.82h.9v.9h-.9zM295.83 574.63h.9v.9h-.9zM305.12 575.04h.9v.9h-.9zM295.07 567.83h.9v.9h-.9zM304.25 572.49h.9v.9h-.9zM307.38 572.65h.9v.9h-.9zM295.23 574.64h.9v.9h-.9zM294.09 571.87h.9v.9h-.9zM305.64 572.54h.9v.9h-.9zM305.53 572.46h.9v.9h-.9zM300.77 573.65h.9v.9h-.9zM299.15 573.61h.9v.9h-.9zM309.69 573.43h.9v.9h-.9zM308.45 578.35h.9v.9h-.9zM301.43 575.04h.9v.9h-.9zM299.49 576.6h.9v.9h-.9zM304.38 574.92h.9v.9h-.9zM297.71 572.77h.9v.9h-.9zM310.57 580.04h.9v.9h-.9zM295.55 574.57h.9v.9h-.9zM301.75 577.87h.9v.9h-.9zM301.37 576.6h.9v.9h-.9zM303.83 579.53h.9v.9h-.9zM295.21 581.45h.9v.9h-.9zM304.22 577.08h.9v.9h-.9zM294.16 576.51h.9v.9h-.9zM300.61 578.34h.9v.9h-.9zM305.49 577.35h.9v.9h-.9zM295.26 582.05h.9v.9h-.9zM302.29 579.08h.9v.9h-.9zM301.89 572.8h.9v.9h-.9zM315.52 574.8h.9v.9h-.9zM305.89 572.77h.9v.9h-.9zM300.8 580.14h.9v.9h-.9zM304.26 581.78h.9v.9h-.9zM308.16 569.83h.9v.9h-.9zM293.97 581.98h.9v.9h-.9zM305.05 573.77h.9v.9h-.9zM300.43 573.73h.9v.9h-.9zM311.23 572.64h.9v.9h-.9zM294.79 580.79h.9v.9h-.9zM301.49 577.02h.9v.9h-.9zM299.95 575.86h.9v.9h-.9zM292.19 579.98h.9v.9h-.9zM298.38 574.91h.9v.9h-.9zM303.57 580.1h.9v.9h-.9zM290.77 577.72h.9v.9h-.9zM304.76 578.78h.9v.9h-.9zM297.21 577.92h.9v.9h-.9zM304 578.64h.9v.9h-.9zM298.71 575.6h.9v.9h-.9zM299.27 580.59h.9v.9h-.9zM307.55 572.46h.9v.9h-.9zM301.22 576.56h.9v.9h-.9zM297.25 576.23h.9v.9h-.9zM306.4 577.45h.9v.9h-.9zM298.39 573.89h.9v.9h-.9zM301.32 570.03h.9v.9h-.9zM303.53 575.62h.9v.9h-.9zM295 576.32h.9v.9h-.9zM298.49 575.34h.9v.9h-.9zM297.38 581.9h.9v.9h-.9zM296.91 579.7h.9v.9h-.9zM302.99 580.85h.9v.9h-.9zM301.61 575.63h.9v.9h-.9zM302.26 568.22h.9v.9h-.9zM314.38 571.72h.9v.9h-.9zM300.28 571.63h.9v.9h-.9zM301.2 581.91h.9v.9h-.9zM297.99 578.2h.9v.9h-.9zM307.26 577.89h.9v.9h-.9zM299.81 569.38h.9v.9h-.9zM304.02 577.23h.9v.9h-.9zM300.22 574.33h.9v.9h-.9zM311 567.31h.9v.9h-.9zM299.25 573.88h.9v.9h-.9zM293.81 574.88h.9v.9h-.9zM297.77 581.32h.9v.9h-.9zM292.85 572.5h.9v.9h-.9zM303.26 569.31h.9v.9h-.9zM291.51 575.7h.9v.9h-.9zM295.65 573.36h.9v.9h-.9zM301.08 577.5h.9v.9h-.9zM298.55 575.33h.9v.9h-.9zM305.61 574.09h.9v.9h-.9zM305.71 572.4h.9v.9h-.9zM304.44 579.82h.9v.9h-.9zM300.23 574.68h.9v.9h-.9zM301.07 577.54h.9v.9h-.9zM295.64 577.24h.9v.9h-.9zM298.87 581.74h.9v.9h-.9zM292.95 580.21h.9v.9h-.9zM300.27 573.12h.9v.9h-.9zM302.61 574.49h.9v.9h-.9zM302.12 576.43h.9v.9h-.9zM308.14 572.52h.9v.9h-.9zM310.57 563.2h.9v.9h-.9zM311.37 577.9h.9v.9h-.9zM310.01 574.37h.9v.9h-.9zM303.37 571.36h.9v.9h-.9zM308.84 569.49h.9v.9h-.9zM297.78 576.57h.9v.9h-.9zM303.12 576.57h.9v.9h-.9zM295.87 575.73h.9v.9h-.9zM304.44 579.46h.9v.9h-.9zM305.87 576.19h.9v.9h-.9zM300.55 573.85h.9v.9h-.9zM299.24 575.86h.9v.9h-.9zM304.64 573h.9v.9h-.9zM312.57 569.19h.9v.9h-.9zM306.13 573.78h.9v.9h-.9zM301.17 574.31h.9v.9h-.9zM309.86 572.52h.9v.9h-.9zM304.76 575.33h.9v.9h-.9zM305.79 576.86h.9v.9h-.9zM310.47 570.73h.9v.9h-.9zM297.64 583.03h.9v.9h-.9zM308.51 574.26h.9v.9h-.9zM300.42 576.9h.9v.9h-.9zM308.66 571.04h.9v.9h-.9zM309.43 573.54h.9v.9h-.9zM300.03 574.54h.9v.9h-.9zM291.04 579.43h.9v.9h-.9zM295.08 575.12h.9v.9h-.9zM297.26 577.59h.9v.9h-.9zM305.64 574.82h.9v.9h-.9zM302.89 576.9h.9v.9h-.9zM310.23 575.75h.9v.9h-.9zM310.04 573.37h.9v.9h-.9zM303.73 572.68h.9v.9h-.9zM304.98 571.6h.9v.9h-.9zM304.34 572.6h.9v.9h-.9zM300.07 580.64h.9v.9h-.9zM302.66 578.4h.9v.9h-.9zM300.66 568.83h.9v.9h-.9zM309.54 573.05h.9v.9h-.9zM298.54 579.98h.9v.9h-.9zM296.02 574.19h.9v.9h-.9zM307.84 571.51h.9v.9h-.9zM307.76 573.01h.9v.9h-.9zM300.81 576.11h.9v.9h-.9zM299.32 580.26h.9v.9h-.9zM307.58 574.46h.9v.9h-.9zM305.06 576.86h.9v.9h-.9zM310.62 567.48h.9v.9h-.9zM307.21 577.75h.9v.9h-.9zM300.28 576.03h.9v.9h-.9zM300.11 580.69h.9v.9h-.9zM295.98 579.31h.9v.9h-.9zM308.56 576.14h.9v.9h-.9zM299.42 574.45h.9v.9h-.9zM290.93 574.36h.9v.9h-.9zM307.58 570.64h.9v.9h-.9zM293.42 576.71h.9v.9h-.9zM294.19 579.19h.9v.9h-.9zM297.39 580.27h.9v.9h-.9zM301.3 570.38h.9v.9h-.9zM297.91 574.11h.9v.9h-.9zM297.54 581.31h.9v.9h-.9zM296.71 578.22h.9v.9h-.9zM298.88 578.55h.9v.9h-.9zM294.5 571.47h.9v.9h-.9zM304.56 580.34h.9v.9h-.9zM294.74 576.14h.9v.9h-.9zM299.28 572.7h.9v.9h-.9zM306.93 574.56h.9v.9h-.9zM294.74 576.51h.9v.9h-.9zM308.82 571.24h.9v.9h-.9zM299.24 573.11h.9v.9h-.9zM302.75 573.29h.9v.9h-.9zM306.53 571.33h.9v.9h-.9zM294.36 579.12h.9v.9h-.9zM285.46 575.99h.9v.9h-.9zM303.37 576.17h.9v.9h-.9zM298.92 574.64h.9v.9h-.9zM297.74 575.92h.9v.9h-.9zM299.55 578.25h.9v.9h-.9zM301.96 577.67h.9v.9h-.9zM310.38 572.51h.9v.9h-.9zM300.41 577.37h.9v.9h-.9zM312.79 571.6h.9v.9h-.9zM310.68 577.94h.9v.9h-.9zM287.71 575.28h.9v.9h-.9zM296.82 578.32h.9v.9h-.9zM308.8 574.13h.9v.9h-.9zM302.76 583.56h.9v.9h-.9zM303.76 583.26h.9v.9h-.9zM297.27 582.93h.9v.9h-.9zM299.29 567.07h.9v.9h-.9zM297.62 574.84h.9v.9h-.9zM301.69 578.5h.9v.9h-.9zM305.49 576.69h.9v.9h-.9zM298.04 583.26h.9v.9h-.9zM308.13 574.22h.9v.9h-.9zM298.95 576.13h.9v.9h-.9zM300.77 573.24h.9v.9h-.9zM301.86 573.09h.9v.9h-.9zM305.25 572.32h.9v.9h-.9zM304.46 576.18h.9v.9h-.9zM302.79 577.35h.9v.9h-.9zM298.33 579.23h.9v.9h-.9zM302.04 573.92h.9v.9h-.9zM310.95 577.56h.9v.9h-.9zM300.5 578.06h.9v.9h-.9zM305.47 580.7h.9v.9h-.9zM307.19 573.67h.9v.9h-.9zM300.62 571.5h.9v.9h-.9zM303.29 578.53h.9v.9h-.9zM299.9 578.58h.9v.9h-.9zM302.61 573.67h.9v.9h-.9zM295.6 581.33h.9v.9h-.9zM315.09 574.46h.9v.9h-.9zM296.33 573.02h.9v.9h-.9zM303.24 577.72h.9v.9h-.9zM309.82 564.53h.9v.9h-.9zM311.54 573.88h.9v.9h-.9zM302.64 576.87h.9v.9h-.9zM300.09 574.94h.9v.9h-.9zM307.42 567.69h.9v.9h-.9zM301.35 577.84h.9v.9h-.9zM293.38 577.04h.9v.9h-.9zM309.89 575.06h.9v.9h-.9zM305.62 577.36h.9v.9h-.9zM303.09 576.65h.9v.9h-.9zM297.72 575.8h.9v.9h-.9zM311.54 568.59h.9v.9h-.9zM301.07 570.98h.9v.9h-.9zM299.17 573.32h.9v.9h-.9zM295.57 578.03h.9v.9h-.9zM297.04 578.77h.9v.9h-.9zM311.34 563.59h.9v.9h-.9zM301.09 567.83h.9v.9h-.9zM301.31 577.15h.9v.9h-.9zM303.05 579.89h.9v.9h-.9zM302.78 568.82h.9v.9h-.9zM309.78 570.07h.9v.9h-.9zM301.47 576.92h.9v.9h-.9zM297.38 577.02h.9v.9h-.9zM309.72 567.27h.9v.9h-.9zM293.29 575.97h.9v.9h-.9zM301.09 570.92h.9v.9h-.9zM289.98 581.94h.9v.9h-.9zM303.99 570.03h.9v.9h-.9zM304.94 574.6h.9v.9h-.9zM302.8 570.28h.9v.9h-.9zM300.82 577.67h.9v.9h-.9zM292.85 573.78h.9v.9h-.9zM307 581.94h.9v.9h-.9zM305.4 574.46h.9v.9h-.9zM296.33 575.38h.9v.9h-.9zM300.66 577.56h.9v.9h-.9zM308.85 565.52h.9v.9h-.9zM295.88 577.02h.9v.9h-.9zM307.08 575.86h.9v.9h-.9zM287.65 572.75h.9v.9h-.9zM308.99 576.11h.9v.9h-.9zM315.3 575.38h.9v.9h-.9zM304.38 580.81h.9v.9h-.9zM299.65 574.04h.9v.9h-.9zM296.7 577.78h.9v.9h-.9zM304.26 578.58h.9v.9h-.9zM309.52 576.11h.9v.9h-.9zM308.39 573.05h.9v.9h-.9zM296.96 579.56h.9v.9h-.9zM307.26 579.39h.9v.9h-.9zM301.12 573.96h.9v.9h-.9zM300.08 577.39h.9v.9h-.9zM301.73 574.91h.9v.9h-.9zM303.31 574.12h.9v.9h-.9zM303.74 572.83h.9v.9h-.9zM293.94 576.31h.9v.9h-.9zM311.83 570.06h.9v.9h-.9zM306.75 579.54h.9v.9h-.9zM299.15 577.22h.9v.9h-.9zM290.09 580.62h.9v.9h-.9zM310 574.31h.9v.9h-.9zM291.62 575.83h.9v.9h-.9zM298.11 576.91h.9v.9h-.9zM303.48 573.6h.9v.9h-.9zM300.37 572.8h.9v.9h-.9zM304.97 575.58h.9v.9h-.9zM303.79 573.17h.9v.9h-.9zM304.56 573.77h.9v.9h-.9zM303.54 574.55h.9v.9h-.9zM298.53 572.17h.9v.9h-.9zM292.27 572.65h.9v.9h-.9zM293.43 574.48h.9v.9h-.9zM300.92 571.32h.9v.9h-.9zM304.17 583.03h.9v.9h-.9zM287.42 574.57h.9v.9h-.9zM308.44 569.5h.9v.9h-.9zM301.45 573.24h.9v.9h-.9zM305.97 568.98h.9v.9h-.9zM303.61 575.98h.9v.9h-.9zM304.94 576.46h.9v.9h-.9zM302.79 568.49h.9v.9h-.9zM300.31 572.3h.9v.9h-.9zM304.76 573.96h.9v.9h-.9zM302.79 579.59h.9v.9h-.9zM301.43 582.16h.9v.9h-.9zM306.35 568.75h.9v.9h-.9zM298.95 580.97h.9v.9h-.9zM299.39 580.77h.9v.9h-.9zM299.06 575.76h.9v.9h-.9zM307.35 568.14h.9v.9h-.9zM302.39 573.68h.9v.9h-.9zM302.88 581.92h.9v.9h-.9zM304.55 569.69h.9v.9h-.9zM307 572.56h.9v.9h-.9zM302.86 579.79h.9v.9h-.9zM300.38 579.61h.9v.9h-.9zM302.93 571.81h.9v.9h-.9zM300.38 570.66h.9v.9h-.9zM308.16 574.66h.9v.9h-.9zM307.04 569.99h.9v.9h-.9zM306.41 569.83h.9v.9h-.9zM303.46 575.11h.9v.9h-.9zM298.92 577.45h.9v.9h-.9zM302.18 572.12h.9v.9h-.9zM298.13 571.41h.9v.9h-.9zM309.14 574.37h.9v.9h-.9zM300.11 578.65h.9v.9h-.9zM297.51 572.1h.9v.9h-.9zM303.85 581.2h.9v.9h-.9zM303.56 575.74h.9v.9h-.9zM311.08 567.33h.9v.9h-.9zM317.92 567.39h.9v.9h-.9zM301.62 570.4h.9v.9h-.9zM295.67 576.12h.9v.9h-.9zM314.72 568.78h.9v.9h-.9zM298.79 577.33h.9v.9h-.9zM296.7 575.8h.9v.9h-.9zM306.26 566.03h.9v.9h-.9zM300.43 574.75h.9v.9h-.9zM299.33 575.7h.9v.9h-.9zM292.65 576.07h.9v.9h-.9zM299.29 572.17h.9v.9h-.9zM308.57 581.67h.9v.9h-.9zM306.16 571.14h.9v.9h-.9zM309.4 575.65h.9v.9h-.9zM297.75 578.88h.9v.9h-.9zM298.99 578.45h.9v.9h-.9zM306.79 578.83h.9v.9h-.9zM296.51 576.34h.9v.9h-.9zM302.02 570.76h.9v.9h-.9zM304.16 577.67h.9v.9h-.9zM294.81 575.1h.9v.9h-.9zM296.25 571.96h.9v.9h-.9zM296.45 582.18h.9v.9h-.9zM298.55 574.81h.9v.9h-.9zM307.15 578.23h.9v.9h-.9zM309.32 565.67h.9v.9h-.9zM305.93 567.74h.9v.9h-.9zM298.7 574.69h.9v.9h-.9zM299.03 583.85h.9v.9h-.9zM301.13 580.27h.9v.9h-.9zM301.06 575.5h.9v.9h-.9zM304.66 576.58h.9v.9h-.9zM304.6 568.13h.9v.9h-.9zM304.64 576.11h.9v.9h-.9zM305.12 574.54h.9v.9h-.9zM304.13 569.92h.9v.9h-.9zM307.89 569.36h.9v.9h-.9zM309.29 577.67h.9v.9h-.9zM301.67 574.44h.9v.9h-.9zM306.04 573.34h.9v.9h-.9zM295.82 578.08h.9v.9h-.9zM295.65 575.27h.9v.9h-.9zM311.34 576.39h.9v.9h-.9zM299.66 575.8h.9v.9h-.9zM298.63 576.27h.9v.9h-.9zM294.46 579.98h.9v.9h-.9zM302.07 573.1h.9v.9h-.9zM299.69 574.2h.9v.9h-.9zM298.97 574.31h.9v.9h-.9zM308.81 576.49h.9v.9h-.9zM304.18 576.4h.9v.9h-.9zM296.09 567.54h.9v.9h-.9zM309.85 576.39h.9v.9h-.9zM303.13 576.31h.9v.9h-.9zM303.04 575.33h.9v.9h-.9zM300.64 567.15h.9v.9h-.9zM304.96 574.97h.9v.9h-.9zM307.08 575.47h.9v.9h-.9zM300.51 578.21h.9v.9h-.9zM302.98 573.54h.9v.9h-.9zM300.05 574.32h.9v.9h-.9zM300.45 574.14h.9v.9h-.9zM301.41 580.01h.9v.9h-.9zM291.74 565.39h.9v.9h-.9zM299.54 575.49h.9v.9h-.9zM298.14 571.13h.9v.9h-.9zM297.58 574.58h.9v.9h-.9zM302.8 574h.9v.9h-.9zM295.76 575.57h.9v.9h-.9zM309.87 570.16h.9v.9h-.9zM302.34 579.35h.9v.9h-.9zM297.81 574.29h.9v.9h-.9zM317.05 576.68h.9v.9h-.9zM299.26 576.79h.9v.9h-.9zM302.52 575.95h.9v.9h-.9zM304.42 573.75h.9v.9h-.9zM290.47 574.55h.9v.9h-.9zM306.36 559.67h.9v.9h-.9zM302.09 579.48h.9v.9h-.9zM307.14 564.29h.9v.9h-.9zM306.25 575.8h.9v.9h-.9zM289.59 563.06h.9v.9h-.9zM299.04 567h.9v.9h-.9zM304.21 565.25h.9v.9h-.9zM305.97 569.44h.9v.9h-.9zM294.51 566.47h.9v.9h-.9zM293.85 572.66h.9v.9h-.9zM307.35 572.99h.9v.9h-.9zM297.12 566.68h.9v.9h-.9zM285.04 572.18h.9v.9h-.9zM290.46 573.57h.9v.9h-.9zM314.7 570.46h.9v.9h-.9zM310.65 569.64h.9v.9h-.9zM308.34 574.74h.9v.9h-.9zM316.36 580.69h.9v.9h-.9zM302.61 574.92h.9v.9h-.9zM312.79 570.63h.9v.9h-.9zM307.41 560.2h.9v.9h-.9zM314.79 561.59h.9v.9h-.9zM299.13 564.22h.9v.9h-.9zM310.03 561.77h.9v.9h-.9zM309.11 572.12h.9v.9h-.9zM305.91 566.59h.9v.9h-.9zM310.35 576.89h.9v.9h-.9zM300.85 562.65h.9v.9h-.9zM299.59 563.99h.9v.9h-.9zM302.86 568.3h.9v.9h-.9zM284.31 581.94h.9v.9h-.9zM297.68 567.29h.9v.9h-.9zM287.4 558.62h.9v.9h-.9zM295.88 571.94h.9v.9h-.9zM312.63 555.77h.9v.9h-.9zM307 578.77h.9v.9h-.9zM302.46 575.5h.9v.9h-.9zM307.79 562.41h.9v.9h-.9zM313.92 563.56h.9v.9h-.9zM308.18 565.84h.9v.9h-.9zM303.05 570.32h.9v.9h-.9zM316.87 555.95h.9v.9h-.9zM294.98 571.24h.9v.9h-.9zM313.74 566.39h.9v.9h-.9zM303.31 572.76h.9v.9h-.9zM319.15 560.78h.9v.9h-.9zM290.66 569.36h.9v.9h-.9zM311.87 559.18h.9v.9h-.9zM315.12 573.67h.9v.9h-.9zM312.08 562.28h.9v.9h-.9zM293.39 575.16h.9v.9h-.9zM307.34 573.2h.9v.9h-.9zM292.9 551.23h.9v.9h-.9zM315.05 574.08h.9v.9h-.9zM302.51 569.35h.9v.9h-.9zM309.06 573.34h.9v.9h-.9zM303.3 565.84h.9v.9h-.9zM296.23 577.18h.9v.9h-.9zM305.88 546.21h.9v.9h-.9zM308.08 564.72h.9v.9h-.9zM293.56 567.38h.9v.9h-.9zM293.52 567.79h.9v.9h-.9zM300.08 573.16h.9v.9h-.9zM295.91 558.32h.9v.9h-.9zM299.56 560.7h.9v.9h-.9zM311.64 566.59h.9v.9h-.9zM289.97 565.51h.9v.9h-.9zM304.75 568.76h.9v.9h-.9zM288.46 570.71h.9v.9h-.9zM307.65 575.15h.9v.9h-.9zM314.84 566.64h.9v.9h-.9zM293.31 568.33h.9v.9h-.9zM310.83 561.97h.9v.9h-.9zM316.3 560.86h.9v.9h-.9zM294.88 576.08h.9v.9h-.9zM304.09 571.27h.9v.9h-.9zM302.26 569.62h.9v.9h-.9zM299.75 582.4h.9v.9h-.9zM310.88 567.25h.9v.9h-.9zM309.24 573.87h.9v.9h-.9zM300.26 570.9h.9v.9h-.9zM306.84 564.95h.9v.9h-.9zM298.05 568.74h.9v.9h-.9zM302.29 566.71h.9v.9h-.9zM287.55 572.21h.9v.9h-.9zM310.87 568.56h.9v.9h-.9zM320.38 572.32h.9v.9h-.9zM301.8 565.01h.9v.9h-.9zM309.49 565.82h.9v.9h-.9zM290.47 572.06h.9v.9h-.9zM302.33 567.92h.9v.9h-.9zM310.49 569.42h.9v.9h-.9zM323.16 561.26h.9v.9h-.9zM304.12 571.18h.9v.9h-.9zM301.04 566.2h.9v.9h-.9zM320.69 556.92h.9v.9h-.9zM308.12 556.87h.9v.9h-.9zM308.03 555.78h.9v.9h-.9zM294.52 578.16h.9v.9h-.9zM318.82 567.69h.9v.9h-.9zM307.18 561.31h.9v.9h-.9zM301.81 560.73h.9v.9h-.9zM304.15 568.55h.9v.9h-.9zM306.09 574.06h.9v.9h-.9zM299.21 555.28h.9v.9h-.9zM294.51 562.29h.9v.9h-.9zM301.68 566.61h.9v.9h-.9zM304.61 578.11h.9v.9h-.9zM305.23 561.82h.9v.9h-.9zM302.25 563.61h.9v.9h-.9zM302.83 573.17h.9v.9h-.9zM294.84 575.23h.9v.9h-.9zM321.01 576.58h.9v.9h-.9zM319.57 567.32h.9v.9h-.9zM304.53 570.59h.9v.9h-.9zM301.8 563.27h.9v.9h-.9zM310.54 558.89h.9v.9h-.9zM292.66 574.56h.9v.9h-.9zM301.64 563.96h.9v.9h-.9zM309.45 577.7h.9v.9h-.9zM302.45 568.5h.9v.9h-.9zM310.02 574.41h.9v.9h-.9zM314.27 572.04h.9v.9h-.9zM299.04 573.44h.9v.9h-.9zM305.06 557.77h.9v.9h-.9zM316.07 571.06h.9v.9h-.9zM317.28 566.66h.9v.9h-.9zM311.52 567.51h.9v.9h-.9zM306.46 574.78h.9v.9h-.9zM305.52 572.95h.9v.9h-.9zM304.68 577.13h.9v.9h-.9zM310.85 557.16h.9v.9h-.9zM319.88 569.58h.9v.9h-.9zM300.42 565.6h.9v.9h-.9zM322.82 566.81h.9v.9h-.9zM309.57 572.22h.9v.9h-.9zM299.64 581.37h.9v.9h-.9zM323.84 560.93h.9v.9h-.9zM315.17 556.67h.9v.9h-.9zM301.99 569.87h.9v.9h-.9zM305.47 572.69h.9v.9h-.9zM308.61 570.89h.9v.9h-.9zM303.78 571.19h.9v.9h-.9zM300.03 582.72h.9v.9h-.9zM305.56 577.08h.9v.9h-.9zM305.94 567.87h.9v.9h-.9zM303.39 560.76h.9v.9h-.9zM323.59 568.83h.9v.9h-.9zM306.17 565.77h.9v.9h-.9zM316.46 565.05h.9v.9h-.9zM300.89 566.08h.9v.9h-.9zM318.81 568.9h.9v.9h-.9zM303.7 564.98h.9v.9h-.9zM316.5 569.12h.9v.9h-.9zM302.05 575.35h.9v.9h-.9zM312.85 561.25h.9v.9h-.9zM315.29 574.57h.9v.9h-.9zM302.85 560.6h.9v.9h-.9zM314.8 565.23h.9v.9h-.9zM303.2 567.4h.9v.9h-.9zM302.6 574.87h.9v.9h-.9zM295.26 574.02h.9v.9h-.9zM315.36 574.32h.9v.9h-.9zM311.46 569.75h.9v.9h-.9zM303.29 568.49h.9v.9h-.9zM297.22 581.2h.9v.9h-.9zM303.99 562.55h.9v.9h-.9zM312.47 577.74h.9v.9h-.9zM307.52 566.54h.9v.9h-.9zM295.12 574.78h.9v.9h-.9zM302.88 565h.9v.9h-.9zM310.41 559.71h.9v.9h-.9zM311.6 552.07h.9v.9h-.9zM299.55 560.51h.9v.9h-.9zM302.89 574.57h.9v.9h-.9zM293.49 579.71h.9v.9h-.9zM299.01 566.79h.9v.9h-.9zM313.88 562.86h.9v.9h-.9zM317.98 565.66h.9v.9h-.9zM304.22 562.84h.9v.9h-.9zM315.27 566.99h.9v.9h-.9zM300.78 563.47h.9v.9h-.9zM299.45 569.25h.9v.9h-.9zM298.71 575.19h.9v.9h-.9zM304.76 565.01h.9v.9h-.9zM309.17 577.68h.9v.9h-.9zM286.65 574.21h.9v.9h-.9zM314.66 568.4h.9v.9h-.9zM312.39 557.82h.9v.9h-.9zM298.47 576.61h.9v.9h-.9zM304.28 569.53h.9v.9h-.9zM310.66 570.53h.9v.9h-.9zM309.08 565.14h.9v.9h-.9zM302.46 577.94h.9v.9h-.9zM300.76 560.29h.9v.9h-.9zM302.01 575.3h.9v.9h-.9zM320.95 567.51h.9v.9h-.9zM299.64 573.81h.9v.9h-.9zM307.79 576.28h.9v.9h-.9zM309.7 573.19h.9v.9h-.9zM309.62 571.02h.9v.9h-.9zM297.09 569.18h.9v.9h-.9zM319.25 575.46h.9v.9h-.9zM313.65 570.24h.9v.9h-.9zM304.17 571.41h.9v.9h-.9zM302.24 576.52h.9v.9h-.9zM302.4 564.48h.9v.9h-.9zM290.96 581.31h.9v.9h-.9zM298.52 564.43h.9v.9h-.9zM308.72 580.12h.9v.9h-.9zM311.04 565.91h.9v.9h-.9zM310.15 562.85h.9v.9h-.9zM302.96 569.52h.9v.9h-.9zM305.31 574.04h.9v.9h-.9zM309.93 580.5h.9v.9h-.9zM312.51 566.01h.9v.9h-.9zM307.45 563.12h.9v.9h-.9zM299.83 567.61h.9v.9h-.9zM314.12 563.12h.9v.9h-.9zM291.51 564.54h.9v.9h-.9zM294.67 569.43h.9v.9h-.9zM302.57 561.83h.9v.9h-.9zM298.27 567.38h.9v.9h-.9zM308.68 572.42h.9v.9h-.9zM316.83 565.51h.9v.9h-.9zM310.76 568.61h.9v.9h-.9zM295.67 566.35h.9v.9h-.9zM324.41 564.96h.9v.9h-.9zM319.69 572.09h.9v.9h-.9zM319.82 565.49h.9v.9h-.9zM313.44 565.74h.9v.9h-.9zM295.58 562.91h.9v.9h-.9zM309.13 557.93h.9v.9h-.9zM308.49 562.83h.9v.9h-.9zM308.4 559.6h.9v.9h-.9zM312.73 566.33h.9v.9h-.9zM291.95 561.73h.9v.9h-.9zM305.87 558.28h.9v.9h-.9zM308.19 571.67h.9v.9h-.9zM299.58 578.91h.9v.9h-.9zM317.93 569.04h.9v.9h-.9zM309.3 571.41h.9v.9h-.9zM303.04 577.82h.9v.9h-.9zM300.66 553.4h.9v.9h-.9zM305.51 571.8h.9v.9h-.9zM312.52 560.69h.9v.9h-.9zM317.46 561.77h.9v.9h-.9zM310.84 572.84h.9v.9h-.9zM306.89 576.07h.9v.9h-.9zM301.04 582.92h.9v.9h-.9zM309.63 565.58h.9v.9h-.9zM328.04 565.39h.9v.9h-.9zM291.23 580.36h.9v.9h-.9zM318.82 563.13h.9v.9h-.9zM296.73 577.61h.9v.9h-.9zM305.86 562.65h.9v.9h-.9zM301.16 570.06h.9v.9h-.9zM313.91 577.77h.9v.9h-.9zM299.95 579.75h.9v.9h-.9zM292.19 575.63h.9v.9h-.9zM304.15 571.98h.9v.9h-.9zM301.56 564.94h.9v.9h-.9zM307.83 575.9h.9v.9h-.9zM286.07 572.29h.9v.9h-.9zM301.85 562.56h.9v.9h-.9zM293.65 574.14h.9v.9h-.9zM310.2 572.39h.9v.9h-.9zM288.06 561.78h.9v.9h-.9zM300.03 566.98h.9v.9h-.9zM320.72 564.07h.9v.9h-.9zM306.47 575.25h.9v.9h-.9zM319.91 569.11h.9v.9h-.9zM308.35 581.06h.9v.9h-.9zM301.86 557.86h.9v.9h-.9zM298.83 567.94h.9v.9h-.9zM316.78 569.24h.9v.9h-.9zM315.85 568h.9v.9h-.9zM305.74 565.16h.9v.9h-.9zM294.64 573.92h.9v.9h-.9zM308.53 572.19h.9v.9h-.9zM300.73 566.96h.9v.9h-.9zM308.66 572.39h.9v.9h-.9zM322.72 560.59h.9v.9h-.9zM313.98 573.37h.9v.9h-.9zM303.09 570.21h.9v.9h-.9zM304.89 578.96h.9v.9h-.9zM327.53 567.61h.9v.9h-.9zM303.16 575.47h.9v.9h-.9zM309.68 567.09h.9v.9h-.9zM311.94 573.6h.9v.9h-.9zM301.95 575.02h.9v.9h-.9zM285.87 563.64h.9v.9h-.9zM302.68 570.41h.9v.9h-.9zM292.7 580.52h.9v.9h-.9zM302.09 570.45h.9v.9h-.9zM305.01 573.92h.9v.9h-.9zM300.34 574.57h.9v.9h-.9zM298.16 560.46h.9v.9h-.9zM309.85 569.31h.9v.9h-.9zM313.05 555.16h.9v.9h-.9zM306.34 564.63h.9v.9h-.9zM303.75 566.65h.9v.9h-.9zM302.12 565.12h.9v.9h-.9zM314.27 556.4h.9v.9h-.9zM290.83 573.46h.9v.9h-.9zM322.89 561.27h.9v.9h-.9zM297.51 562.58h.9v.9h-.9zM296.51 578.46h.9v.9h-.9zM311.31 573.89h.9v.9h-.9zM308.4 570.01h.9v.9h-.9zM300.31 563.44h.9v.9h-.9zM302.18 577.7h.9v.9h-.9zM299.26 570.16h.9v.9h-.9zM320.16 566.18h.9v.9h-.9zM310.91 564.45h.9v.9h-.9zM321.74 558.41h.9v.9h-.9zM310.26 566.64h.9v.9h-.9zM307.1 571.05h.9v.9h-.9zM316.82 572.87h.9v.9h-.9zM314.56 569.92h.9v.9h-.9zM296.09 579.13h.9v.9h-.9zM318.77 570.01h.9v.9h-.9zM312.29 566.37h.9v.9h-.9zM292.84 577.31h.9v.9h-.9zM299.06 582.4h.9v.9h-.9zM311.38 567.9h.9v.9h-.9zM300.03 570.49h.9v.9h-.9zM296.59 567.88h.9v.9h-.9zM319.28 564.87h.9v.9h-.9zM321.39 565.84h.9v.9h-.9zM309 562.37h.9v.9h-.9zM302.75 566.46h.9v.9h-.9zM293.27 583.44h.9v.9h-.9zM310.51 567.61h.9v.9h-.9zM295.84 570.66h.9v.9h-.9zM296.2 564.06h.9v.9h-.9zM303.73 583.29h.9v.9h-.9zM290.2 574.96h.9v.9h-.9zM300.6 550.77h.9v.9h-.9zM293.05 569.99h.9v.9h-.9zM305.89 563.96h.9v.9h-.9zM320.83 570.05h.9v.9h-.9zM299.85 559.08h.9v.9h-.9zM306.87 564.35h.9v.9h-.9zM314.26 560.75h.9v.9h-.9zM315.78 564.33h.9v.9h-.9zM307.04 566.93h.9v.9h-.9zM310.78 575.61h.9v.9h-.9zM300.6 563.8h.9v.9h-.9zM321.87 572.63h.9v.9h-.9zM321.99 572.61h.9v.9h-.9zM306.5 579.44h.9v.9h-.9zM299.49 567.08h.9v.9h-.9zM301.84 573.98h.9v.9h-.9zM297.89 568.96h.9v.9h-.9zM297.95 568.58h.9v.9h-.9zM315.11 574.7h.9v.9h-.9zM299.19 572.91h.9v.9h-.9zM301.15 555.13h.9v.9h-.9zM294.96 578.68h.9v.9h-.9zM304.24 570.9h.9v.9h-.9zM316.26 567.46h.9v.9h-.9zM299.76 565.84h.9v.9h-.9zM297.09 573.85h.9v.9h-.9zM301.19 572.96h.9v.9h-.9zM292.18 568.19h.9v.9h-.9zM323.31 568.55h.9v.9h-.9zM304.4 576.87h.9v.9h-.9zM307.71 578.63h.9v.9h-.9zM295.14 575.57h.9v.9h-.9zM296.02 574.86h.9v.9h-.9zM326.77 575.64h.9v.9h-.9zM297.79 572.89h.9v.9h-.9zM309.29 563.63h.9v.9h-.9zM307.42 561.66h.9v.9h-.9zM300.8 582.25h.9v.9h-.9zM293.11 581.82h.9v.9h-.9zM310.43 580.2h.9v.9h-.9zM291.13 579.01h.9v.9h-.9zM300.34 582.42h.9v.9h-.9zM298.27 583.62h.9v.9h-.9zM289.92 579.71h.9v.9h-.9zM297.07 575.33h.9v.9h-.9zM292.75 580.62h.9v.9h-.9zM287.66 580.94h.9v.9h-.9zM301.39 579.3h.9v.9h-.9zM298.04 580.21h.9v.9h-.9zM293.12 580.73h.9v.9h-.9zM304.46 581.5h.9v.9h-.9zM298.86 580.79h.9v.9h-.9zM294.06 580.69h.9v.9h-.9zM290.74 577.56h.9v.9h-.9zM304.89 576.99h.9v.9h-.9zM297.93 578.25h.9v.9h-.9zM292.91 579.52h.9v.9h-.9zM289.95 579.03h.9v.9h-.9zM290.89 581.99h.9v.9h-.9zM305.15 582.28h.9v.9h-.9zM294.09 580.23h.9v.9h-.9zM292.5 580.46h.9v.9h-.9zM289.94 580.16h.9v.9h-.9zM299.95 580.07h.9v.9h-.9zM288.6 580.27h.9v.9h-.9zM294.74 580.35h.9v.9h-.9zM292.37 581.85h.9v.9h-.9zM293.84 578.57h.9v.9h-.9zM298.03 579.14h.9v.9h-.9zM299.42 582.07h.9v.9h-.9zM297.45 581.09h.9v.9h-.9zM284.95 580.13h.9v.9h-.9zM295 581.73h.9v.9h-.9zM286.47 580.21h.9v.9h-.9zM283.63 580.84h.9v.9h-.9zM294.68 580.74h.9v.9h-.9zM305.44 581.91h.9v.9h-.9zM292.81 579.4h.9v.9h-.9zM291.09 582h.9v.9h-.9zM300.39 579.54h.9v.9h-.9zM293.34 579.67h.9v.9h-.9zM298.83 580.87h.9v.9h-.9zM289.2 578.81h.9v.9h-.9zM303.04 577.82h.9v.9h-.9zM308.05 579.47h.9v.9h-.9zM299.99 581.58h.9v.9h-.9zM299.88 582.68h.9v.9h-.9zM290.92 580.47h.9v.9h-.9zM300.87 581.57h.9v.9h-.9zM288.94 579.06h.9v.9h-.9zM284.23 581h.9v.9h-.9zM290.47 577.53h.9v.9h-.9zM290.3 581.12h.9v.9h-.9zM295.38 580.08h.9v.9h-.9zM295.25 581.75h.9v.9h-.9zM285.9 578.94h.9v.9h-.9zM300.81 581.91h.9v.9h-.9zM284.49 579.12h.9v.9h-.9zM304.09 581.94h.9v.9h-.9zM293.13 582.46h.9v.9h-.9zM303.55 583.21h.9v.9h-.9zM284.56 578.03h.9v.9h-.9zM290.63 580.41h.9v.9h-.9zM291.7 580.97h.9v.9h-.9zM304.32 582.61h.9v.9h-.9zM300.95 580.5h.9v.9h-.9zM305.49 581.38h.9v.9h-.9zM295.8 580.47h.9v.9h-.9zM293.97 582.22h.9v.9h-.9zM309.74 580.14h.9v.9h-.9zM286.12 582.45h.9v.9h-.9zM295.79 578.7h.9v.9h-.9zM300.77 580.53h.9v.9h-.9zM287.61 575.67h.9v.9h-.9zM287.28 581.24h.9v.9h-.9zM286.99 582.36h.9v.9h-.9zM309.31 581.12h.9v.9h-.9zM295.69 580.36h.9v.9h-.9zM300.07 580.57h.9v.9h-.9zM301.29 583.22h.9v.9h-.9zM300.02 578.67h.9v.9h-.9zM298.73 580h.9v.9h-.9zM296.29 582.36h.9v.9h-.9zM289.56 580.9h.9v.9h-.9zM304.26 578.91h.9v.9h-.9zM292.81 581.89h.9v.9h-.9zM292.53 582.46h.9v.9h-.9zM287.16 577.65h.9v.9h-.9zM296.74 580.25h.9v.9h-.9zM296.3 582.34h.9v.9h-.9zM301.39 579.84h.9v.9h-.9zM291.46 576.81h.9v.9h-.9zM287.39 580.97h.9v.9h-.9zM295.63 577.68h.9v.9h-.9zM299.56 580.43h.9v.9h-.9zM301.74 579.83h.9v.9h-.9zM300.81 578.4h.9v.9h-.9zM298.97 581.29h.9v.9h-.9zM298.76 583.7h.9v.9h-.9zM299.53 581.48h.9v.9h-.9zM283.2 581.22h.9v.9h-.9zM291.57 578.66h.9v.9h-.9zM287.11 580.24h.9v.9h-.9zM298.15 579.28h.9v.9h-.9zM296.21 581.86h.9v.9h-.9zM291.97 579.12h.9v.9h-.9zM298.82 580.15h.9v.9h-.9zM296.28 580.26h.9v.9h-.9zM300.16 580.49h.9v.9h-.9zM295.69 580.36h.9v.9h-.9zM287.99 576.29h.9v.9h-.9zM297.89 578.14h.9v.9h-.9zM296.88 581.72h.9v.9h-.9zM307.16 579.09h.9v.9h-.9zM295.16 582.31h.9v.9h-.9zM289.49 579.39h.9v.9h-.9zM301.59 582.32h.9v.9h-.9zM287.45 581.76h.9v.9h-.9zM302.01 578.11h.9v.9h-.9zM294.19 580.14h.9v.9h-.9zM298.59 577.2h.9v.9h-.9zM299.01 580.51h.9v.9h-.9zM292.27 576.49h.9v.9h-.9zM298.63 581.31h.9v.9h-.9zM299.31 577.29h.9v.9h-.9zM295.52 583.06h.9v.9h-.9zM283.38 581.74h.9v.9h-.9zM289.07 581.55h.9v.9h-.9zM294.81 577.42h.9v.9h-.9zM286.84 582.92h.9v.9h-.9zM293.36 582.85h.9v.9h-.9zM296.45 582.2h.9v.9h-.9zM291.38 580.92h.9v.9h-.9zM291.54 582.22h.9v.9h-.9zM290.13 582.6h.9v.9h-.9zM305 578.2h.9v.9h-.9zM292.93 581.53h.9v.9h-.9zM306.41 582.68h.9v.9h-.9zM294.71 577.23h.9v.9h-.9zM299.93 579.39h.9v.9h-.9zM295.45 581.27h.9v.9h-.9zM284.34 582.52h.9v.9h-.9zM300.46 581.59h.9v.9h-.9zM298.24 581.18h.9v.9h-.9z" fill="#000"/>
<rect x="281.5" y="500.4" width="96.4" height="90.8" fill="none" stroke="#555" stroke-width="1.2"/>
<rect x="307.4" y="547.2" width="43" height="39.4" fill="none" stroke="#333" stroke-width="1.1"/>
<text x="326.4" y="571.8" font-size="11.2">30%</text>
<path d="M279.7 588.27H281.5M279.7 584.74H281.5M279.7 581.22H281.5M279.7 577.69H281.5M278.9 574.16H281.5M279.7 570.63H281.5M279.7 567.1H281.5M279.7 563.58H281.5M279.7 560.05H281.5M278.9 556.52H281.5M279.7 552.99H281.5M279.7 549.46H281.5M279.7 545.94H281.5M279.7 542.41H281.5M278.9 538.88H281.5M279.7 535.35H281.5M279.7 531.82H281.5M279.7 528.3H281.5M279.7 524.77H281.5M278.9 521.24H281.5M279.7 517.71H281.5M279.7 514.18H281.5M279.7 510.66H281.5M279.7 507.13H281.5M278.9 503.6H281.5M284.95 591.2V594M287.32 591.2V594M289.26 591.2V594M290.9 591.2V594M292.33 591.2V594M293.58 591.2V594M294.7 591.2V595.8M302.08 591.2V594M306.39 591.2V594M309.45 591.2V594M311.82 591.2V594M313.76 591.2V594M315.4 591.2V594M316.83 591.2V594M318.08 591.2V594M319.2 591.2V595.8M326.58 591.2V594M330.89 591.2V594M333.95 591.2V594M336.32 591.2V594M338.26 591.2V594M339.9 591.2V594M341.33 591.2V594M342.58 591.2V594M343.7 591.2V595.8M351.08 591.2V594M355.39 591.2V594M358.45 591.2V594M360.82 591.2V594M362.76 591.2V594M364.4 591.2V594M365.83 591.2V594M367.08 591.2V594M368.2 591.2V595.8M375.58 591.2V594" fill="none" stroke="#222" stroke-width="0.9"/>
<text x="276.1" y="575.06" font-size="5" text-anchor="middle" font-weight="normal" fill="#333" transform="rotate(-90 276.1 575.06)">50</text>
<text x="276.1" y="557.42" font-size="5" text-anchor="middle" font-weight="normal" fill="#333" transform="rotate(-90 276.1 557.42)">100</text>
<text x="276.1" y="539.78" font-size="5" text-anchor="middle" font-weight="normal" fill="#333" transform="rotate(-90 276.1 539.78)">150</text>
<text x="276.1" y="522.14" font-size="5" text-anchor="middle" font-weight="normal" fill="#333" transform="rotate(-90 276.1 522.14)">200</text>
<text x="276.1" y="504.5" font-size="5" text-anchor="middle" font-weight="normal" fill="#333" transform="rotate(-90 276.1 504.5)">250</text>
<text x="293.5" y="602.5" font-size="5.6" text-anchor="middle" font-weight="normal" fill="#222">10</text>
<text x="296.2" y="598.8" font-size="3.6" font-weight="normal" fill="#222">2</text>
<text x="318" y="602.5" font-size="5.6" text-anchor="middle" font-weight="normal" fill="#222">10</text>
<text x="320.7" y="598.8" font-size="3.6" font-weight="normal" fill="#222">3</text>
<text x="342.5" y="602.5" font-size="5.6" text-anchor="middle" font-weight="normal" fill="#222">10</text>
<text x="345.2" y="598.8" font-size="3.6" font-weight="normal" fill="#222">4</text>
<text x="367" y="602.5" font-size="5.6" text-anchor="middle" font-weight="normal" fill="#222">10</text>
<text x="369.7" y="598.8" font-size="3.6" font-weight="normal" fill="#222">5</text>
<path d="M405.3 569.69h.9v.9h-.9zM405.79 569.89h.9v.9h-.9zM407.38 564.39h.9v.9h-.9zM409.48 570.29h.9v.9h-.9zM407.93 562.33h.9v.9h-.9zM419.69 578.28h.9v.9h-.9zM421.41 574.03h.9v.9h-.9zM414.47 568.06h.9v.9h-.9zM417.49 560.2h.9v.9h-.9zM408.62 569.9h.9v.9h-.9zM408.45 554.38h.9v.9h-.9zM409 562.6h.9v.9h-.9zM403.5 572.88h.9v.9h-.9zM420.65 567.56h.9v.9h-.9zM398.41 564.98h.9v.9h-.9zM408.04 556.24h.9v.9h-.9zM403.81 568.11h.9v.9h-.9zM404.01 571.07h.9v.9h-.9zM396.81 573.17h.9v.9h-.9zM402.88 567.91h.9v.9h-.9zM410.07 561.6h.9v.9h-.9zM420.31 549.01h.9v.9h-.9zM411.85 573.01h.9v.9h-.9zM407.42 566h.9v.9h-.9zM398.42 566.18h.9v.9h-.9zM411.53 560.72h.9v.9h-.9zM409.99 562.98h.9v.9h-.9zM399.61 565.8h.9v.9h-.9zM402.01 575.24h.9v.9h-.9zM401.96 580.41h.9v.9h-.9zM409.62 566.32h.9v.9h-.9zM402.48 570.83h.9v.9h-.9zM399.54 551.31h.9v.9h-.9zM414.12 545.93h.9v.9h-.9zM421.24 561.3h.9v.9h-.9zM425.61 568.92h.9v.9h-.9zM426.25 552.14h.9v.9h-.9zM405.38 569.16h.9v.9h-.9zM404.21 567.21h.9v.9h-.9zM408.21 573.05h.9v.9h-.9zM424.16 545.22h.9v.9h-.9zM416.11 555.16h.9v.9h-.9zM426.22 551.96h.9v.9h-.9zM401.4 571.55h.9v.9h-.9zM408.08 573.24h.9v.9h-.9zM413.54 558.94h.9v.9h-.9zM393.4 577.88h.9v.9h-.9zM407.64 565.43h.9v.9h-.9zM406.71 563.93h.9v.9h-.9zM402.5 567.03h.9v.9h-.9zM412.32 554.26h.9v.9h-.9zM393.9 571.94h.9v.9h-.9zM418.6 561.16h.9v.9h-.9zM408.14 561.56h.9v.9h-.9zM413.85 565.76h.9v.9h-.9zM404.22 558.97h.9v.9h-.9zM414.26 570.07h.9v.9h-.9zM405.45 570.39h.9v.9h-.9zM411.56 546.54h.9v.9h-.9zM403.92 568.8h.9v.9h-.9zM422.5 570.3h.9v.9h-.9zM397.35 575.18h.9v.9h-.9zM407 574.58h.9v.9h-.9zM395.72 550.41h.9v.9h-.9zM393.68 572.25h.9v.9h-.9zM421.79 568.89h.9v.9h-.9zM411.57 565.38h.9v.9h-.9zM411.78 556.44h.9v.9h-.9zM422.25 574.31h.9v.9h-.9zM419.53 565.67h.9v.9h-.9zM418.31 576.04h.9v.9h-.9zM435.19 577.06h.9v.9h-.9zM402.26 558.65h.9v.9h-.9zM418.63 571.33h.9v.9h-.9zM415.39 567h.9v.9h-.9zM401.63 567.88h.9v.9h-.9zM395.07 569.23h.9v.9h-.9zM432.88 573.58h.9v.9h-.9zM401.16 557.96h.9v.9h-.9zM434.22 572.83h.9v.9h-.9zM404.59 572.14h.9v.9h-.9zM406.51 556.11h.9v.9h-.9zM411.28 571.45h.9v.9h-.9zM422.98 554.2h.9v.9h-.9zM424.83 564.11h.9v.9h-.9zM419.94 571.72h.9v.9h-.9zM418.28 557.71h.9v.9h-.9zM415.07 550.44h.9v.9h-.9zM426.7 570.33h.9v.9h-.9zM414.95 567.36h.9v.9h-.9zM416.28 568.48h.9v.9h-.9zM400.4 563.04h.9v.9h-.9zM408.17 570.18h.9v.9h-.9zM432.61 550.59h.9v.9h-.9zM431.32 562.33h.9v.9h-.9zM405.51 565.69h.9v.9h-.9zM432.2 555.92h.9v.9h-.9zM406.05 571.84h.9v.9h-.9zM419.61 570.33h.9v.9h-.9zM411.09 576.15h.9v.9h-.9zM399.93 581.88h.9v.9h-.9zM404.88 570.23h.9v.9h-.9zM400.47 560.52h.9v.9h-.9zM420.04 572.09h.9v.9h-.9zM408 574.41h.9v.9h-.9zM442.8 542.59h.9v.9h-.9zM392.41 576.46h.9v.9h-.9zM401.47 566.48h.9v.9h-.9zM425.52 549.94h.9v.9h-.9zM416.67 563.55h.9v.9h-.9zM424.93 569.8h.9v.9h-.9zM402.3 562.29h.9v.9h-.9zM410.44 583.13h.9v.9h-.9zM410.89 561.43h.9v.9h-.9zM405.85 574.82h.9v.9h-.9zM418.99 568.02h.9v.9h-.9zM411.03 563.33h.9v.9h-.9zM425.41 564.57h.9v.9h-.9zM412.82 553.34h.9v.9h-.9zM407.89 568.34h.9v.9h-.9zM409.14 567.08h.9v.9h-.9zM420.11 573.53h.9v.9h-.9zM418.01 560.92h.9v.9h-.9zM404.71 566.6h.9v.9h-.9zM393.58 552.53h.9v.9h-.9zM413.33 566.66h.9v.9h-.9zM410.79 578.19h.9v.9h-.9zM407.55 553.81h.9v.9h-.9zM416.79 580.35h.9v.9h-.9zM394.81 567.01h.9v.9h-.9zM419.84 567.01h.9v.9h-.9zM405.34 576.09h.9v.9h-.9zM392.39 566.16h.9v.9h-.9zM403.3 565.87h.9v.9h-.9zM397.05 568.32h.9v.9h-.9zM422.62 570.97h.9v.9h-.9zM396.71 561.57h.9v.9h-.9zM402.17 552.08h.9v.9h-.9zM417.48 571.49h.9v.9h-.9zM408.12 581.03h.9v.9h-.9zM417.31 560.89h.9v.9h-.9zM410.36 565.27h.9v.9h-.9zM409.86 579.47h.9v.9h-.9zM422.92 557.19h.9v.9h-.9zM430.07 550.95h.9v.9h-.9zM416.98 578.1h.9v.9h-.9zM411.4 571.62h.9v.9h-.9zM403.26 581.02h.9v.9h-.9zM407.91 561.5h.9v.9h-.9zM394.71 556.7h.9v.9h-.9zM414.98 566.99h.9v.9h-.9zM427.74 572.82h.9v.9h-.9zM413.42 559.02h.9v.9h-.9zM415.57 552.67h.9v.9h-.9zM402.23 580.19h.9v.9h-.9zM412.8 555.39h.9v.9h-.9zM403.49 565.39h.9v.9h-.9zM413.23 568.63h.9v.9h-.9zM418.38 537.66h.9v.9h-.9zM417.44 548.39h.9v.9h-.9zM405.34 567.99h.9v.9h-.9zM420.76 560.64h.9v.9h-.9zM396.37 558.65h.9v.9h-.9zM397.34 561.69h.9v.9h-.9zM402.74 577.77h.9v.9h-.9zM415.8 565.18h.9v.9h-.9zM413.15 582.18h.9v.9h-.9zM407.09 555.73h.9v.9h-.9zM410.29 554.7h.9v.9h-.9zM412.35 575.26h.9v.9h-.9zM406.31 575.82h.9v.9h-.9zM406.41 572.49h.9v.9h-.9zM418.35 574.72h.9v.9h-.9zM419.81 571.57h.9v.9h-.9zM417.18 575.81h.9v.9h-.9zM415.07 572.48h.9v.9h-.9zM412.99 566.19h.9v.9h-.9zM410.44 561.46h.9v.9h-.9zM405.52 579.09h.9v.9h-.9zM407.42 544.77h.9v.9h-.9zM404.7 565.68h.9v.9h-.9zM422.71 569.82h.9v.9h-.9zM415.41 561.57h.9v.9h-.9zM404.28 551.33h.9v.9h-.9zM416.56 567.11h.9v.9h-.9zM402.84 567.45h.9v.9h-.9zM421.43 575.97h.9v.9h-.9zM418.24 578.14h.9v.9h-.9zM412.6 566.92h.9v.9h-.9zM410.08 571.61h.9v.9h-.9zM392.73 569.66h.9v.9h-.9zM410.47 558.31h.9v.9h-.9zM404.4 578.19h.9v.9h-.9zM406.12 565.99h.9v.9h-.9zM425.29 557.46h.9v.9h-.9zM409.69 562.79h.9v.9h-.9zM404.84 565.17h.9v.9h-.9zM415.7 564.26h.9v.9h-.9zM419.68 574.12h.9v.9h-.9zM399.19 567.45h.9v.9h-.9zM408.27 554.31h.9v.9h-.9zM391.98 576.72h.9v.9h-.9zM413.11 578.81h.9v.9h-.9zM426.04 574.42h.9v.9h-.9zM413.85 579.34h.9v.9h-.9zM408.78 563.06h.9v.9h-.9zM420.05 573.24h.9v.9h-.9zM404.86 562.88h.9v.9h-.9zM406.28 562.09h.9v.9h-.9zM404.04 561.86h.9v.9h-.9zM411.35 567.29h.9v.9h-.9zM418.12 542.63h.9v.9h-.9zM411.48 583.15h.9v.9h-.9zM410.6 561.13h.9v.9h-.9zM430.32 561.88h.9v.9h-.9zM417.07 569.19h.9v.9h-.9zM408.61 557.17h.9v.9h-.9zM411.71 568.84h.9v.9h-.9zM428.53 552.15h.9v.9h-.9zM394.43 572.28h.9v.9h-.9zM394.9 539.3h.9v.9h-.9zM406.72 577.95h.9v.9h-.9zM425.11 558.3h.9v.9h-.9zM401.09 565.24h.9v.9h-.9zM426.32 564.96h.9v.9h-.9zM417.96 565.23h.9v.9h-.9zM399.21 569.38h.9v.9h-.9zM391.73 576.82h.9v.9h-.9zM393.74 568.19h.9v.9h-.9zM414.17 559.6h.9v.9h-.9zM429.72 566.79h.9v.9h-.9zM414.49 552.54h.9v.9h-.9zM404.93 569.06h.9v.9h-.9zM417.61 572.54h.9v.9h-.9zM395.85 552.4h.9v.9h-.9zM398.69 577.71h.9v.9h-.9zM392.26 554.82h.9v.9h-.9zM411.25 566.3h.9v.9h-.9zM409.33 558.75h.9v.9h-.9zM413.46 565.68h.9v.9h-.9zM408.08 568.96h.9v.9h-.9zM407.66 564.93h.9v.9h-.9zM421.39 573.64h.9v.9h-.9zM410.76 568.09h.9v.9h-.9zM423.76 553.8h.9v.9h-.9zM392.63 556.41h.9v.9h-.9zM412.22 568.71h.9v.9h-.9zM406.46 559.37h.9v.9h-.9zM395.17 559.82h.9v.9h-.9zM401.66 566.44h.9v.9h-.9zM419.33 563.88h.9v.9h-.9zM398.53 570.83h.9v.9h-.9zM422.19 569.78h.9v.9h-.9zM405.41 563h.9v.9h-.9zM406.71 556.57h.9v.9h-.9zM419.2 563.71h.9v.9h-.9zM429.36 578.46h.9v.9h-.9zM405.14 559.13h.9v.9h-.9zM392.06 566.8h.9v.9h-.9zM413.87 563.21h.9v.9h-.9zM408.79 571.27h.9v.9h-.9zM402 566.22h.9v.9h-.9zM407.26 581.38h.9v.9h-.9zM416.65 565.77h.9v.9h-.9zM399.59 565.35h.9v.9h-.9zM401.88 563.25h.9v.9h-.9zM413.45 574.57h.9v.9h-.9zM420.1 561.12h.9v.9h-.9zM411.81 566.44h.9v.9h-.9zM420.14 575.49h.9v.9h-.9zM412.41 571.8h.9v.9h-.9zM408.42 566.36h.9v.9h-.9zM412.66 555.16h.9v.9h-.9zM406.11 574.81h.9v.9h-.9zM417.05 568.62h.9v.9h-.9zM415.45 559.18h.9v.9h-.9zM425.02 546.9h.9v.9h-.9zM406.5 559.47h.9v.9h-.9zM405.33 568.94h.9v.9h-.9zM411.09 576.2h.9v.9h-.9zM429.03 571.75h.9v.9h-.9zM400.66 566.96h.9v.9h-.9zM402.23 559.22h.9v.9h-.9zM405.92 575.96h.9v.9h-.9zM401.99 570h.9v.9h-.9zM402.44 575.26h.9v.9h-.9zM421.56 553.02h.9v.9h-.9zM417.37 558.51h.9v.9h-.9zM413.32 565.98h.9v.9h-.9zM418.48 554.73h.9v.9h-.9zM429.04 570.21h.9v.9h-.9zM403.55 579.06h.9v.9h-.9zM423.59 571.94h.9v.9h-.9zM404.96 559.14h.9v.9h-.9zM401.07 582.38h.9v.9h-.9zM410.58 566.65h.9v.9h-.9zM406.36 578.67h.9v.9h-.9zM406.41 575.16h.9v.9h-.9zM392.17 559.34h.9v.9h-.9zM413.32 557.68h.9v.9h-.9zM429.16 547.16h.9v.9h-.9zM413.88 572.04h.9v.9h-.9zM414.46 566.29h.9v.9h-.9zM412.7 560.93h.9v.9h-.9zM409.81 577.52h.9v.9h-.9zM423.61 561.5h.9v.9h-.9zM429.25 552.49h.9v.9h-.9zM404.95 566.15h.9v.9h-.9zM407.4 572.77h.9v.9h-.9zM408.85 572.64h.9v.9h-.9zM401.86 551.7h.9v.9h-.9zM428.21 569.43h.9v.9h-.9zM413.96 555.77h.9v.9h-.9zM414.57 566.47h.9v.9h-.9zM414.87 568.13h.9v.9h-.9zM420.49 580.44h.9v.9h-.9zM406.48 563.29h.9v.9h-.9zM417.29 552.95h.9v.9h-.9zM402.93 563.44h.9v.9h-.9zM407.33 564.9h.9v.9h-.9zM398.21 572.19h.9v.9h-.9zM405.47 555.49h.9v.9h-.9zM413.4 581.7h.9v.9h-.9zM395.15 566.68h.9v.9h-.9zM431.71 565.05h.9v.9h-.9zM402.93 582.41h.9v.9h-.9zM412.31 575.92h.9v.9h-.9zM426.46 573.19h.9v.9h-.9zM395.01 556.01h.9v.9h-.9zM407.79 561.06h.9v.9h-.9zM408.35 548.81h.9v.9h-.9zM393.87 573.87h.9v.9h-.9zM408.06 571.03h.9v.9h-.9zM406.14 566.8h.9v.9h-.9zM420.45 554.06h.9v.9h-.9zM405.51 570.43h.9v.9h-.9zM405.79 566.48h.9v.9h-.9zM412.11 549.14h.9v.9h-.9zM417.48 571.55h.9v.9h-.9zM400.29 565.18h.9v.9h-.9zM409.08 564.43h.9v.9h-.9zM410.47 552.25h.9v.9h-.9zM410.62 571.01h.9v.9h-.9zM413.87 571.3h.9v.9h-.9zM404.34 568.32h.9v.9h-.9zM419.64 567.74h.9v.9h-.9zM412.2 567.6h.9v.9h-.9zM415.32 554.59h.9v.9h-.9zM409.44 575.21h.9v.9h-.9zM401.02 572.47h.9v.9h-.9zM405.42 562.91h.9v.9h-.9zM398.81 558.22h.9v.9h-.9zM421.73 552.92h.9v.9h-.9zM411.41 553.81h.9v.9h-.9zM430.17 573.81h.9v.9h-.9zM402.08 555.98h.9v.9h-.9zM407.24 570.27h.9v.9h-.9zM426.61 581.08h.9v.9h-.9zM400.21 569.29h.9v.9h-.9zM419.24 560.11h.9v.9h-.9zM405.27 575.95h.9v.9h-.9zM396.2 567.36h.9v.9h-.9zM409.28 564.2h.9v.9h-.9zM410.23 551.24h.9v.9h-.9zM418.21 562.6h.9v.9h-.9zM424.15 559.18h.9v.9h-.9zM407.42 578.68h.9v.9h-.9zM402.74 563.63h.9v.9h-.9zM398.33 560.1h.9v.9h-.9zM402.74 569.51h.9v.9h-.9zM412.54 563.44h.9v.9h-.9zM396.37 569.34h.9v.9h-.9zM416.13 566.5h.9v.9h-.9zM423.71 562.6h.9v.9h-.9zM418.4 569.62h.9v.9h-.9zM423.17 582.76h.9v.9h-.9zM398.39 549.47h.9v.9h-.9zM420.28 570.08h.9v.9h-.9zM413.44 562.72h.9v.9h-.9zM402.53 578.66h.9v.9h-.9zM414.7 561.79h.9v.9h-.9zM410.47 569.86h.9v.9h-.9zM396.97 560.9h.9v.9h-.9zM415.07 568.39h.9v.9h-.9zM396.26 570.03h.9v.9h-.9zM429.83 572.99h.9v.9h-.9zM396.85 562.55h.9v.9h-.9zM403.83 559.48h.9v.9h-.9zM401.77 561.4h.9v.9h-.9zM409.12 555.02h.9v.9h-.9zM419.19 570.17h.9v.9h-.9zM429.42 575.14h.9v.9h-.9zM419.56 572.04h.9v.9h-.9zM408.92 556.66h.9v.9h-.9zM416.65 567.98h.9v.9h-.9zM403.52 570.99h.9v.9h-.9zM413.28 560.81h.9v.9h-.9zM424.44 562.37h.9v.9h-.9zM411.27 577.37h.9v.9h-.9zM404.83 564.05h.9v.9h-.9zM414.55 563.89h.9v.9h-.9zM405.02 556.19h.9v.9h-.9zM412.3 563.39h.9v.9h-.9zM418.25 576.86h.9v.9h-.9zM409.81 574.55h.9v.9h-.9zM403.01 582.56h.9v.9h-.9zM404.51 565.86h.9v.9h-.9zM406.35 562.32h.9v.9h-.9zM417.94 567.07h.9v.9h-.9zM401.21 574.55h.9v.9h-.9zM410.4 572.66h.9v.9h-.9zM412.14 562.7h.9v.9h-.9zM392.09 564.23h.9v.9h-.9zM401.21 578.79h.9v.9h-.9zM407.87 581.33h.9v.9h-.9zM432.88 578.34h.9v.9h-.9zM433.74 558.16h.9v.9h-.9zM405.06 557.09h.9v.9h-.9zM396.7 554.74h.9v.9h-.9zM418.88 559.46h.9v.9h-.9zM406.78 572.67h.9v.9h-.9zM405.95 582.07h.9v.9h-.9zM421.87 574.03h.9v.9h-.9zM426.6 572.27h.9v.9h-.9zM411.91 577.74h.9v.9h-.9zM420.42 554.14h.9v.9h-.9zM421.04 576.98h.9v.9h-.9zM411.67 580.74h.9v.9h-.9zM398.4 569.19h.9v.9h-.9zM403.18 559.14h.9v.9h-.9zM412.77 553.29h.9v.9h-.9zM409.81 573.84h.9v.9h-.9zM402.62 556.73h.9v.9h-.9zM415.63 576h.9v.9h-.9zM419.12 562.04h.9v.9h-.9zM406.05 580.37h.9v.9h-.9zM418.76 570.36h.9v.9h-.9zM412.35 565.67h.9v.9h-.9zM416.11 573.98h.9v.9h-.9zM410.51 569.82h.9v.9h-.9zM396.32 565.89h.9v.9h-.9zM425.81 569.33h.9v.9h-.9zM396.5 562.81h.9v.9h-.9zM410.95 581.1h.9v.9h-.9zM431.26 566.89h.9v.9h-.9zM408.57 568.5h.9v.9h-.9zM399.11 579.92h.9v.9h-.9zM398.21 574.27h.9v.9h-.9zM405.54 557.31h.9v.9h-.9zM413.34 583.29h.9v.9h-.9zM398.07 569.34h.9v.9h-.9zM403.2 577.54h.9v.9h-.9zM395.49 555.05h.9v.9h-.9zM406.26 554.88h.9v.9h-.9zM419.75 553h.9v.9h-.9zM410.67 562.52h.9v.9h-.9zM419.83 562.19h.9v.9h-.9zM408.15 583.48h.9v.9h-.9zM416.45 579.32h.9v.9h-.9zM424.12 572.05h.9v.9h-.9zM413.14 551.21h.9v.9h-.9zM392.97 563.35h.9v.9h-.9zM412.9 577.97h.9v.9h-.9zM402.43 564.16h.9v.9h-.9zM430.63 556.61h.9v.9h-.9zM408.2 566.27h.9v.9h-.9zM403.14 581.63h.9v.9h-.9zM394.27 564.48h.9v.9h-.9zM393.44 560.54h.9v.9h-.9zM425.42 548.05h.9v.9h-.9zM393.45 567.38h.9v.9h-.9zM413.6 560.27h.9v.9h-.9zM414.39 565.41h.9v.9h-.9zM406.18 568.18h.9v.9h-.9zM422.17 556h.9v.9h-.9zM418.53 569.98h.9v.9h-.9zM407.94 560.28h.9v.9h-.9zM413.4 574.97h.9v.9h-.9zM400.75 574.36h.9v.9h-.9zM410.36 575.27h.9v.9h-.9zM412.7 565.39h.9v.9h-.9zM412.12 573.48h.9v.9h-.9zM395.66 567.39h.9v.9h-.9zM405.28 567.51h.9v.9h-.9zM419.88 576.2h.9v.9h-.9zM424.17 576.25h.9v.9h-.9zM407.92 559.65h.9v.9h-.9zM435.6 560.8h.9v.9h-.9zM406.48 571.37h.9v.9h-.9zM401.91 568.74h.9v.9h-.9zM412.1 562.16h.9v.9h-.9zM399.78 567.56h.9v.9h-.9zM414.26 557.82h.9v.9h-.9zM411.37 568.27h.9v.9h-.9zM401.23 571.27h.9v.9h-.9zM396.48 575.98h.9v.9h-.9zM402.99 577.08h.9v.9h-.9zM411.02 567.83h.9v.9h-.9zM396.76 574.52h.9v.9h-.9zM414.34 569.2h.9v.9h-.9zM410.31 573.86h.9v.9h-.9zM414.57 571.09h.9v.9h-.9zM418.67 565.82h.9v.9h-.9zM426.03 552.75h.9v.9h-.9zM393.72 572.83h.9v.9h-.9zM409.81 552.78h.9v.9h-.9zM398.09 560.4h.9v.9h-.9zM422.58 573.5h.9v.9h-.9zM393.61 554.36h.9v.9h-.9zM411.37 555.45h.9v.9h-.9zM403.93 561.69h.9v.9h-.9zM410.51 572.84h.9v.9h-.9zM403.05 562.28h.9v.9h-.9zM412.7 582.87h.9v.9h-.9zM414.12 563.81h.9v.9h-.9zM419.3 565.98h.9v.9h-.9zM396.44 573.57h.9v.9h-.9zM426.27 556.54h.9v.9h-.9zM417.62 555.53h.9v.9h-.9zM409.19 566.15h.9v.9h-.9zM406.57 566.19h.9v.9h-.9zM416.76 562.43h.9v.9h-.9zM407.77 564.33h.9v.9h-.9zM412.73 561.06h.9v.9h-.9zM417.82 570.16h.9v.9h-.9zM404.16 554.97h.9v.9h-.9zM407.4 576.99h.9v.9h-.9zM416.35 567.36h.9v.9h-.9zM430.1 582.14h.9v.9h-.9zM415.21 580.62h.9v.9h-.9zM407.54 563.77h.9v.9h-.9zM412.3 549.14h.9v.9h-.9zM410.35 562.42h.9v.9h-.9zM423.44 572.68h.9v.9h-.9zM425.51 562.91h.9v.9h-.9zM424.71 568.67h.9v.9h-.9zM415.3 571.13h.9v.9h-.9zM397.5 575.99h.9v.9h-.9zM405.58 573.38h.9v.9h-.9zM409.58 557.81h.9v.9h-.9zM406.99 570.03h.9v.9h-.9zM422.08 568.14h.9v.9h-.9zM406.47 581.11h.9v.9h-.9zM410.46 578.41h.9v.9h-.9zM396.57 548.07h.9v.9h-.9zM417.67 576.02h.9v.9h-.9zM408.47 565.6h.9v.9h-.9zM414.65 572.26h.9v.9h-.9zM409.34 567.41h.9v.9h-.9zM412.41 577.56h.9v.9h-.9zM417.15 542.32h.9v.9h-.9zM413.6 564.29h.9v.9h-.9zM420.77 574.14h.9v.9h-.9zM404.86 566.37h.9v.9h-.9zM399.24 568.37h.9v.9h-.9zM402.96 579.09h.9v.9h-.9zM422.9 563.76h.9v.9h-.9zM401.3 579.68h.9v.9h-.9zM396.71 563.84h.9v.9h-.9zM406.31 569.56h.9v.9h-.9zM410.6 558.41h.9v.9h-.9zM418.76 570.83h.9v.9h-.9zM413.32 582.4h.9v.9h-.9zM428.75 569.66h.9v.9h-.9zM406.03 564.56h.9v.9h-.9zM408.92 556.86h.9v.9h-.9zM403.11 562.25h.9v.9h-.9zM415.27 574.33h.9v.9h-.9zM403.96 556.83h.9v.9h-.9zM409.79 550.26h.9v.9h-.9zM407.75 569.1h.9v.9h-.9zM413.97 563.01h.9v.9h-.9zM414.25 574.42h.9v.9h-.9zM406.6 557.06h.9v.9h-.9zM404.97 570h.9v.9h-.9zM412.82 550.89h.9v.9h-.9zM395.19 551.65h.9v.9h-.9zM427.97 571.26h.9v.9h-.9zM411.83 555.76h.9v.9h-.9zM416.18 543.4h.9v.9h-.9zM426.04 570.89h.9v.9h-.9zM409.59 569.64h.9v.9h-.9zM418.99 547.97h.9v.9h-.9zM412.85 554.82h.9v.9h-.9zM405.98 565.13h.9v.9h-.9zM405.82 559.98h.9v.9h-.9zM411.76 563.27h.9v.9h-.9zM412.69 574.37h.9v.9h-.9zM401.54 565.27h.9v.9h-.9zM401.53 575h.9v.9h-.9zM417.28 577.01h.9v.9h-.9zM420.59 568.3h.9v.9h-.9zM400.13 559.83h.9v.9h-.9zM422.08 568.36h.9v.9h-.9zM418 561.57h.9v.9h-.9zM419.79 551.87h.9v.9h-.9zM403.17 568.49h.9v.9h-.9zM420.49 576.46h.9v.9h-.9zM418.53 578.94h.9v.9h-.9zM416.97 575.33h.9v.9h-.9zM401.35 555.47h.9v.9h-.9zM404.97 579.34h.9v.9h-.9zM423.48 556.73h.9v.9h-.9zM407.27 567.87h.9v.9h-.9zM415.78 570.34h.9v.9h-.9zM424.79 569.65h.9v.9h-.9zM407.9 564.75h.9v.9h-.9zM420.85 564.7h.9v.9h-.9zM415.28 563.14h.9v.9h-.9zM398.44 546.53h.9v.9h-.9zM407.14 559.43h.9v.9h-.9zM418.1 563.52h.9v.9h-.9zM400.81 574.14h.9v.9h-.9zM405.54 567.85h.9v.9h-.9zM402.36 581.83h.9v.9h-.9zM412.91 564.91h.9v.9h-.9zM409.1 547.11h.9v.9h-.9zM422.51 567.18h.9v.9h-.9zM421.59 559.06h.9v.9h-.9zM424.38 560.82h.9v.9h-.9zM405.07 567.34h.9v.9h-.9zM408.46 568.21h.9v.9h-.9zM411.54 565.65h.9v.9h-.9zM414.37 562.93h.9v.9h-.9zM423.23 573.7h.9v.9h-.9zM398.73 562.03h.9v.9h-.9zM406.81 576.28h.9v.9h-.9zM401.53 563.79h.9v.9h-.9zM417.85 576.03h.9v.9h-.9zM408.96 565.14h.9v.9h-.9zM400.35 578.41h.9v.9h-.9zM394.48 560.71h.9v.9h-.9zM406.93 571.35h.9v.9h-.9zM403.9 569.21h.9v.9h-.9zM404.73 571.25h.9v.9h-.9zM408.72 557.79h.9v.9h-.9zM394.62 557.62h.9v.9h-.9zM409.57 574.09h.9v.9h-.9zM421.14 576.46h.9v.9h-.9zM430.46 576.71h.9v.9h-.9zM427.87 574.78h.9v.9h-.9zM413.2 550.56h.9v.9h-.9zM419.65 565.8h.9v.9h-.9zM406.18 554.31h.9v.9h-.9zM422.55 567.05h.9v.9h-.9zM405.75 559.57h.9v.9h-.9zM409.14 571.4h.9v.9h-.9zM416.01 568.2h.9v.9h-.9zM412.17 567.75h.9v.9h-.9zM405.83 578.2h.9v.9h-.9zM408.66 561.58h.9v.9h-.9zM427.12 558.07h.9v.9h-.9zM405.51 568.26h.9v.9h-.9zM408.28 566.3h.9v.9h-.9zM419.58 576.82h.9v.9h-.9zM398.3 557.22h.9v.9h-.9zM416.78 557.42h.9v.9h-.9zM398.09 575.13h.9v.9h-.9zM415.02 570.81h.9v.9h-.9zM423.98 577.12h.9v.9h-.9zM405.42 562.61h.9v.9h-.9zM414.16 563.09h.9v.9h-.9zM412.61 575.57h.9v.9h-.9zM412.61 553.59h.9v.9h-.9zM426.38 566.51h.9v.9h-.9zM413.48 551.39h.9v.9h-.9zM409.63 554.78h.9v.9h-.9zM425.77 562.55h.9v.9h-.9zM396.27 565.94h.9v.9h-.9zM400.8 567.73h.9v.9h-.9zM400.67 550.61h.9v.9h-.9zM408.11 564.24h.9v.9h-.9zM402.05 573.68h.9v.9h-.9zM418.38 566.21h.9v.9h-.9zM409.16 570.6h.9v.9h-.9zM419.14 568.85h.9v.9h-.9zM398.85 573.25h.9v.9h-.9zM433.62 573.25h.9v.9h-.9zM413.21 561.73h.9v.9h-.9zM394.78 572.02h.9v.9h-.9zM415.75 571.43h.9v.9h-.9zM411.54 579.42h.9v.9h-.9zM408.92 549.07h.9v.9h-.9zM408.6 568.78h.9v.9h-.9zM417.75 572.56h.9v.9h-.9zM416.93 571.54h.9v.9h-.9zM412.96 555.95h.9v.9h-.9zM406.84 576.85h.9v.9h-.9zM426.28 541.61h.9v.9h-.9zM408.55 562.95h.9v.9h-.9zM418.51 548.29h.9v.9h-.9zM404.4 568.91h.9v.9h-.9zM401.98 550.52h.9v.9h-.9zM428.49 564.71h.9v.9h-.9zM410.63 573.02h.9v.9h-.9zM428.87 560.33h.9v.9h-.9zM408.48 563.88h.9v.9h-.9zM419.43 576.09h.9v.9h-.9zM425.71 562.9h.9v.9h-.9zM397.94 561.04h.9v.9h-.9zM399.51 571.2h.9v.9h-.9zM424.69 565.97h.9v.9h-.9zM408.61 567.49h.9v.9h-.9zM403.7 570.43h.9v.9h-.9zM407.43 568.62h.9v.9h-.9zM401.85 572.21h.9v.9h-.9zM413.27 558.83h.9v.9h-.9zM409.24 553.72h.9v.9h-.9zM395.85 556.44h.9v.9h-.9zM413.94 563.31h.9v.9h-.9zM409.46 569.73h.9v.9h-.9zM407.1 565.35h.9v.9h-.9zM401.76 572.93h.9v.9h-.9zM398.52 566.19h.9v.9h-.9zM413.79 562.44h.9v.9h-.9zM431.09 569.59h.9v.9h-.9zM413.94 551.04h.9v.9h-.9zM414.06 555.55h.9v.9h-.9zM415.45 570.65h.9v.9h-.9zM408.66 561.71h.9v.9h-.9zM401.8 560.97h.9v.9h-.9zM425.27 559.39h.9v.9h-.9zM406.85 571.03h.9v.9h-.9zM396.34 563.07h.9v.9h-.9zM421.19 569.48h.9v.9h-.9zM415.45 573.96h.9v.9h-.9zM409.56 544.43h.9v.9h-.9zM417.42 572.51h.9v.9h-.9zM423.96 555.96h.9v.9h-.9zM419.27 580.99h.9v.9h-.9zM408.72 564.46h.9v.9h-.9zM399.82 573.22h.9v.9h-.9zM412.26 572.41h.9v.9h-.9zM409.25 567.49h.9v.9h-.9zM403.88 577.37h.9v.9h-.9zM408.43 579.03h.9v.9h-.9zM418.76 560h.9v.9h-.9zM398.7 577.01h.9v.9h-.9zM413.8 563.63h.9v.9h-.9zM420.23 547.69h.9v.9h-.9zM415.56 563.68h.9v.9h-.9zM417.17 561.53h.9v.9h-.9zM405.14 573.61h.9v.9h-.9zM413.56 553.3h.9v.9h-.9zM415.1 573.8h.9v.9h-.9zM393.48 557.95h.9v.9h-.9zM398.51 557.67h.9v.9h-.9zM399.85 557.98h.9v.9h-.9zM407.31 579.73h.9v.9h-.9zM405.81 576.17h.9v.9h-.9zM420.1 563.11h.9v.9h-.9zM413.78 576.59h.9v.9h-.9zM412.12 582.56h.9v.9h-.9zM413.72 582.26h.9v.9h-.9zM399.9 569.32h.9v.9h-.9zM404.3 563.2h.9v.9h-.9zM407.61 572.03h.9v.9h-.9zM395.4 550.67h.9v.9h-.9zM417.34 569.97h.9v.9h-.9zM419.24 575.06h.9v.9h-.9zM412.96 562.09h.9v.9h-.9zM414.77 558.1h.9v.9h-.9zM396.79 563.88h.9v.9h-.9zM432 557.82h.9v.9h-.9zM423.12 565.36h.9v.9h-.9zM426.92 562.29h.9v.9h-.9zM398.06 560.85h.9v.9h-.9zM407.85 572.42h.9v.9h-.9zM402.63 569.02h.9v.9h-.9zM433.22 567.28h.9v.9h-.9zM402.26 566.94h.9v.9h-.9zM406.45 569.63h.9v.9h-.9zM401.84 564.16h.9v.9h-.9zM417.05 567.11h.9v.9h-.9zM401.44 570.44h.9v.9h-.9zM400.71 574.59h.9v.9h-.9zM404.1 579.39h.9v.9h-.9zM410.82 546.16h.9v.9h-.9zM398.46 573.42h.9v.9h-.9zM417.21 576.71h.9v.9h-.9zM414.77 562.62h.9v.9h-.9zM411.04 567.53h.9v.9h-.9zM409.88 576.71h.9v.9h-.9zM400.49 564.08h.9v.9h-.9zM422.85 565.76h.9v.9h-.9zM415.24 561.91h.9v.9h-.9zM410.32 579.45h.9v.9h-.9zM425.68 567.43h.9v.9h-.9zM403.42 581.4h.9v.9h-.9zM420.19 565.76h.9v.9h-.9zM409.11 566.53h.9v.9h-.9zM400.29 563.11h.9v.9h-.9zM412.91 550.8h.9v.9h-.9zM401.71 538.58h.9v.9h-.9zM419.06 568.13h.9v.9h-.9zM393.25 552.75h.9v.9h-.9zM402.71 582.75h.9v.9h-.9zM414.51 556.33h.9v.9h-.9zM404.67 551.28h.9v.9h-.9zM400.18 550.46h.9v.9h-.9zM427.64 573.73h.9v.9h-.9zM422.63 571.34h.9v.9h-.9zM402.26 576.46h.9v.9h-.9zM414.49 560.12h.9v.9h-.9zM393.29 566.64h.9v.9h-.9zM397.56 564.19h.9v.9h-.9zM419.29 572.21h.9v.9h-.9zM411.11 564.41h.9v.9h-.9zM411.63 557.75h.9v.9h-.9zM417.42 582.21h.9v.9h-.9zM403.63 552.07h.9v.9h-.9zM409.82 550.38h.9v.9h-.9zM429.47 565.95h.9v.9h-.9zM413.87 568.7h.9v.9h-.9zM404.62 559.76h.9v.9h-.9zM410.45 577.34h.9v.9h-.9zM424.69 564.11h.9v.9h-.9zM404.57 563.09h.9v.9h-.9zM413.38 557.36h.9v.9h-.9zM419.26 564.5h.9v.9h-.9zM402.02 573.69h.9v.9h-.9zM424 558.32h.9v.9h-.9zM407.82 565.26h.9v.9h-.9zM414.97 574.52h.9v.9h-.9zM408.46 557.95h.9v.9h-.9zM403.65 575.38h.9v.9h-.9zM428.21 568.68h.9v.9h-.9zM421.22 559.83h.9v.9h-.9zM396.99 558h.9v.9h-.9zM439.43 579.02h.9v.9h-.9zM399.7 559.39h.9v.9h-.9zM405.97 554.36h.9v.9h-.9zM415.57 556.28h.9v.9h-.9zM407.28 572.54h.9v.9h-.9zM407.17 576.43h.9v.9h-.9zM404.42 578.26h.9v.9h-.9zM403 561.14h.9v.9h-.9zM394.97 570.12h.9v.9h-.9zM416.58 566.96h.9v.9h-.9zM424.12 573.11h.9v.9h-.9zM413.19 550.81h.9v.9h-.9zM407.9 570.34h.9v.9h-.9zM397.68 581.13h.9v.9h-.9zM412.97 581.46h.9v.9h-.9zM423.52 568.22h.9v.9h-.9zM406.19 582.66h.9v.9h-.9zM399.81 564.75h.9v.9h-.9zM421.03 566.06h.9v.9h-.9zM401.5 555.61h.9v.9h-.9zM404.72 579.2h.9v.9h-.9zM437.34 557.29h.9v.9h-.9zM397.4 572.95h.9v.9h-.9zM407.92 562.72h.9v.9h-.9zM408.19 579.92h.9v.9h-.9zM417.49 559.45h.9v.9h-.9zM414.84 554.88h.9v.9h-.9zM421.04 546.95h.9v.9h-.9zM405.3 575.73h.9v.9h-.9zM427.01 571.87h.9v.9h-.9zM419.09 573.13h.9v.9h-.9zM413.6 561.29h.9v.9h-.9zM411.26 560.31h.9v.9h-.9zM401.03 570.63h.9v.9h-.9zM406.31 568.61h.9v.9h-.9zM420.51 559.83h.9v.9h-.9zM419.73 555.77h.9v.9h-.9zM418.58 570.81h.9v.9h-.9zM414.73 573.97h.9v.9h-.9zM411.88 549.8h.9v.9h-.9zM426.75 568.98h.9v.9h-.9zM411.81 567.39h.9v.9h-.9zM413.67 564.59h.9v.9h-.9zM396.12 555.26h.9v.9h-.9zM427.67 572.88h.9v.9h-.9zM398.82 582.64h.9v.9h-.9zM412.59 555.93h.9v.9h-.9zM401.84 560.36h.9v.9h-.9zM421.28 574.26h.9v.9h-.9zM407.16 564.48h.9v.9h-.9zM402.53 567.95h.9v.9h-.9zM399.21 575.53h.9v.9h-.9zM408.73 576.15h.9v.9h-.9zM425.6 569.84h.9v.9h-.9zM418.61 536.78h.9v.9h-.9zM400.3 569.31h.9v.9h-.9zM400.85 577.47h.9v.9h-.9zM406.41 565.08h.9v.9h-.9zM404.6 579.65h.9v.9h-.9zM414.94 566.31h.9v.9h-.9zM418.58 564.22h.9v.9h-.9zM401.43 566.4h.9v.9h-.9zM407.37 577.55h.9v.9h-.9zM402.73 556.28h.9v.9h-.9zM423.47 575.68h.9v.9h-.9zM406.05 568.09h.9v.9h-.9zM393.33 583.24h.9v.9h-.9zM404.27 545.53h.9v.9h-.9zM408.45 571.86h.9v.9h-.9zM416.43 569.25h.9v.9h-.9zM412.24 565.21h.9v.9h-.9zM408.95 564.54h.9v.9h-.9zM435.02 567.57h.9v.9h-.9zM411.23 546.5h.9v.9h-.9zM409.39 572.43h.9v.9h-.9zM416.95 551.5h.9v.9h-.9zM409.09 582.53h.9v.9h-.9zM407.82 564.93h.9v.9h-.9zM415.84 565.97h.9v.9h-.9zM404.39 560.49h.9v.9h-.9zM392.28 568.67h.9v.9h-.9zM415.57 572.84h.9v.9h-.9zM402.13 571.01h.9v.9h-.9zM399.16 550.72h.9v.9h-.9zM416.24 554.29h.9v.9h-.9zM395.65 563.68h.9v.9h-.9zM406.43 582.17h.9v.9h-.9zM411.64 550.65h.9v.9h-.9zM396.77 569.56h.9v.9h-.9zM395.88 571.17h.9v.9h-.9zM420.41 572.75h.9v.9h-.9zM392.63 577.95h.9v.9h-.9zM427.29 577.1h.9v.9h-.9zM433.82 558.87h.9v.9h-.9zM408.48 575.32h.9v.9h-.9zM420.01 581.69h.9v.9h-.9zM408.27 560.03h.9v.9h-.9zM407.76 559.76h.9v.9h-.9zM410.76 563.52h.9v.9h-.9zM417.66 559.93h.9v.9h-.9zM419.18 559.17h.9v.9h-.9zM422.27 578.97h.9v.9h-.9zM409.55 564.72h.9v.9h-.9zM413.36 571.33h.9v.9h-.9zM399.43 573.89h.9v.9h-.9zM397.65 568.86h.9v.9h-.9zM401.32 543.43h.9v.9h-.9zM420.83 561.13h.9v.9h-.9zM406.5 570.19h.9v.9h-.9zM413.44 572.7h.9v.9h-.9zM396.74 570h.9v.9h-.9zM419.66 574.36h.9v.9h-.9zM424.78 552.44h.9v.9h-.9zM422.1 552.54h.9v.9h-.9zM398.42 568.89h.9v.9h-.9zM433.63 578.84h.9v.9h-.9zM408.5 567.78h.9v.9h-.9zM420.98 554.67h.9v.9h-.9zM406.28 561.02h.9v.9h-.9zM422.04 572.48h.9v.9h-.9zM413.06 579.06h.9v.9h-.9zM407.33 557.82h.9v.9h-.9zM419.13 548.68h.9v.9h-.9zM412.7 566.72h.9v.9h-.9zM393.55 568.83h.9v.9h-.9zM401.09 580.51h.9v.9h-.9zM417.7 575.88h.9v.9h-.9zM419.9 566.88h.9v.9h-.9zM421.18 573.02h.9v.9h-.9zM415.65 577.59h.9v.9h-.9zM430.04 550.15h.9v.9h-.9zM405.24 552.35h.9v.9h-.9zM397.23 573.82h.9v.9h-.9zM400.05 564.85h.9v.9h-.9zM404.19 576.64h.9v.9h-.9zM426.27 568.09h.9v.9h-.9zM402.92 561.24h.9v.9h-.9zM408 550.75h.9v.9h-.9zM397.58 568.85h.9v.9h-.9zM412.42 568.68h.9v.9h-.9zM413.38 559.62h.9v.9h-.9zM408.81 556.9h.9v.9h-.9zM412.35 546.98h.9v.9h-.9zM415.23 569.29h.9v.9h-.9zM405.76 568.44h.9v.9h-.9zM420.33 567.58h.9v.9h-.9zM429.48 578.95h.9v.9h-.9zM411.13 564.97h.9v.9h-.9zM398.03 556.26h.9v.9h-.9zM412 568.16h.9v.9h-.9zM414.19 570.89h.9v.9h-.9zM407.67 556.12h.9v.9h-.9zM405.37 566h.9v.9h-.9zM417.19 573.79h.9v.9h-.9zM399.73 565.88h.9v.9h-.9zM417.65 552.8h.9v.9h-.9zM407.54 552.54h.9v.9h-.9zM403.04 578.42h.9v.9h-.9zM399.61 576.03h.9v.9h-.9zM408.37 551.1h.9v.9h-.9zM411.99 569.23h.9v.9h-.9zM407.29 578.97h.9v.9h-.9zM406.87 574.29h.9v.9h-.9zM410.03 561.72h.9v.9h-.9zM413.91 577.52h.9v.9h-.9zM424.53 578.79h.9v.9h-.9zM392.98 553.75h.9v.9h-.9zM407.4 578.78h.9v.9h-.9zM398.08 574.78h.9v.9h-.9zM420.47 564.27h.9v.9h-.9zM423.73 574.4h.9v.9h-.9zM408.52 581.38h.9v.9h-.9zM431.5 566.18h.9v.9h-.9zM412.65 570.32h.9v.9h-.9zM418.35 563.01h.9v.9h-.9zM407.86 578.81h.9v.9h-.9zM408.9 580.21h.9v.9h-.9zM425.03 555.62h.9v.9h-.9zM417.13 564.66h.9v.9h-.9zM404.13 575.7h.9v.9h-.9zM420.83 572.29h.9v.9h-.9zM421.24 583.26h.9v.9h-.9zM413.8 573.25h.9v.9h-.9zM415.1 582.06h.9v.9h-.9zM401.45 566.42h.9v.9h-.9zM398.1 561.58h.9v.9h-.9zM413.77 563.59h.9v.9h-.9zM402.67 564.79h.9v.9h-.9zM411.52 559.89h.9v.9h-.9zM412.22 561.01h.9v.9h-.9zM413.56 573.96h.9v.9h-.9zM429.65 559.72h.9v.9h-.9zM408.94 558.9h.9v.9h-.9zM421.06 557.73h.9v.9h-.9zM393.16 578.01h.9v.9h-.9z" fill="#8a8a8a"/>
<path d="M451.26 564.51h.9v.9h-.9zM426.14 562.1h.9v.9h-.9zM419.17 571.02h.9v.9h-.9zM441.56 553.99h.9v.9h-.9zM436.63 569.3h.9v.9h-.9zM444.06 562.11h.9v.9h-.9zM420.65 566.01h.9v.9h-.9zM432.94 560.06h.9v.9h-.9zM418.92 570.93h.9v.9h-.9zM412.37 549.52h.9v.9h-.9zM427.15 547.12h.9v.9h-.9zM433.37 544.04h.9v.9h-.9zM426.39 568.32h.9v.9h-.9zM441.89 553.3h.9v.9h-.9zM431.12 577.6h.9v.9h-.9zM420.21 567.76h.9v.9h-.9zM439.67 576.58h.9v.9h-.9zM427.69 567.59h.9v.9h-.9zM421.17 569.83h.9v.9h-.9zM432.62 557.1h.9v.9h-.9zM452.36 571.05h.9v.9h-.9zM419.99 563.76h.9v.9h-.9zM433.26 550.87h.9v.9h-.9zM419.25 572.24h.9v.9h-.9zM427.62 562.59h.9v.9h-.9zM438.78 560.17h.9v.9h-.9zM413.39 550.01h.9v.9h-.9zM426.8 561.04h.9v.9h-.9zM424.46 552.82h.9v.9h-.9zM410.72 560.36h.9v.9h-.9zM432.56 566.64h.9v.9h-.9zM416.57 556.02h.9v.9h-.9zM429.95 534.52h.9v.9h-.9zM435.34 562.17h.9v.9h-.9zM460.24 562.22h.9v.9h-.9zM427.27 563.4h.9v.9h-.9zM426.03 555.28h.9v.9h-.9zM439.31 567.32h.9v.9h-.9zM431.56 560.14h.9v.9h-.9zM409.24 557.71h.9v.9h-.9zM405.65 555.78h.9v.9h-.9zM431.86 560.16h.9v.9h-.9zM429.09 582.25h.9v.9h-.9zM433.85 575.26h.9v.9h-.9zM425.01 559.34h.9v.9h-.9zM414.24 580.97h.9v.9h-.9zM439.66 562.4h.9v.9h-.9zM432.91 566.27h.9v.9h-.9zM441.95 569.42h.9v.9h-.9zM427.28 550.69h.9v.9h-.9zM403.61 535.21h.9v.9h-.9zM425.8 577.6h.9v.9h-.9zM421.07 560.38h.9v.9h-.9zM434.5 582.57h.9v.9h-.9zM404.6 561.54h.9v.9h-.9zM423.27 573.07h.9v.9h-.9zM424.26 542.36h.9v.9h-.9zM404.45 543.17h.9v.9h-.9zM424.01 550.45h.9v.9h-.9zM412.99 559.5h.9v.9h-.9zM440.35 563.18h.9v.9h-.9zM407.71 563.33h.9v.9h-.9zM427.86 579.3h.9v.9h-.9zM419.86 544.75h.9v.9h-.9zM424.12 549.77h.9v.9h-.9zM430.14 570.92h.9v.9h-.9zM427.37 562.54h.9v.9h-.9zM415.72 546.5h.9v.9h-.9zM431.14 579.99h.9v.9h-.9zM418.02 537.51h.9v.9h-.9zM427.58 566.27h.9v.9h-.9zM419.51 540.39h.9v.9h-.9zM441.79 540.35h.9v.9h-.9zM433.22 573.22h.9v.9h-.9zM441.39 562.44h.9v.9h-.9zM437.54 560.09h.9v.9h-.9z" fill="#666"/>
<path d="M404.77 581.97h.9v.9h-.9zM399.41 581.37h.9v.9h-.9zM398.15 572.43h.9v.9h-.9zM407.96 574.74h.9v.9h-.9zM406.77 574.84h.9v.9h-.9zM413.29 563.71h.9v.9h-.9zM401.38 578.72h.9v.9h-.9zM397.28 571.42h.9v.9h-.9zM417.9 578.08h.9v.9h-.9zM407.7 573.47h.9v.9h-.9zM404.14 569.17h.9v.9h-.9zM400.4 569.35h.9v.9h-.9zM398.29 575.5h.9v.9h-.9zM407.25 568.31h.9v.9h-.9zM405.72 566.61h.9v.9h-.9zM406.99 571.54h.9v.9h-.9zM404.65 574.63h.9v.9h-.9zM411.89 573.37h.9v.9h-.9zM401.58 575.02h.9v.9h-.9zM407.1 575.93h.9v.9h-.9zM410.56 568.32h.9v.9h-.9zM398.71 577.97h.9v.9h-.9zM399.04 577.02h.9v.9h-.9zM419.4 577.33h.9v.9h-.9zM397.26 570.78h.9v.9h-.9zM407.08 571.74h.9v.9h-.9zM408.7 574.15h.9v.9h-.9zM406.77 576.12h.9v.9h-.9zM396.75 581.01h.9v.9h-.9zM397.52 570.42h.9v.9h-.9zM392.25 575.97h.9v.9h-.9zM407.14 571.26h.9v.9h-.9zM398.68 563.54h.9v.9h-.9zM407.98 567.09h.9v.9h-.9zM403.07 575.19h.9v.9h-.9zM404.67 575.76h.9v.9h-.9zM413.8 575.62h.9v.9h-.9zM399.65 574.37h.9v.9h-.9zM403.8 569.39h.9v.9h-.9zM408.49 570.96h.9v.9h-.9zM406.26 576.68h.9v.9h-.9zM416.14 568.4h.9v.9h-.9zM413.47 573.59h.9v.9h-.9zM401.12 575.16h.9v.9h-.9zM401.71 572.06h.9v.9h-.9zM395.86 573.82h.9v.9h-.9zM394.38 580.67h.9v.9h-.9zM407.8 570.99h.9v.9h-.9zM405.21 574.19h.9v.9h-.9zM403.67 575.36h.9v.9h-.9zM404.08 576.12h.9v.9h-.9zM400.71 574.77h.9v.9h-.9zM413.95 567.78h.9v.9h-.9zM400.74 579.28h.9v.9h-.9zM406.72 574.1h.9v.9h-.9zM406.01 571.33h.9v.9h-.9zM402.22 576.78h.9v.9h-.9zM405.97 576.77h.9v.9h-.9zM405.5 580.78h.9v.9h-.9zM410.26 568.77h.9v.9h-.9zM413.47 569.16h.9v.9h-.9zM410.43 568.75h.9v.9h-.9zM406.96 574.1h.9v.9h-.9zM412.65 561.15h.9v.9h-.9zM394.79 580.62h.9v.9h-.9zM409.05 570.29h.9v.9h-.9zM405.56 564.56h.9v.9h-.9zM403.01 570.65h.9v.9h-.9zM409.76 574.09h.9v.9h-.9zM404.2 579.8h.9v.9h-.9zM401.58 578.24h.9v.9h-.9zM403.8 576.27h.9v.9h-.9zM403.47 581.2h.9v.9h-.9zM409.29 568.62h.9v.9h-.9zM402.67 581.04h.9v.9h-.9zM412.9 565.99h.9v.9h-.9zM405.94 576.75h.9v.9h-.9zM417.76 574.8h.9v.9h-.9zM403.98 578.69h.9v.9h-.9zM405.48 569.21h.9v.9h-.9zM404.82 572.61h.9v.9h-.9zM403.91 574.37h.9v.9h-.9zM406.96 569.36h.9v.9h-.9zM408.66 564.94h.9v.9h-.9zM408.62 575.59h.9v.9h-.9zM407.32 565.63h.9v.9h-.9zM402.38 575.29h.9v.9h-.9zM407.54 577.14h.9v.9h-.9zM396.86 575.38h.9v.9h-.9zM410.84 566.69h.9v.9h-.9zM398.55 572.56h.9v.9h-.9zM403.61 572.68h.9v.9h-.9zM411.76 573.97h.9v.9h-.9zM394.83 579.72h.9v.9h-.9zM405.57 578.08h.9v.9h-.9zM404.91 580.94h.9v.9h-.9zM405.83 571.13h.9v.9h-.9zM398.63 579.75h.9v.9h-.9zM404.32 564.92h.9v.9h-.9zM409.57 579.64h.9v.9h-.9zM393.86 578.8h.9v.9h-.9zM408.57 582.02h.9v.9h-.9zM411.62 568.75h.9v.9h-.9zM407.5 577.15h.9v.9h-.9zM397.16 582.7h.9v.9h-.9zM407.71 577.65h.9v.9h-.9zM400.31 578.97h.9v.9h-.9zM404.81 572.28h.9v.9h-.9zM405.24 575.55h.9v.9h-.9zM396.92 575.34h.9v.9h-.9zM407.01 565.14h.9v.9h-.9zM408.66 573.16h.9v.9h-.9zM399.49 569.17h.9v.9h-.9zM398.47 579.61h.9v.9h-.9zM400.37 575.68h.9v.9h-.9zM402.69 578.9h.9v.9h-.9zM411.89 577.3h.9v.9h-.9zM408.61 578.68h.9v.9h-.9zM414.21 567.68h.9v.9h-.9zM406.48 570.25h.9v.9h-.9zM405.3 572.68h.9v.9h-.9zM405.68 577.41h.9v.9h-.9zM398.07 561.79h.9v.9h-.9zM406.52 579.05h.9v.9h-.9zM402.93 581.84h.9v.9h-.9zM417.16 571.98h.9v.9h-.9zM403.91 576.74h.9v.9h-.9zM409.15 565.42h.9v.9h-.9zM407.73 562.83h.9v.9h-.9zM399.31 576.1h.9v.9h-.9zM406.73 567.44h.9v.9h-.9zM405.3 580.47h.9v.9h-.9zM396.22 578.42h.9v.9h-.9zM411.87 565.7h.9v.9h-.9zM411.45 575.01h.9v.9h-.9zM403.38 574.32h.9v.9h-.9zM404.84 574.12h.9v.9h-.9zM403.94 570.3h.9v.9h-.9zM409.92 581.76h.9v.9h-.9zM404 581.39h.9v.9h-.9zM400.9 568.08h.9v.9h-.9zM408.46 574.51h.9v.9h-.9zM407.48 568.51h.9v.9h-.9zM402.92 579.54h.9v.9h-.9zM413.61 573.64h.9v.9h-.9zM407.1 559.96h.9v.9h-.9zM401.55 581.28h.9v.9h-.9zM415.27 567.75h.9v.9h-.9zM398.04 573.05h.9v.9h-.9zM401.8 572.6h.9v.9h-.9zM399.85 578.25h.9v.9h-.9zM406.64 566.83h.9v.9h-.9zM408.08 574.43h.9v.9h-.9zM399.45 575.59h.9v.9h-.9zM406.8 569.85h.9v.9h-.9zM405.69 571.45h.9v.9h-.9zM393.97 568.84h.9v.9h-.9zM401.67 571.81h.9v.9h-.9zM407.34 582.04h.9v.9h-.9zM402.68 574.93h.9v.9h-.9zM403.8 565.45h.9v.9h-.9zM404.62 572.93h.9v.9h-.9zM400.53 578.63h.9v.9h-.9zM407.14 571.94h.9v.9h-.9zM400.28 576.37h.9v.9h-.9zM400.67 570.34h.9v.9h-.9zM402.31 579.32h.9v.9h-.9zM403.45 573.39h.9v.9h-.9zM403.18 577.35h.9v.9h-.9zM404.1 578.38h.9v.9h-.9zM404.14 578.47h.9v.9h-.9zM403.36 570.4h.9v.9h-.9zM407.16 572.5h.9v.9h-.9zM402.51 581.84h.9v.9h-.9zM402.29 570.42h.9v.9h-.9zM403.13 581.73h.9v.9h-.9zM397.78 581.31h.9v.9h-.9zM407.69 571.4h.9v.9h-.9zM403.12 570.56h.9v.9h-.9zM394.09 571.19h.9v.9h-.9zM397.43 567.1h.9v.9h-.9zM402.55 577.48h.9v.9h-.9zM399.89 573.2h.9v.9h-.9zM400.77 573.7h.9v.9h-.9zM407 579.87h.9v.9h-.9zM408.08 575.32h.9v.9h-.9zM412.23 576.34h.9v.9h-.9zM407.45 576.45h.9v.9h-.9zM409.23 567.87h.9v.9h-.9zM400.11 575.35h.9v.9h-.9zM395.36 574.37h.9v.9h-.9zM403.05 575.99h.9v.9h-.9zM408.52 580.09h.9v.9h-.9zM392.2 577.48h.9v.9h-.9zM406.63 581.12h.9v.9h-.9zM401.49 576.8h.9v.9h-.9zM404 569.3h.9v.9h-.9zM406.1 578.77h.9v.9h-.9zM402.9 574.86h.9v.9h-.9zM410.62 571.97h.9v.9h-.9zM403.1 575.87h.9v.9h-.9zM407.14 575.7h.9v.9h-.9zM411.36 575.1h.9v.9h-.9zM398.39 566.83h.9v.9h-.9zM404.26 582.81h.9v.9h-.9zM404.97 571.75h.9v.9h-.9zM406.22 576.51h.9v.9h-.9zM411.39 566.19h.9v.9h-.9zM408.85 574.25h.9v.9h-.9zM409.13 578.83h.9v.9h-.9zM392.88 581.01h.9v.9h-.9zM407.4 569.49h.9v.9h-.9zM404.07 579.63h.9v.9h-.9zM396.73 580.1h.9v.9h-.9zM408.98 582.33h.9v.9h-.9zM400.25 571.68h.9v.9h-.9zM410.07 571.59h.9v.9h-.9zM406.91 560.15h.9v.9h-.9zM417.48 562.06h.9v.9h-.9zM395.95 578.27h.9v.9h-.9zM407.38 569.36h.9v.9h-.9zM392.95 579.07h.9v.9h-.9zM405.94 569.06h.9v.9h-.9zM405.42 570.92h.9v.9h-.9zM399.27 578.69h.9v.9h-.9zM404.72 574.25h.9v.9h-.9zM398.1 571.61h.9v.9h-.9zM403.23 571.21h.9v.9h-.9zM406.53 573.88h.9v.9h-.9zM403.51 573.39h.9v.9h-.9zM406.88 578.89h.9v.9h-.9zM398.94 580.07h.9v.9h-.9zM409.49 577.25h.9v.9h-.9zM401.74 575.68h.9v.9h-.9zM415.93 565.07h.9v.9h-.9zM409.15 571.87h.9v.9h-.9zM413.55 573.11h.9v.9h-.9zM409.22 569.97h.9v.9h-.9zM402.04 582.88h.9v.9h-.9zM397.91 572.59h.9v.9h-.9zM403.35 567.81h.9v.9h-.9zM408.03 567.05h.9v.9h-.9zM404.94 572.76h.9v.9h-.9zM392.95 577h.9v.9h-.9zM396.44 575.72h.9v.9h-.9zM392.26 573.57h.9v.9h-.9zM409.05 574.66h.9v.9h-.9zM410.67 581.36h.9v.9h-.9zM408.61 572.31h.9v.9h-.9zM404.06 577.41h.9v.9h-.9zM398.06 569.86h.9v.9h-.9zM404.64 583.11h.9v.9h-.9zM398.73 576.45h.9v.9h-.9zM400.91 578.47h.9v.9h-.9zM406.55 573.51h.9v.9h-.9zM409.53 571.81h.9v.9h-.9zM404.09 575.76h.9v.9h-.9zM408.87 569.03h.9v.9h-.9zM402.19 570.58h.9v.9h-.9zM407.75 575.55h.9v.9h-.9zM405.74 567.05h.9v.9h-.9zM400.3 567.33h.9v.9h-.9zM397.4 571.54h.9v.9h-.9zM406.24 576.32h.9v.9h-.9zM395.08 579.1h.9v.9h-.9zM406.59 581.93h.9v.9h-.9zM409.25 565.36h.9v.9h-.9zM407.29 574.76h.9v.9h-.9zM406.42 569.89h.9v.9h-.9zM412.34 573.11h.9v.9h-.9zM401.58 565.17h.9v.9h-.9zM403.32 567.12h.9v.9h-.9zM404.32 579.18h.9v.9h-.9zM410.61 576.76h.9v.9h-.9zM402.39 568.32h.9v.9h-.9zM403.8 574.82h.9v.9h-.9zM403.9 572.58h.9v.9h-.9zM405.43 566.36h.9v.9h-.9zM410.34 566.8h.9v.9h-.9zM405.32 569.31h.9v.9h-.9zM411.93 569.75h.9v.9h-.9zM399.74 572.98h.9v.9h-.9zM409.38 566.69h.9v.9h-.9zM397.72 572.53h.9v.9h-.9zM408.73 557.88h.9v.9h-.9zM403.74 579.05h.9v.9h-.9zM403.99 564.41h.9v.9h-.9zM402.38 577.65h.9v.9h-.9zM398.71 573.56h.9v.9h-.9zM401.14 576.7h.9v.9h-.9zM417.95 571.96h.9v.9h-.9zM403.11 572.09h.9v.9h-.9zM407.36 577.51h.9v.9h-.9zM405.86 575.6h.9v.9h-.9zM405.64 567.48h.9v.9h-.9zM408.88 577.79h.9v.9h-.9zM400.48 565.56h.9v.9h-.9zM401.45 575.55h.9v.9h-.9zM412.27 573.75h.9v.9h-.9zM405.03 575.19h.9v.9h-.9zM396.52 573.61h.9v.9h-.9zM405.43 577.49h.9v.9h-.9zM409.07 581.85h.9v.9h-.9zM401 572.4h.9v.9h-.9zM402.27 577.03h.9v.9h-.9zM415.45 572.94h.9v.9h-.9zM405.56 568.99h.9v.9h-.9zM404.24 581.54h.9v.9h-.9zM409.12 570.55h.9v.9h-.9zM406.04 568.96h.9v.9h-.9zM408.1 572.56h.9v.9h-.9zM408.94 579.77h.9v.9h-.9zM401.53 578.8h.9v.9h-.9zM407.05 570.77h.9v.9h-.9zM406.19 580.25h.9v.9h-.9zM405.59 578.95h.9v.9h-.9zM406.57 580.3h.9v.9h-.9zM404 572.36h.9v.9h-.9zM408.13 561.27h.9v.9h-.9zM401.93 582.58h.9v.9h-.9zM413.43 569.74h.9v.9h-.9zM400.64 576.81h.9v.9h-.9zM409.62 582.3h.9v.9h-.9zM412.99 568.7h.9v.9h-.9zM409.4 570.42h.9v.9h-.9zM410.56 575.35h.9v.9h-.9zM412.53 572.06h.9v.9h-.9zM409.22 566.42h.9v.9h-.9zM399.5 577.63h.9v.9h-.9zM405.3 578.51h.9v.9h-.9zM417.22 568.35h.9v.9h-.9zM398.34 569.55h.9v.9h-.9zM401.39 580.72h.9v.9h-.9zM406.82 571.99h.9v.9h-.9zM408.41 572.38h.9v.9h-.9zM406.16 573.6h.9v.9h-.9zM397.42 579.61h.9v.9h-.9zM405.31 570.67h.9v.9h-.9zM405.74 569.91h.9v.9h-.9zM404.58 571.99h.9v.9h-.9zM406.59 568.71h.9v.9h-.9zM404.19 571.85h.9v.9h-.9zM399.47 574.53h.9v.9h-.9zM408.56 577.08h.9v.9h-.9zM406.49 572.98h.9v.9h-.9zM409.97 571.46h.9v.9h-.9zM408.46 564.06h.9v.9h-.9zM398.26 571.25h.9v.9h-.9zM410.97 571.36h.9v.9h-.9zM407.3 567.61h.9v.9h-.9zM413.79 581.56h.9v.9h-.9zM404.86 570.36h.9v.9h-.9zM406.22 572.34h.9v.9h-.9zM402.27 561.21h.9v.9h-.9zM406.04 561.94h.9v.9h-.9zM402.04 566.26h.9v.9h-.9zM415.72 565.04h.9v.9h-.9zM402.66 576.26h.9v.9h-.9zM403.09 575.5h.9v.9h-.9zM409.9 569.55h.9v.9h-.9zM407.66 572.65h.9v.9h-.9zM397.66 576.71h.9v.9h-.9zM398.97 580.46h.9v.9h-.9zM404.88 574.77h.9v.9h-.9zM410.3 568.42h.9v.9h-.9zM400.49 582.29h.9v.9h-.9zM408.8 575.41h.9v.9h-.9zM393.96 575.98h.9v.9h-.9zM399.66 571.58h.9v.9h-.9zM395.89 566.76h.9v.9h-.9zM402.46 576.3h.9v.9h-.9zM402.08 573.39h.9v.9h-.9zM405.29 580.91h.9v.9h-.9zM401.67 575.1h.9v.9h-.9zM420 570.85h.9v.9h-.9zM409.38 566.64h.9v.9h-.9zM399.04 572.51h.9v.9h-.9zM421.78 567.33h.9v.9h-.9zM412.65 569.69h.9v.9h-.9zM397.97 565.08h.9v.9h-.9zM405.77 579.26h.9v.9h-.9zM400.49 572.46h.9v.9h-.9zM398.75 571.05h.9v.9h-.9zM410.54 569.85h.9v.9h-.9zM399.09 578.13h.9v.9h-.9zM406.36 573.27h.9v.9h-.9zM416.31 573.26h.9v.9h-.9zM411.33 565.98h.9v.9h-.9zM404.52 580.61h.9v.9h-.9zM409.08 577.88h.9v.9h-.9zM396.69 573.81h.9v.9h-.9zM414.26 579.83h.9v.9h-.9zM412.54 576.6h.9v.9h-.9zM412.34 557.46h.9v.9h-.9zM405.43 577.93h.9v.9h-.9zM411.78 567.31h.9v.9h-.9zM410.85 576.9h.9v.9h-.9zM402.02 582.78h.9v.9h-.9zM412.08 577.2h.9v.9h-.9zM402.33 575.74h.9v.9h-.9zM404.79 582.67h.9v.9h-.9zM418.74 566.61h.9v.9h-.9zM416.24 574.01h.9v.9h-.9zM401.11 570.6h.9v.9h-.9zM413.63 573.85h.9v.9h-.9zM401.19 573.41h.9v.9h-.9zM402.77 573.46h.9v.9h-.9zM415.17 568.19h.9v.9h-.9zM403.15 557.89h.9v.9h-.9zM407.81 578.25h.9v.9h-.9zM416.62 568.26h.9v.9h-.9zM403.28 571.91h.9v.9h-.9zM397.9 575.04h.9v.9h-.9zM400.52 573.35h.9v.9h-.9zM405.84 577.6h.9v.9h-.9zM406.86 576.18h.9v.9h-.9zM407.92 572.66h.9v.9h-.9zM410.47 573.53h.9v.9h-.9zM397.31 572.33h.9v.9h-.9zM413.42 563.57h.9v.9h-.9zM415.03 572.47h.9v.9h-.9zM406.46 580.09h.9v.9h-.9zM406.28 570.95h.9v.9h-.9zM392.5 572.73h.9v.9h-.9zM398.27 578.69h.9v.9h-.9zM405.56 568.57h.9v.9h-.9zM411.7 577.19h.9v.9h-.9zM417.71 572.77h.9v.9h-.9zM397.93 575.56h.9v.9h-.9zM409.35 577.62h.9v.9h-.9zM397.43 577.64h.9v.9h-.9zM408.85 575.09h.9v.9h-.9zM395.68 572.97h.9v.9h-.9zM404.31 572.62h.9v.9h-.9zM410.23 570.66h.9v.9h-.9zM394.45 564.32h.9v.9h-.9zM407.74 568.88h.9v.9h-.9zM404.76 579.61h.9v.9h-.9zM401.99 574.05h.9v.9h-.9zM396.71 568.78h.9v.9h-.9zM408.37 579.23h.9v.9h-.9zM401.24 573.36h.9v.9h-.9zM406.89 570.98h.9v.9h-.9zM405.42 571.47h.9v.9h-.9zM408.45 570.28h.9v.9h-.9zM402.27 566.9h.9v.9h-.9zM400.57 566.55h.9v.9h-.9zM404.2 579.09h.9v.9h-.9zM397.6 570.47h.9v.9h-.9zM400.6 576.9h.9v.9h-.9zM403.26 572.23h.9v.9h-.9zM399.51 573.23h.9v.9h-.9zM402.99 569.72h.9v.9h-.9zM413.12 574.72h.9v.9h-.9zM404.09 575.44h.9v.9h-.9zM418.19 574.43h.9v.9h-.9zM401.93 574.02h.9v.9h-.9zM411.59 574.82h.9v.9h-.9zM403.42 574.42h.9v.9h-.9zM398.57 573.09h.9v.9h-.9zM402.65 572.76h.9v.9h-.9zM412.82 572.31h.9v.9h-.9zM411.68 572.34h.9v.9h-.9zM396.37 581.64h.9v.9h-.9zM401.89 573.56h.9v.9h-.9zM411.34 579.79h.9v.9h-.9zM405.92 580.13h.9v.9h-.9zM402.17 577.53h.9v.9h-.9zM399.79 579.73h.9v.9h-.9zM401.76 577.64h.9v.9h-.9zM398.11 582.46h.9v.9h-.9zM414.37 570.47h.9v.9h-.9zM405.38 568.45h.9v.9h-.9zM403.88 566.16h.9v.9h-.9zM409.15 572.44h.9v.9h-.9zM411.71 572.33h.9v.9h-.9zM403.7 569.45h.9v.9h-.9zM408.66 572.24h.9v.9h-.9zM398.15 567.01h.9v.9h-.9zM410.51 572.01h.9v.9h-.9zM404.61 570.76h.9v.9h-.9zM401.98 574.06h.9v.9h-.9zM406.14 567.07h.9v.9h-.9zM419.24 575.73h.9v.9h-.9zM394.02 575.96h.9v.9h-.9zM411.48 568.95h.9v.9h-.9zM397.17 577.84h.9v.9h-.9zM401.46 574.19h.9v.9h-.9zM414.52 571.8h.9v.9h-.9zM412.67 568.03h.9v.9h-.9zM394.53 573.47h.9v.9h-.9zM402.78 577.52h.9v.9h-.9zM407.56 562.7h.9v.9h-.9zM398.59 572.45h.9v.9h-.9zM400.83 570.94h.9v.9h-.9zM403.11 574.73h.9v.9h-.9zM396.38 570.28h.9v.9h-.9zM399.76 580.81h.9v.9h-.9zM404.02 565.97h.9v.9h-.9zM407.8 577.89h.9v.9h-.9zM395.74 568.89h.9v.9h-.9zM407.59 573.33h.9v.9h-.9zM408.51 581.3h.9v.9h-.9zM408.83 578.05h.9v.9h-.9zM402.22 581.43h.9v.9h-.9zM401 576.05h.9v.9h-.9zM393.41 573.55h.9v.9h-.9zM409.52 567.88h.9v.9h-.9zM402.31 562.71h.9v.9h-.9zM403.02 567.04h.9v.9h-.9zM405.35 570.95h.9v.9h-.9zM401.07 572.51h.9v.9h-.9zM402.63 573.95h.9v.9h-.9zM403.49 579.77h.9v.9h-.9zM411.1 559.28h.9v.9h-.9zM412.72 570.96h.9v.9h-.9zM407.04 568.41h.9v.9h-.9zM408.48 575.86h.9v.9h-.9zM401.78 568.23h.9v.9h-.9zM407.97 575.27h.9v.9h-.9zM399.82 563.31h.9v.9h-.9zM398.63 576.77h.9v.9h-.9zM412.3 567.05h.9v.9h-.9zM401.76 568.45h.9v.9h-.9zM407.03 569h.9v.9h-.9zM414.64 574.77h.9v.9h-.9zM403.89 571.6h.9v.9h-.9zM410.81 570.35h.9v.9h-.9zM402.81 574.45h.9v.9h-.9zM411.06 579.79h.9v.9h-.9zM403.05 567.48h.9v.9h-.9zM399.84 573.56h.9v.9h-.9zM408.7 559.13h.9v.9h-.9zM408.75 574.9h.9v.9h-.9zM406.21 565.56h.9v.9h-.9zM405.61 570.68h.9v.9h-.9zM399.69 577.6h.9v.9h-.9zM412.17 573.11h.9v.9h-.9zM408.36 578.03h.9v.9h-.9zM405.26 571.23h.9v.9h-.9zM413.57 568.65h.9v.9h-.9zM403.37 575.52h.9v.9h-.9zM402.72 568.93h.9v.9h-.9zM411.31 572.19h.9v.9h-.9zM401.15 571.18h.9v.9h-.9zM408.44 577.05h.9v.9h-.9zM406.26 579.2h.9v.9h-.9zM405.04 581.68h.9v.9h-.9zM410.26 566.54h.9v.9h-.9zM404.6 575.23h.9v.9h-.9zM405.04 568.34h.9v.9h-.9zM407.81 572.59h.9v.9h-.9zM396.72 568.37h.9v.9h-.9zM402.95 578.62h.9v.9h-.9zM404.94 574.42h.9v.9h-.9zM410.51 571.27h.9v.9h-.9zM405.25 573.02h.9v.9h-.9zM410.27 569.08h.9v.9h-.9zM407.33 569.27h.9v.9h-.9zM405.65 579.01h.9v.9h-.9zM400.74 576.72h.9v.9h-.9zM405.6 574.5h.9v.9h-.9zM408.12 573.28h.9v.9h-.9zM407.97 582.22h.9v.9h-.9zM401.33 568.56h.9v.9h-.9zM409.37 574.65h.9v.9h-.9zM416.32 568.13h.9v.9h-.9zM409.24 569.83h.9v.9h-.9zM402.49 570.84h.9v.9h-.9zM400.68 569.4h.9v.9h-.9zM403.42 572.91h.9v.9h-.9zM405.52 577.53h.9v.9h-.9zM400.2 573.89h.9v.9h-.9zM400.36 578.58h.9v.9h-.9zM400.14 572.54h.9v.9h-.9zM400.86 579.74h.9v.9h-.9zM398.51 568.78h.9v.9h-.9zM403.05 571.98h.9v.9h-.9zM400.11 580.16h.9v.9h-.9zM402.16 563.24h.9v.9h-.9zM404.11 566.83h.9v.9h-.9zM401.6 571.55h.9v.9h-.9zM400.24 572.18h.9v.9h-.9zM403.02 576.99h.9v.9h-.9zM419.12 567.26h.9v.9h-.9zM402.68 579.68h.9v.9h-.9zM414.57 575.68h.9v.9h-.9zM405.68 579.46h.9v.9h-.9zM402.23 567.64h.9v.9h-.9zM412.59 567.49h.9v.9h-.9zM399.47 575.18h.9v.9h-.9zM400.1 577.81h.9v.9h-.9zM405.63 572.27h.9v.9h-.9zM402.13 581.48h.9v.9h-.9zM412.78 577.83h.9v.9h-.9zM398 583.24h.9v.9h-.9zM405.78 582.09h.9v.9h-.9zM408.13 569.4h.9v.9h-.9zM396.11 571.66h.9v.9h-.9zM411.83 569.87h.9v.9h-.9zM414.25 565.15h.9v.9h-.9zM408.73 572.17h.9v.9h-.9zM397.56 576.79h.9v.9h-.9zM403.01 572.35h.9v.9h-.9zM393.78 570.39h.9v.9h-.9zM401.58 573.32h.9v.9h-.9zM402.96 574.91h.9v.9h-.9zM403.41 580.28h.9v.9h-.9zM408.34 577.97h.9v.9h-.9zM396.77 575.81h.9v.9h-.9zM404.38 576.86h.9v.9h-.9zM401.54 574.84h.9v.9h-.9zM399.79 572.6h.9v.9h-.9zM407.12 570.48h.9v.9h-.9zM400.55 573.57h.9v.9h-.9zM406.96 575.23h.9v.9h-.9zM398.69 572.43h.9v.9h-.9zM398.78 569.45h.9v.9h-.9zM418.2 577.23h.9v.9h-.9zM409.01 571.24h.9v.9h-.9zM409.84 580.52h.9v.9h-.9zM411.91 575.91h.9v.9h-.9zM409.32 577.12h.9v.9h-.9zM407.06 575.02h.9v.9h-.9zM402.94 565.12h.9v.9h-.9zM407.76 576.44h.9v.9h-.9zM405.04 577.39h.9v.9h-.9zM404.29 573.18h.9v.9h-.9zM408.55 564.04h.9v.9h-.9zM412.79 570.04h.9v.9h-.9zM408.11 576.03h.9v.9h-.9zM413.87 580.51h.9v.9h-.9zM397.99 569.84h.9v.9h-.9zM406.01 564.87h.9v.9h-.9zM408.49 572.21h.9v.9h-.9zM400.79 578.59h.9v.9h-.9zM399.94 570.59h.9v.9h-.9zM404.99 577.93h.9v.9h-.9zM403.97 571.89h.9v.9h-.9zM406.11 571.36h.9v.9h-.9zM394.86 580.1h.9v.9h-.9zM407.69 578.65h.9v.9h-.9zM405.71 575.78h.9v.9h-.9zM395.85 568.14h.9v.9h-.9zM394.43 581.5h.9v.9h-.9zM401.18 581.06h.9v.9h-.9zM407.38 570.72h.9v.9h-.9zM404.44 569.49h.9v.9h-.9zM402.52 575.68h.9v.9h-.9zM408.69 570.28h.9v.9h-.9zM396.27 580.96h.9v.9h-.9zM398.87 578.31h.9v.9h-.9zM396.59 570.36h.9v.9h-.9zM393.97 578.9h.9v.9h-.9zM415.24 572.26h.9v.9h-.9zM393.63 574.43h.9v.9h-.9zM406.32 575.12h.9v.9h-.9zM405.76 568.14h.9v.9h-.9zM401.88 572.04h.9v.9h-.9zM398.3 571.53h.9v.9h-.9zM411.5 574.16h.9v.9h-.9zM402.06 572.16h.9v.9h-.9zM409.35 569.73h.9v.9h-.9zM400.46 572.71h.9v.9h-.9zM400.38 578.23h.9v.9h-.9zM404.78 578.74h.9v.9h-.9zM407.88 571.85h.9v.9h-.9zM406.54 562.51h.9v.9h-.9zM398.55 564.13h.9v.9h-.9zM406.69 565.64h.9v.9h-.9zM396.26 577.05h.9v.9h-.9zM408.3 571.81h.9v.9h-.9zM412.86 573.28h.9v.9h-.9zM415.99 575.79h.9v.9h-.9zM416.23 557.77h.9v.9h-.9zM408.99 576.75h.9v.9h-.9zM413.05 575.06h.9v.9h-.9zM407.03 574.76h.9v.9h-.9zM405.93 576.23h.9v.9h-.9zM413.7 563.59h.9v.9h-.9zM402.35 566.47h.9v.9h-.9zM401.56 575.56h.9v.9h-.9zM405.82 575.32h.9v.9h-.9zM408.85 575.01h.9v.9h-.9zM402.97 573.24h.9v.9h-.9zM398.92 572.33h.9v.9h-.9zM404.24 575.58h.9v.9h-.9zM396.03 580.84h.9v.9h-.9zM404.38 565.62h.9v.9h-.9zM403.9 576.66h.9v.9h-.9zM405.3 571.31h.9v.9h-.9zM399.86 575.59h.9v.9h-.9zM405.65 574.91h.9v.9h-.9zM402.64 580.22h.9v.9h-.9zM394.72 575.37h.9v.9h-.9zM395.74 565.22h.9v.9h-.9zM405.73 577.65h.9v.9h-.9zM403.14 576.12h.9v.9h-.9zM403.74 579.63h.9v.9h-.9zM401.45 576.89h.9v.9h-.9zM406.54 565.1h.9v.9h-.9zM411.19 569.34h.9v.9h-.9zM398.44 571.33h.9v.9h-.9zM409.44 570.58h.9v.9h-.9zM409.01 567.92h.9v.9h-.9zM406.14 564.43h.9v.9h-.9zM403.11 580.47h.9v.9h-.9zM401.79 574.99h.9v.9h-.9zM403.45 576.09h.9v.9h-.9zM402.55 568.64h.9v.9h-.9zM402.75 572.22h.9v.9h-.9zM398.96 573.79h.9v.9h-.9zM399.29 572.02h.9v.9h-.9zM406.39 574.35h.9v.9h-.9zM403.34 575.89h.9v.9h-.9zM414.1 573.59h.9v.9h-.9zM405.31 572.97h.9v.9h-.9zM406.5 576.46h.9v.9h-.9zM409.9 574.98h.9v.9h-.9zM401.3 573.6h.9v.9h-.9zM400.43 581.13h.9v.9h-.9zM400.87 566h.9v.9h-.9zM403.4 569.43h.9v.9h-.9zM405.67 574.08h.9v.9h-.9zM399.97 566.58h.9v.9h-.9zM402.76 567.29h.9v.9h-.9zM403.54 574.63h.9v.9h-.9zM402.42 574.77h.9v.9h-.9zM402.36 582.33h.9v.9h-.9zM394.84 569.84h.9v.9h-.9zM410.73 566.17h.9v.9h-.9zM407.97 571.8h.9v.9h-.9zM404.56 566.38h.9v.9h-.9zM402.29 573.2h.9v.9h-.9zM392.85 575.79h.9v.9h-.9zM402.11 562.58h.9v.9h-.9zM405.38 571.58h.9v.9h-.9zM396.23 580.89h.9v.9h-.9zM403.81 567.91h.9v.9h-.9zM399.63 575.92h.9v.9h-.9zM401.46 577.67h.9v.9h-.9zM397.64 576.11h.9v.9h-.9zM406.94 575.7h.9v.9h-.9zM400.02 569.55h.9v.9h-.9zM398.22 575.15h.9v.9h-.9zM402.95 579.88h.9v.9h-.9zM402.7 580.52h.9v.9h-.9zM403.01 578.9h.9v.9h-.9zM409.87 573.99h.9v.9h-.9zM397.58 576.91h.9v.9h-.9zM405.25 571.83h.9v.9h-.9zM403.17 577.25h.9v.9h-.9zM393.16 578.39h.9v.9h-.9zM413.14 568.53h.9v.9h-.9zM411.05 569.98h.9v.9h-.9zM402.78 572.06h.9v.9h-.9zM404.27 569.69h.9v.9h-.9zM401.16 572.98h.9v.9h-.9zM399.4 574.15h.9v.9h-.9zM409.93 568.3h.9v.9h-.9zM405.45 569.51h.9v.9h-.9zM398.14 574.6h.9v.9h-.9zM402.84 578.79h.9v.9h-.9zM408.17 573.29h.9v.9h-.9zM400.87 580.98h.9v.9h-.9zM397.28 571h.9v.9h-.9zM408.3 574.82h.9v.9h-.9zM407.73 571.78h.9v.9h-.9zM408.29 578.65h.9v.9h-.9zM393.97 578.07h.9v.9h-.9zM409.6 567.36h.9v.9h-.9zM399.23 576.28h.9v.9h-.9zM407.71 572.8h.9v.9h-.9zM395.55 576.2h.9v.9h-.9zM403.8 571.72h.9v.9h-.9zM409.9 561.78h.9v.9h-.9zM404.92 570.38h.9v.9h-.9zM407.49 571.33h.9v.9h-.9zM413.66 572.68h.9v.9h-.9zM401.47 565.89h.9v.9h-.9zM402.9 573.53h.9v.9h-.9zM412.85 573.77h.9v.9h-.9zM405.35 568.75h.9v.9h-.9zM405.49 568.46h.9v.9h-.9zM396.78 577.11h.9v.9h-.9zM401.96 567.25h.9v.9h-.9zM410.52 578.43h.9v.9h-.9zM406.79 564.82h.9v.9h-.9zM399.86 569.47h.9v.9h-.9zM409.27 572.02h.9v.9h-.9zM399.83 567.36h.9v.9h-.9zM400.44 575.07h.9v.9h-.9zM403.05 576.24h.9v.9h-.9zM407.21 567.26h.9v.9h-.9zM408.87 572.76h.9v.9h-.9zM413.05 571.17h.9v.9h-.9zM402.47 573.23h.9v.9h-.9zM411.01 574.81h.9v.9h-.9zM410.71 577.45h.9v.9h-.9zM403.93 572.41h.9v.9h-.9zM410.43 566.57h.9v.9h-.9zM406.15 578.11h.9v.9h-.9zM399.62 564.9h.9v.9h-.9zM396.79 580.51h.9v.9h-.9zM417.88 566.51h.9v.9h-.9zM397.39 568.49h.9v.9h-.9zM412.9 575.67h.9v.9h-.9zM408.11 569.16h.9v.9h-.9zM408.04 569.1h.9v.9h-.9zM407.53 569.09h.9v.9h-.9zM397.64 572.46h.9v.9h-.9zM406.71 574.64h.9v.9h-.9zM401.53 578.55h.9v.9h-.9zM395.84 565.24h.9v.9h-.9zM407.72 572.04h.9v.9h-.9zM405.97 560.67h.9v.9h-.9zM410.36 566.66h.9v.9h-.9zM416.94 556.35h.9v.9h-.9zM396.58 563.54h.9v.9h-.9zM404.34 562h.9v.9h-.9zM419.34 567.85h.9v.9h-.9zM415.88 569.92h.9v.9h-.9zM408.39 568.19h.9v.9h-.9zM414.78 568.69h.9v.9h-.9zM411.42 564.14h.9v.9h-.9zM400.62 567.78h.9v.9h-.9zM403.27 569.75h.9v.9h-.9zM416.62 578.07h.9v.9h-.9zM409.45 555.4h.9v.9h-.9zM403.35 554.37h.9v.9h-.9zM409.63 564.83h.9v.9h-.9zM407.73 548.34h.9v.9h-.9zM394.88 545.3h.9v.9h-.9zM417.4 569.09h.9v.9h-.9zM406.93 561.51h.9v.9h-.9zM392.6 561.35h.9v.9h-.9zM403.28 557.24h.9v.9h-.9zM414.31 546.8h.9v.9h-.9zM407.8 571.76h.9v.9h-.9zM412.83 551.4h.9v.9h-.9zM417.64 563.23h.9v.9h-.9zM404.48 567.65h.9v.9h-.9zM414.96 565.73h.9v.9h-.9zM403.92 566.56h.9v.9h-.9zM409.59 582.79h.9v.9h-.9zM406.81 556.51h.9v.9h-.9zM421.59 577.89h.9v.9h-.9zM418.2 556.35h.9v.9h-.9zM402.04 552.53h.9v.9h-.9zM405.69 576.4h.9v.9h-.9zM414.05 565.11h.9v.9h-.9zM408.53 569h.9v.9h-.9zM405.64 555.39h.9v.9h-.9zM401.29 579.33h.9v.9h-.9zM399.37 554.6h.9v.9h-.9zM411.21 561.72h.9v.9h-.9zM404.08 566.07h.9v.9h-.9zM405.72 550.08h.9v.9h-.9zM414.18 566.62h.9v.9h-.9zM420.28 572.2h.9v.9h-.9zM402.26 560.82h.9v.9h-.9zM401.21 545.15h.9v.9h-.9zM412.6 558.72h.9v.9h-.9zM414.59 566.25h.9v.9h-.9zM405.93 579.04h.9v.9h-.9zM399.45 580.23h.9v.9h-.9zM416.01 560.12h.9v.9h-.9zM420.76 568.48h.9v.9h-.9zM409.66 561.21h.9v.9h-.9zM406.52 561.08h.9v.9h-.9zM404.25 571.76h.9v.9h-.9zM413.37 575.74h.9v.9h-.9zM416.43 564.08h.9v.9h-.9zM412.88 562.52h.9v.9h-.9zM411.5 570.29h.9v.9h-.9zM409.97 557.73h.9v.9h-.9zM397.68 579.89h.9v.9h-.9zM400.76 559.3h.9v.9h-.9zM410.06 561.39h.9v.9h-.9zM410.37 576.89h.9v.9h-.9zM394.86 565.59h.9v.9h-.9zM411.75 552.41h.9v.9h-.9zM412.82 577.86h.9v.9h-.9zM407.33 569.01h.9v.9h-.9zM404.71 573.49h.9v.9h-.9zM403.01 564.87h.9v.9h-.9zM401.78 558.44h.9v.9h-.9zM416.13 564.32h.9v.9h-.9zM414.1 550.74h.9v.9h-.9zM397.69 556.83h.9v.9h-.9zM422.04 575.11h.9v.9h-.9zM424.63 560.87h.9v.9h-.9zM411.85 568.06h.9v.9h-.9zM405.02 570.11h.9v.9h-.9zM406.87 569.08h.9v.9h-.9zM393.09 555.58h.9v.9h-.9zM399.24 579.7h.9v.9h-.9zM414.01 556.28h.9v.9h-.9zM411 559.8h.9v.9h-.9zM398.19 556.68h.9v.9h-.9zM430.55 565.63h.9v.9h-.9zM406.37 575.85h.9v.9h-.9zM409.3 555.06h.9v.9h-.9zM413.35 557.32h.9v.9h-.9zM406.62 565.85h.9v.9h-.9zM407.17 559.93h.9v.9h-.9zM404.99 561.93h.9v.9h-.9zM416.3 566.79h.9v.9h-.9zM410.56 564.17h.9v.9h-.9zM393.34 570.05h.9v.9h-.9zM412.47 555.71h.9v.9h-.9zM398.2 559.69h.9v.9h-.9zM396.69 542.9h.9v.9h-.9zM403.93 559.59h.9v.9h-.9zM408.03 575.39h.9v.9h-.9zM399.95 551.1h.9v.9h-.9zM406.25 570.79h.9v.9h-.9zM418.43 573.15h.9v.9h-.9zM408.15 565.25h.9v.9h-.9zM393.49 570.93h.9v.9h-.9zM413.26 564.15h.9v.9h-.9zM404.72 568.48h.9v.9h-.9zM410.55 569.41h.9v.9h-.9zM410.39 551.37h.9v.9h-.9zM402.69 550.24h.9v.9h-.9zM400.84 563.62h.9v.9h-.9zM409.05 558.61h.9v.9h-.9zM420.43 566.65h.9v.9h-.9zM410.91 558.16h.9v.9h-.9zM417.47 562.47h.9v.9h-.9zM400.71 562.99h.9v.9h-.9zM415.95 557.76h.9v.9h-.9zM405.29 572.54h.9v.9h-.9zM404.84 572.65h.9v.9h-.9zM416.69 560.45h.9v.9h-.9zM397.78 554.37h.9v.9h-.9zM417.05 569.69h.9v.9h-.9zM407.67 561.37h.9v.9h-.9zM415.45 560.61h.9v.9h-.9zM428.47 567.63h.9v.9h-.9zM394.44 574.16h.9v.9h-.9zM409.08 564.69h.9v.9h-.9zM405.62 575.34h.9v.9h-.9zM403.21 578.54h.9v.9h-.9zM401.06 572.79h.9v.9h-.9zM395.24 573.29h.9v.9h-.9zM399.37 562.69h.9v.9h-.9zM412.96 558h.9v.9h-.9zM411.22 564.78h.9v.9h-.9zM417.29 572.7h.9v.9h-.9zM408.97 563.13h.9v.9h-.9zM399.95 577.18h.9v.9h-.9zM405.15 553.74h.9v.9h-.9zM400.71 548.2h.9v.9h-.9zM400.14 560.83h.9v.9h-.9zM408.92 572.82h.9v.9h-.9zM413.49 548.8h.9v.9h-.9zM403.2 570.01h.9v.9h-.9zM409.65 564.59h.9v.9h-.9zM400.75 570.94h.9v.9h-.9zM406.27 562.56h.9v.9h-.9zM406.06 562.72h.9v.9h-.9zM409.33 574.36h.9v.9h-.9zM407.51 559.14h.9v.9h-.9zM406 563.37h.9v.9h-.9zM410.8 571.4h.9v.9h-.9zM419.87 572.56h.9v.9h-.9zM393.62 557.3h.9v.9h-.9zM397 567.33h.9v.9h-.9zM425.36 568.73h.9v.9h-.9zM402.5 576.87h.9v.9h-.9zM411.8 557.55h.9v.9h-.9zM399.37 577.64h.9v.9h-.9zM412.89 546.39h.9v.9h-.9zM401 569.63h.9v.9h-.9zM396.25 564.65h.9v.9h-.9zM399.99 550.04h.9v.9h-.9zM402.81 560.01h.9v.9h-.9zM409.07 549.62h.9v.9h-.9zM408.9 561.48h.9v.9h-.9zM394.28 575.28h.9v.9h-.9zM403.33 568.36h.9v.9h-.9zM419.15 568.29h.9v.9h-.9zM414.24 566.55h.9v.9h-.9zM402.27 566.4h.9v.9h-.9zM394.43 568.92h.9v.9h-.9zM413.38 568.48h.9v.9h-.9zM401.5 554.12h.9v.9h-.9zM400.96 562.17h.9v.9h-.9zM395.57 581.53h.9v.9h-.9zM400.44 565.83h.9v.9h-.9zM403.1 565.81h.9v.9h-.9zM406.58 564.34h.9v.9h-.9zM409.93 560.02h.9v.9h-.9zM413.3 566.63h.9v.9h-.9zM406.42 564.86h.9v.9h-.9zM415.16 564.41h.9v.9h-.9zM419.1 565.8h.9v.9h-.9zM408.72 564.73h.9v.9h-.9zM409.15 568.77h.9v.9h-.9zM401.84 571.64h.9v.9h-.9zM427.11 569.44h.9v.9h-.9zM407.7 557.69h.9v.9h-.9zM400.74 557.52h.9v.9h-.9zM408.86 558.66h.9v.9h-.9zM419.47 560.98h.9v.9h-.9zM399.71 556.74h.9v.9h-.9zM406 563.43h.9v.9h-.9zM414.14 558.37h.9v.9h-.9zM409.42 573.04h.9v.9h-.9zM404.51 549.48h.9v.9h-.9zM408.65 573.67h.9v.9h-.9zM409.89 564.77h.9v.9h-.9zM405.28 554.28h.9v.9h-.9zM404.11 566.07h.9v.9h-.9zM407.11 556.8h.9v.9h-.9zM425.79 575.6h.9v.9h-.9zM414.68 570.26h.9v.9h-.9zM403.6 554.42h.9v.9h-.9zM396.66 574.08h.9v.9h-.9zM407.38 578.99h.9v.9h-.9zM410.43 559.91h.9v.9h-.9zM413.75 558.87h.9v.9h-.9zM404.55 569.28h.9v.9h-.9zM407.99 567.19h.9v.9h-.9zM408.46 573.76h.9v.9h-.9zM400.01 547.13h.9v.9h-.9zM399.45 543.5h.9v.9h-.9zM422.16 558.9h.9v.9h-.9zM406.42 567.61h.9v.9h-.9zM400.58 560.31h.9v.9h-.9zM408.78 564.76h.9v.9h-.9zM413.14 562.55h.9v.9h-.9zM401.42 551.9h.9v.9h-.9zM393.34 566.99h.9v.9h-.9zM409.21 561.1h.9v.9h-.9zM416.36 541.07h.9v.9h-.9zM411.83 554.25h.9v.9h-.9zM404.04 562.64h.9v.9h-.9zM400.77 562.19h.9v.9h-.9zM406.72 570.97h.9v.9h-.9zM413.25 556.36h.9v.9h-.9zM410.54 561.11h.9v.9h-.9zM413.8 559.59h.9v.9h-.9zM415.24 556.82h.9v.9h-.9zM402.98 572.12h.9v.9h-.9zM414.81 572.3h.9v.9h-.9zM422.55 573.66h.9v.9h-.9zM406.66 572.89h.9v.9h-.9zM400.14 571.76h.9v.9h-.9zM409.87 563.36h.9v.9h-.9zM400.98 573.97h.9v.9h-.9zM395.51 561.64h.9v.9h-.9zM403.22 557.42h.9v.9h-.9zM401.86 567.18h.9v.9h-.9zM422.36 579.96h.9v.9h-.9zM405.19 560.99h.9v.9h-.9zM411.57 557.32h.9v.9h-.9zM394.91 573.22h.9v.9h-.9zM403.47 578.05h.9v.9h-.9zM409.39 551.89h.9v.9h-.9zM409.04 568.95h.9v.9h-.9zM407.2 552.68h.9v.9h-.9zM394.75 581.06h.9v.9h-.9zM413.09 580.47h.9v.9h-.9zM411.85 564.45h.9v.9h-.9zM409.74 574.71h.9v.9h-.9zM402.51 575.87h.9v.9h-.9zM408.7 566.5h.9v.9h-.9zM410.2 567.44h.9v.9h-.9zM399.38 578.35h.9v.9h-.9zM402.84 562.34h.9v.9h-.9zM411.21 563.84h.9v.9h-.9zM405.91 561.41h.9v.9h-.9zM411.63 558.95h.9v.9h-.9zM394.95 550.39h.9v.9h-.9zM400.35 567.46h.9v.9h-.9zM418.15 569.67h.9v.9h-.9zM401.31 553.01h.9v.9h-.9zM413.29 569.11h.9v.9h-.9zM406.27 570.18h.9v.9h-.9zM411.41 569.16h.9v.9h-.9zM417.28 551.1h.9v.9h-.9zM401.54 559.97h.9v.9h-.9zM398.83 582.07h.9v.9h-.9zM409.56 568.39h.9v.9h-.9zM413.03 562.61h.9v.9h-.9zM413.41 562.88h.9v.9h-.9zM412.7 569.63h.9v.9h-.9zM417.08 551.3h.9v.9h-.9zM399.41 557.98h.9v.9h-.9zM400.16 568.06h.9v.9h-.9zM414.41 561.61h.9v.9h-.9zM415.25 572.52h.9v.9h-.9zM402.06 570.55h.9v.9h-.9zM418.13 560.47h.9v.9h-.9zM409.03 570.18h.9v.9h-.9zM410.84 564.26h.9v.9h-.9zM399.7 578.86h.9v.9h-.9zM413.36 583.48h.9v.9h-.9zM398.83 578.77h.9v.9h-.9zM400.11 578.83h.9v.9h-.9zM406.34 580.94h.9v.9h-.9zM394.28 580.01h.9v.9h-.9zM400.94 578.26h.9v.9h-.9zM401.8 582.95h.9v.9h-.9zM407.14 582.89h.9v.9h-.9zM405.02 580.28h.9v.9h-.9zM404.11 582.85h.9v.9h-.9zM400.14 581.47h.9v.9h-.9zM395.51 580.47h.9v.9h-.9zM396.49 578.35h.9v.9h-.9zM401.22 579h.9v.9h-.9zM401 582.13h.9v.9h-.9zM403.93 581.58h.9v.9h-.9zM412.5 580.86h.9v.9h-.9zM408.48 579.36h.9v.9h-.9zM393.63 579.41h.9v.9h-.9zM396.86 582.22h.9v.9h-.9zM405.1 580.51h.9v.9h-.9zM393.7 580.75h.9v.9h-.9zM397.02 579.73h.9v.9h-.9zM418.46 580.58h.9v.9h-.9zM415.25 579.66h.9v.9h-.9zM419.21 580.38h.9v.9h-.9zM401.22 577.48h.9v.9h-.9zM401.02 578.74h.9v.9h-.9zM405.73 576.29h.9v.9h-.9zM393.13 578.19h.9v.9h-.9zM400.68 582.52h.9v.9h-.9zM397.84 577.91h.9v.9h-.9zM396.41 580.18h.9v.9h-.9zM407.98 580.72h.9v.9h-.9zM409.53 574.87h.9v.9h-.9zM403.44 580.93h.9v.9h-.9zM401.99 580.12h.9v.9h-.9zM394.04 578.51h.9v.9h-.9zM396.71 577.1h.9v.9h-.9zM399.11 581.45h.9v.9h-.9zM396.49 583.13h.9v.9h-.9zM401.38 582.32h.9v.9h-.9zM393.75 580.9h.9v.9h-.9zM402.14 579.74h.9v.9h-.9zM407.25 580.71h.9v.9h-.9zM400.01 580.75h.9v.9h-.9zM396.66 580.52h.9v.9h-.9zM416.44 580.03h.9v.9h-.9zM396.62 578.65h.9v.9h-.9zM407.08 580.99h.9v.9h-.9zM394.89 583.39h.9v.9h-.9zM398.23 580.95h.9v.9h-.9zM398.71 580.8h.9v.9h-.9zM391.8 579.5h.9v.9h-.9zM398.63 580.31h.9v.9h-.9zM396.9 582.56h.9v.9h-.9zM398.28 578.75h.9v.9h-.9zM409.55 580.24h.9v.9h-.9zM407.62 581.57h.9v.9h-.9zM398.04 582.44h.9v.9h-.9zM397.15 575.71h.9v.9h-.9zM396.93 580.08h.9v.9h-.9zM408.7 581.68h.9v.9h-.9zM401.42 583.13h.9v.9h-.9zM400.66 582.95h.9v.9h-.9zM407.37 579.35h.9v.9h-.9zM404.23 582.71h.9v.9h-.9zM401.98 579.65h.9v.9h-.9zM406.13 582.77h.9v.9h-.9zM399.86 581.52h.9v.9h-.9zM400.91 581h.9v.9h-.9zM402.51 579.68h.9v.9h-.9zM405.11 581.21h.9v.9h-.9zM412.09 581.08h.9v.9h-.9zM400.76 578.04h.9v.9h-.9zM415.76 580.02h.9v.9h-.9zM396.4 579.93h.9v.9h-.9zM400 580.28h.9v.9h-.9zM411.84 579.52h.9v.9h-.9zM398.36 579.58h.9v.9h-.9zM404.22 577.2h.9v.9h-.9zM406.95 579.74h.9v.9h-.9zM400.09 579.14h.9v.9h-.9zM405.27 580.33h.9v.9h-.9zM395.94 582.4h.9v.9h-.9zM400.23 580.61h.9v.9h-.9zM393.89 577.71h.9v.9h-.9z" fill="#000"/>
<rect x="390.8" y="501" width="98" height="89" fill="none" stroke="#555" stroke-width="1.2"/>
<rect x="416.8" y="546" width="43.4" height="39.9" fill="none" stroke="#333" stroke-width="1.1"/>
<text x="439.4" y="571.2" font-size="11.2">9%</text>
<path d="M389 587.14H390.8M389 583.69H390.8M389 580.23H390.8M389 576.78H390.8M388.2 573.32H390.8M389 569.86H390.8M389 566.41H390.8M389 562.95H390.8M389 559.5H390.8M388.2 556.04H390.8M389 552.58H390.8M389 549.13H390.8M389 545.67H390.8M389 542.22H390.8M388.2 538.76H390.8M389 535.3H390.8M389 531.85H390.8M389 528.39H390.8M389 524.94H390.8M388.2 521.48H390.8M389 518.02H390.8M389 514.57H390.8M389 511.11H390.8M389 507.66H390.8M388.2 504.2H390.8M394.25 590V592.8M396.62 590V592.8M398.56 590V592.8M400.2 590V592.8M401.63 590V592.8M402.88 590V592.8M404 590V594.6M411.38 590V592.8M415.69 590V592.8M418.75 590V592.8M421.12 590V592.8M423.06 590V592.8M424.7 590V592.8M426.13 590V592.8M427.38 590V592.8M428.5 590V594.6M435.88 590V592.8M440.19 590V592.8M443.25 590V592.8M445.62 590V592.8M447.56 590V592.8M449.2 590V592.8M450.63 590V592.8M451.88 590V592.8M453 590V594.6M460.38 590V592.8M464.69 590V592.8M467.75 590V592.8M470.12 590V592.8M472.06 590V592.8M473.7 590V592.8M475.13 590V592.8M476.38 590V592.8M477.5 590V594.6M484.88 590V592.8" fill="none" stroke="#222" stroke-width="0.9"/>
<text x="385.4" y="574.22" font-size="5" text-anchor="middle" font-weight="normal" fill="#333" transform="rotate(-90 385.4 574.22)">50</text>
<text x="385.4" y="556.94" font-size="5" text-anchor="middle" font-weight="normal" fill="#333" transform="rotate(-90 385.4 556.94)">100</text>
<text x="385.4" y="539.66" font-size="5" text-anchor="middle" font-weight="normal" fill="#333" transform="rotate(-90 385.4 539.66)">150</text>
<text x="385.4" y="522.38" font-size="5" text-anchor="middle" font-weight="normal" fill="#333" transform="rotate(-90 385.4 522.38)">200</text>
<text x="385.4" y="505.1" font-size="5" text-anchor="middle" font-weight="normal" fill="#333" transform="rotate(-90 385.4 505.1)">250</text>
<text x="402.8" y="601.3" font-size="5.6" text-anchor="middle" font-weight="normal" fill="#222">10</text>
<text x="405.5" y="597.6" font-size="3.6" font-weight="normal" fill="#222">2</text>
<text x="427.3" y="601.3" font-size="5.6" text-anchor="middle" font-weight="normal" fill="#222">10</text>
<text x="430" y="597.6" font-size="3.6" font-weight="normal" fill="#222">3</text>
<text x="451.8" y="601.3" font-size="5.6" text-anchor="middle" font-weight="normal" fill="#222">10</text>
<text x="454.5" y="597.6" font-size="3.6" font-weight="normal" fill="#222">4</text>
<text x="476.3" y="601.3" font-size="5.6" text-anchor="middle" font-weight="normal" fill="#222">10</text>
<text x="479" y="597.6" font-size="3.6" font-weight="normal" fill="#222">5</text>
<text x="1.5" y="669" font-size="17">D</text>
<text x="136" y="664.4" font-size="10">IgG</text>
<text x="199.8" y="667.5" font-size="10">ULBP1</text>
<text x="261" y="667" font-size="10">ULBP2</text>
<text x="334.3" y="668" font-size="10">ULBP3</text>
<text x="8" y="724.9" font-size="12">Patient 5</text>
<text x="7.2" y="769.3" font-size="12">Patient 5 +</text>
<text x="7.2" y="783.6" font-size="12">10058-F4</text>
<text x="8" y="838.2" font-size="12">Patient 6</text>
<text x="9.2" y="876" font-size="12">Patient 6 +</text>
<text x="9.2" y="890" font-size="12">10058-F4</text>
<line x1="86.6" y1="891.5" x2="86.6" y2="941.5" stroke="#000" stroke-width="2"/>
<path d="M82.2 896.8L86.6 891.2L91.0 896.8" fill="none" stroke="#000" stroke-width="2"/>
<line x1="85.6" y1="940.5" x2="166.5" y2="940.5" stroke="#000" stroke-width="2"/>
<path d="M160.0 936.2L166.6 940.5L160.0 944.8" fill="none" stroke="#000" stroke-width="2"/>
<text x="82.9" y="917.6" font-size="10.4" text-anchor="middle" transform="rotate(-90 82.9 917.6)">Counts</text>
<text x="129.8" y="950.4" font-size="9.6" text-anchor="middle">FI</text>
<path d="M113.7 739.2L113.7 720.94L114.2 719.71L114.7 714.16L115.2 720.05L115.7 715.88L116.2 713.25L116.7 709.45L117.2 707.6L117.7 702.33L118.2 708.4L118.7 701.84L119.2 707.03L119.7 708.07L120.2 703.01L120.7 704.88L121.2 689.2L121.7 698.51L122.2 692.45L122.7 700.44L123.2 699.22L123.7 698.4L124.2 700.31L124.7 697.9L125.2 699L125.7 689.2L126.2 701.52L126.7 689.2L127.2 704.35L127.7 701.2L128.2 709L128.7 711.46L129.2 703.39L129.7 709.66L130.2 713.88L130.7 712.63L131.2 719.82L131.7 719.23L132.2 725.53L132.7 727.75L133.2 728.44L133.7 729.76L134.2 733.61L134.7 734.93L135.2 733.06L135.7 733.4L136.2 736.32L136.7 736.56L137.2 736.94L137.7 735.56L138.2 737.56L138.7 735.78L139.2 737.95L139.7 738.09L140.2 736.42L140.7 738.27L141.2 736.39L141.7 736.59L142.2 736.73L142.7 736.78L143.2 738.46L143.7 738.51L144.2 738.61L144.7 736.94L145.2 738.7L145.7 738.7L146.2 738.71L146.7 738.72L147.2 737.09L147.7 738.73L148.2 738.77L148.7 737.06L149.2 738.77L149.7 738.73L150.2 738.76L150.7 737.13L151.2 738.76L151.7 738.73L152.2 738.75L152.7 738.77L153.2 738.79L153.7 737.15L154.2 737.13L154.7 738.79L155.2 738.78L155.7 737.27L156.2 737.18L156.7 738.79L157.2 738.8L157.7 738.81L158.2 738.81L158.7 738.81L159.2 738.82L159.7 738.82L160.2 738.83L160.7 738.83L161.2 738.84L161.7 738.84L162.2 738.84L162.7 738.85L163.2 738.85L163.7 738.86L164.2 738.86L164.7 738.86L165.2 738.87L165.7 738.87L166.2 738.88L166.7 738.88L167.2 738.88L167.7 738.89L168.2 738.89L168.7 738.9L169.2 738.9L169.7 738.91L170.2 738.91L170.7 738.91L171.2 738.92L171.7 738.92L172.2 738.93L172.7 738.93L173.2 738.94L173.7 738.94L174.2 738.94L174.7 738.95L175.2 738.95L175.7 738.96L176.2 738.96L176.7 738.96L177.2 738.97L177.7 738.97L178.2 738.98L178.7 738.98L179.2 738.99L179.7 738.99L180.2 738.99L180.7 739L181.2 739.2L181.2 739.2Z" fill="#9c9c9c"/>
<path d="M113.7 739.2L113.7 720.94L114.2 719.71L114.7 721.02L115.2 720.05L115.7 719.91L116.2 713.25L116.7 709.45L117.2 707.6L117.7 707.3L118.2 708.4L118.7 706.84L119.2 707.03L119.7 708.07L120.2 703.01L120.7 704.88L121.2 702.06L121.7 698.51L122.2 700.88L122.7 700.44L123.2 699.22L123.7 698.4L124.2 700.31L124.7 697.9L125.2 699L125.7 698.09L126.2 701.52L126.7 703.08L127.2 704.35L127.7 706.56L128.2 709L128.7 711.46L129.2 713.61L129.7 716.55L130.2 719.12L130.7 721.07L131.2 724.79L131.7 726.3L132.2 729.05L132.7 730.36L133.2 732.16L133.7 732.89L134.2 733.61L134.7 734.93L135.2 735.18L135.7 735.48L136.2 736.32L136.7 736.56L137.2 736.94L137.7 737.29L138.2 737.56L138.7 737.81L139.2 737.95L139.7 738.09L140.2 738.11L140.7 738.27L141.2 738.28L141.7 738.31L142.2 738.37L142.7 738.46L143.2 738.46L143.7 738.51L144.2 738.61L144.7 738.66L145.2 738.7L145.7 738.7L146.2 738.71L146.7 738.72L147.2 738.74L147.7 738.73L148.2 738.77L148.7 738.72L149.2 738.77L149.7 738.73L150.2 738.76L150.7 738.77L151.2 738.76L151.7 738.73L152.2 738.75L152.7 738.77L153.2 738.79L153.7 738.8L154.2 738.76L154.7 738.79L155.2 738.78L155.7 738.82L156.2 738.82L156.7 738.79L157.2 738.8L157.7 738.81L158.2 738.81L158.7 738.81L159.2 738.82L159.7 738.82L160.2 738.83L160.7 738.83L161.2 738.84L161.7 738.84L162.2 738.84L162.7 738.85L163.2 738.85L163.7 738.86L164.2 738.86L164.7 738.86L165.2 738.87L165.7 738.87L166.2 738.88L166.7 738.88L167.2 738.88L167.7 738.89L168.2 738.89L168.7 738.9L169.2 738.9L169.7 738.91L170.2 738.91L170.7 738.91L171.2 738.92L171.7 738.92L172.2 738.93L172.7 738.93L173.2 738.94L173.7 738.94L174.2 738.94L174.7 738.95L175.2 738.95L175.7 738.96L176.2 738.96L176.7 738.96L177.2 738.97L177.7 738.97L178.2 738.98L178.7 738.98L179.2 738.99L179.7 738.99L180.2 738.99L180.7 739L181.2 739.2L181.2 739.2Z" fill="#898989"/>
<line x1="113" y1="689.2" x2="113" y2="739.8" stroke="#7a7a7a" stroke-width="1.4"/>
<line x1="113" y1="739.2" x2="181.4" y2="739.2" stroke="#999" stroke-width="1.2"/>
<path d="M183.1 739.2L183.1 735.38L183.6 732.39L184.1 733.84L184.6 732.86L185.1 732.57L185.6 728.37L186.1 725.87L186.6 725.57L187.1 730.5L187.6 727.06L188.1 723.56L188.6 729.61L189.1 725.12L189.6 728.47L190.1 724.92L190.6 727.81L191.1 728.65L191.6 727.91L192.1 728.16L192.6 727.91L193.1 723.15L193.6 727.88L194.1 723.67L194.6 727.78L195.1 721.2L195.6 727.79L196.1 727.42L196.6 720.88L197.1 720.4L197.6 722.13L198.1 721.87L198.6 721.42L199.1 727.27L199.6 725.55L200.1 721.2L200.6 724.4L201.1 718.72L201.6 721.24L202.1 725.02L202.6 725.07L203.1 719.78L203.6 724.89L204.1 718.77L204.6 725.4L205.1 724.86L205.6 724.55L206.1 723.64L206.6 714.93L207.1 724.25L207.6 718.3L208.1 722.68L208.6 713.01L209.1 722.62L209.6 721.69L210.1 722.61L210.6 721.83L211.1 721.18L211.6 721.75L212.1 714.69L212.6 721.02L213.1 719.54L213.6 718.83L214.1 717.61L214.6 719.28L215.1 710.02L215.6 704.78L216.1 714.72L216.6 705.2L217.1 703.93L217.6 700.34L218.1 697.13L218.6 707.58L219.1 703.38L219.6 708.58L220.1 705.9L220.6 696.66L221.1 699.24L221.6 699.17L222.1 711.51L222.6 714.4L223.1 718.74L223.6 722.95L224.1 726.71L224.6 731.05L225.1 732.95L225.6 735.34L226.1 737.19L226.6 737.48L227.1 736.13L227.6 736.75L228.1 738.8L228.6 738.81L229.1 738.81L229.6 738.81L230.1 738.82L230.6 738.82L231.1 738.83L231.6 738.83L232.1 738.84L232.6 738.84L233.1 738.85L233.6 738.85L234.1 738.86L234.6 738.86L235.1 738.86L235.6 738.87L236.1 738.87L236.6 738.88L237.1 738.88L237.6 738.89L238.1 738.89L238.6 738.9L239.1 738.9L239.6 738.91L240.1 738.91L240.6 738.91L241.1 738.92L241.6 738.92L242.1 738.93L242.6 738.93L243.1 738.94L243.6 738.94L244.1 738.95L244.6 738.95L245.1 738.96L245.6 738.96L246.1 738.96L246.6 738.97L247.1 738.97L247.6 738.98L248.1 738.98L248.6 738.99L249.1 738.99L249.6 739L250.1 739.2L250.6 739.2L250.6 739.2Z" fill="#9c9c9c"/>
<path d="M183.1 739.2L183.1 735.38L183.6 734.38L184.1 733.84L184.6 732.86L185.1 732.57L185.6 731.8L186.1 730.56L186.6 729.99L187.1 730.5L187.6 729.68L188.1 729.3L188.6 729.61L189.1 728.74L189.6 728.47L190.1 728.14L190.6 727.81L191.1 728.65L191.6 727.91L192.1 728.16L192.6 727.91L193.1 727.22L193.6 727.88L194.1 727.78L194.6 727.78L195.1 727.26L195.6 727.79L196.1 727.42L196.6 726.93L197.1 726.2L197.6 726.13L198.1 726.73L198.6 725.51L199.1 727.27L199.6 725.55L200.1 724.97L200.6 724.4L201.1 725.33L201.6 725.31L202.1 725.02L202.6 725.07L203.1 724.31L203.6 724.89L204.1 724.37L204.6 725.4L205.1 724.86L205.6 724.55L206.1 723.64L206.6 723.15L207.1 724.25L207.6 723.05L208.1 722.68L208.6 721.4L209.1 722.62L209.6 721.69L210.1 722.61L210.6 721.83L211.1 721.18L211.6 721.75L212.1 720.44L212.6 721.02L213.1 719.54L213.6 718.83L214.1 717.61L214.6 719.28L215.1 716.54L215.6 716.4L216.1 714.72L216.6 714.21L217.1 712.09L217.6 711.59L218.1 708.92L218.6 707.58L219.1 708.46L219.6 708.58L220.1 705.9L220.6 704.47L221.1 708.1L221.6 705.9L222.1 711.51L222.6 714.4L223.1 718.74L223.6 722.95L224.1 726.71L224.6 731.05L225.1 732.95L225.6 735.34L226.1 737.19L226.6 737.48L227.1 738.06L227.6 738.46L228.1 738.8L228.6 738.81L229.1 738.81L229.6 738.81L230.1 738.82L230.6 738.82L231.1 738.83L231.6 738.83L232.1 738.84L232.6 738.84L233.1 738.85L233.6 738.85L234.1 738.86L234.6 738.86L235.1 738.86L235.6 738.87L236.1 738.87L236.6 738.88L237.1 738.88L237.6 738.89L238.1 738.89L238.6 738.9L239.1 738.9L239.6 738.91L240.1 738.91L240.6 738.91L241.1 738.92L241.6 738.92L242.1 738.93L242.6 738.93L243.1 738.94L243.6 738.94L244.1 738.95L244.6 738.95L245.1 738.96L245.6 738.96L246.1 738.96L246.6 738.97L247.1 738.97L247.6 738.98L248.1 738.98L248.6 738.99L249.1 738.99L249.6 739L250.1 739.2L250.6 739.2L250.6 739.2Z" fill="#898989"/>
<line x1="182.4" y1="689.2" x2="182.4" y2="739.8" stroke="#7a7a7a" stroke-width="1.4"/>
<line x1="182.4" y1="739.2" x2="250.8" y2="739.2" stroke="#999" stroke-width="1.2"/>
<path d="M252.2 739.2L252.2 729.05L252.7 727.62L253.2 723.85L253.7 726.51L254.2 721.04L254.7 723.51L255.2 717.09L255.7 712.58L256.2 718.88L256.7 720.07L257.2 706.58L257.7 717.72L258.2 716.47L258.7 709.63L259.2 715.25L259.7 713.88L260.2 711.94L260.7 712.68L261.2 710.46L261.7 702.9L262.2 710.7L262.7 709.46L263.2 709.37L263.7 700.86L264.2 695.74L264.7 706.29L265.2 708.54L265.7 698.76L266.2 705.14L266.7 698.21L267.2 703.13L267.7 691.71L268.2 690.67L268.7 702L269.2 703.27L269.7 703.6L270.2 703.38L270.7 693.68L271.2 692.4L271.7 689.2L272.2 692.02L272.7 695.35L273.2 689.2L273.7 689.2L274.2 689.2L274.7 689.89L275.2 704.47L275.7 700.05L276.2 689.2L276.7 701.29L277.2 700.33L277.7 701.54L278.2 692.16L278.7 691.43L279.2 696.05L279.7 702.54L280.2 703.69L280.7 693.53L281.2 696.08L281.7 691.22L282.2 696.5L282.7 700.97L283.2 707.67L283.7 708.62L284.2 710.14L284.7 699.71L285.2 713.86L285.7 708.12L286.2 707.48L286.7 708.59L287.2 718.09L287.7 720.24L288.2 720.38L288.7 722.95L289.2 724.83L289.7 725.87L290.2 726.78L290.7 728.27L291.2 730.19L291.7 728.86L292.2 732.62L292.7 730.5L293.2 734.64L293.7 736.63L294.2 737.33L294.7 735.85L295.2 738.34L295.7 738.69L296.2 738.71L296.7 737.13L297.2 738.72L297.7 737.02L298.2 738.72L298.7 738.75L299.2 738.76L299.7 738.75L300.2 737.15L300.7 737.14L301.2 737.18L301.7 738.77L302.2 738.79L302.7 738.76L303.2 738.79L303.7 738.8L304.2 738.81L304.7 738.81L305.2 738.82L305.7 738.82L306.2 738.83L306.7 738.84L307.2 738.84L307.7 738.85L308.2 738.86L308.7 738.86L309.2 738.87L309.7 738.87L310.2 738.88L310.7 738.89L311.2 738.89L311.7 738.9L312.2 738.9L312.7 738.91L313.2 738.92L313.7 738.92L314.2 738.93L314.7 738.94L315.2 738.94L315.7 738.95L316.2 738.95L316.7 738.96L317.2 738.97L317.7 738.97L318.2 738.98L318.7 738.98L319.2 738.99L319.7 739L319.7 739.2Z" fill="#9c9c9c"/>
<path d="M252.2 739.2L252.2 729.05L252.7 727.62L253.2 727.43L253.7 726.51L254.2 725.28L254.7 723.51L255.2 721.9L255.7 721.57L256.2 718.88L256.7 720.07L257.2 716.53L257.7 717.72L258.2 716.47L258.7 716.99L259.2 715.25L259.7 713.88L260.2 711.94L260.7 712.68L261.2 710.46L261.7 709.3L262.2 710.7L262.7 709.46L263.2 709.37L263.7 707.99L264.2 707.5L264.7 706.29L265.2 708.54L265.7 705.15L266.2 705.14L266.7 707.95L267.2 703.13L267.7 706.71L268.2 705.67L268.7 702L269.2 703.27L269.7 703.6L270.2 703.38L270.7 702.75L271.2 700.6L271.7 699.57L272.2 703.13L272.7 701.88L273.2 695.75L273.7 700.87L274.2 699.28L274.7 699.77L275.2 704.47L275.7 700.05L276.2 700.68L276.7 701.29L277.2 700.33L277.7 701.54L278.2 700.8L278.7 699.41L279.2 702.38L279.7 702.54L280.2 703.69L280.7 704.39L281.2 706.2L281.7 706.17L282.2 704.73L282.7 706L283.2 707.67L283.7 708.62L284.2 710.14L284.7 711.7L285.2 713.86L285.7 712.17L286.2 715.36L286.7 715.03L287.2 718.09L287.7 720.24L288.2 720.38L288.7 722.95L289.2 724.83L289.7 725.87L290.2 726.78L290.7 728.27L291.2 730.19L291.7 731.39L292.2 732.62L292.7 733.86L293.2 734.64L293.7 736.63L294.2 737.33L294.7 737.87L295.2 738.34L295.7 738.69L296.2 738.71L296.7 738.68L297.2 738.72L297.7 738.71L298.2 738.72L298.7 738.75L299.2 738.76L299.7 738.75L300.2 738.77L300.7 738.77L301.2 738.74L301.7 738.77L302.2 738.79L302.7 738.76L303.2 738.79L303.7 738.8L304.2 738.81L304.7 738.81L305.2 738.82L305.7 738.82L306.2 738.83L306.7 738.84L307.2 738.84L307.7 738.85L308.2 738.86L308.7 738.86L309.2 738.87L309.7 738.87L310.2 738.88L310.7 738.89L311.2 738.89L311.7 738.9L312.2 738.9L312.7 738.91L313.2 738.92L313.7 738.92L314.2 738.93L314.7 738.94L315.2 738.94L315.7 738.95L316.2 738.95L316.7 738.96L317.2 738.97L317.7 738.97L318.2 738.98L318.7 738.98L319.2 738.99L319.7 739L319.7 739.2Z" fill="#898989"/>
<line x1="251.5" y1="689.2" x2="251.5" y2="739.8" stroke="#7a7a7a" stroke-width="1.4"/>
<line x1="251.5" y1="739.2" x2="320" y2="739.2" stroke="#999" stroke-width="1.2"/>
<path d="M321.5 739.2L321.5 728.5L322 729.99L322.5 731.7L323 732.81L323.5 727.46L324 726.64L324.5 723.12L325 727.76L325.5 725.73L326 717.92L326.5 718.75L327 721.56L327.5 723.1L328 719.31L328.5 711.67L329 720.07L329.5 718.37L330 717.5L330.5 706.98L331 715.56L331.5 708.69L332 704.79L332.5 706.61L333 714.22L333.5 715.73L334 714.59L334.5 714.4L335 702.18L335.5 702.07L336 712.45L336.5 709.89L337 710.69L337.5 711.07L338 700.63L338.5 708.41L339 698.29L339.5 707.1L340 707.46L340.5 700.35L341 697.43L341.5 706.15L342 697.5L342.5 694.36L343 695.72L343.5 708.38L344 707.89L344.5 690.77L345 707.84L345.5 708.37L346 711.25L346.5 711.93L347 704.93L347.5 714.23L348 709.46L348.5 708.03L349 711.18L349.5 713.22L350 717.06L350.5 707.39L351 715.57L351.5 717.61L352 714.28L352.5 708.15L353 716.81L353.5 717.4L354 718.36L354.5 719.02L355 719.3L355.5 718.09L356 720.32L356.5 715.16L357 713.48L357.5 720.76L358 721.98L358.5 723.9L359 718.45L359.5 726.14L360 720.79L360.5 728.48L361 727.71L361.5 730.64L362 734.14L362.5 735.29L363 736.42L363.5 737.08L364 736.24L364.5 738.19L365 738.28L365.5 736.75L366 738.51L366.5 738.53L367 736.87L367.5 738.5L368 736.89L368.5 736.74L369 738.53L369.5 738.53L370 736.79L370.5 736.87L371 738.53L371.5 738.53L372 738.47L372.5 738.52L373 736.86L373.5 738.51L374 736.72L374.5 738.52L375 738.5L375.5 736.73L376 736.73L376.5 736.89L377 738.55L377.5 738.56L378 738.61L378.5 736.91L379 738.66L379.5 738.7L380 738.67L380.5 738.71L381 737.17L381.5 738.77L382 737.21L382.5 738.83L383 738.85L383.5 738.88L384 738.9L384.5 738.93L385 738.95L385.5 738.98L386 739L386.5 739.02L387 739.05L387.5 739.08L388 739.1L388.5 739.2L388.5 739.2Z" fill="#9c9c9c"/>
<path d="M321.5 739.2L321.5 728.5L322 729.99L322.5 731.7L323 732.81L323.5 731.78L324 729.74L324.5 728.56L325 727.76L325.5 725.73L326 724.16L326.5 722.96L327 721.56L327.5 723.1L328 719.31L328.5 719.08L329 720.07L329.5 718.37L330 717.5L330.5 716.84L331 715.56L331.5 714.76L332 714.71L332.5 714.5L333 714.22L333.5 715.73L334 714.59L334.5 714.4L335 713.96L335.5 712.64L336 712.45L336.5 709.89L337 710.69L337.5 711.07L338 708.24L338.5 708.41L339 707L339.5 707.1L340 707.46L340.5 707.86L341 703.82L341.5 706.15L342 705.19L342.5 708.12L343 707.23L343.5 708.38L344 707.89L344.5 705.77L345 707.84L345.5 708.37L346 711.25L346.5 711.93L347 711.32L347.5 714.23L348 715.42L348.5 717.91L349 717.55L349.5 717.99L350 717.06L350.5 716.15L351 715.57L351.5 717.61L352 714.28L352.5 715.65L353 716.81L353.5 717.4L354 718.36L354.5 719.02L355 719.3L355.5 718.09L356 720.32L356.5 719.4L357 720.53L357.5 720.76L358 721.98L358.5 723.9L359 724.84L359.5 726.14L360 727.51L360.5 728.48L361 731.31L361.5 733.09L362 734.14L362.5 735.29L363 736.42L363.5 737.08L364 738.04L364.5 738.19L365 738.28L365.5 738.34L366 738.51L366.5 738.53L367 738.5L367.5 738.5L368 738.48L368.5 738.48L369 738.53L369.5 738.53L370 738.54L370.5 738.53L371 738.53L371.5 738.53L372 738.47L372.5 738.52L373 738.47L373.5 738.51L374 738.51L374.5 738.52L375 738.5L375.5 738.54L376 738.5L376.5 738.49L377 738.55L377.5 738.56L378 738.61L378.5 738.64L379 738.66L379.5 738.7L380 738.67L380.5 738.71L381 738.75L381.5 738.77L382 738.81L382.5 738.83L383 738.85L383.5 738.88L384 738.9L384.5 738.93L385 738.95L385.5 738.98L386 739L386.5 739.02L387 739.05L387.5 739.08L388 739.1L388.5 739.2L388.5 739.2Z" fill="#898989"/>
<line x1="320.8" y1="689.2" x2="320.8" y2="739.8" stroke="#7a7a7a" stroke-width="1.4"/>
<line x1="320.8" y1="739.2" x2="388.8" y2="739.2" stroke="#999" stroke-width="1.2"/>
<path d="M113.7 790.4L113.7 782.29L114.2 777.73L114.7 782.39L115.2 782.65L115.7 776.67L116.2 776.88L116.7 779L117.2 776.94L117.7 776.51L118.2 768.82L118.7 774.55L119.2 766.43L119.7 771.29L120.2 771.73L120.7 769.35L121.2 764.71L121.7 767.39L122.2 765.51L122.7 766.73L123.2 759.61L123.7 764.15L124.2 764.42L124.7 752.51L125.2 756.61L125.7 750.83L126.2 751.65L126.7 759.28L127.2 759.55L127.7 745.08L128.2 757.78L128.7 742.88L129.2 757.83L129.7 754.63L130.2 752.89L130.7 752.61L131.2 752.65L131.7 756.24L132.2 754.16L132.7 746.72L133.2 756.24L133.7 758.94L134.2 758.55L134.7 761.83L135.2 763.76L135.7 753.97L136.2 762.18L136.7 760.43L137.2 764.19L137.7 770.03L138.2 779.62L138.7 777.81L139.2 785.23L139.7 787.08L140.2 785.3L140.7 786.43L141.2 789L141.7 787.18L142.2 787.11L142.7 789.11L143.2 789.14L143.7 789.29L144.2 787.61L144.7 787.57L145.2 789.39L145.7 789.38L146.2 787.54L146.7 789.45L147.2 787.93L147.7 787.77L148.2 789.53L148.7 789.68L149.2 788.01L149.7 789.76L150.2 789.84L150.7 789.81L151.2 788.16L151.7 788.19L152.2 789.81L152.7 789.86L153.2 789.84L153.7 789.87L154.2 789.84L154.7 788.24L155.2 789.82L155.7 789.86L156.2 789.85L156.7 789.89L157.2 789.89L157.7 789.89L158.2 789.92L158.7 788.22L159.2 789.94L159.7 789.98L160.2 789.93L160.7 789.94L161.2 789.93L161.7 789.97L162.2 788.3L162.7 789.97L163.2 789.97L163.7 789.95L164.2 788.33L164.7 789.98L165.2 788.44L165.7 790L166.2 790.01L166.7 790.02L167.2 790.02L167.7 790.03L168.2 790.03L168.7 790.04L169.2 790.05L169.7 790.05L170.2 790.06L170.7 790.07L171.2 790.07L171.7 790.08L172.2 790.09L172.7 790.09L173.2 790.1L173.7 790.11L174.2 790.11L174.7 790.12L175.2 790.13L175.7 790.13L176.2 790.14L176.7 790.14L177.2 790.15L177.7 790.16L178.2 790.16L178.7 790.17L179.2 790.18L179.7 790.18L180.2 790.19L180.7 790.2L181.2 790.4L181.2 790.4Z" fill="#9c9c9c"/>
<path d="M113.7 790.4L113.7 782.29L114.2 782.68L114.7 782.39L115.2 782.65L115.7 781.26L116.2 780.32L116.7 779L117.2 776.94L117.7 776.51L118.2 774.18L118.7 774.55L119.2 773.08L119.7 771.29L120.2 771.73L120.7 769.35L121.2 769.35L121.7 767.39L122.2 765.51L122.7 766.73L123.2 764.59L123.7 764.15L124.2 764.42L124.7 765.29L125.2 762.98L125.7 763.75L126.2 760.31L126.7 759.28L127.2 759.55L127.7 758.67L128.2 757.78L128.7 757.84L129.2 757.83L129.7 754.63L130.2 752.89L130.7 752.61L131.2 752.65L131.7 756.24L132.2 754.16L132.7 755.74L133.2 756.24L133.7 758.94L134.2 758.55L134.7 761.83L135.2 763.76L135.7 763.81L136.2 769.01L136.7 770.84L137.2 773L137.7 776.06L138.2 779.62L138.7 782.5L139.2 785.23L139.7 787.08L140.2 787.82L140.7 788.58L141.2 789L141.7 789.18L142.2 789.1L142.7 789.11L143.2 789.14L143.7 789.29L144.2 789.31L144.7 789.38L145.2 789.39L145.7 789.38L146.2 789.41L146.7 789.45L147.2 789.56L147.7 789.61L148.2 789.53L148.7 789.68L149.2 789.74L149.7 789.76L150.2 789.84L150.7 789.81L151.2 789.8L151.7 789.86L152.2 789.81L152.7 789.86L153.2 789.84L153.7 789.87L154.2 789.84L154.7 789.86L155.2 789.82L155.7 789.86L156.2 789.85L156.7 789.89L157.2 789.89L157.7 789.89L158.2 789.92L158.7 789.93L159.2 789.94L159.7 789.98L160.2 789.93L160.7 789.94L161.2 789.93L161.7 789.97L162.2 789.98L162.7 789.97L163.2 789.97L163.7 789.95L164.2 789.96L164.7 789.98L165.2 790L165.7 790L166.2 790.01L166.7 790.02L167.2 790.02L167.7 790.03L168.2 790.03L168.7 790.04L169.2 790.05L169.7 790.05L170.2 790.06L170.7 790.07L171.2 790.07L171.7 790.08L172.2 790.09L172.7 790.09L173.2 790.1L173.7 790.11L174.2 790.11L174.7 790.12L175.2 790.13L175.7 790.13L176.2 790.14L176.7 790.14L177.2 790.15L177.7 790.16L178.2 790.16L178.7 790.17L179.2 790.18L179.7 790.18L180.2 790.19L180.7 790.2L181.2 790.4L181.2 790.4Z" fill="#898989"/>
<line x1="113" y1="740.6" x2="113" y2="791" stroke="#7a7a7a" stroke-width="1.4"/>
<line x1="113" y1="790.4" x2="181.4" y2="790.4" stroke="#999" stroke-width="1.2"/>
<path d="M183.1 790.4L183.1 776.54L183.6 773.62L184.1 765.82L184.6 764.08L185.1 769.09L185.6 759.14L186.1 768.67L186.6 769.69L187.1 769.32L187.6 767.01L188.1 758.19L188.6 761.24L189.1 760.79L189.6 758.78L190.1 759.7L190.6 759.02L191.1 752.34L191.6 749.96L192.1 755.74L192.6 741.31L193.1 759.31L193.6 755.84L194.1 757.58L194.6 748.21L195.1 743.57L195.6 754.19L196.1 756.83L196.6 755.39L197.1 755.99L197.6 752.75L198.1 744.74L198.6 757.45L199.1 756.77L199.6 757.23L200.1 751.08L200.6 747.12L201.1 750L201.6 750.85L202.1 756.12L202.6 751.56L203.1 754.5L203.6 763.49L204.1 763.24L204.6 764.08L205.1 764.93L205.6 763.49L206.1 765.89L206.6 765.84L207.1 766.49L207.6 761.63L208.1 756.46L208.6 760.42L209.1 769.89L209.6 769.87L210.1 770.72L210.6 771.1L211.1 771.99L211.6 773.44L212.1 769.66L212.6 774.94L213.1 770.81L213.6 776.05L214.1 771.62L214.6 771.35L215.1 771.23L215.6 779.18L216.1 779.91L216.6 780.27L217.1 781.71L217.6 782.57L218.1 783.31L218.6 783.65L219.1 780.66L219.6 784.76L220.1 782.18L220.6 786.48L221.1 786.88L221.6 785.78L222.1 786.03L222.6 787.23L223.1 787.84L223.6 788.02L224.1 789.86L224.6 790.04L225.1 790.2L225.6 790.2L226.1 790.2L226.6 790.2L227.1 790.2L227.6 790.2L228.1 790.2L228.6 790.2L229.1 790.2L229.6 790.2L230.1 790.2L230.6 790.2L231.1 790.2L231.6 790.2L232.1 790.2L232.6 790.2L233.1 790.2L233.6 790.2L234.1 790.2L234.6 790.2L235.1 790.2L235.6 790.2L236.1 790.2L236.6 790.2L237.1 790.2L237.6 790.2L238.1 790.2L238.6 790.2L239.1 790.2L239.6 790.2L240.1 790.2L240.6 790.2L241.1 790.2L241.6 790.2L242.1 790.2L242.6 790.2L243.1 790.2L243.6 790.2L244.1 790.2L244.6 790.2L245.1 790.2L245.6 790.2L246.1 790.2L246.6 790.2L247.1 790.2L247.6 790.2L248.1 790.2L248.6 790.2L249.1 790.2L249.6 790.2L250.1 790.4L250.6 790.4L250.6 790.4Z" fill="#9c9c9c"/>
<path d="M183.1 790.4L183.1 776.54L183.6 773.62L184.1 773.16L184.6 769.71L185.1 769.09L185.6 768.66L186.1 768.67L186.6 769.69L187.1 769.32L187.6 767.01L188.1 764.63L188.6 761.24L189.1 760.79L189.6 758.78L190.1 759.7L190.6 759.02L191.1 758.67L191.6 759.84L192.1 755.74L192.6 756.05L193.1 759.31L193.6 755.84L194.1 757.58L194.6 754.95L195.1 755.19L195.6 754.19L196.1 756.83L196.6 755.39L197.1 755.99L197.6 758.79L198.1 756.78L198.6 757.45L199.1 756.77L199.6 757.23L200.1 757.72L200.6 757.53L201.1 758.83L201.6 760.32L202.1 760.9L202.6 762.72L203.1 760.96L203.6 763.49L204.1 763.24L204.6 764.08L205.1 764.93L205.6 763.49L206.1 765.89L206.6 765.84L207.1 766.49L207.6 767.88L208.1 768.03L208.6 767.97L209.1 769.89L209.6 769.87L210.1 770.72L210.6 771.1L211.1 771.99L211.6 773.44L212.1 773.82L212.6 774.94L213.1 776.13L213.6 776.05L214.1 777.35L214.6 778.08L215.1 777.89L215.6 779.18L216.1 779.91L216.6 780.27L217.1 781.71L217.6 782.57L218.1 783.31L218.6 783.65L219.1 784.28L219.6 784.76L220.1 785.67L220.6 786.48L221.1 786.88L221.6 787.72L222.1 788.43L222.6 788.98L223.1 789.46L223.6 789.63L224.1 789.86L224.6 790.04L225.1 790.2L225.6 790.2L226.1 790.2L226.6 790.2L227.1 790.2L227.6 790.2L228.1 790.2L228.6 790.2L229.1 790.2L229.6 790.2L230.1 790.2L230.6 790.2L231.1 790.2L231.6 790.2L232.1 790.2L232.6 790.2L233.1 790.2L233.6 790.2L234.1 790.2L234.6 790.2L235.1 790.2L235.6 790.2L236.1 790.2L236.6 790.2L237.1 790.2L237.6 790.2L238.1 790.2L238.6 790.2L239.1 790.2L239.6 790.2L240.1 790.2L240.6 790.2L241.1 790.2L241.6 790.2L242.1 790.2L242.6 790.2L243.1 790.2L243.6 790.2L244.1 790.2L244.6 790.2L245.1 790.2L245.6 790.2L246.1 790.2L246.6 790.2L247.1 790.2L247.6 790.2L248.1 790.2L248.6 790.2L249.1 790.2L249.6 790.2L250.1 790.4L250.6 790.4L250.6 790.4Z" fill="#898989"/>
<line x1="182.4" y1="740.6" x2="182.4" y2="791" stroke="#7a7a7a" stroke-width="1.4"/>
<line x1="182.4" y1="790.4" x2="250.8" y2="790.4" stroke="#999" stroke-width="1.2"/>
<path d="M252.2 790.4L252.2 786.98L252.7 782.95L253.2 783.35L253.7 781.36L254.2 780.11L254.7 783.54L255.2 780.28L255.7 782.76L256.2 782.74L256.7 782.14L257.2 781.96L257.7 781.16L258.2 781.07L258.7 780.13L259.2 779.32L259.7 778.84L260.2 775.19L260.7 777.78L261.2 771.7L261.7 775.69L262.2 776.25L262.7 775.06L263.2 775.6L263.7 768.06L264.2 768.14L264.7 773.81L265.2 773.08L265.7 771.52L266.2 771.43L266.7 763.88L267.2 770.12L267.7 763.88L268.2 758.44L268.7 767.6L269.2 767.73L269.7 764.56L270.2 759.6L270.7 756.95L271.2 761.87L271.7 762.86L272.2 760.48L272.7 746.83L273.2 757.22L273.7 752.84L274.2 756.58L274.7 748.66L275.2 754.62L275.7 740.6L276.2 753.95L276.7 752.37L277.2 743.27L277.7 746.59L278.2 752L278.7 754.56L279.2 754.19L279.7 752.22L280.2 755.82L280.7 756.87L281.2 757.65L281.7 757.33L282.2 760.66L282.7 761.66L283.2 763.11L283.7 766L284.2 761.54L284.7 768.47L285.2 769.5L285.7 767.21L286.2 768.18L286.7 774.74L287.2 769.97L287.7 778.58L288.2 778.42L288.7 775.59L289.2 781.52L289.7 780.19L290.2 781.84L290.7 785.77L291.2 787.09L291.7 786.17L292.2 788.9L292.7 787.54L293.2 788.14L293.7 788.13L294.2 788.12L294.7 788.22L295.2 789.84L295.7 789.83L296.2 789.84L296.7 789.84L297.2 789.88L297.7 788.2L298.2 788.16L298.7 789.86L299.2 789.87L299.7 788.23L300.2 788.22L300.7 789.93L301.2 788.33L301.7 788.4L302.2 789.92L302.7 789.93L303.2 789.96L303.7 788.35L304.2 789.96L304.7 789.99L305.2 789.99L305.7 789.96L306.2 789.99L306.7 790L307.2 790.01L307.7 790.02L308.2 790.03L308.7 790.03L309.2 790.04L309.7 790.05L310.2 790.05L310.7 790.06L311.2 790.07L311.7 790.08L312.2 790.08L312.7 790.09L313.2 790.1L313.7 790.11L314.2 790.11L314.7 790.12L315.2 790.13L315.7 790.14L316.2 790.14L316.7 790.15L317.2 790.16L317.7 790.17L318.2 790.17L318.7 790.18L319.2 790.19L319.7 790.2L319.7 790.4Z" fill="#9c9c9c"/>
<path d="M252.2 790.4L252.2 786.98L252.7 786.06L253.2 785.4L253.7 784.95L254.2 784.1L254.7 783.54L255.2 784.4L255.7 782.76L256.2 782.74L256.7 782.14L257.2 781.96L257.7 781.16L258.2 781.07L258.7 780.13L259.2 779.32L259.7 778.84L260.2 778.13L260.7 777.78L261.2 778.07L261.7 775.69L262.2 776.25L262.7 775.06L263.2 775.6L263.7 774.42L264.2 774.99L264.7 773.81L265.2 773.08L265.7 771.52L266.2 771.43L266.7 770.58L267.2 770.12L267.7 768.05L268.2 766.49L268.7 767.6L269.2 767.73L269.7 764.56L270.2 765.05L270.7 763.12L271.2 761.87L271.7 762.86L272.2 760.48L272.7 759.79L273.2 757.22L273.7 758.68L274.2 756.58L274.7 755.73L275.2 754.62L275.7 750.68L276.2 753.95L276.7 752.37L277.2 751.27L277.7 752.4L278.2 752L278.7 754.56L279.2 754.19L279.7 752.22L280.2 755.82L280.7 756.87L281.2 757.65L281.7 757.33L282.2 760.66L282.7 761.66L283.2 763.11L283.7 766L284.2 767.62L284.7 768.47L285.2 769.5L285.7 772.34L286.2 774.24L286.7 774.74L287.2 777.46L287.7 778.58L288.2 778.42L288.7 780.35L289.2 781.52L289.7 783.74L290.2 784.6L290.7 785.77L291.2 787.09L291.7 788.45L292.2 788.9L292.7 789.39L293.2 789.81L293.7 789.79L294.2 789.82L294.7 789.81L295.2 789.84L295.7 789.83L296.2 789.84L296.7 789.84L297.2 789.88L297.7 789.85L298.2 789.86L298.7 789.86L299.2 789.87L299.7 789.9L300.2 789.9L300.7 789.93L301.2 789.92L301.7 789.94L302.2 789.92L302.7 789.93L303.2 789.96L303.7 789.95L304.2 789.96L304.7 789.99L305.2 789.99L305.7 789.96L306.2 789.99L306.7 790L307.2 790.01L307.7 790.02L308.2 790.03L308.7 790.03L309.2 790.04L309.7 790.05L310.2 790.05L310.7 790.06L311.2 790.07L311.7 790.08L312.2 790.08L312.7 790.09L313.2 790.1L313.7 790.11L314.2 790.11L314.7 790.12L315.2 790.13L315.7 790.14L316.2 790.14L316.7 790.15L317.2 790.16L317.7 790.17L318.2 790.17L318.7 790.18L319.2 790.19L319.7 790.2L319.7 790.4Z" fill="#898989"/>
<line x1="251.5" y1="740.6" x2="251.5" y2="791" stroke="#7a7a7a" stroke-width="1.4"/>
<line x1="251.5" y1="790.4" x2="320" y2="790.4" stroke="#999" stroke-width="1.2"/>
<path d="M321.5 790.4L321.5 768.1L322 770.96L322.5 771.81L323 764.49L323.5 769.12L324 768.55L324.5 759.41L325 767.47L325.5 765.27L326 763.93L326.5 757.8L327 762.19L327.5 760.83L328 758.98L328.5 762.73L329 754.84L329.5 750.72L330 759.1L330.5 758.7L331 758.07L331.5 748.01L332 758.72L332.5 760.94L333 760.43L333.5 755.34L334 750.76L334.5 762.96L335 763.1L335.5 763.44L336 766.81L336.5 765.53L337 767.15L337.5 762.78L338 762.36L338.5 760.8L339 767.34L339.5 764.4L340 769.15L340.5 774.42L341 776.27L341.5 769.91L342 777.02L342.5 777.96L343 777.97L343.5 780.01L344 776.7L344.5 781.08L345 780.62L345.5 782.56L346 784.03L346.5 783.75L347 782.45L347.5 785.05L348 783.6L348.5 783.42L349 786.6L349.5 786.98L350 787.45L350.5 785.1L351 788.4L351.5 786.35L352 786.66L352.5 786.49L353 788.89L353.5 789.02L354 789.11L354.5 789.24L355 789.37L355.5 789.48L356 787.92L356.5 789.74L357 789.81L357.5 789.8L358 789.86L358.5 789.79L359 788.06L359.5 789.81L360 789.84L360.5 788.28L361 789.86L361.5 789.85L362 789.86L362.5 789.85L363 789.88L363.5 789.89L364 788.28L364.5 789.87L365 789.89L365.5 789.92L366 788.22L366.5 789.89L367 789.93L367.5 789.93L368 789.93L368.5 789.95L369 789.94L369.5 788.38L370 789.96L370.5 789.99L371 788.4L371.5 789.99L372 788.31L372.5 790L373 790.01L373.5 790.01L374 790.02L374.5 790.03L375 790.03L375.5 790.04L376 790.05L376.5 790.05L377 790.06L377.5 790.06L378 790.07L378.5 790.08L379 790.08L379.5 790.09L380 790.1L380.5 790.1L381 790.11L381.5 790.12L382 790.12L382.5 790.13L383 790.14L383.5 790.14L384 790.15L384.5 790.15L385 790.16L385.5 790.17L386 790.17L386.5 790.18L387 790.19L387.5 790.19L388 790.2L388.5 790.4L388.5 790.4Z" fill="#9c9c9c"/>
<path d="M321.5 790.4L321.5 772.55L322 770.96L322.5 771.81L323 769.86L323.5 769.12L324 768.55L324.5 765.24L325 767.47L325.5 765.27L326 763.93L326.5 762.15L327 762.19L327.5 760.83L328 758.98L328.5 762.73L329 760.58L329.5 762.59L330 759.1L330.5 758.7L331 758.07L331.5 760.34L332 758.72L332.5 760.94L333 760.43L333.5 761.36L334 761.69L334.5 762.96L335 763.1L335.5 763.44L336 766.81L336.5 765.53L337 767.15L337.5 769.75L338 768.94L338.5 770.31L339 771.61L339.5 771.34L340 773.33L340.5 774.42L341 776.27L341.5 776.69L342 777.02L342.5 777.96L343 777.97L343.5 780.01L344 779.83L344.5 781.08L345 783.1L345.5 782.56L346 784.03L346.5 783.75L347 784.68L347.5 785.05L348 786.04L348.5 786.24L349 786.6L349.5 786.98L350 787.45L350.5 787.74L351 788.4L351.5 788.22L352 788.45L352.5 788.68L353 788.89L353.5 789.02L354 789.11L354.5 789.24L355 789.37L355.5 789.48L356 789.61L356.5 789.74L357 789.81L357.5 789.8L358 789.86L358.5 789.79L359 789.82L359.5 789.81L360 789.84L360.5 789.86L361 789.86L361.5 789.85L362 789.86L362.5 789.85L363 789.88L363.5 789.89L364 789.88L364.5 789.87L365 789.89L365.5 789.92L366 789.93L366.5 789.89L367 789.93L367.5 789.93L368 789.93L368.5 789.95L369 789.94L369.5 789.94L370 789.96L370.5 789.99L371 789.98L371.5 789.99L372 789.98L372.5 790L373 790.01L373.5 790.01L374 790.02L374.5 790.03L375 790.03L375.5 790.04L376 790.05L376.5 790.05L377 790.06L377.5 790.06L378 790.07L378.5 790.08L379 790.08L379.5 790.09L380 790.1L380.5 790.1L381 790.11L381.5 790.12L382 790.12L382.5 790.13L383 790.14L383.5 790.14L384 790.15L384.5 790.15L385 790.16L385.5 790.17L386 790.17L386.5 790.18L387 790.19L387.5 790.19L388 790.2L388.5 790.4L388.5 790.4Z" fill="#898989"/>
<line x1="320.8" y1="740.6" x2="320.8" y2="791" stroke="#7a7a7a" stroke-width="1.4"/>
<line x1="320.8" y1="790.4" x2="388.8" y2="790.4" stroke="#999" stroke-width="1.2"/>
<path d="M113.7 851.4L113.7 841.96L114.2 843.17L114.7 840.66L115.2 836.59L115.7 835.46L116.2 832.39L116.7 832.21L117.2 830.51L117.7 829.9L118.2 836.53L118.7 826.64L119.2 832.37L119.7 823.79L120.2 832.16L120.7 819.63L121.2 818.24L121.7 824.64L122.2 815.64L122.7 824.3L123.2 822.02L123.7 811.52L124.2 807.57L124.7 808.59L125.2 815.89L125.7 816.36L126.2 805.5L126.7 807.33L127.2 813.89L127.7 810.38L128.2 802.03L128.7 806.36L129.2 801.3L129.7 801.3L130.2 811.49L130.7 811.09L131.2 815.4L131.7 816.94L132.2 822.35L132.7 813.23L133.2 827.02L133.7 831.2L134.2 834.13L134.7 837.2L135.2 833.66L135.7 842.8L136.2 845.25L136.7 845.59L137.2 846.25L137.7 844.61L138.2 848.09L138.7 846.66L139.2 847.17L139.7 849.67L140.2 849.93L140.7 850.1L141.2 850.3L141.7 848.79L142.2 850.7L142.7 849.18L143.2 851L143.7 851L144.2 851.01L144.7 851.01L145.2 851.01L145.7 851.01L146.2 851.02L146.7 851.02L147.2 851.02L147.7 851.02L148.2 851.03L148.7 851.03L149.2 851.03L149.7 851.04L150.2 851.04L150.7 851.04L151.2 851.04L151.7 851.05L152.2 851.05L152.7 851.05L153.2 851.05L153.7 851.06L154.2 851.06L154.7 851.06L155.2 851.06L155.7 851.07L156.2 851.07L156.7 851.07L157.2 851.07L157.7 851.08L158.2 851.08L158.7 851.08L159.2 851.09L159.7 851.09L160.2 851.09L160.7 851.09L161.2 851.1L161.7 851.1L162.2 851.1L162.7 851.1L163.2 851.11L163.7 851.11L164.2 851.11L164.7 851.11L165.2 851.12L165.7 851.12L166.2 851.12L166.7 851.12L167.2 851.13L167.7 851.13L168.2 851.13L168.7 851.14L169.2 851.14L169.7 851.14L170.2 851.14L170.7 851.15L171.2 851.15L171.7 851.15L172.2 851.15L172.7 851.16L173.2 851.16L173.7 851.16L174.2 851.16L174.7 851.17L175.2 851.17L175.7 851.17L176.2 851.17L176.7 851.18L177.2 851.18L177.7 851.18L178.2 851.19L178.7 851.19L179.2 851.19L179.7 851.19L180.2 851.2L180.7 851.2L181.2 851.4L181.2 851.4Z" fill="#9c9c9c"/>
<path d="M113.7 851.4L113.7 841.96L114.2 843.17L114.7 843.5L115.2 840.08L115.7 839.54L116.2 837.84L116.7 837.67L117.2 837.05L117.7 836.59L118.2 836.53L118.7 835.26L119.2 832.37L119.7 831.06L120.2 832.16L120.7 828.38L121.2 828.13L121.7 824.64L122.2 824.37L122.7 824.3L123.2 822.02L123.7 820.11L124.2 820.13L124.7 818.13L125.2 815.89L125.7 816.36L126.2 813.51L126.7 813.61L127.2 813.89L127.7 810.38L128.2 809.06L128.7 806.36L129.2 805.22L129.7 805.91L130.2 811.49L130.7 811.09L131.2 815.4L131.7 816.94L132.2 822.35L132.7 824.57L133.2 827.02L133.7 831.2L134.2 834.13L134.7 837.2L135.2 839.79L135.7 842.8L136.2 845.25L136.7 845.59L137.2 846.25L137.7 847.14L138.2 848.09L138.7 848.88L139.2 849.15L139.7 849.67L140.2 849.93L140.7 850.1L141.2 850.3L141.7 850.49L142.2 850.7L142.7 850.9L143.2 851L143.7 851L144.2 851.01L144.7 851.01L145.2 851.01L145.7 851.01L146.2 851.02L146.7 851.02L147.2 851.02L147.7 851.02L148.2 851.03L148.7 851.03L149.2 851.03L149.7 851.04L150.2 851.04L150.7 851.04L151.2 851.04L151.7 851.05L152.2 851.05L152.7 851.05L153.2 851.05L153.7 851.06L154.2 851.06L154.7 851.06L155.2 851.06L155.7 851.07L156.2 851.07L156.7 851.07L157.2 851.07L157.7 851.08L158.2 851.08L158.7 851.08L159.2 851.09L159.7 851.09L160.2 851.09L160.7 851.09L161.2 851.1L161.7 851.1L162.2 851.1L162.7 851.1L163.2 851.11L163.7 851.11L164.2 851.11L164.7 851.11L165.2 851.12L165.7 851.12L166.2 851.12L166.7 851.12L167.2 851.13L167.7 851.13L168.2 851.13L168.7 851.14L169.2 851.14L169.7 851.14L170.2 851.14L170.7 851.15L171.2 851.15L171.7 851.15L172.2 851.15L172.7 851.16L173.2 851.16L173.7 851.16L174.2 851.16L174.7 851.17L175.2 851.17L175.7 851.17L176.2 851.17L176.7 851.18L177.2 851.18L177.7 851.18L178.2 851.19L178.7 851.19L179.2 851.19L179.7 851.19L180.2 851.2L180.7 851.2L181.2 851.4L181.2 851.4Z" fill="#898989"/>
<line x1="113" y1="801.3" x2="113" y2="852" stroke="#7a7a7a" stroke-width="1.4"/>
<line x1="113" y1="851.4" x2="181.4" y2="851.4" stroke="#999" stroke-width="1.2"/>
<path d="M183.1 851.4L183.1 851.19L183.6 851.18L184.1 851.18L184.6 851.17L185.1 851.16L185.6 851.15L186.1 851.14L186.6 851.14L187.1 851.13L187.6 851.12L188.1 851.11L188.6 851.1L189.1 851.1L189.6 851.09L190.1 851.08L190.6 851.07L191.1 851.06L191.6 851.05L192.1 851.05L192.6 851.04L193.1 851.03L193.6 851.02L194.1 851.01L194.6 851.01L195.1 850.97L195.6 850.96L196.1 850.89L196.6 850.81L197.1 850.8L197.6 850.75L198.1 850.67L198.6 850.62L199.1 850.58L199.6 848.8L200.1 850.46L200.6 848.1L201.1 847.33L201.6 846.75L202.1 846.08L202.6 847.95L203.1 844.62L203.6 844.56L204.1 846.45L204.6 842.61L205.1 841.22L205.6 844.66L206.1 844.3L206.6 841.44L207.1 842.58L207.6 841.68L208.1 840.35L208.6 834.06L209.1 838.51L209.6 836.17L210.1 835.68L210.6 827.81L211.1 831.8L211.6 823.69L212.1 822.08L212.6 818.32L213.1 812.13L213.6 820.57L214.1 809.01L214.6 806.33L215.1 801.3L215.6 809.83L216.1 801.8L216.6 809.02L217.1 808.86L217.6 801.3L218.1 801.3L218.6 801.31L219.1 801.3L219.6 802.88L220.1 801.3L220.6 809.18L221.1 816.54L221.6 816.5L222.1 804.82L222.6 808.25L223.1 823.34L223.6 827.34L224.1 825.66L224.6 826.1L225.1 834.9L225.6 833.93L226.1 833.17L226.6 836.39L227.1 839.22L227.6 839.51L228.1 841.21L228.6 841.76L229.1 844.94L229.6 842.94L230.1 842.83L230.6 842.81L231.1 846.51L231.6 846.91L232.1 844.46L232.6 845.02L233.1 847.82L233.6 845.25L234.1 848.07L234.6 848.46L235.1 848.72L235.6 849.03L236.1 849.1L236.6 847.56L237.1 849.58L237.6 847.54L238.1 849.84L238.6 849.99L239.1 848.14L239.6 850.36L240.1 848.76L240.6 849.01L241.1 850.72L241.6 850.88L242.1 851L242.6 851.01L243.1 851.03L243.6 851.04L244.1 851.05L244.6 851.07L245.1 851.08L245.6 851.09L246.1 851.1L246.6 851.12L247.1 851.13L247.6 851.14L248.1 851.15L248.6 851.17L249.1 851.18L249.6 851.19L250.1 851.4L250.6 851.4L250.6 851.4Z" fill="#9c9c9c"/>
<path d="M183.1 851.4L183.1 851.19L183.6 851.18L184.1 851.18L184.6 851.17L185.1 851.16L185.6 851.15L186.1 851.14L186.6 851.14L187.1 851.13L187.6 851.12L188.1 851.11L188.6 851.1L189.1 851.1L189.6 851.09L190.1 851.08L190.6 851.07L191.1 851.06L191.6 851.05L192.1 851.05L192.6 851.04L193.1 851.03L193.6 851.02L194.1 851.01L194.6 851.01L195.1 850.97L195.6 850.96L196.1 850.89L196.6 850.81L197.1 850.8L197.6 850.75L198.1 850.67L198.6 850.62L199.1 850.58L199.6 850.51L200.1 850.46L200.6 850.03L201.1 849.48L201.6 849.05L202.1 848.56L202.6 847.95L203.1 847.41L203.6 846.73L204.1 846.45L204.6 845.96L205.1 845.39L205.6 844.66L206.1 844.3L206.6 844.11L207.1 842.58L207.6 841.68L208.1 840.35L208.6 839.52L209.1 838.51L209.6 836.17L210.1 835.68L210.6 833.91L211.1 831.8L211.6 829.33L212.1 826.33L212.6 824.45L213.1 823.12L213.6 820.57L214.1 817.09L214.6 814.22L215.1 812.3L215.6 809.83L216.1 810.31L216.6 809.02L217.1 808.86L217.6 803.17L218.1 805.26L218.6 801.31L219.1 808.58L219.6 802.88L220.1 805.88L220.6 809.18L221.1 816.54L221.6 816.5L222.1 819.16L222.6 822.77L223.1 823.34L223.6 827.34L224.1 831.33L224.6 833.64L225.1 834.9L225.6 838.02L226.1 839.4L226.6 841.79L227.1 842.33L227.6 842.22L228.1 843.73L228.6 844.29L229.1 844.94L229.6 845.35L230.1 845.67L230.6 845.84L231.1 846.51L231.6 846.91L232.1 847.14L232.6 847.1L233.1 847.82L233.6 848.19L234.1 848.07L234.6 848.46L235.1 848.72L235.6 849.03L236.1 849.1L236.6 849.43L237.1 849.58L237.6 849.73L238.1 849.84L238.6 849.99L239.1 850.18L239.6 850.36L240.1 850.45L240.6 850.6L241.1 850.72L241.6 850.88L242.1 851L242.6 851.01L243.1 851.03L243.6 851.04L244.1 851.05L244.6 851.07L245.1 851.08L245.6 851.09L246.1 851.1L246.6 851.12L247.1 851.13L247.6 851.14L248.1 851.15L248.6 851.17L249.1 851.18L249.6 851.19L250.1 851.4L250.6 851.4L250.6 851.4Z" fill="#898989"/>
<line x1="182.4" y1="801.3" x2="182.4" y2="852" stroke="#7a7a7a" stroke-width="1.4"/>
<line x1="182.4" y1="851.4" x2="250.8" y2="851.4" stroke="#999" stroke-width="1.2"/>
<path d="M252.2 851.4L252.2 850.47L252.7 850.45L253.2 850.46L253.7 850.33L254.2 848.62L254.7 850.26L255.2 848.39L255.7 848.01L256.2 850.06L256.7 848.29L257.2 849.94L257.7 848.1L258.2 849.7L258.7 849.53L259.2 849.35L259.7 847.33L260.2 848.8L260.7 845.97L261.2 848.3L261.7 848.46L262.2 848.23L262.7 848.17L263.2 847.89L263.7 847.57L264.2 844.67L264.7 845.44L265.2 847.06L265.7 846.91L266.2 847.08L266.7 843.62L267.2 844.37L267.7 842.56L268.2 843.86L268.7 841.76L269.2 845.43L269.7 845.48L270.2 844.39L270.7 844.89L271.2 843.64L271.7 843.67L272.2 843.3L272.7 839.9L273.2 841.92L273.7 842.11L274.2 836.37L274.7 837.12L275.2 840L275.7 837.88L276.2 838.53L276.7 837.39L277.2 829.52L277.7 836.22L278.2 834.75L278.7 835.32L279.2 833.77L279.7 826.12L280.2 832.12L280.7 825.46L281.2 833.24L281.7 826.84L282.2 825.47L282.7 827.37L283.2 830.45L283.7 829.17L284.2 820.17L284.7 821.97L285.2 826.68L285.7 824.79L286.2 822.73L286.7 822.5L287.2 821.49L287.7 806.92L288.2 804.31L288.7 809.04L289.2 815.92L289.7 801.3L290.2 802.24L290.7 812.11L291.2 801.3L291.7 813.14L292.2 808.29L292.7 806.94L293.2 807.2L293.7 801.3L294.2 803.95L294.7 805.76L295.2 808.46L295.7 810.46L296.2 813.81L296.7 808.6L297.2 817.4L297.7 818.39L298.2 812.75L298.7 824.71L299.2 819.11L299.7 829.53L300.2 830.13L300.7 833.4L301.2 833.48L301.7 835.87L302.2 836.43L302.7 832.12L303.2 838.07L303.7 836.41L304.2 835.32L304.7 836.56L305.2 840.71L305.7 836.63L306.2 838.22L306.7 843.09L307.2 840.21L307.7 842.76L308.2 839.78L308.7 840.67L309.2 844.25L309.7 845L310.2 842.57L310.7 841.41L311.2 845.55L311.7 846.21L312.2 843.69L312.7 847.63L313.2 848.48L313.7 847.36L314.2 848.37L314.7 850.33L315.2 849.14L315.7 851.01L316.2 851.03L316.7 851.05L317.2 851.08L317.7 851.1L318.2 851.12L318.7 851.14L319.2 851.16L319.7 851.19L319.7 851.4Z" fill="#9c9c9c"/>
<path d="M252.2 851.4L252.2 850.47L252.7 850.45L253.2 850.46L253.7 850.33L254.2 850.36L254.7 850.26L255.2 850.11L255.7 850.08L256.2 850.06L256.7 850.1L257.2 849.94L257.7 849.84L258.2 849.7L258.7 849.53L259.2 849.35L259.7 849.09L260.2 848.8L260.7 848.69L261.2 848.3L261.7 848.46L262.2 848.23L262.7 848.17L263.2 847.89L263.7 847.57L264.2 847.82L264.7 847.37L265.2 847.06L265.7 846.91L266.2 847.08L266.7 846.62L267.2 846.67L267.7 846.27L268.2 846.11L268.7 845.45L269.2 845.43L269.7 845.48L270.2 844.39L270.7 844.89L271.2 843.64L271.7 843.67L272.2 843.3L272.7 842.48L273.2 841.92L273.7 842.11L274.2 840.49L274.7 840.02L275.2 840L275.7 837.88L276.2 838.53L276.7 837.39L277.2 836.78L277.7 836.22L278.2 834.75L278.7 835.32L279.2 833.77L279.7 834.16L280.2 832.12L280.7 832.7L281.2 833.24L281.7 833.07L282.2 829.65L282.7 831.13L283.2 830.45L283.7 829.17L284.2 827.87L284.7 827.17L285.2 826.68L285.7 824.79L286.2 822.73L286.7 822.5L287.2 821.49L287.7 820.01L288.2 817.23L288.7 814.54L289.2 815.92L289.7 812.77L290.2 815.89L290.7 812.11L291.2 810.12L291.7 813.14L292.2 808.29L292.7 806.94L293.2 807.2L293.7 805.32L294.2 803.95L294.7 805.76L295.2 808.46L295.7 810.46L296.2 813.81L296.7 814.45L297.2 817.4L297.7 818.39L298.2 821.36L298.7 824.71L299.2 827.5L299.7 829.53L300.2 830.13L300.7 833.4L301.2 833.48L301.7 835.87L302.2 836.43L302.7 837.97L303.2 838.07L303.7 840.44L304.2 840.17L304.7 840.27L305.2 840.71L305.7 842.22L306.2 842.6L306.7 843.09L307.2 843.26L307.7 842.76L308.2 843.61L308.7 843.84L309.2 844.25L309.7 845L310.2 845.27L310.7 845.45L311.2 845.55L311.7 846.21L312.2 846.62L312.7 847.63L313.2 848.48L313.7 849.29L314.2 850.08L314.7 850.33L315.2 850.75L315.7 851.01L316.2 851.03L316.7 851.05L317.2 851.08L317.7 851.1L318.2 851.12L318.7 851.14L319.2 851.16L319.7 851.19L319.7 851.4Z" fill="#898989"/>
<line x1="251.5" y1="801.3" x2="251.5" y2="852" stroke="#7a7a7a" stroke-width="1.4"/>
<line x1="251.5" y1="851.4" x2="320" y2="851.4" stroke="#999" stroke-width="1.2"/>
<path d="M321.5 851.4L321.5 851L322 851L322.5 849.09L323 849.1L323.5 850.57L324 848.49L324.5 850.28L325 850.04L325.5 847.78L326 849.85L326.5 849.67L327 849.45L327.5 849.22L328 849.26L328.5 846.68L329 846.8L329.5 846.4L330 848.94L330.5 848.81L331 846.1L331.5 848.81L332 848.61L332.5 846.01L333 845.98L333.5 848.38L334 848.17L334.5 845.28L335 847.65L335.5 847.33L336 847.6L336.5 844.18L337 844.3L337.5 843.97L338 846.4L338.5 846.35L339 843.34L339.5 845.56L340 846.03L340.5 845.63L341 845.1L341.5 844.76L342 844.72L342.5 844.36L343 843.27L343.5 843.29L344 843.02L344.5 842.55L345 841.67L345.5 841.31L346 837.6L346.5 840.09L347 835.42L347.5 833.89L348 837.38L348.5 830.92L349 836.4L349.5 834.5L350 826.09L350.5 827.9L351 828.16L351.5 830.13L352 828.96L352.5 826.03L353 816.83L353.5 812.28L354 822.54L354.5 821.38L355 813.37L355.5 809.44L356 820.62L356.5 816.66L357 814.47L357.5 817.45L358 803.66L358.5 812.01L359 810.05L359.5 801.3L360 814.53L360.5 810.73L361 804.99L361.5 801.3L362 811.42L362.5 808.2L363 805.11L363.5 801.3L364 809.76L364.5 806.95L365 810.56L365.5 820.26L366 827.23L366.5 830.25L367 834.62L367.5 836.61L368 839.92L368.5 838.7L369 843.47L369.5 842.36L370 845.75L370.5 846.91L371 847.82L371.5 845.87L372 848.25L372.5 845.91L373 848.97L373.5 847.25L374 847.71L374.5 847.67L375 850L375.5 848.32L376 850.2L376.5 850.34L377 848.58L377.5 848.8L378 849.04L378.5 850.68L379 849.12L379.5 849.21L380 851L380.5 851.01L381 851.02L381.5 851.04L382 851.05L382.5 851.06L383 851.08L383.5 851.09L384 851.1L384.5 851.11L385 851.12L385.5 851.14L386 851.15L386.5 851.16L387 851.18L387.5 851.19L388 851.2L388.5 851.4L388.5 851.4Z" fill="#9c9c9c"/>
<path d="M321.5 851.4L321.5 851L322 851L322.5 850.84L323 850.7L323.5 850.57L324 850.43L324.5 850.28L325 850.04L325.5 849.87L326 849.85L326.5 849.67L327 849.45L327.5 849.22L328 849.26L328.5 849.16L329 849.17L329.5 848.84L330 848.94L330.5 848.81L331 848.72L331.5 848.81L332 848.61L332.5 848.4L333 848.42L333.5 848.38L334 848.17L334.5 847.63L335 847.65L335.5 847.33L336 847.6L336.5 846.91L337 846.75L337.5 846.81L338 846.4L338.5 846.35L339 846.15L339.5 845.56L340 846.03L340.5 845.63L341 845.1L341.5 844.76L342 844.72L342.5 844.36L343 843.27L343.5 843.29L344 843.02L344.5 842.55L345 841.67L345.5 841.31L346 840.61L346.5 840.09L347 839.25L347.5 838.2L348 837.38L348.5 835.81L349 836.4L349.5 834.5L350 833.9L350.5 832.79L351 832.13L351.5 830.13L352 828.96L352.5 826.03L353 825.28L353.5 822.48L354 822.54L354.5 821.38L355 821.58L355.5 818.3L356 820.62L356.5 816.66L357 814.47L357.5 817.45L358 812.42L358.5 812.01L359 810.05L359.5 809.76L360 814.53L360.5 810.73L361 812.79L361.5 810.07L362 811.42L362.5 808.2L363 805.11L363.5 807.66L364 809.76L364.5 813.06L365 821.08L365.5 820.26L366 827.23L366.5 830.25L367 834.62L367.5 836.61L368 839.92L368.5 841.42L369 843.47L369.5 844.77L370 845.75L370.5 846.91L371 847.82L371.5 848.31L372 848.25L372.5 848.59L373 848.97L373.5 849.2L374 849.44L374.5 849.61L375 850L375.5 850.12L376 850.2L376.5 850.34L377 850.42L377.5 850.48L378 850.64L378.5 850.68L379 850.78L379.5 850.92L380 851L380.5 851.01L381 851.02L381.5 851.04L382 851.05L382.5 851.06L383 851.08L383.5 851.09L384 851.1L384.5 851.11L385 851.12L385.5 851.14L386 851.15L386.5 851.16L387 851.18L387.5 851.19L388 851.2L388.5 851.4L388.5 851.4Z" fill="#898989"/>
<line x1="320.8" y1="801.3" x2="320.8" y2="852" stroke="#7a7a7a" stroke-width="1.4"/>
<line x1="320.8" y1="851.4" x2="388.8" y2="851.4" stroke="#999" stroke-width="1.2"/>
<path d="M113.7 905.5L113.7 896.86L114.2 894.28L114.7 895.63L115.2 897.53L115.7 893.74L116.2 894.82L116.7 894.52L117.2 889.51L117.7 891.47L118.2 891.21L118.7 888.61L119.2 881.02L119.7 879.43L120.2 884.52L120.7 882.82L121.2 875.22L121.7 874.44L122.2 870.83L122.7 876.2L123.2 863.58L123.7 871.32L124.2 866.9L124.7 865.06L125.2 860.73L125.7 859.53L126.2 862.97L126.7 856L127.2 856.49L127.7 865.9L128.2 871.1L128.7 873.06L129.2 879L129.7 878.57L130.2 876.21L130.7 871.73L131.2 885.66L131.7 888.43L132.2 884.67L132.7 892.81L133.2 895.48L133.7 897.7L134.2 899.59L134.7 901.26L135.2 902.7L135.7 901.81L136.2 904.53L136.7 904.67L137.2 904.91L137.7 903.44L138.2 905.2L138.7 905.2L139.2 905.21L139.7 905.21L140.2 905.21L140.7 905.21L141.2 905.21L141.7 905.22L142.2 905.22L142.7 905.22L143.2 905.22L143.7 905.23L144.2 905.23L144.7 905.23L145.2 905.23L145.7 905.24L146.2 905.24L146.7 905.24L147.2 905.24L147.7 905.25L148.2 905.25L148.7 905.25L149.2 905.25L149.7 905.25L150.2 905.26L150.7 905.26L151.2 905.26L151.7 905.26L152.2 905.27L152.7 905.27L153.2 905.27L153.7 905.27L154.2 905.28L154.7 905.28L155.2 905.28L155.7 905.28L156.2 905.28L156.7 905.29L157.2 905.29L157.7 905.29L158.2 905.29L158.7 905.3L159.2 905.3L159.7 905.3L160.2 905.3L160.7 905.31L161.2 905.31L161.7 905.31L162.2 905.31L162.7 905.31L163.2 905.32L163.7 905.32L164.2 905.32L164.7 905.32L165.2 905.33L165.7 905.33L166.2 905.33L166.7 905.33L167.2 905.34L167.7 905.34L168.2 905.34L168.7 905.34L169.2 905.35L169.7 905.35L170.2 905.35L170.7 905.35L171.2 905.35L171.7 905.36L172.2 905.36L172.7 905.36L173.2 905.36L173.7 905.37L174.2 905.37L174.7 905.37L175.2 905.37L175.7 905.38L176.2 905.38L176.7 905.38L177.2 905.38L177.7 905.38L178.2 905.39L178.7 905.39L179.2 905.39L179.7 905.39L180.2 905.4L180.7 905.4L181.2 905.5L181.2 905.5Z" fill="#9c9c9c"/>
<path d="M113.7 905.5L113.7 896.86L114.2 898.14L114.7 898.38L115.2 897.53L115.7 896.41L116.2 894.82L116.7 894.52L117.2 892.53L117.7 891.47L118.2 891.21L118.7 888.61L119.2 887.85L119.7 886.17L120.2 884.52L120.7 882.82L121.2 880.82L121.7 879.68L122.2 875.53L122.7 876.2L123.2 872.31L123.7 871.32L124.2 866.9L124.7 865.06L125.2 860.73L125.7 859.53L126.2 862.97L126.7 866.88L127.2 867.77L127.7 865.9L128.2 871.1L128.7 873.06L129.2 879L129.7 878.57L130.2 881.83L130.7 882.62L131.2 885.66L131.7 888.43L132.2 890.46L132.7 892.81L133.2 895.48L133.7 897.7L134.2 899.59L134.7 901.26L135.2 902.7L135.7 903.67L136.2 904.53L136.7 904.67L137.2 904.91L137.7 905.06L138.2 905.2L138.7 905.2L139.2 905.21L139.7 905.21L140.2 905.21L140.7 905.21L141.2 905.21L141.7 905.22L142.2 905.22L142.7 905.22L143.2 905.22L143.7 905.23L144.2 905.23L144.7 905.23L145.2 905.23L145.7 905.24L146.2 905.24L146.7 905.24L147.2 905.24L147.7 905.25L148.2 905.25L148.7 905.25L149.2 905.25L149.7 905.25L150.2 905.26L150.7 905.26L151.2 905.26L151.7 905.26L152.2 905.27L152.7 905.27L153.2 905.27L153.7 905.27L154.2 905.28L154.7 905.28L155.2 905.28L155.7 905.28L156.2 905.28L156.7 905.29L157.2 905.29L157.7 905.29L158.2 905.29L158.7 905.3L159.2 905.3L159.7 905.3L160.2 905.3L160.7 905.31L161.2 905.31L161.7 905.31L162.2 905.31L162.7 905.31L163.2 905.32L163.7 905.32L164.2 905.32L164.7 905.32L165.2 905.33L165.7 905.33L166.2 905.33L166.7 905.33L167.2 905.34L167.7 905.34L168.2 905.34L168.7 905.34L169.2 905.35L169.7 905.35L170.2 905.35L170.7 905.35L171.2 905.35L171.7 905.36L172.2 905.36L172.7 905.36L173.2 905.36L173.7 905.37L174.2 905.37L174.7 905.37L175.2 905.37L175.7 905.38L176.2 905.38L176.7 905.38L177.2 905.38L177.7 905.38L178.2 905.39L178.7 905.39L179.2 905.39L179.7 905.39L180.2 905.4L180.7 905.4L181.2 905.5L181.2 905.5Z" fill="#898989"/>
<line x1="113" y1="856" x2="113" y2="906.1" stroke="#7a7a7a" stroke-width="1.4"/>
<line x1="113" y1="905.5" x2="181.4" y2="905.5" stroke="#999" stroke-width="1.2"/>
<path d="M183.1 905.5L183.1 905.28L183.6 905.26L184.1 905.25L184.6 905.23L185.1 905.22L185.6 905.2L186.1 905.18L186.6 905.17L187.1 905.15L187.6 905.14L188.1 905.12L188.6 905.11L189.1 903.41L189.6 903.46L190.1 903.38L190.6 905.03L191.1 905.03L191.6 905.03L192.1 904.96L192.6 904.83L193.1 904.75L193.6 902.76L194.1 902.67L194.6 903.99L195.1 903.62L195.6 900.4L196.1 902.54L196.6 901.98L197.1 901.22L197.6 898.21L198.1 900.15L198.6 897.01L199.1 898.94L199.6 893.95L200.1 896.11L200.6 890.49L201.1 893.86L201.6 885.14L202.1 891.4L202.6 884.51L203.1 888.1L203.6 880L204.1 875.89L204.6 881.17L205.1 876.16L205.6 876.14L206.1 876.26L206.6 865.77L207.1 856.03L207.6 867.46L208.1 856L208.6 864.44L209.1 864.03L209.6 856L210.1 858.69L210.6 856L211.1 860.43L211.6 861.07L212.1 856L212.6 859.58L213.1 867.24L213.6 870.18L214.1 872.25L214.6 875.09L215.1 867.46L215.6 868.32L216.1 874.82L216.6 884.73L217.1 887.51L217.6 889.89L218.1 887.72L218.6 887.3L219.1 891.19L219.6 893.94L220.1 899.61L220.6 899.03L221.1 902.6L221.6 903.96L222.1 904.42L222.6 904.78L223.1 905.1L223.6 905.11L224.1 905.11L224.6 905.12L225.1 905.12L225.6 905.13L226.1 905.13L226.6 905.14L227.1 905.15L227.6 905.15L228.1 905.16L228.6 905.16L229.1 905.17L229.6 905.17L230.1 905.18L230.6 905.18L231.1 905.19L231.6 905.2L232.1 905.2L232.6 905.21L233.1 905.21L233.6 905.22L234.1 905.22L234.6 905.23L235.1 905.23L235.6 905.24L236.1 905.25L236.6 905.25L237.1 905.26L237.6 905.26L238.1 905.27L238.6 905.27L239.1 905.28L239.6 905.28L240.1 905.29L240.6 905.3L241.1 905.3L241.6 905.31L242.1 905.31L242.6 905.32L243.1 905.32L243.6 905.33L244.1 905.33L244.6 905.34L245.1 905.35L245.6 905.35L246.1 905.36L246.6 905.36L247.1 905.37L247.6 905.37L248.1 905.38L248.6 905.38L249.1 905.39L249.6 905.4L250.1 905.5L250.6 905.5L250.6 905.5Z" fill="#9c9c9c"/>
<path d="M183.1 905.5L183.1 905.28L183.6 905.26L184.1 905.25L184.6 905.23L185.1 905.22L185.6 905.2L186.1 905.18L186.6 905.17L187.1 905.15L187.6 905.14L188.1 905.12L188.6 905.11L189.1 905.1L189.6 905.11L190.1 905.03L190.6 905.03L191.1 905.03L191.6 905.03L192.1 904.96L192.6 904.83L193.1 904.75L193.6 904.59L194.1 904.4L194.6 903.99L195.1 903.62L195.6 902.91L196.1 902.54L196.6 901.98L197.1 901.22L197.6 901.38L198.1 900.15L198.6 899.43L199.1 898.94L199.6 897.62L200.1 896.11L200.6 895.27L201.1 893.86L201.6 891.61L202.1 891.4L202.6 888.71L203.1 888.1L203.6 886.06L204.1 882.95L204.6 881.17L205.1 876.16L205.6 876.14L206.1 876.26L206.6 873.09L207.1 871.03L207.6 867.46L208.1 866.72L208.6 864.44L209.1 864.03L209.6 858.54L210.1 858.69L210.6 859.94L211.1 860.43L211.6 861.07L212.1 866.45L212.6 865.8L213.1 867.24L213.6 870.18L214.1 872.25L214.6 875.09L215.1 876.75L215.6 879.53L216.1 883.9L216.6 884.73L217.1 887.51L217.6 889.89L218.1 891.35L218.6 894.01L219.1 895.81L219.6 897.06L220.1 899.61L220.6 901.38L221.1 902.6L221.6 903.96L222.1 904.42L222.6 904.78L223.1 905.1L223.6 905.11L224.1 905.11L224.6 905.12L225.1 905.12L225.6 905.13L226.1 905.13L226.6 905.14L227.1 905.15L227.6 905.15L228.1 905.16L228.6 905.16L229.1 905.17L229.6 905.17L230.1 905.18L230.6 905.18L231.1 905.19L231.6 905.2L232.1 905.2L232.6 905.21L233.1 905.21L233.6 905.22L234.1 905.22L234.6 905.23L235.1 905.23L235.6 905.24L236.1 905.25L236.6 905.25L237.1 905.26L237.6 905.26L238.1 905.27L238.6 905.27L239.1 905.28L239.6 905.28L240.1 905.29L240.6 905.3L241.1 905.3L241.6 905.31L242.1 905.31L242.6 905.32L243.1 905.32L243.6 905.33L244.1 905.33L244.6 905.34L245.1 905.35L245.6 905.35L246.1 905.36L246.6 905.36L247.1 905.37L247.6 905.37L248.1 905.38L248.6 905.38L249.1 905.39L249.6 905.4L250.1 905.5L250.6 905.5L250.6 905.5Z" fill="#898989"/>
<line x1="182.4" y1="856" x2="182.4" y2="906.1" stroke="#7a7a7a" stroke-width="1.4"/>
<line x1="182.4" y1="905.5" x2="250.8" y2="905.5" stroke="#999" stroke-width="1.2"/>
<path d="M252.2 905.5L252.2 905.28L252.7 905.24L253.2 905.2L253.7 905.16L254.2 905.12L254.7 905.11L255.2 903.33L255.7 905.01L256.2 903.36L256.7 903.26L257.2 904.87L257.7 904.89L258.2 904.81L258.7 904.75L259.2 902.86L259.7 904.69L260.2 904.66L260.7 904.6L261.2 902.77L261.7 904.54L262.2 902.76L262.7 904.24L263.2 904.12L263.7 903.97L264.2 903.7L264.7 901.69L265.2 903.32L265.7 903.15L266.2 903.1L266.7 900.77L267.2 900.23L267.7 902.11L268.2 899.73L268.7 897.79L269.2 900.24L269.7 896.62L270.2 898.78L270.7 892.87L271.2 892.34L271.7 896.32L272.2 893.89L272.7 886.28L273.2 886.9L273.7 881.5L274.2 877.5L274.7 883.5L275.2 870.6L275.7 868.31L276.2 870.14L276.7 863.53L277.2 871.76L277.7 856L278.2 858.89L278.7 863.7L279.2 863.45L279.7 856L280.2 856L280.7 858.88L281.2 861.37L281.7 860.63L282.2 863.86L282.7 856L283.2 856L283.7 870.46L284.2 871.35L284.7 869.48L285.2 866.52L285.7 879.59L286.2 881.13L286.7 872.74L287.2 886.79L287.7 886.95L288.2 889.27L288.7 890.29L289.2 886.45L289.7 887.82L290.2 893.52L290.7 893.09L291.2 898.24L291.7 899.02L292.2 896.47L292.7 896.58L293.2 900.97L293.7 901.89L294.2 900L294.7 901.04L295.2 903.35L295.7 903.46L296.2 903.75L296.7 904.04L297.2 904.35L297.7 904.61L298.2 903.17L298.7 904.95L299.2 905.1L299.7 905.22L300.2 905.3L300.7 905.3L301.2 905.31L301.7 905.31L302.2 905.31L302.7 905.31L303.2 905.32L303.7 905.32L304.2 905.32L304.7 905.33L305.2 905.33L305.7 905.33L306.2 905.33L306.7 905.34L307.2 905.34L307.7 905.34L308.2 905.35L308.7 905.35L309.2 905.35L309.7 905.35L310.2 905.36L310.7 905.36L311.2 905.36L311.7 905.37L312.2 905.37L312.7 905.37L313.2 905.37L313.7 905.38L314.2 905.38L314.7 905.38L315.2 905.38L315.7 905.39L316.2 905.39L316.7 905.39L317.2 905.4L317.7 905.4L317.7 905.5Z" fill="#9c9c9c"/>
<path d="M252.2 905.5L252.2 905.28L252.7 905.24L253.2 905.2L253.7 905.16L254.2 905.12L254.7 905.11L255.2 905.01L255.7 905.01L256.2 904.97L256.7 904.95L257.2 904.87L257.7 904.89L258.2 904.81L258.7 904.75L259.2 904.7L259.7 904.69L260.2 904.66L260.7 904.6L261.2 904.54L261.7 904.54L262.2 904.43L262.7 904.24L263.2 904.12L263.7 903.97L264.2 903.7L264.7 903.42L265.2 903.32L265.7 903.15L266.2 903.1L266.7 902.61L267.2 902.15L267.7 902.11L268.2 901.83L268.7 900.68L269.2 900.24L269.7 899.76L270.2 898.78L270.7 897.84L271.2 897.05L271.7 896.32L272.2 893.89L272.7 892.56L273.2 890.52L273.7 887.87L274.2 886.89L274.7 883.5L275.2 878.17L275.7 876.14L276.2 875.65L276.7 874.58L277.2 871.76L277.7 867.5L278.2 866.63L278.7 863.7L279.2 863.45L279.7 861.33L280.2 858.36L280.7 858.88L281.2 861.37L281.7 860.63L282.2 863.86L282.7 866.69L283.2 866.3L283.7 870.46L284.2 871.35L284.7 875.09L285.2 876.68L285.7 879.59L286.2 881.13L286.7 883.56L287.2 886.79L287.7 886.95L288.2 889.27L288.7 890.29L289.2 892.31L289.7 894.25L290.2 896.29L290.7 896.62L291.2 898.24L291.7 899.02L292.2 899.28L292.7 900.18L293.2 900.97L293.7 901.89L294.2 902.32L294.7 902.99L295.2 903.35L295.7 903.46L296.2 903.75L296.7 904.04L297.2 904.35L297.7 904.61L298.2 904.84L298.7 904.95L299.2 905.1L299.7 905.22L300.2 905.3L300.7 905.3L301.2 905.31L301.7 905.31L302.2 905.31L302.7 905.31L303.2 905.32L303.7 905.32L304.2 905.32L304.7 905.33L305.2 905.33L305.7 905.33L306.2 905.33L306.7 905.34L307.2 905.34L307.7 905.34L308.2 905.35L308.7 905.35L309.2 905.35L309.7 905.35L310.2 905.36L310.7 905.36L311.2 905.36L311.7 905.37L312.2 905.37L312.7 905.37L313.2 905.37L313.7 905.38L314.2 905.38L314.7 905.38L315.2 905.38L315.7 905.39L316.2 905.39L316.7 905.39L317.2 905.4L317.7 905.4L317.7 905.5Z" fill="#898989"/>
<line x1="251.5" y1="856" x2="251.5" y2="906.1" stroke="#7a7a7a" stroke-width="1.4"/>
<line x1="251.5" y1="905.5" x2="317.8" y2="905.5" stroke="#999" stroke-width="1.2"/>
<path d="M321.5 905.5L321.5 905.28L322 905.26L322.5 905.24L323 905.21L323.5 905.19L324 905.17L324.5 905.15L325 905.13L325.5 905.11L326 903.46L326.5 903.41L327 905.04L327.5 905.03L328 905.03L328.5 904.94L329 904.75L329.5 902.86L330 904.56L330.5 904.43L331 904.3L331.5 902.19L332 902.48L332.5 901.98L333 904.01L333.5 903.8L334 903.57L334.5 901.12L335 903.37L335.5 901.29L336 901.05L336.5 899.15L337 900.77L337.5 896.14L338 898.3L338.5 894.02L339 887.98L339.5 884.89L340 889.93L340.5 888.67L341 881.59L341.5 872.98L342 882.44L342.5 877.53L343 876.12L343.5 866.55L344 870.39L344.5 859.5L345 858.33L345.5 862.81L346 862.73L346.5 861.7L347 858.99L347.5 856L348 856L348.5 861.66L349 860.45L349.5 863.33L350 866.5L350.5 866.49L351 861.58L351.5 860.11L352 857.5L352.5 872.18L353 873.82L353.5 862.58L354 874.61L354.5 876.7L355 877.23L355.5 872.56L356 872.83L356.5 876.33L357 883.19L357.5 884.33L358 878.18L358.5 881.81L359 889.25L359.5 887.78L360 888.11L360.5 890.03L361 891.28L361.5 897.17L362 898.28L362.5 899.71L363 900.82L363.5 900.05L364 902.8L364.5 903.44L365 902.05L365.5 904.53L366 905.01L366.5 903.43L367 903.39L367.5 905.05L368 905.06L368.5 905.06L369 903.46L369.5 905.1L370 905.11L370.5 905.13L371 905.14L371.5 905.16L372 905.17L372.5 905.19L373 905.2L373.5 905.21L374 905.23L374.5 905.24L375 905.26L375.5 905.27L376 905.29L376.5 905.3L377 905.31L377.5 905.33L378 905.34L378.5 905.36L379 905.37L379.5 905.39L380 905.4L380 905.5Z" fill="#9c9c9c"/>
<path d="M321.5 905.5L321.5 905.28L322 905.26L322.5 905.24L323 905.21L323.5 905.19L324 905.17L324.5 905.15L325 905.13L325.5 905.11L326 905.09L326.5 905.08L327 905.04L327.5 905.03L328 905.03L328.5 904.94L329 904.75L329.5 904.72L330 904.56L330.5 904.43L331 904.3L331.5 904.24L332 904.14L332.5 903.94L333 904.01L333.5 903.8L334 903.57L334.5 903.49L335 903.37L335.5 903.08L336 903.15L336.5 901.99L337 900.77L337.5 899.78L338 898.3L338.5 896.72L339 894.34L339.5 891.96L340 889.93L340.5 888.67L341 885.39L341.5 881.42L342 882.44L342.5 877.53L343 876.12L343.5 871.64L344 870.39L344.5 867.04L345 864.08L345.5 862.81L346 862.73L346.5 861.7L347 858.99L347.5 861.82L348 858.4L348.5 861.66L349 860.45L349.5 863.33L350 866.5L350.5 866.49L351 867.66L351.5 870.41L352 872.5L352.5 872.18L353 873.82L353.5 874.84L354 874.61L354.5 876.7L355 877.23L355.5 881.25L356 878.43L356.5 880.37L357 883.19L357.5 884.33L358 886.72L358.5 888.92L359 889.25L359.5 891.91L360 893.34L360.5 894.85L361 896.07L361.5 897.17L362 898.28L362.5 899.71L363 900.82L363.5 901.91L364 902.8L364.5 903.44L365 903.9L365.5 904.53L366 905.01L366.5 905.04L367 905L367.5 905.05L368 905.06L368.5 905.06L369 905.1L369.5 905.1L370 905.11L370.5 905.13L371 905.14L371.5 905.16L372 905.17L372.5 905.19L373 905.2L373.5 905.21L374 905.23L374.5 905.24L375 905.26L375.5 905.27L376 905.29L376.5 905.3L377 905.31L377.5 905.33L378 905.34L378.5 905.36L379 905.37L379.5 905.39L380 905.4L380 905.5Z" fill="#898989"/>
<line x1="320.8" y1="856" x2="320.8" y2="906.1" stroke="#7a7a7a" stroke-width="1.4"/>
<line x1="320.8" y1="905.5" x2="380.1" y2="905.5" stroke="#999" stroke-width="1.2"/>
</svg>
</body></html>
